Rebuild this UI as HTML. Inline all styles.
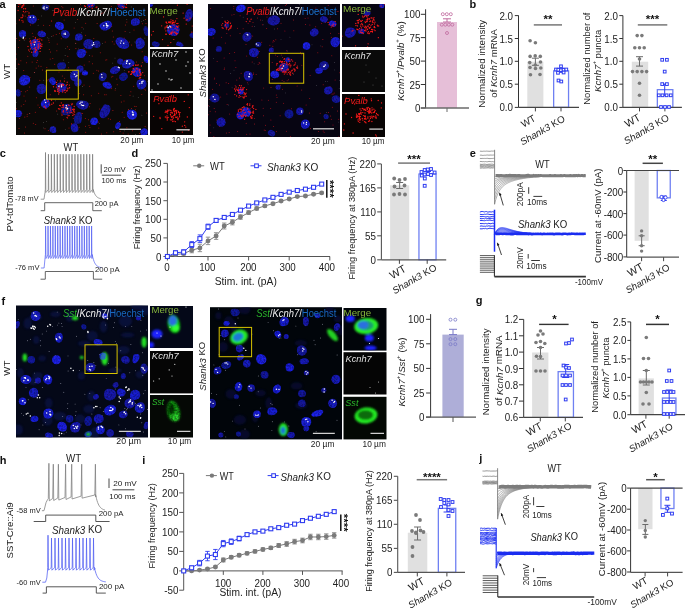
<!DOCTYPE html><html><head><meta charset="utf-8"><style>html,body{margin:0;padding:0;background:#fff;overflow:hidden}svg{display:block;will-change:transform}text{font-family:"Liberation Sans",sans-serif}</style></head><body>
<svg width="685" height="608" viewBox="0 0 685 608">
<defs><filter id="bl" x="-50%" y="-50%" width="200%" height="200%"><feGaussianBlur stdDeviation="0.7"/></filter><filter id="bl2" x="-50%" y="-50%" width="200%" height="200%"><feGaussianBlur stdDeviation="1.2"/></filter><filter id="bls" x="-50%" y="-50%" width="200%" height="200%"><feGaussianBlur stdDeviation="0.35"/></filter><filter id="tex" x="-10%" y="-10%" width="120%" height="120%"><feGaussianBlur in="SourceGraphic" stdDeviation="0.75" result="b"/><feTurbulence type="fractalNoise" baseFrequency="0.55" numOctaves="2" seed="4" result="n"/><feColorMatrix in="n" type="matrix" values="0 0 0 0 1 0 0 0 0 1 0 0 0 0 1 0 0 0 2.2 -0.55" result="na"/><feComposite in="b" in2="na" operator="in" result="c"/><feComposite in="c" in2="b" operator="arithmetic" k1="0" k2="0.4" k3="0.6" k4="0"/></filter><filter id="gtex" x="-20%" y="-20%" width="140%" height="140%"><feGaussianBlur in="SourceGraphic" stdDeviation="1.1" result="b"/><feTurbulence type="fractalNoise" baseFrequency="0.6" numOctaves="2" seed="9" result="n"/><feColorMatrix in="n" type="matrix" values="0 0 0 0 1 0 0 0 0 1 0 0 0 0 1 0 0 0 2.0 -0.45" result="na"/><feComposite in="b" in2="na" operator="in" result="c"/><feComposite in="c" in2="b" operator="arithmetic" k1="0" k2="0.5" k3="0.5" k4="0"/></filter></defs>
<rect width="685" height="608" fill="#fff"/>
<clipPath id="c1"><rect x="16" y="4" width="132" height="131"/></clipPath>
<rect x="16.00" y="4.00" width="132.00" height="131.00" fill="#0b0908" stroke="none" stroke-width="0" />
<g clip-path="url(#c1)">
<g fill="#d01818" opacity="0.85" filter="url(#bls)">
<circle cx="58.7" cy="23.8" r="0.5"/>
<circle cx="101.9" cy="13.5" r="0.5"/>
<circle cx="86.7" cy="51.9" r="0.5"/>
<circle cx="23.7" cy="70.5" r="0.5"/>
<circle cx="20.9" cy="60.8" r="0.5"/>
<circle cx="25.2" cy="15.9" r="0.5"/>
<circle cx="72.0" cy="112.3" r="0.5"/>
<circle cx="32.3" cy="33.2" r="0.5"/>
<circle cx="98.8" cy="128.1" r="0.5"/>
<circle cx="92.2" cy="56.0" r="0.5"/>
<circle cx="144.9" cy="10.1" r="0.5"/>
<circle cx="129.3" cy="41.9" r="0.5"/>
<circle cx="35.0" cy="19.4" r="0.5"/>
<circle cx="56.7" cy="110.9" r="0.5"/>
<circle cx="39.9" cy="80.2" r="0.5"/>
<circle cx="100.3" cy="52.8" r="0.5"/>
<circle cx="88.3" cy="12.2" r="0.5"/>
<circle cx="23.9" cy="31.0" r="0.5"/>
<circle cx="105.8" cy="60.0" r="0.5"/>
<circle cx="57.5" cy="80.7" r="0.5"/>
<circle cx="75.8" cy="43.3" r="0.5"/>
<circle cx="120.9" cy="95.6" r="0.5"/>
<circle cx="48.2" cy="79.2" r="0.5"/>
<circle cx="85.3" cy="118.6" r="0.5"/>
<circle cx="112.3" cy="41.7" r="0.5"/>
<circle cx="145.4" cy="19.5" r="0.5"/>
<circle cx="71.2" cy="103.2" r="0.5"/>
<circle cx="36.1" cy="68.1" r="0.5"/>
<circle cx="21.2" cy="91.5" r="0.5"/>
<circle cx="116.9" cy="79.1" r="0.5"/>
<circle cx="131.6" cy="45.1" r="0.5"/>
<circle cx="107.8" cy="81.9" r="0.5"/>
<circle cx="92.5" cy="63.8" r="0.5"/>
<circle cx="126.9" cy="127.8" r="0.5"/>
<circle cx="78.6" cy="91.0" r="0.5"/>
<circle cx="24.0" cy="95.9" r="0.5"/>
<circle cx="101.4" cy="134.1" r="0.5"/>
<circle cx="124.5" cy="41.3" r="0.5"/>
<circle cx="66.9" cy="91.6" r="0.5"/>
<circle cx="19.0" cy="64.5" r="0.5"/>
<circle cx="38.2" cy="19.3" r="0.5"/>
<circle cx="23.8" cy="104.6" r="0.5"/>
<circle cx="33.1" cy="36.4" r="0.5"/>
<circle cx="67.6" cy="118.2" r="0.5"/>
<circle cx="26.6" cy="62.8" r="0.5"/>
<circle cx="88.5" cy="119.7" r="0.5"/>
<circle cx="124.1" cy="117.2" r="0.5"/>
<circle cx="52.8" cy="58.4" r="0.5"/>
<circle cx="63.4" cy="119.8" r="0.5"/>
<circle cx="142.4" cy="23.8" r="0.5"/>
<circle cx="39.3" cy="34.4" r="0.5"/>
<circle cx="46.8" cy="67.5" r="0.5"/>
<circle cx="93.8" cy="38.4" r="0.5"/>
<circle cx="16.5" cy="58.9" r="0.5"/>
<circle cx="64.7" cy="78.2" r="0.5"/>
<circle cx="141.8" cy="94.5" r="0.5"/>
<circle cx="84.0" cy="84.9" r="0.5"/>
<circle cx="105.3" cy="11.1" r="0.5"/>
<circle cx="134.7" cy="106.2" r="0.5"/>
<circle cx="131.4" cy="108.5" r="0.5"/>
<circle cx="67.8" cy="56.3" r="0.5"/>
<circle cx="29.7" cy="87.1" r="0.5"/>
<circle cx="24.2" cy="12.8" r="0.5"/>
<circle cx="43.6" cy="25.3" r="0.5"/>
<circle cx="60.9" cy="10.9" r="0.5"/>
<circle cx="16.0" cy="23.8" r="0.5"/>
<circle cx="29.4" cy="51.6" r="0.5"/>
<circle cx="19.4" cy="118.5" r="0.5"/>
<circle cx="97.1" cy="23.5" r="0.5"/>
<circle cx="49.3" cy="49.5" r="0.5"/>
<circle cx="64.1" cy="20.1" r="0.5"/>
<circle cx="128.1" cy="134.1" r="0.5"/>
<circle cx="77.5" cy="67.4" r="0.5"/>
<circle cx="27.3" cy="17.4" r="0.5"/>
<circle cx="61.2" cy="38.7" r="0.5"/>
<circle cx="125.4" cy="25.1" r="0.5"/>
<circle cx="19.0" cy="128.6" r="0.5"/>
<circle cx="85.7" cy="23.2" r="0.5"/>
<circle cx="87.7" cy="7.5" r="0.5"/>
<circle cx="85.7" cy="132.2" r="0.5"/>
<circle cx="130.0" cy="95.2" r="0.5"/>
<circle cx="50.5" cy="52.0" r="0.5"/>
<circle cx="38.0" cy="105.1" r="0.5"/>
<circle cx="86.3" cy="106.1" r="0.5"/>
<circle cx="59.5" cy="33.2" r="0.5"/>
<circle cx="123.1" cy="133.0" r="0.5"/>
<circle cx="128.5" cy="109.6" r="0.5"/>
<circle cx="124.0" cy="100.9" r="0.5"/>
<circle cx="45.9" cy="71.8" r="0.5"/>
<circle cx="62.9" cy="7.8" r="0.5"/>
<circle cx="19.7" cy="40.6" r="0.5"/>
<circle cx="50.2" cy="94.7" r="0.5"/>
<circle cx="142.3" cy="62.6" r="0.5"/>
<circle cx="139.7" cy="133.4" r="0.5"/>
<circle cx="142.1" cy="51.8" r="0.5"/>
<circle cx="45.1" cy="33.7" r="0.5"/>
<circle cx="42.0" cy="30.8" r="0.5"/>
<circle cx="98.4" cy="121.9" r="0.5"/>
<circle cx="126.9" cy="66.8" r="0.5"/>
<circle cx="102.2" cy="108.8" r="0.5"/>
<circle cx="27.2" cy="90.5" r="0.5"/>
<circle cx="136.1" cy="106.5" r="0.5"/>
<circle cx="115.0" cy="66.6" r="0.5"/>
<circle cx="39.6" cy="107.4" r="0.5"/>
<circle cx="59.9" cy="108.9" r="0.5"/>
<circle cx="144.3" cy="55.9" r="0.5"/>
<circle cx="69.0" cy="128.0" r="0.5"/>
<circle cx="111.7" cy="26.3" r="0.5"/>
<circle cx="32.8" cy="23.8" r="0.5"/>
<circle cx="135.4" cy="109.7" r="0.5"/>
<circle cx="35.3" cy="112.3" r="0.5"/>
<circle cx="145.4" cy="90.1" r="0.5"/>
<circle cx="62.3" cy="75.9" r="0.5"/>
<circle cx="33.3" cy="5.9" r="0.5"/>
<circle cx="144.2" cy="89.1" r="0.5"/>
<circle cx="85.5" cy="126.3" r="0.5"/>
<circle cx="73.3" cy="118.2" r="0.5"/>
<circle cx="125.1" cy="31.6" r="0.5"/>
<circle cx="49.2" cy="42.4" r="0.5"/>
<circle cx="47.8" cy="80.8" r="0.5"/>
<circle cx="50.2" cy="58.9" r="0.5"/>
<circle cx="33.3" cy="123.2" r="0.5"/>
<circle cx="62.7" cy="64.0" r="0.5"/>
<circle cx="93.0" cy="122.5" r="0.5"/>
<circle cx="71.5" cy="124.2" r="0.5"/>
<circle cx="82.2" cy="73.7" r="0.5"/>
<circle cx="85.1" cy="6.5" r="0.5"/>
<circle cx="74.1" cy="28.0" r="0.5"/>
<circle cx="16.5" cy="108.7" r="0.5"/>
<circle cx="38.7" cy="66.0" r="0.5"/>
<circle cx="111.7" cy="76.9" r="0.5"/>
<circle cx="59.0" cy="71.9" r="0.5"/>
<circle cx="89.3" cy="106.7" r="0.5"/>
<circle cx="30.0" cy="77.4" r="0.5"/>
<circle cx="48.8" cy="40.3" r="0.5"/>
<circle cx="117.9" cy="70.5" r="0.5"/>
<circle cx="90.1" cy="103.6" r="0.5"/>
<circle cx="136.4" cy="62.1" r="0.5"/>
<circle cx="96.9" cy="70.2" r="0.5"/>
<circle cx="83.6" cy="94.7" r="0.5"/>
<circle cx="75.7" cy="73.9" r="0.5"/>
<circle cx="79.1" cy="127.3" r="0.5"/>
<circle cx="108.3" cy="118.8" r="0.5"/>
<circle cx="140.4" cy="38.0" r="0.5"/>
<circle cx="89.9" cy="127.6" r="0.5"/>
<circle cx="126.9" cy="22.0" r="0.5"/>
<circle cx="32.1" cy="61.9" r="0.5"/>
<circle cx="25.6" cy="35.5" r="0.5"/>
<circle cx="25.7" cy="91.7" r="0.5"/>
<circle cx="119.5" cy="121.5" r="0.5"/>
<circle cx="36.4" cy="97.8" r="0.5"/>
<circle cx="103.2" cy="22.7" r="0.5"/>
<circle cx="132.5" cy="130.7" r="0.5"/>
<circle cx="45.0" cy="128.8" r="0.5"/>
<circle cx="68.6" cy="67.8" r="0.5"/>
<circle cx="146.7" cy="113.1" r="0.5"/>
<circle cx="37.3" cy="60.5" r="0.5"/>
<circle cx="84.1" cy="48.4" r="0.5"/>
<circle cx="41.8" cy="45.7" r="0.5"/>
<circle cx="111.3" cy="6.6" r="0.5"/>
<circle cx="89.1" cy="61.7" r="0.5"/>
<circle cx="18.4" cy="47.4" r="0.5"/>
<circle cx="98.4" cy="71.1" r="0.5"/>
<circle cx="24.5" cy="133.0" r="0.5"/>
<circle cx="120.1" cy="131.3" r="0.5"/>
<circle cx="29.8" cy="38.8" r="0.5"/>
<circle cx="21.2" cy="106.0" r="0.5"/>
<circle cx="51.7" cy="21.0" r="0.5"/>
<circle cx="71.7" cy="123.4" r="0.5"/>
<circle cx="124.1" cy="37.9" r="0.5"/>
<circle cx="35.7" cy="124.4" r="0.5"/>
<circle cx="91.3" cy="95.8" r="0.5"/>
<circle cx="27.8" cy="11.5" r="0.5"/>
<circle cx="106.8" cy="59.7" r="0.5"/>
<circle cx="25.6" cy="126.9" r="0.5"/>
<circle cx="99.7" cy="109.0" r="0.5"/>
<circle cx="27.1" cy="116.2" r="0.5"/>
<circle cx="24.8" cy="117.0" r="0.5"/>
<circle cx="75.9" cy="48.4" r="0.5"/>
<circle cx="89.0" cy="125.4" r="0.5"/>
<circle cx="51.4" cy="20.9" r="0.5"/>
<circle cx="85.6" cy="35.2" r="0.5"/>
<circle cx="30.4" cy="25.1" r="0.5"/>
<circle cx="22.7" cy="30.4" r="0.5"/>
<circle cx="57.2" cy="44.0" r="0.5"/>
<circle cx="116.3" cy="42.0" r="0.5"/>
<circle cx="82.0" cy="27.3" r="0.5"/>
<circle cx="61.8" cy="6.4" r="0.5"/>
<circle cx="49.1" cy="6.0" r="0.5"/>
<circle cx="112.8" cy="76.2" r="0.5"/>
<circle cx="41.0" cy="66.2" r="0.5"/>
<circle cx="139.4" cy="17.9" r="0.5"/>
<circle cx="124.1" cy="60.6" r="0.5"/>
<circle cx="81.3" cy="113.3" r="0.5"/>
<circle cx="67.9" cy="70.4" r="0.5"/>
<circle cx="106.8" cy="132.7" r="0.5"/>
<circle cx="61.2" cy="113.0" r="0.5"/>
<circle cx="109.3" cy="87.3" r="0.5"/>
<circle cx="69.4" cy="49.5" r="0.5"/>
<circle cx="23.2" cy="21.0" r="0.5"/>
<circle cx="25.3" cy="101.1" r="0.5"/>
<circle cx="49.7" cy="25.4" r="0.5"/>
<circle cx="27.2" cy="114.2" r="0.5"/>
<circle cx="130.9" cy="91.8" r="0.5"/>
<circle cx="53.2" cy="35.7" r="0.5"/>
<circle cx="54.7" cy="64.2" r="0.5"/>
<circle cx="36.8" cy="62.4" r="0.5"/>
<circle cx="50.7" cy="130.0" r="0.5"/>
<circle cx="144.4" cy="75.7" r="0.5"/>
<circle cx="48.3" cy="130.5" r="0.5"/>
<circle cx="56.9" cy="50.7" r="0.5"/>
<circle cx="16.1" cy="54.0" r="0.5"/>
<circle cx="78.7" cy="69.9" r="0.5"/>
<circle cx="42.5" cy="70.1" r="0.5"/>
<circle cx="16.7" cy="38.6" r="0.5"/>
<circle cx="27.8" cy="56.3" r="0.5"/>
<circle cx="21.5" cy="6.9" r="0.5"/>
<circle cx="56.2" cy="34.5" r="0.5"/>
<circle cx="93.3" cy="73.3" r="0.5"/>
<circle cx="115.1" cy="90.1" r="0.5"/>
<circle cx="110.5" cy="119.2" r="0.5"/>
<circle cx="67.4" cy="46.7" r="0.5"/>
<circle cx="146.0" cy="23.6" r="0.5"/>
<circle cx="111.6" cy="88.3" r="0.5"/>
<circle cx="21.8" cy="113.4" r="0.5"/>
<circle cx="133.7" cy="86.2" r="0.5"/>
<circle cx="112.9" cy="110.4" r="0.5"/>
<circle cx="34.4" cy="72.6" r="0.5"/>
<circle cx="82.6" cy="113.4" r="0.5"/>
<circle cx="122.2" cy="112.3" r="0.5"/>
<circle cx="93.1" cy="121.0" r="0.5"/>
<circle cx="106.1" cy="94.8" r="0.5"/>
<circle cx="46.4" cy="8.1" r="0.5"/>
<circle cx="33.6" cy="51.3" r="0.5"/>
<circle cx="29.8" cy="113.5" r="0.5"/>
<circle cx="89.7" cy="86.2" r="0.5"/>
<circle cx="98.7" cy="93.2" r="0.5"/>
<circle cx="80.6" cy="4.4" r="0.5"/>
<circle cx="121.3" cy="102.0" r="0.5"/>
<circle cx="82.4" cy="74.1" r="0.5"/>
<circle cx="103.0" cy="12.7" r="0.5"/>
<circle cx="113.3" cy="37.0" r="0.5"/>
<circle cx="25.8" cy="38.8" r="0.5"/>
<circle cx="112.3" cy="30.9" r="0.5"/>
<circle cx="113.7" cy="131.8" r="0.5"/>
<circle cx="81.2" cy="54.1" r="0.5"/>
<circle cx="79.2" cy="93.6" r="0.5"/>
<circle cx="117.2" cy="84.8" r="0.5"/>
<circle cx="100.8" cy="14.1" r="0.5"/>
<circle cx="35.5" cy="37.3" r="0.5"/>
<circle cx="114.1" cy="43.9" r="0.5"/>
<circle cx="90.9" cy="5.6" r="0.5"/>
<circle cx="24.0" cy="39.2" r="0.5"/>
<circle cx="104.7" cy="94.7" r="0.5"/>
<circle cx="105.2" cy="42.1" r="0.5"/>
<circle cx="84.2" cy="64.9" r="0.5"/>
<circle cx="77.6" cy="19.5" r="0.5"/>
<circle cx="134.0" cy="30.1" r="0.5"/>
<circle cx="145.1" cy="126.6" r="0.5"/>
<circle cx="18.3" cy="64.1" r="0.5"/>
</g>
<g fill="#9a9a9a" opacity="0.8" filter="url(#bls)">
<circle cx="124.2" cy="130.8" r="0.4"/>
<circle cx="75.3" cy="39.2" r="0.4"/>
<circle cx="43.7" cy="127.9" r="0.4"/>
<circle cx="43.8" cy="80.2" r="0.4"/>
<circle cx="34.7" cy="72.7" r="0.4"/>
<circle cx="141.8" cy="21.4" r="0.4"/>
<circle cx="124.3" cy="70.6" r="0.4"/>
<circle cx="133.1" cy="96.1" r="0.4"/>
<circle cx="46.5" cy="121.6" r="0.4"/>
<circle cx="80.2" cy="7.3" r="0.4"/>
<circle cx="16.5" cy="68.4" r="0.4"/>
<circle cx="75.5" cy="43.6" r="0.4"/>
<circle cx="34.6" cy="49.1" r="0.4"/>
<circle cx="57.7" cy="114.1" r="0.4"/>
<circle cx="16.2" cy="102.3" r="0.4"/>
<circle cx="126.8" cy="19.7" r="0.4"/>
<circle cx="138.3" cy="97.4" r="0.4"/>
<circle cx="135.0" cy="42.0" r="0.4"/>
<circle cx="65.1" cy="55.5" r="0.4"/>
<circle cx="147.8" cy="81.2" r="0.4"/>
<circle cx="63.6" cy="60.1" r="0.4"/>
<circle cx="52.3" cy="10.3" r="0.4"/>
<circle cx="29.4" cy="113.3" r="0.4"/>
<circle cx="53.7" cy="126.6" r="0.4"/>
<circle cx="48.9" cy="38.8" r="0.4"/>
<circle cx="83.4" cy="28.9" r="0.4"/>
<circle cx="65.3" cy="129.3" r="0.4"/>
<circle cx="132.7" cy="110.4" r="0.4"/>
<circle cx="99.3" cy="123.7" r="0.4"/>
<circle cx="140.2" cy="75.9" r="0.4"/>
<circle cx="111.0" cy="10.5" r="0.4"/>
<circle cx="112.7" cy="63.1" r="0.4"/>
<circle cx="115.4" cy="88.4" r="0.4"/>
<circle cx="53.8" cy="10.4" r="0.4"/>
<circle cx="138.3" cy="20.7" r="0.4"/>
<circle cx="78.3" cy="49.0" r="0.4"/>
<circle cx="55.3" cy="100.8" r="0.4"/>
<circle cx="144.9" cy="38.1" r="0.4"/>
<circle cx="102.6" cy="43.4" r="0.4"/>
<circle cx="89.6" cy="55.7" r="0.4"/>
<circle cx="38.1" cy="25.2" r="0.4"/>
<circle cx="43.4" cy="122.7" r="0.4"/>
<circle cx="81.6" cy="32.8" r="0.4"/>
<circle cx="135.6" cy="134.5" r="0.4"/>
<circle cx="75.4" cy="22.3" r="0.4"/>
<circle cx="41.4" cy="15.9" r="0.4"/>
<circle cx="61.1" cy="15.9" r="0.4"/>
<circle cx="47.6" cy="37.8" r="0.4"/>
<circle cx="91.2" cy="120.2" r="0.4"/>
<circle cx="115.0" cy="58.1" r="0.4"/>
<circle cx="70.6" cy="72.7" r="0.4"/>
<circle cx="65.7" cy="48.3" r="0.4"/>
<circle cx="24.2" cy="40.4" r="0.4"/>
<circle cx="143.7" cy="20.5" r="0.4"/>
<circle cx="82.4" cy="86.5" r="0.4"/>
<circle cx="129.9" cy="32.3" r="0.4"/>
<circle cx="51.8" cy="36.5" r="0.4"/>
<circle cx="68.8" cy="62.4" r="0.4"/>
<circle cx="141.9" cy="115.2" r="0.4"/>
<circle cx="131.2" cy="6.9" r="0.4"/>
</g>
<g filter="url(#tex)" opacity="1.0">
<ellipse cx="45.3" cy="7.3" rx="3.7" ry="3.0" fill="rgb(17,21,161)" transform="rotate(15 45.3 7.3)"/>
<ellipse cx="46.3" cy="7.2" rx="2.8" ry="2.4" fill="rgb(17,21,161)"/>
<ellipse cx="32.3" cy="19.2" rx="4.5" ry="4.5" fill="rgb(23,28,212)" transform="rotate(0 32.3 19.2)"/>
<ellipse cx="30.7" cy="18.9" rx="3.4" ry="3.6" fill="rgb(23,28,212)"/>
<ellipse cx="59.4" cy="25.7" rx="4.5" ry="3.7" fill="rgb(26,32,243)" transform="rotate(23 59.4 25.7)"/>
<ellipse cx="60.5" cy="26.9" rx="3.4" ry="3.0" fill="rgb(26,32,243)"/>
<ellipse cx="65.5" cy="34.4" rx="4.2" ry="4.2" fill="rgb(19,24,180)" transform="rotate(0 65.5 34.4)"/>
<ellipse cx="64.3" cy="33.4" rx="3.2" ry="3.4" fill="rgb(19,24,180)"/>
<ellipse cx="41.6" cy="34.0" rx="4.0" ry="3.2" fill="rgb(22,27,206)" transform="rotate(13 41.6 34.0)"/>
<ellipse cx="42.9" cy="34.5" rx="3.0" ry="2.6" fill="rgb(22,27,206)"/>
<ellipse cx="22.5" cy="34.0" rx="3.7" ry="3.7" fill="rgb(23,29,217)" transform="rotate(0 22.5 34.0)"/>
<ellipse cx="23.2" cy="33.8" rx="2.8" ry="3.0" fill="rgb(23,29,217)"/>
<ellipse cx="79.0" cy="37.0" rx="3.7" ry="3.5" fill="rgb(22,27,208)" transform="rotate(0 79.0 37.0)"/>
<ellipse cx="77.8" cy="37.7" rx="2.8" ry="2.8" fill="rgb(22,27,208)"/>
<ellipse cx="88.7" cy="44.2" rx="5.5" ry="5.0" fill="rgb(19,23,179)" transform="rotate(29 88.7 44.2)"/>
<ellipse cx="89.3" cy="43.5" rx="4.1" ry="4.0" fill="rgb(19,23,179)"/>
<ellipse cx="96.8" cy="44.2" rx="3.7" ry="3.7" fill="rgb(18,22,169)" transform="rotate(0 96.8 44.2)"/>
<ellipse cx="96.1" cy="44.5" rx="2.8" ry="3.0" fill="rgb(18,22,169)"/>
<ellipse cx="106.1" cy="25.7" rx="6.2" ry="4.5" fill="rgb(24,29,222)" transform="rotate(-27 106.1 25.7)"/>
<ellipse cx="104.2" cy="25.8" rx="4.7" ry="3.6" fill="rgb(24,29,222)"/>
<ellipse cx="135.4" cy="22.0" rx="4.5" ry="3.7" fill="rgb(23,28,211)" transform="rotate(-8 135.4 22.0)"/>
<ellipse cx="134.5" cy="22.3" rx="3.4" ry="3.0" fill="rgb(23,28,211)"/>
<ellipse cx="146.3" cy="31.1" rx="2.5" ry="5.0" fill="rgb(17,21,159)" transform="rotate(-14 146.3 31.1)"/>
<ellipse cx="122.4" cy="43.1" rx="7.5" ry="5.0" fill="rgb(22,26,200)" transform="rotate(32 122.4 43.1)"/>
<ellipse cx="123.1" cy="44.4" rx="5.6" ry="4.0" fill="rgb(22,26,200)"/>
<ellipse cx="140.2" cy="43.1" rx="4.5" ry="5.5" fill="rgb(22,26,201)" transform="rotate(-19 140.2 43.1)"/>
<ellipse cx="139.4" cy="44.9" rx="3.4" ry="4.4" fill="rgb(22,26,201)"/>
<ellipse cx="35.5" cy="45.3" rx="5.5" ry="5.5" fill="rgb(24,29,222)" transform="rotate(0 35.5 45.3)"/>
<ellipse cx="34.8" cy="43.4" rx="4.1" ry="4.4" fill="rgb(24,29,222)"/>
<ellipse cx="35.5" cy="53.5" rx="3.0" ry="3.7" fill="rgb(22,27,203)" transform="rotate(12 35.5 53.5)"/>
<ellipse cx="35.4" cy="52.9" rx="2.2" ry="3.0" fill="rgb(22,27,203)"/>
<ellipse cx="81.1" cy="53.5" rx="4.5" ry="4.5" fill="rgb(24,29,219)" transform="rotate(0 81.1 53.5)"/>
<ellipse cx="82.5" cy="52.6" rx="3.4" ry="3.6" fill="rgb(24,29,219)"/>
<ellipse cx="61.6" cy="65.9" rx="4.5" ry="3.7" fill="rgb(17,21,161)" transform="rotate(-11 61.6 65.9)"/>
<ellipse cx="61.3" cy="66.4" rx="3.4" ry="3.0" fill="rgb(17,21,161)"/>
<ellipse cx="120.2" cy="61.5" rx="3.0" ry="3.0" fill="rgb(19,23,176)" transform="rotate(0 120.2 61.5)"/>
<ellipse cx="120.8" cy="62.0" rx="2.2" ry="2.4" fill="rgb(19,23,176)"/>
<ellipse cx="127.8" cy="63.7" rx="6.2" ry="4.5" fill="rgb(22,27,204)" transform="rotate(-21 127.8 63.7)"/>
<ellipse cx="129.9" cy="63.1" rx="4.7" ry="3.6" fill="rgb(22,27,204)"/>
<ellipse cx="146.3" cy="59.4" rx="2.5" ry="3.7" fill="rgb(25,31,233)" transform="rotate(-19 146.3 59.4)"/>
<ellipse cx="80.0" cy="69.1" rx="3.5" ry="3.5" fill="rgb(19,23,178)" transform="rotate(0 80.0 69.1)"/>
<ellipse cx="80.7" cy="68.6" rx="2.6" ry="2.8" fill="rgb(19,23,178)"/>
<ellipse cx="85.0" cy="73.0" rx="3.0" ry="2.5" fill="rgb(26,32,245)" transform="rotate(-0 85.0 73.0)"/>
<ellipse cx="84.4" cy="72.6" rx="2.2" ry="2.0" fill="rgb(26,32,245)"/>
<ellipse cx="74.6" cy="75.6" rx="4.5" ry="5.5" fill="rgb(21,26,196)" transform="rotate(12 74.6 75.6)"/>
<ellipse cx="76.0" cy="74.3" rx="3.4" ry="4.4" fill="rgb(21,26,196)"/>
<ellipse cx="114.8" cy="70.2" rx="5.0" ry="3.7" fill="rgb(21,25,194)" transform="rotate(-20 114.8 70.2)"/>
<ellipse cx="116.4" cy="69.3" rx="3.7" ry="3.0" fill="rgb(21,25,194)"/>
<ellipse cx="123.5" cy="76.7" rx="4.5" ry="3.7" fill="rgb(17,21,162)" transform="rotate(-31 123.5 76.7)"/>
<ellipse cx="123.1" cy="77.8" rx="3.4" ry="3.0" fill="rgb(17,21,162)"/>
<ellipse cx="136.5" cy="71.7" rx="4.5" ry="4.5" fill="rgb(26,31,239)" transform="rotate(0 136.5 71.7)"/>
<ellipse cx="137.2" cy="73.3" rx="3.4" ry="3.6" fill="rgb(26,31,239)"/>
<ellipse cx="24.7" cy="80.0" rx="5.5" ry="5.0" fill="rgb(26,32,243)" transform="rotate(-12 24.7 80.0)"/>
<ellipse cx="23.5" cy="81.5" rx="4.1" ry="4.0" fill="rgb(26,32,243)"/>
<ellipse cx="52.5" cy="81.1" rx="3.0" ry="4.0" fill="rgb(24,30,226)" transform="rotate(-33 52.5 81.1)"/>
<ellipse cx="52.8" cy="80.7" rx="2.2" ry="3.2" fill="rgb(24,30,226)"/>
<ellipse cx="61.6" cy="87.6" rx="5.0" ry="4.5" fill="rgb(21,25,192)" transform="rotate(-12 61.6 87.6)"/>
<ellipse cx="60.4" cy="86.0" rx="3.7" ry="3.6" fill="rgb(21,25,192)"/>
<ellipse cx="77.9" cy="82.2" rx="3.7" ry="3.7" fill="rgb(20,24,183)" transform="rotate(0 77.9 82.2)"/>
<ellipse cx="77.5" cy="83.4" rx="2.8" ry="3.0" fill="rgb(20,24,183)"/>
<ellipse cx="102.8" cy="76.7" rx="3.7" ry="4.5" fill="rgb(18,22,169)" transform="rotate(32 102.8 76.7)"/>
<ellipse cx="102.1" cy="76.3" rx="2.8" ry="3.6" fill="rgb(18,22,169)"/>
<ellipse cx="107.2" cy="85.4" rx="5.0" ry="3.0" fill="rgb(25,31,233)" transform="rotate(23 107.2 85.4)"/>
<ellipse cx="106.9" cy="84.5" rx="3.7" ry="2.4" fill="rgb(25,31,233)"/>
<ellipse cx="141.5" cy="83.9" rx="5.0" ry="5.0" fill="rgb(22,26,201)" transform="rotate(0 141.5 83.9)"/>
<ellipse cx="141.0" cy="85.4" rx="3.7" ry="4.0" fill="rgb(22,26,201)"/>
<ellipse cx="41.6" cy="88.7" rx="5.0" ry="5.0" fill="rgb(19,23,175)" transform="rotate(0 41.6 88.7)"/>
<ellipse cx="41.1" cy="90.1" rx="3.7" ry="4.0" fill="rgb(19,23,175)"/>
<ellipse cx="18.2" cy="93.0" rx="2.5" ry="3.7" fill="rgb(17,21,160)" transform="rotate(-6 18.2 93.0)"/>
<ellipse cx="45.3" cy="103.9" rx="4.5" ry="4.5" fill="rgb(25,31,232)" transform="rotate(0 45.3 103.9)"/>
<ellipse cx="46.1" cy="102.4" rx="3.4" ry="3.6" fill="rgb(25,31,232)"/>
<ellipse cx="67.0" cy="109.3" rx="5.5" ry="5.5" fill="rgb(17,21,161)" transform="rotate(0 67.0 109.3)"/>
<ellipse cx="65.3" cy="110.9" rx="4.1" ry="4.4" fill="rgb(17,21,161)"/>
<ellipse cx="82.2" cy="105.0" rx="6.2" ry="4.5" fill="rgb(19,24,181)" transform="rotate(17 82.2 105.0)"/>
<ellipse cx="84.0" cy="104.4" rx="4.7" ry="3.6" fill="rgb(19,24,181)"/>
<ellipse cx="105.0" cy="111.5" rx="4.5" ry="7.5" fill="rgb(20,24,183)" transform="rotate(32 105.0 111.5)"/>
<ellipse cx="105.4" cy="110.2" rx="3.4" ry="6.0" fill="rgb(20,24,183)"/>
<ellipse cx="18.2" cy="113.6" rx="3.7" ry="3.7" fill="rgb(24,29,223)" transform="rotate(0 18.2 113.6)"/>
<ellipse cx="17.7" cy="113.1" rx="2.8" ry="3.0" fill="rgb(24,29,223)"/>
<ellipse cx="77.9" cy="118.0" rx="3.7" ry="6.2" fill="rgb(17,21,158)" transform="rotate(18 77.9 118.0)"/>
<ellipse cx="79.0" cy="118.6" rx="2.8" ry="5.0" fill="rgb(17,21,158)"/>
<ellipse cx="132.2" cy="114.7" rx="5.0" ry="5.0" fill="rgb(26,32,244)" transform="rotate(0 132.2 114.7)"/>
<ellipse cx="130.5" cy="113.8" rx="3.7" ry="4.0" fill="rgb(26,32,244)"/>
<ellipse cx="52.9" cy="129.5" rx="3.2" ry="3.2" fill="rgb(22,26,201)" transform="rotate(0 52.9 129.5)"/>
<ellipse cx="53.9" cy="130.5" rx="2.4" ry="2.6" fill="rgb(22,26,201)"/>
<ellipse cx="74.6" cy="127.8" rx="3.7" ry="4.5" fill="rgb(21,25,193)" transform="rotate(-17 74.6 127.8)"/>
<ellipse cx="74.4" cy="127.7" rx="2.8" ry="3.6" fill="rgb(21,25,193)"/>
<ellipse cx="94.2" cy="121.2" rx="3.7" ry="3.7" fill="rgb(26,32,243)" transform="rotate(0 94.2 121.2)"/>
<ellipse cx="93.3" cy="122.0" rx="2.8" ry="3.0" fill="rgb(26,32,243)"/>
<ellipse cx="118.0" cy="125.6" rx="2.5" ry="3.7" fill="rgb(24,30,225)" transform="rotate(23 118.0 125.6)"/>
<ellipse cx="144.1" cy="132.1" rx="3.7" ry="3.7" fill="rgb(25,30,229)" transform="rotate(0 144.1 132.1)"/>
<ellipse cx="144.4" cy="131.6" rx="2.8" ry="3.0" fill="rgb(25,30,229)"/>
<ellipse cx="90.9" cy="5.1" rx="3.7" ry="2.5" fill="rgb(20,24,187)" transform="rotate(-10 90.9 5.1)"/>
<ellipse cx="91.6" cy="4.3" rx="2.8" ry="2.0" fill="rgb(20,24,187)"/>
<ellipse cx="121.3" cy="6.2" rx="3.7" ry="2.5" fill="rgb(19,23,176)" transform="rotate(18 121.3 6.2)"/>
<ellipse cx="120.6" cy="5.4" rx="2.8" ry="2.0" fill="rgb(19,23,176)"/>
</g>
<g fill="#ff1a1a" opacity="0.9" filter="url(#bls)">
<circle cx="41.7" cy="46.5" r="0.68"/>
<circle cx="31.7" cy="52.2" r="0.68"/>
<circle cx="41.8" cy="40.0" r="0.68"/>
<circle cx="35.3" cy="47.7" r="0.68"/>
<circle cx="40.5" cy="48.4" r="0.68"/>
<circle cx="34.1" cy="40.1" r="0.68"/>
<circle cx="36.1" cy="50.4" r="0.68"/>
<circle cx="30.5" cy="40.8" r="0.68"/>
<circle cx="35.4" cy="38.0" r="0.68"/>
<circle cx="34.0" cy="42.8" r="0.68"/>
<circle cx="38.1" cy="41.6" r="0.68"/>
<circle cx="30.8" cy="43.3" r="0.68"/>
<circle cx="35.2" cy="41.6" r="0.68"/>
<circle cx="35.6" cy="49.2" r="0.68"/>
<circle cx="40.1" cy="51.4" r="0.68"/>
<circle cx="31.2" cy="43.1" r="0.68"/>
<circle cx="28.8" cy="50.0" r="0.68"/>
<circle cx="31.4" cy="45.1" r="0.68"/>
<circle cx="38.0" cy="39.3" r="0.68"/>
<circle cx="38.4" cy="45.1" r="0.68"/>
<circle cx="28.0" cy="46.4" r="0.68"/>
<circle cx="39.9" cy="38.9" r="0.68"/>
<circle cx="40.1" cy="46.3" r="0.68"/>
<circle cx="38.3" cy="47.7" r="0.68"/>
<circle cx="41.9" cy="44.2" r="0.68"/>
<circle cx="40.3" cy="43.2" r="0.68"/>
<circle cx="39.4" cy="41.3" r="0.68"/>
<circle cx="35.1" cy="52.2" r="0.68"/>
<circle cx="38.3" cy="44.3" r="0.68"/>
<circle cx="30.0" cy="41.7" r="0.68"/>
<circle cx="36.6" cy="50.0" r="0.68"/>
<circle cx="38.0" cy="48.1" r="0.68"/>
<circle cx="35.3" cy="51.4" r="0.68"/>
<circle cx="33.3" cy="42.3" r="0.68"/>
<circle cx="40.4" cy="45.6" r="0.68"/>
<circle cx="33.9" cy="42.1" r="0.68"/>
<circle cx="34.0" cy="48.6" r="0.68"/>
<circle cx="37.3" cy="39.6" r="0.68"/>
<circle cx="38.2" cy="46.3" r="0.68"/>
<circle cx="30.5" cy="48.9" r="0.68"/>
<circle cx="59.8" cy="85.8" r="0.68"/>
<circle cx="65.2" cy="92.6" r="0.68"/>
<circle cx="57.7" cy="89.6" r="0.68"/>
<circle cx="58.7" cy="94.0" r="0.68"/>
<circle cx="59.1" cy="92.5" r="0.68"/>
<circle cx="58.2" cy="91.2" r="0.68"/>
<circle cx="67.2" cy="82.3" r="0.68"/>
<circle cx="59.1" cy="90.0" r="0.68"/>
<circle cx="61.1" cy="84.4" r="0.68"/>
<circle cx="69.6" cy="87.8" r="0.68"/>
<circle cx="54.8" cy="90.5" r="0.68"/>
<circle cx="55.0" cy="91.3" r="0.68"/>
<circle cx="58.2" cy="88.3" r="0.68"/>
<circle cx="67.9" cy="88.1" r="0.68"/>
<circle cx="56.5" cy="82.4" r="0.68"/>
<circle cx="67.3" cy="90.6" r="0.68"/>
<circle cx="57.4" cy="91.2" r="0.68"/>
<circle cx="64.4" cy="90.6" r="0.68"/>
<circle cx="53.5" cy="86.7" r="0.68"/>
<circle cx="66.2" cy="90.7" r="0.68"/>
<circle cx="64.4" cy="81.1" r="0.68"/>
<circle cx="62.6" cy="90.1" r="0.68"/>
<circle cx="69.4" cy="85.1" r="0.68"/>
<circle cx="59.4" cy="87.8" r="0.68"/>
<circle cx="66.4" cy="85.6" r="0.68"/>
<circle cx="67.1" cy="84.4" r="0.68"/>
<circle cx="63.2" cy="85.0" r="0.68"/>
<circle cx="62.5" cy="84.3" r="0.68"/>
<circle cx="55.2" cy="91.3" r="0.68"/>
<circle cx="63.4" cy="84.9" r="0.68"/>
<circle cx="62.7" cy="92.0" r="0.68"/>
<circle cx="56.3" cy="87.1" r="0.68"/>
<circle cx="64.7" cy="90.1" r="0.68"/>
<circle cx="60.3" cy="81.0" r="0.68"/>
<circle cx="67.8" cy="88.9" r="0.68"/>
<circle cx="61.7" cy="86.0" r="0.68"/>
<circle cx="63.2" cy="85.4" r="0.68"/>
<circle cx="56.5" cy="84.5" r="0.68"/>
<circle cx="133.4" cy="68.8" r="0.68"/>
<circle cx="131.2" cy="74.4" r="0.68"/>
<circle cx="130.7" cy="74.4" r="0.68"/>
<circle cx="131.5" cy="73.3" r="0.68"/>
<circle cx="142.7" cy="72.6" r="0.68"/>
<circle cx="132.6" cy="72.0" r="0.68"/>
<circle cx="137.1" cy="65.3" r="0.68"/>
<circle cx="133.2" cy="72.6" r="0.68"/>
<circle cx="133.8" cy="72.2" r="0.68"/>
<circle cx="140.1" cy="75.2" r="0.68"/>
<circle cx="140.9" cy="74.4" r="0.68"/>
<circle cx="134.7" cy="71.6" r="0.68"/>
<circle cx="134.9" cy="70.0" r="0.68"/>
<circle cx="135.8" cy="65.3" r="0.68"/>
<circle cx="134.5" cy="71.6" r="0.68"/>
<circle cx="131.6" cy="71.6" r="0.68"/>
<circle cx="139.4" cy="70.9" r="0.68"/>
<circle cx="141.4" cy="66.0" r="0.68"/>
<circle cx="135.7" cy="65.1" r="0.68"/>
<circle cx="139.2" cy="78.6" r="0.68"/>
<circle cx="128.8" cy="72.1" r="0.68"/>
<circle cx="139.4" cy="70.2" r="0.68"/>
<circle cx="138.3" cy="64.9" r="0.68"/>
<circle cx="140.8" cy="73.5" r="0.68"/>
<circle cx="136.6" cy="68.7" r="0.68"/>
<circle cx="139.9" cy="69.4" r="0.68"/>
<circle cx="137.7" cy="69.1" r="0.68"/>
<circle cx="128.9" cy="71.6" r="0.68"/>
<circle cx="137.6" cy="75.4" r="0.68"/>
<circle cx="132.0" cy="71.6" r="0.68"/>
<circle cx="139.9" cy="72.5" r="0.68"/>
<circle cx="140.5" cy="77.8" r="0.68"/>
<circle cx="133.3" cy="65.5" r="0.68"/>
<circle cx="139.9" cy="77.4" r="0.68"/>
<circle cx="140.8" cy="75.3" r="0.68"/>
<circle cx="133.4" cy="68.4" r="0.68"/>
<circle cx="71.7" cy="104.8" r="0.68"/>
<circle cx="59.6" cy="105.5" r="0.68"/>
<circle cx="74.1" cy="114.5" r="0.68"/>
<circle cx="63.1" cy="105.4" r="0.68"/>
<circle cx="68.4" cy="105.1" r="0.68"/>
<circle cx="73.9" cy="108.9" r="0.68"/>
<circle cx="62.0" cy="115.0" r="0.68"/>
<circle cx="63.4" cy="110.6" r="0.68"/>
<circle cx="66.9" cy="107.2" r="0.68"/>
<circle cx="69.0" cy="105.4" r="0.68"/>
<circle cx="61.3" cy="102.9" r="0.68"/>
<circle cx="60.7" cy="105.7" r="0.68"/>
<circle cx="66.6" cy="110.3" r="0.68"/>
<circle cx="70.6" cy="110.0" r="0.68"/>
<circle cx="62.6" cy="105.6" r="0.68"/>
<circle cx="58.5" cy="108.7" r="0.68"/>
<circle cx="70.0" cy="112.3" r="0.68"/>
<circle cx="66.0" cy="108.0" r="0.68"/>
<circle cx="72.5" cy="109.4" r="0.68"/>
<circle cx="71.3" cy="112.5" r="0.68"/>
<circle cx="68.1" cy="115.7" r="0.68"/>
<circle cx="63.5" cy="107.2" r="0.68"/>
<circle cx="62.6" cy="105.2" r="0.68"/>
<circle cx="72.8" cy="115.4" r="0.68"/>
<circle cx="67.2" cy="112.7" r="0.68"/>
<circle cx="73.0" cy="113.1" r="0.68"/>
<circle cx="72.5" cy="103.9" r="0.68"/>
<circle cx="63.2" cy="111.9" r="0.68"/>
<circle cx="74.3" cy="109.8" r="0.68"/>
<circle cx="62.0" cy="107.4" r="0.68"/>
<circle cx="63.3" cy="104.8" r="0.68"/>
<circle cx="74.2" cy="106.5" r="0.68"/>
<circle cx="67.1" cy="117.4" r="0.68"/>
<circle cx="73.4" cy="111.0" r="0.68"/>
<circle cx="63.3" cy="111.6" r="0.68"/>
<circle cx="74.5" cy="112.0" r="0.68"/>
<circle cx="73.7" cy="109.8" r="0.68"/>
<circle cx="70.3" cy="108.1" r="0.68"/>
<circle cx="69.2" cy="115.6" r="0.68"/>
<circle cx="59.8" cy="109.0" r="0.68"/>
<circle cx="23.7" cy="8.8" r="0.68"/>
<circle cx="21.1" cy="17.8" r="0.68"/>
<circle cx="28.9" cy="15.5" r="0.68"/>
<circle cx="23.7" cy="4.5" r="0.68"/>
<circle cx="29.0" cy="13.0" r="0.68"/>
<circle cx="22.4" cy="5.9" r="0.68"/>
<circle cx="22.3" cy="6.0" r="0.68"/>
<circle cx="22.9" cy="16.0" r="0.68"/>
<circle cx="22.7" cy="14.9" r="0.68"/>
<circle cx="19.4" cy="20.0" r="0.68"/>
<circle cx="20.3" cy="4.1" r="0.68"/>
<circle cx="21.6" cy="7.6" r="0.68"/>
<circle cx="18.1" cy="10.5" r="0.68"/>
<circle cx="23.7" cy="5.7" r="0.68"/>
<circle cx="22.0" cy="20.6" r="0.68"/>
<circle cx="25.8" cy="11.7" r="0.68"/>
<circle cx="23.4" cy="11.5" r="0.68"/>
<circle cx="22.3" cy="17.6" r="0.68"/>
<circle cx="22.2" cy="3.1" r="0.68"/>
<circle cx="22.4" cy="7.0" r="0.68"/>
<circle cx="25.5" cy="8.8" r="0.68"/>
<circle cx="23.0" cy="22.1" r="0.68"/>
<circle cx="18.5" cy="6.6" r="0.68"/>
<circle cx="19.0" cy="4.3" r="0.68"/>
<circle cx="84.5" cy="5.8" r="0.68"/>
<circle cx="88.8" cy="1.4" r="0.68"/>
<circle cx="85.3" cy="6.5" r="0.68"/>
<circle cx="87.3" cy="4.1" r="0.68"/>
<circle cx="92.2" cy="8.3" r="0.68"/>
<circle cx="96.9" cy="7.0" r="0.68"/>
<circle cx="91.8" cy="5.8" r="0.68"/>
<circle cx="96.2" cy="7.6" r="0.68"/>
<circle cx="89.4" cy="6.5" r="0.68"/>
<circle cx="92.5" cy="5.3" r="0.68"/>
<circle cx="88.9" cy="1.9" r="0.68"/>
<circle cx="88.9" cy="1.6" r="0.68"/>
<circle cx="125.7" cy="7.2" r="0.68"/>
<circle cx="117.6" cy="8.5" r="0.68"/>
<circle cx="123.8" cy="3.3" r="0.68"/>
<circle cx="126.6" cy="7.4" r="0.68"/>
<circle cx="126.5" cy="4.5" r="0.68"/>
<circle cx="123.6" cy="7.2" r="0.68"/>
<circle cx="122.3" cy="6.6" r="0.68"/>
<circle cx="124.5" cy="3.7" r="0.68"/>
<circle cx="117.5" cy="3.9" r="0.68"/>
<circle cx="119.0" cy="4.8" r="0.68"/>
<circle cx="49.8" cy="105.0" r="0.68"/>
<circle cx="47.7" cy="101.3" r="0.68"/>
<circle cx="45.1" cy="107.2" r="0.68"/>
<circle cx="51.8" cy="104.3" r="0.68"/>
<circle cx="46.0" cy="108.6" r="0.68"/>
<circle cx="44.2" cy="106.3" r="0.68"/>
<circle cx="53.4" cy="103.0" r="0.68"/>
<circle cx="51.5" cy="100.3" r="0.68"/>
</g>
<g fill="#ffffff" opacity="1.0" filter="url(#bls)">
<circle cx="46.9" cy="7.5" r="0.7"/>
<circle cx="43.2" cy="8.0" r="0.7"/>
<circle cx="44.1" cy="8.8" r="0.7"/>
<circle cx="44.1" cy="7.0" r="0.7"/>
<circle cx="106.6" cy="25.2" r="0.7"/>
<circle cx="106.6" cy="24.9" r="0.7"/>
<circle cx="107.3" cy="25.7" r="0.7"/>
<circle cx="106.3" cy="23.5" r="0.7"/>
<circle cx="107.9" cy="25.8" r="0.7"/>
<circle cx="103.8" cy="25.8" r="0.7"/>
<circle cx="106.8" cy="27.1" r="0.7"/>
<circle cx="64.1" cy="33.9" r="0.7"/>
<circle cx="65.3" cy="34.4" r="0.7"/>
<circle cx="65.2" cy="33.2" r="0.7"/>
<circle cx="127.2" cy="61.1" r="0.7"/>
<circle cx="129.4" cy="63.7" r="0.7"/>
<circle cx="129.8" cy="63.6" r="0.7"/>
<circle cx="127.1" cy="60.8" r="0.7"/>
<circle cx="126.7" cy="61.7" r="0.7"/>
<circle cx="126.5" cy="63.4" r="0.7"/>
<circle cx="142.1" cy="81.7" r="0.7"/>
<circle cx="141.8" cy="81.9" r="0.7"/>
<circle cx="141.9" cy="83.2" r="0.7"/>
<circle cx="143.0" cy="81.3" r="0.7"/>
<circle cx="139.7" cy="83.6" r="0.7"/>
<circle cx="82.4" cy="105.4" r="0.7"/>
<circle cx="80.0" cy="103.5" r="0.7"/>
<circle cx="82.3" cy="102.1" r="0.7"/>
<circle cx="81.4" cy="104.9" r="0.7"/>
<circle cx="83.6" cy="105.5" r="0.7"/>
<circle cx="81.0" cy="102.3" r="0.7"/>
<circle cx="133.0" cy="114.9" r="0.7"/>
<circle cx="132.4" cy="112.0" r="0.7"/>
<circle cx="133.4" cy="114.7" r="0.7"/>
<circle cx="133.1" cy="112.9" r="0.7"/>
<circle cx="132.7" cy="114.8" r="0.7"/>
<circle cx="66.3" cy="105.8" r="0.7"/>
<circle cx="67.6" cy="108.5" r="0.7"/>
<circle cx="67.0" cy="109.0" r="0.7"/>
<circle cx="66.0" cy="107.7" r="0.7"/>
<circle cx="58.9" cy="86.3" r="0.7"/>
<circle cx="61.6" cy="85.1" r="0.7"/>
<circle cx="61.5" cy="86.7" r="0.7"/>
<circle cx="75.9" cy="76.5" r="0.7"/>
<circle cx="76.9" cy="75.4" r="0.7"/>
<circle cx="74.4" cy="74.2" r="0.7"/>
<circle cx="23.2" cy="38.2" r="0.7"/>
<circle cx="23.4" cy="37.2" r="0.7"/>
<circle cx="93.8" cy="44.4" r="0.7"/>
<circle cx="92.3" cy="45.3" r="0.7"/>
<circle cx="93.5" cy="42.7" r="0.7"/>
<circle cx="121.2" cy="40.9" r="0.7"/>
<circle cx="123.7" cy="43.3" r="0.7"/>
<circle cx="120.5" cy="43.1" r="0.7"/>
<circle cx="33.7" cy="17.3" r="0.7"/>
<circle cx="30.3" cy="17.3" r="0.7"/>
<circle cx="34.4" cy="44.7" r="0.7"/>
<circle cx="35.1" cy="42.1" r="0.7"/>
<circle cx="118.4" cy="67.3" r="0.7"/>
<circle cx="119.3" cy="67.7" r="0.7"/>
<circle cx="101.7" cy="74.5" r="0.7"/>
<circle cx="102.0" cy="77.3" r="0.7"/>
<circle cx="45.6" cy="102.5" r="0.7"/>
<circle cx="44.7" cy="99.9" r="0.7"/>
</g>
<rect x="46.4" y="70.2" width="31.9" height="28.9" fill="none" stroke="#d8c400" stroke-width="1.0"/>
<text transform="translate(145.35,11.32) scale(1,1.1)" font-size="9.50" text-anchor="end" fill="#fff" dominant-baseline="central" textLength="92.37" lengthAdjust="spacingAndGlyphs" id="a_wt_title" ><tspan fill="#ee1c1c" font-style="italic">Pvalb</tspan><tspan fill="#f0f0f0">/</tspan><tspan fill="#f0f0f0" font-style="italic">Kcnh7</tspan><tspan fill="#f0f0f0">/</tspan><tspan fill="#1a74d4">Hoechst</tspan></text>
<line x1="119.30" y1="129.30" x2="141.00" y2="129.30" stroke="#d0d0d0" stroke-width="1.3"/>
</g>
<clipPath id="c2"><rect x="150" y="4" width="43" height="43"/></clipPath>
<rect x="150.00" y="4.00" width="43.00" height="43.00" fill="#0b0908" stroke="none" stroke-width="0" />
<g clip-path="url(#c2)">
<g filter="url(#tex)" opacity="1.0">
<ellipse cx="150.0" cy="2.0" rx="3.1" ry="5.1" fill="rgb(23,28,215)" transform="rotate(-17 150.0 2.0)"/>
<ellipse cx="149.8" cy="1.8" rx="2.3" ry="4.1" fill="rgb(23,28,215)"/>
<ellipse cx="173.3" cy="29.8" rx="6.4" ry="5.6" fill="rgb(23,28,215)" transform="rotate(-6 173.3 29.8)"/>
<ellipse cx="174.1" cy="31.5" rx="4.8" ry="4.5" fill="rgb(23,28,215)"/>
<ellipse cx="188.9" cy="15.3" rx="3.8" ry="6.4" fill="rgb(19,23,174)" transform="rotate(11 188.9 15.3)"/>
<ellipse cx="189.6" cy="14.8" rx="2.9" ry="5.1" fill="rgb(19,23,174)"/>
<ellipse cx="180.0" cy="44.2" rx="3.8" ry="2.0" fill="rgb(22,27,203)" transform="rotate(33 180.0 44.2)"/>
<ellipse cx="178.8" cy="44.3" rx="2.9" ry="1.6" fill="rgb(22,27,203)"/>
<ellipse cx="155.6" cy="44.2" rx="3.8" ry="2.6" fill="rgb(18,23,172)" transform="rotate(20 155.6 44.2)"/>
<ellipse cx="156.7" cy="44.3" rx="2.9" ry="2.0" fill="rgb(18,23,172)"/>
<ellipse cx="192.2" cy="35.3" rx="2.6" ry="2.6" fill="rgb(18,22,167)" transform="rotate(0 192.2 35.3)"/>
<ellipse cx="192.4" cy="35.4" rx="1.9" ry="2.0" fill="rgb(18,22,167)"/>
</g>
<g fill="#ff1a1a" opacity="1.0" filter="url(#bls)">
<circle cx="170.1" cy="21.7" r="0.6"/>
<circle cx="166.1" cy="22.0" r="0.6"/>
<circle cx="165.1" cy="27.2" r="0.6"/>
<circle cx="176.4" cy="26.4" r="0.6"/>
<circle cx="169.0" cy="22.6" r="0.6"/>
<circle cx="171.9" cy="23.8" r="0.6"/>
<circle cx="177.6" cy="27.4" r="0.6"/>
<circle cx="176.8" cy="29.8" r="0.6"/>
<circle cx="168.6" cy="30.0" r="0.6"/>
<circle cx="165.9" cy="30.9" r="0.6"/>
<circle cx="169.6" cy="22.6" r="0.6"/>
<circle cx="171.0" cy="32.9" r="0.6"/>
<circle cx="171.0" cy="19.8" r="0.6"/>
<circle cx="166.3" cy="27.2" r="0.6"/>
<circle cx="173.5" cy="22.4" r="0.6"/>
<circle cx="172.6" cy="32.2" r="0.6"/>
<circle cx="172.9" cy="20.4" r="0.6"/>
<circle cx="167.0" cy="23.3" r="0.6"/>
<circle cx="166.6" cy="26.1" r="0.6"/>
<circle cx="177.4" cy="26.7" r="0.6"/>
<circle cx="166.1" cy="22.1" r="0.6"/>
<circle cx="174.2" cy="22.3" r="0.6"/>
<circle cx="169.5" cy="34.4" r="0.6"/>
<circle cx="177.5" cy="33.5" r="0.6"/>
<circle cx="166.3" cy="34.2" r="0.6"/>
<circle cx="170.8" cy="33.7" r="0.6"/>
<circle cx="171.4" cy="34.0" r="0.6"/>
<circle cx="172.9" cy="31.0" r="0.6"/>
<circle cx="170.5" cy="22.8" r="0.6"/>
<circle cx="171.7" cy="33.4" r="0.6"/>
<circle cx="165.0" cy="28.8" r="0.6"/>
<circle cx="166.5" cy="22.6" r="0.6"/>
<circle cx="165.8" cy="34.2" r="0.6"/>
<circle cx="174.0" cy="25.0" r="0.6"/>
<circle cx="175.6" cy="20.8" r="0.6"/>
<circle cx="172.5" cy="23.7" r="0.6"/>
<circle cx="175.2" cy="21.9" r="0.6"/>
<circle cx="175.1" cy="28.3" r="0.6"/>
<circle cx="178.8" cy="25.9" r="0.6"/>
<circle cx="171.5" cy="32.1" r="0.6"/>
<circle cx="174.8" cy="31.9" r="0.6"/>
<circle cx="172.5" cy="22.5" r="0.6"/>
<circle cx="176.5" cy="34.6" r="0.6"/>
<circle cx="172.8" cy="23.6" r="0.6"/>
<circle cx="177.3" cy="23.6" r="0.6"/>
<circle cx="173.0" cy="21.0" r="0.6"/>
<circle cx="178.0" cy="23.3" r="0.6"/>
<circle cx="174.2" cy="24.0" r="0.6"/>
<circle cx="169.0" cy="21.9" r="0.6"/>
<circle cx="171.2" cy="21.9" r="0.6"/>
<circle cx="176.8" cy="23.5" r="0.6"/>
<circle cx="171.0" cy="33.0" r="0.6"/>
<circle cx="175.9" cy="32.9" r="0.6"/>
<circle cx="177.8" cy="30.2" r="0.6"/>
<circle cx="175.7" cy="33.0" r="0.6"/>
<circle cx="171.4" cy="27.2" r="0.6"/>
<circle cx="187.1" cy="4.3" r="0.6"/>
<circle cx="186.2" cy="24.1" r="0.6"/>
<circle cx="174.2" cy="32.6" r="0.6"/>
<circle cx="186.1" cy="20.1" r="0.6"/>
<circle cx="168.0" cy="45.3" r="0.6"/>
<circle cx="153.2" cy="31.4" r="0.6"/>
<circle cx="177.4" cy="5.2" r="0.6"/>
<circle cx="176.2" cy="33.4" r="0.6"/>
<circle cx="190.1" cy="18.2" r="0.6"/>
<circle cx="192.2" cy="26.0" r="0.6"/>
<circle cx="170.8" cy="42.6" r="0.6"/>
<circle cx="151.5" cy="34.9" r="0.6"/>
<circle cx="176.9" cy="18.6" r="0.6"/>
<circle cx="187.1" cy="19.7" r="0.6"/>
<circle cx="170.4" cy="26.6" r="0.6"/>
<circle cx="183.1" cy="13.1" r="0.6"/>
<circle cx="168.7" cy="22.2" r="0.6"/>
<circle cx="173.8" cy="39.5" r="0.6"/>
<circle cx="162.6" cy="39.6" r="0.6"/>
<circle cx="167.4" cy="25.7" r="0.6"/>
<circle cx="161.7" cy="25.8" r="0.6"/>
<circle cx="191.9" cy="32.1" r="0.6"/>
<circle cx="184.1" cy="18.2" r="0.6"/>
<circle cx="163.6" cy="16.9" r="0.6"/>
</g>
<g fill="#fff" opacity="1.0" filter="url(#bls)">
<circle cx="167.8" cy="27.1" r="0.6"/>
<circle cx="170.4" cy="26.9" r="0.6"/>
<circle cx="169.5" cy="26.1" r="0.6"/>
<circle cx="168.3" cy="27.7" r="0.6"/>
</g>
<text transform="translate(149.60,10.17) scale(1,1.05)" font-size="9.50" text-anchor="start" fill="#86b43c" dominant-baseline="central" textLength="28.05" lengthAdjust="spacingAndGlyphs" id="a_wt_merge" >Merge</text>
</g>
<clipPath id="c3"><rect x="150" y="49" width="43" height="42"/></clipPath>
<rect x="150.00" y="49.00" width="43.00" height="42.00" fill="#0a0a0a" stroke="none" stroke-width="0" />
<g clip-path="url(#c3)">
<g fill="#eeeeee" opacity="1.0" filter="url(#bls)">
<circle cx="160.0" cy="64.0" r="0.65"/>
<circle cx="188.0" cy="62.0" r="0.65"/>
<circle cx="166.0" cy="71.0" r="0.65"/>
<circle cx="190.0" cy="73.0" r="0.65"/>
<circle cx="169.0" cy="79.0" r="0.65"/>
<circle cx="171.0" cy="80.0" r="0.65"/>
<circle cx="172.0" cy="79.5" r="0.65"/>
<circle cx="181.0" cy="88.0" r="0.65"/>
<circle cx="158.0" cy="84.0" r="0.65"/>
<circle cx="186.0" cy="52.0" r="0.65"/>
<circle cx="176.0" cy="60.0" r="0.65"/>
<circle cx="186.0" cy="66.0" r="0.65"/>
<circle cx="152.0" cy="90.0" r="0.65"/>
</g>
<text transform="translate(151.43,53.65) scale(1,1.05)" font-size="9.50" text-anchor="start" fill="#e0e0e0" dominant-baseline="central" font-style="italic" textLength="26.74" lengthAdjust="spacingAndGlyphs" id="a_wt_kcnh7" >Kcnh7</text>
</g>
<clipPath id="c4"><rect x="150" y="93" width="43" height="42"/></clipPath>
<rect x="150.00" y="93.00" width="43.00" height="42.00" fill="#080404" stroke="none" stroke-width="0" />
<g clip-path="url(#c4)">
<g fill="#ff1a1a" opacity="1.0" filter="url(#bls)">
<circle cx="171.9" cy="116.6" r="0.65"/>
<circle cx="175.4" cy="121.7" r="0.65"/>
<circle cx="167.1" cy="111.6" r="0.65"/>
<circle cx="174.3" cy="108.6" r="0.65"/>
<circle cx="167.3" cy="111.6" r="0.65"/>
<circle cx="167.5" cy="111.0" r="0.65"/>
<circle cx="166.7" cy="111.9" r="0.65"/>
<circle cx="174.0" cy="121.1" r="0.65"/>
<circle cx="165.3" cy="117.0" r="0.65"/>
<circle cx="175.5" cy="117.2" r="0.65"/>
<circle cx="179.6" cy="116.8" r="0.65"/>
<circle cx="178.3" cy="112.3" r="0.65"/>
<circle cx="167.2" cy="120.1" r="0.65"/>
<circle cx="173.8" cy="110.0" r="0.65"/>
<circle cx="172.2" cy="119.4" r="0.65"/>
<circle cx="168.1" cy="117.3" r="0.65"/>
<circle cx="166.3" cy="117.8" r="0.65"/>
<circle cx="174.6" cy="114.5" r="0.65"/>
<circle cx="170.4" cy="114.5" r="0.65"/>
<circle cx="178.0" cy="119.7" r="0.65"/>
<circle cx="165.2" cy="112.2" r="0.65"/>
<circle cx="170.8" cy="115.8" r="0.65"/>
<circle cx="167.4" cy="118.9" r="0.65"/>
<circle cx="180.1" cy="112.6" r="0.65"/>
<circle cx="167.0" cy="116.0" r="0.65"/>
<circle cx="177.8" cy="118.8" r="0.65"/>
<circle cx="173.2" cy="118.2" r="0.65"/>
<circle cx="173.9" cy="115.4" r="0.65"/>
<circle cx="171.1" cy="112.8" r="0.65"/>
<circle cx="175.2" cy="114.8" r="0.65"/>
<circle cx="174.6" cy="113.2" r="0.65"/>
<circle cx="179.5" cy="116.0" r="0.65"/>
<circle cx="172.8" cy="121.5" r="0.65"/>
<circle cx="173.3" cy="117.1" r="0.65"/>
<circle cx="173.5" cy="109.3" r="0.65"/>
<circle cx="176.8" cy="110.4" r="0.65"/>
<circle cx="178.2" cy="118.2" r="0.65"/>
<circle cx="170.9" cy="110.5" r="0.65"/>
<circle cx="176.4" cy="113.7" r="0.65"/>
<circle cx="179.4" cy="113.9" r="0.65"/>
<circle cx="174.1" cy="115.4" r="0.65"/>
<circle cx="167.9" cy="110.0" r="0.65"/>
<circle cx="176.6" cy="117.3" r="0.65"/>
<circle cx="171.9" cy="112.2" r="0.65"/>
<circle cx="176.2" cy="111.4" r="0.65"/>
<circle cx="177.2" cy="116.9" r="0.65"/>
<circle cx="167.4" cy="113.1" r="0.65"/>
<circle cx="170.9" cy="112.6" r="0.65"/>
<circle cx="173.9" cy="111.1" r="0.65"/>
<circle cx="168.3" cy="110.8" r="0.65"/>
<circle cx="167.8" cy="117.6" r="0.65"/>
<circle cx="174.2" cy="108.5" r="0.65"/>
<circle cx="173.8" cy="110.0" r="0.65"/>
<circle cx="171.7" cy="117.3" r="0.65"/>
<circle cx="179.4" cy="114.3" r="0.65"/>
<circle cx="174.7" cy="111.5" r="0.65"/>
<circle cx="165.9" cy="110.9" r="0.65"/>
<circle cx="175.6" cy="110.4" r="0.65"/>
<circle cx="170.4" cy="119.8" r="0.65"/>
<circle cx="176.4" cy="112.4" r="0.65"/>
<circle cx="169.8" cy="110.1" r="0.65"/>
<circle cx="178.4" cy="111.4" r="0.65"/>
<circle cx="172.1" cy="116.5" r="0.65"/>
<circle cx="171.9" cy="120.1" r="0.65"/>
<circle cx="165.9" cy="111.9" r="0.65"/>
<circle cx="188.2" cy="94.8" r="0.65"/>
<circle cx="185.8" cy="127.1" r="0.65"/>
<circle cx="187.3" cy="117.0" r="0.65"/>
<circle cx="161.8" cy="128.7" r="0.65"/>
<circle cx="184.7" cy="121.8" r="0.65"/>
<circle cx="189.3" cy="107.6" r="0.65"/>
<circle cx="153.7" cy="116.3" r="0.65"/>
<circle cx="184.3" cy="101.4" r="0.65"/>
<circle cx="182.3" cy="132.1" r="0.65"/>
<circle cx="160.1" cy="118.5" r="0.65"/>
<circle cx="179.1" cy="112.5" r="0.65"/>
<circle cx="158.9" cy="103.7" r="0.65"/>
<circle cx="182.3" cy="126.2" r="0.65"/>
<circle cx="169.8" cy="96.7" r="0.65"/>
<circle cx="184.7" cy="125.4" r="0.65"/>
<circle cx="160.0" cy="117.3" r="0.65"/>
<circle cx="188.6" cy="130.2" r="0.65"/>
<circle cx="172.4" cy="113.0" r="0.65"/>
<circle cx="175.3" cy="100.9" r="0.65"/>
<circle cx="158.3" cy="100.6" r="0.65"/>
</g>
<text transform="translate(153.33,98.17) scale(1,1.05)" font-size="9.50" text-anchor="start" fill="#ee1c1c" dominant-baseline="central" font-style="italic" textLength="23.58" lengthAdjust="spacingAndGlyphs" id="a_wt_pvalb" >Pvalb</text>
<line x1="176.40" y1="129.80" x2="189.80" y2="129.80" stroke="#d0d0d0" stroke-width="1.3"/>
</g>
<clipPath id="c5"><rect x="208" y="4" width="132" height="133"/></clipPath>
<rect x="208.00" y="4.00" width="132.00" height="133.00" fill="#070512" stroke="none" stroke-width="0" />
<g clip-path="url(#c5)">
<g fill="#c01420" opacity="0.85" filter="url(#bls)">
<circle cx="300.5" cy="52.3" r="0.5"/>
<circle cx="282.5" cy="57.5" r="0.5"/>
<circle cx="276.3" cy="23.8" r="0.5"/>
<circle cx="213.9" cy="136.6" r="0.5"/>
<circle cx="257.4" cy="18.1" r="0.5"/>
<circle cx="291.5" cy="108.7" r="0.5"/>
<circle cx="228.6" cy="83.4" r="0.5"/>
<circle cx="253.5" cy="73.1" r="0.5"/>
<circle cx="210.7" cy="8.5" r="0.5"/>
<circle cx="338.7" cy="119.2" r="0.5"/>
<circle cx="272.2" cy="79.4" r="0.5"/>
<circle cx="242.5" cy="107.6" r="0.5"/>
<circle cx="264.2" cy="129.9" r="0.5"/>
<circle cx="309.3" cy="112.9" r="0.5"/>
<circle cx="335.2" cy="37.8" r="0.5"/>
<circle cx="213.0" cy="30.7" r="0.5"/>
<circle cx="231.9" cy="15.1" r="0.5"/>
<circle cx="214.7" cy="78.1" r="0.5"/>
<circle cx="322.9" cy="65.0" r="0.5"/>
<circle cx="333.0" cy="125.0" r="0.5"/>
<circle cx="216.5" cy="83.5" r="0.5"/>
<circle cx="260.5" cy="19.9" r="0.5"/>
<circle cx="334.6" cy="38.2" r="0.5"/>
<circle cx="282.5" cy="89.2" r="0.5"/>
<circle cx="334.2" cy="93.1" r="0.5"/>
<circle cx="259.9" cy="63.6" r="0.5"/>
<circle cx="229.1" cy="132.4" r="0.5"/>
<circle cx="338.9" cy="33.5" r="0.5"/>
<circle cx="213.1" cy="38.0" r="0.5"/>
<circle cx="254.5" cy="124.1" r="0.5"/>
<circle cx="327.4" cy="115.3" r="0.5"/>
<circle cx="214.2" cy="108.6" r="0.5"/>
<circle cx="301.7" cy="90.0" r="0.5"/>
<circle cx="338.1" cy="11.4" r="0.5"/>
<circle cx="227.1" cy="104.4" r="0.5"/>
<circle cx="332.0" cy="94.0" r="0.5"/>
<circle cx="247.4" cy="82.7" r="0.5"/>
<circle cx="308.0" cy="18.0" r="0.5"/>
<circle cx="250.8" cy="38.2" r="0.5"/>
<circle cx="224.4" cy="68.0" r="0.5"/>
<circle cx="230.3" cy="35.7" r="0.5"/>
<circle cx="226.9" cy="94.1" r="0.5"/>
<circle cx="209.7" cy="99.4" r="0.5"/>
<circle cx="233.8" cy="8.8" r="0.5"/>
<circle cx="330.5" cy="33.3" r="0.5"/>
<circle cx="331.3" cy="119.3" r="0.5"/>
<circle cx="325.3" cy="22.6" r="0.5"/>
<circle cx="267.0" cy="16.9" r="0.5"/>
<circle cx="330.6" cy="116.0" r="0.5"/>
<circle cx="290.9" cy="64.2" r="0.5"/>
<circle cx="252.9" cy="113.5" r="0.5"/>
<circle cx="271.0" cy="87.5" r="0.5"/>
<circle cx="226.8" cy="33.5" r="0.5"/>
<circle cx="215.5" cy="98.9" r="0.5"/>
<circle cx="281.0" cy="23.2" r="0.5"/>
<circle cx="322.9" cy="39.4" r="0.5"/>
<circle cx="262.4" cy="24.7" r="0.5"/>
<circle cx="243.8" cy="115.7" r="0.5"/>
<circle cx="252.2" cy="26.3" r="0.5"/>
<circle cx="272.8" cy="46.3" r="0.5"/>
<circle cx="327.2" cy="19.2" r="0.5"/>
<circle cx="337.2" cy="11.6" r="0.5"/>
<circle cx="326.1" cy="92.9" r="0.5"/>
<circle cx="235.9" cy="67.5" r="0.5"/>
<circle cx="245.8" cy="38.3" r="0.5"/>
<circle cx="234.6" cy="52.4" r="0.5"/>
<circle cx="338.8" cy="136.7" r="0.5"/>
<circle cx="330.1" cy="17.0" r="0.5"/>
<circle cx="246.2" cy="123.2" r="0.5"/>
<circle cx="215.6" cy="100.6" r="0.5"/>
<circle cx="246.7" cy="134.2" r="0.5"/>
<circle cx="210.1" cy="111.3" r="0.5"/>
<circle cx="253.0" cy="22.6" r="0.5"/>
<circle cx="208.3" cy="114.7" r="0.5"/>
<circle cx="277.5" cy="28.7" r="0.5"/>
<circle cx="265.5" cy="125.3" r="0.5"/>
<circle cx="236.8" cy="80.0" r="0.5"/>
<circle cx="226.2" cy="28.0" r="0.5"/>
<circle cx="309.7" cy="98.6" r="0.5"/>
<circle cx="234.0" cy="14.5" r="0.5"/>
<circle cx="219.5" cy="84.9" r="0.5"/>
<circle cx="273.4" cy="40.4" r="0.5"/>
<circle cx="235.2" cy="85.5" r="0.5"/>
<circle cx="301.4" cy="111.9" r="0.5"/>
<circle cx="284.9" cy="30.9" r="0.5"/>
<circle cx="216.7" cy="101.5" r="0.5"/>
<circle cx="261.9" cy="100.0" r="0.5"/>
<circle cx="215.3" cy="111.8" r="0.5"/>
<circle cx="252.2" cy="116.0" r="0.5"/>
<circle cx="322.1" cy="69.6" r="0.5"/>
<circle cx="210.0" cy="125.1" r="0.5"/>
<circle cx="270.9" cy="120.0" r="0.5"/>
<circle cx="243.1" cy="28.7" r="0.5"/>
<circle cx="317.8" cy="52.8" r="0.5"/>
<circle cx="229.6" cy="53.4" r="0.5"/>
<circle cx="286.5" cy="4.6" r="0.5"/>
<circle cx="276.6" cy="63.3" r="0.5"/>
<circle cx="276.1" cy="20.1" r="0.5"/>
<circle cx="302.3" cy="112.6" r="0.5"/>
<circle cx="322.2" cy="46.7" r="0.5"/>
<circle cx="301.9" cy="54.7" r="0.5"/>
<circle cx="307.2" cy="12.1" r="0.5"/>
<circle cx="323.2" cy="130.9" r="0.5"/>
<circle cx="273.3" cy="72.3" r="0.5"/>
<circle cx="278.0" cy="75.5" r="0.5"/>
<circle cx="210.7" cy="132.7" r="0.5"/>
<circle cx="237.5" cy="28.3" r="0.5"/>
<circle cx="221.6" cy="37.3" r="0.5"/>
<circle cx="315.9" cy="8.0" r="0.5"/>
<circle cx="220.7" cy="97.0" r="0.5"/>
<circle cx="233.8" cy="6.4" r="0.5"/>
<circle cx="287.1" cy="80.7" r="0.5"/>
<circle cx="277.0" cy="97.5" r="0.5"/>
<circle cx="221.6" cy="119.6" r="0.5"/>
<circle cx="302.7" cy="10.0" r="0.5"/>
<circle cx="224.2" cy="69.6" r="0.5"/>
<circle cx="274.1" cy="41.2" r="0.5"/>
<circle cx="224.1" cy="58.0" r="0.5"/>
<circle cx="226.1" cy="82.7" r="0.5"/>
<circle cx="321.7" cy="23.6" r="0.5"/>
<circle cx="283.6" cy="103.3" r="0.5"/>
<circle cx="229.7" cy="113.9" r="0.5"/>
<circle cx="331.8" cy="55.7" r="0.5"/>
<circle cx="263.5" cy="115.7" r="0.5"/>
<circle cx="277.4" cy="56.6" r="0.5"/>
<circle cx="332.3" cy="107.3" r="0.5"/>
<circle cx="252.7" cy="36.0" r="0.5"/>
<circle cx="252.2" cy="61.9" r="0.5"/>
<circle cx="337.5" cy="111.0" r="0.5"/>
<circle cx="328.5" cy="112.4" r="0.5"/>
<circle cx="319.9" cy="11.1" r="0.5"/>
<circle cx="276.3" cy="131.4" r="0.5"/>
<circle cx="331.3" cy="37.2" r="0.5"/>
<circle cx="263.7" cy="88.1" r="0.5"/>
<circle cx="256.1" cy="74.6" r="0.5"/>
<circle cx="217.1" cy="61.6" r="0.5"/>
<circle cx="274.6" cy="6.8" r="0.5"/>
<circle cx="226.4" cy="133.0" r="0.5"/>
<circle cx="310.5" cy="128.6" r="0.5"/>
<circle cx="291.6" cy="111.6" r="0.5"/>
<circle cx="324.7" cy="121.7" r="0.5"/>
<circle cx="212.5" cy="89.3" r="0.5"/>
<circle cx="243.1" cy="94.2" r="0.5"/>
<circle cx="244.1" cy="76.1" r="0.5"/>
<circle cx="330.0" cy="86.6" r="0.5"/>
<circle cx="241.1" cy="73.2" r="0.5"/>
<circle cx="265.2" cy="130.5" r="0.5"/>
<circle cx="246.0" cy="44.6" r="0.5"/>
<circle cx="293.5" cy="20.0" r="0.5"/>
<circle cx="286.4" cy="131.2" r="0.5"/>
<circle cx="275.8" cy="39.7" r="0.5"/>
<circle cx="269.6" cy="75.0" r="0.5"/>
<circle cx="227.6" cy="20.5" r="0.5"/>
<circle cx="225.3" cy="43.0" r="0.5"/>
<circle cx="261.7" cy="42.3" r="0.5"/>
<circle cx="240.1" cy="15.7" r="0.5"/>
<circle cx="280.1" cy="115.7" r="0.5"/>
<circle cx="288.5" cy="79.8" r="0.5"/>
<circle cx="293.8" cy="30.8" r="0.5"/>
<circle cx="301.8" cy="65.3" r="0.5"/>
<circle cx="280.3" cy="85.5" r="0.5"/>
<circle cx="269.9" cy="45.3" r="0.5"/>
<circle cx="240.0" cy="33.5" r="0.5"/>
<circle cx="275.6" cy="55.0" r="0.5"/>
<circle cx="285.3" cy="5.6" r="0.5"/>
<circle cx="254.6" cy="118.6" r="0.5"/>
<circle cx="239.5" cy="78.0" r="0.5"/>
<circle cx="272.9" cy="41.9" r="0.5"/>
<circle cx="338.4" cy="43.3" r="0.5"/>
<circle cx="309.9" cy="25.1" r="0.5"/>
<circle cx="216.8" cy="119.9" r="0.5"/>
<circle cx="266.1" cy="12.2" r="0.5"/>
<circle cx="259.2" cy="62.5" r="0.5"/>
<circle cx="305.1" cy="18.5" r="0.5"/>
<circle cx="237.7" cy="131.6" r="0.5"/>
<circle cx="305.5" cy="24.6" r="0.5"/>
<circle cx="252.5" cy="50.9" r="0.5"/>
<circle cx="297.1" cy="86.0" r="0.5"/>
<circle cx="320.2" cy="113.2" r="0.5"/>
<circle cx="276.3" cy="102.3" r="0.5"/>
<circle cx="306.1" cy="105.0" r="0.5"/>
<circle cx="270.7" cy="108.4" r="0.5"/>
<circle cx="301.5" cy="125.7" r="0.5"/>
<circle cx="224.8" cy="119.8" r="0.5"/>
<circle cx="208.6" cy="105.8" r="0.5"/>
<circle cx="285.3" cy="70.2" r="0.5"/>
<circle cx="335.1" cy="80.1" r="0.5"/>
<circle cx="263.2" cy="108.2" r="0.5"/>
<circle cx="323.2" cy="84.8" r="0.5"/>
<circle cx="258.1" cy="64.2" r="0.5"/>
<circle cx="268.4" cy="100.2" r="0.5"/>
<circle cx="246.7" cy="56.0" r="0.5"/>
<circle cx="281.3" cy="55.1" r="0.5"/>
<circle cx="250.5" cy="108.7" r="0.5"/>
<circle cx="320.1" cy="70.4" r="0.5"/>
<circle cx="266.6" cy="28.5" r="0.5"/>
<circle cx="248.1" cy="23.3" r="0.5"/>
<circle cx="284.0" cy="81.4" r="0.5"/>
<circle cx="219.6" cy="126.4" r="0.5"/>
<circle cx="250.8" cy="116.2" r="0.5"/>
<circle cx="318.6" cy="131.5" r="0.5"/>
<circle cx="235.0" cy="60.7" r="0.5"/>
<circle cx="328.2" cy="5.4" r="0.5"/>
<circle cx="214.3" cy="79.1" r="0.5"/>
<circle cx="273.6" cy="126.4" r="0.5"/>
<circle cx="310.1" cy="75.6" r="0.5"/>
<circle cx="339.8" cy="72.8" r="0.5"/>
<circle cx="276.3" cy="95.1" r="0.5"/>
<circle cx="259.4" cy="51.6" r="0.5"/>
<circle cx="286.5" cy="50.7" r="0.5"/>
<circle cx="333.1" cy="94.0" r="0.5"/>
<circle cx="277.3" cy="17.2" r="0.5"/>
<circle cx="257.4" cy="57.3" r="0.5"/>
<circle cx="282.1" cy="80.3" r="0.5"/>
<circle cx="324.1" cy="132.3" r="0.5"/>
<circle cx="272.2" cy="62.5" r="0.5"/>
<circle cx="290.4" cy="136.5" r="0.5"/>
<circle cx="253.3" cy="74.5" r="0.5"/>
<circle cx="315.7" cy="26.7" r="0.5"/>
<circle cx="250.0" cy="134.1" r="0.5"/>
</g>
<g fill="#8a8a9a" opacity="0.7" filter="url(#bls)">
<circle cx="317.0" cy="72.2" r="0.4"/>
<circle cx="222.6" cy="123.0" r="0.4"/>
<circle cx="299.1" cy="113.1" r="0.4"/>
<circle cx="338.7" cy="122.1" r="0.4"/>
<circle cx="263.6" cy="24.8" r="0.4"/>
<circle cx="246.3" cy="72.0" r="0.4"/>
<circle cx="274.6" cy="29.0" r="0.4"/>
<circle cx="232.1" cy="87.8" r="0.4"/>
<circle cx="287.6" cy="51.0" r="0.4"/>
<circle cx="339.2" cy="88.7" r="0.4"/>
<circle cx="213.6" cy="58.7" r="0.4"/>
<circle cx="312.0" cy="44.8" r="0.4"/>
<circle cx="299.2" cy="4.5" r="0.4"/>
<circle cx="248.2" cy="116.0" r="0.4"/>
<circle cx="285.4" cy="92.9" r="0.4"/>
<circle cx="234.0" cy="70.2" r="0.4"/>
<circle cx="281.0" cy="39.4" r="0.4"/>
<circle cx="293.4" cy="74.7" r="0.4"/>
<circle cx="339.6" cy="80.4" r="0.4"/>
<circle cx="262.3" cy="20.2" r="0.4"/>
<circle cx="228.7" cy="105.0" r="0.4"/>
<circle cx="222.1" cy="17.3" r="0.4"/>
<circle cx="230.5" cy="73.5" r="0.4"/>
<circle cx="316.7" cy="85.5" r="0.4"/>
<circle cx="314.5" cy="12.3" r="0.4"/>
<circle cx="209.6" cy="106.5" r="0.4"/>
<circle cx="250.6" cy="99.2" r="0.4"/>
<circle cx="254.7" cy="26.5" r="0.4"/>
<circle cx="243.2" cy="17.2" r="0.4"/>
<circle cx="327.3" cy="81.4" r="0.4"/>
<circle cx="254.1" cy="63.8" r="0.4"/>
<circle cx="258.9" cy="11.3" r="0.4"/>
<circle cx="325.6" cy="81.5" r="0.4"/>
<circle cx="334.7" cy="62.5" r="0.4"/>
<circle cx="289.9" cy="37.2" r="0.4"/>
<circle cx="213.8" cy="127.8" r="0.4"/>
<circle cx="320.8" cy="45.9" r="0.4"/>
<circle cx="326.7" cy="112.5" r="0.4"/>
<circle cx="248.1" cy="84.1" r="0.4"/>
<circle cx="334.7" cy="69.9" r="0.4"/>
</g>
<g filter="url(#tex)" opacity="1.0">
<ellipse cx="240.8" cy="8.4" rx="5.0" ry="3.8" fill="rgb(26,32,245)" transform="rotate(-18 240.8 8.4)"/>
<ellipse cx="240.4" cy="9.0" rx="3.8" ry="3.0" fill="rgb(26,32,245)"/>
<ellipse cx="273.7" cy="20.4" rx="6.3" ry="5.0" fill="rgb(19,23,178)" transform="rotate(-13 273.7 20.4)"/>
<ellipse cx="275.3" cy="20.4" rx="4.7" ry="4.0" fill="rgb(19,23,178)"/>
<ellipse cx="211.3" cy="32.0" rx="4.5" ry="3.8" fill="rgb(25,30,230)" transform="rotate(-18 211.3 32.0)"/>
<ellipse cx="210.2" cy="31.6" rx="3.4" ry="3.0" fill="rgb(25,30,230)"/>
<ellipse cx="247.0" cy="36.8" rx="4.5" ry="5.0" fill="rgb(19,23,175)" transform="rotate(33 247.0 36.8)"/>
<ellipse cx="246.3" cy="37.1" rx="3.4" ry="4.0" fill="rgb(19,23,175)"/>
<ellipse cx="258.4" cy="44.5" rx="3.0" ry="2.5" fill="rgb(18,22,168)" transform="rotate(2 258.4 44.5)"/>
<ellipse cx="258.1" cy="44.3" rx="2.3" ry="2.0" fill="rgb(18,22,168)"/>
<ellipse cx="218.9" cy="48.9" rx="3.0" ry="3.0" fill="rgb(18,21,164)" transform="rotate(0 218.9 48.9)"/>
<ellipse cx="218.1" cy="49.6" rx="2.3" ry="2.4" fill="rgb(18,21,164)"/>
<ellipse cx="254.0" cy="52.6" rx="5.0" ry="4.5" fill="rgb(20,25,190)" transform="rotate(-18 254.0 52.6)"/>
<ellipse cx="252.9" cy="51.9" rx="3.8" ry="3.6" fill="rgb(20,25,190)"/>
<ellipse cx="271.5" cy="50.0" rx="2.5" ry="2.5" fill="rgb(19,23,179)" transform="rotate(0 271.5 50.0)"/>
<ellipse cx="270.7" cy="50.3" rx="1.9" ry="2.0" fill="rgb(19,23,179)"/>
<ellipse cx="314.2" cy="32.5" rx="4.5" ry="3.8" fill="rgb(20,25,189)" transform="rotate(-24 314.2 32.5)"/>
<ellipse cx="314.8" cy="31.4" rx="3.4" ry="3.0" fill="rgb(20,25,189)"/>
<ellipse cx="324.0" cy="19.3" rx="3.8" ry="3.0" fill="rgb(20,24,182)" transform="rotate(23 324.0 19.3)"/>
<ellipse cx="323.0" cy="19.2" rx="2.8" ry="2.4" fill="rgb(20,24,182)"/>
<ellipse cx="332.8" cy="23.7" rx="3.8" ry="3.0" fill="rgb(25,31,234)" transform="rotate(21 332.8 23.7)"/>
<ellipse cx="331.9" cy="23.4" rx="2.8" ry="2.4" fill="rgb(25,31,234)"/>
<ellipse cx="335.0" cy="42.3" rx="4.5" ry="5.0" fill="rgb(24,29,224)" transform="rotate(-9 335.0 42.3)"/>
<ellipse cx="336.4" cy="41.3" rx="3.4" ry="4.0" fill="rgb(24,29,224)"/>
<ellipse cx="306.5" cy="46.0" rx="3.8" ry="3.8" fill="rgb(26,32,245)" transform="rotate(0 306.5 46.0)"/>
<ellipse cx="306.5" cy="45.3" rx="2.8" ry="3.0" fill="rgb(26,32,245)"/>
<ellipse cx="283.5" cy="67.5" rx="5.0" ry="4.5" fill="rgb(21,26,199)" transform="rotate(-26 283.5 67.5)"/>
<ellipse cx="284.3" cy="66.7" rx="3.8" ry="3.6" fill="rgb(21,26,199)"/>
<ellipse cx="274.8" cy="74.5" rx="4.5" ry="3.8" fill="rgb(26,32,240)" transform="rotate(6 274.8 74.5)"/>
<ellipse cx="274.4" cy="73.8" rx="3.4" ry="3.0" fill="rgb(26,32,240)"/>
<ellipse cx="287.9" cy="59.8" rx="2.5" ry="2.5" fill="rgb(23,28,213)" transform="rotate(0 287.9 59.8)"/>
<ellipse cx="287.4" cy="60.5" rx="1.9" ry="2.0" fill="rgb(23,28,213)"/>
<ellipse cx="324.0" cy="65.7" rx="5.0" ry="4.5" fill="rgb(18,22,169)" transform="rotate(1 324.0 65.7)"/>
<ellipse cx="324.2" cy="65.0" rx="3.8" ry="3.6" fill="rgb(18,22,169)"/>
<ellipse cx="319.0" cy="70.8" rx="3.8" ry="3.0" fill="rgb(25,30,228)" transform="rotate(-8 319.0 70.8)"/>
<ellipse cx="319.4" cy="70.9" rx="2.8" ry="2.4" fill="rgb(25,30,228)"/>
<ellipse cx="248.5" cy="76.2" rx="4.5" ry="5.0" fill="rgb(20,24,186)" transform="rotate(-8 248.5 76.2)"/>
<ellipse cx="247.2" cy="75.1" rx="3.4" ry="4.0" fill="rgb(20,24,186)"/>
<ellipse cx="240.8" cy="91.6" rx="3.0" ry="3.0" fill="rgb(25,31,236)" transform="rotate(0 240.8 91.6)"/>
<ellipse cx="240.5" cy="91.9" rx="2.3" ry="2.4" fill="rgb(25,31,236)"/>
<ellipse cx="214.6" cy="98.1" rx="5.0" ry="4.5" fill="rgb(18,22,168)" transform="rotate(4 214.6 98.1)"/>
<ellipse cx="214.1" cy="98.1" rx="3.8" ry="3.6" fill="rgb(18,22,168)"/>
<ellipse cx="328.4" cy="90.5" rx="4.5" ry="3.8" fill="rgb(20,24,185)" transform="rotate(-30 328.4 90.5)"/>
<ellipse cx="327.8" cy="89.7" rx="3.4" ry="3.0" fill="rgb(20,24,185)"/>
<ellipse cx="336.1" cy="99.2" rx="4.5" ry="3.8" fill="rgb(18,22,169)" transform="rotate(15 336.1 99.2)"/>
<ellipse cx="335.4" cy="99.0" rx="3.4" ry="3.0" fill="rgb(18,22,169)"/>
<ellipse cx="246.3" cy="111.7" rx="4.5" ry="4.5" fill="rgb(26,32,241)" transform="rotate(0 246.3 111.7)"/>
<ellipse cx="247.2" cy="112.9" rx="3.4" ry="3.6" fill="rgb(26,32,241)"/>
<ellipse cx="240.4" cy="115.6" rx="3.8" ry="3.8" fill="rgb(26,31,237)" transform="rotate(0 240.4 115.6)"/>
<ellipse cx="239.4" cy="115.1" rx="2.8" ry="3.0" fill="rgb(26,31,237)"/>
<ellipse cx="289.0" cy="113.9" rx="4.5" ry="4.5" fill="rgb(17,21,160)" transform="rotate(0 289.0 113.9)"/>
<ellipse cx="289.6" cy="114.4" rx="3.4" ry="3.6" fill="rgb(17,21,160)"/>
<ellipse cx="299.9" cy="111.3" rx="3.8" ry="3.8" fill="rgb(20,25,190)" transform="rotate(0 299.9 111.3)"/>
<ellipse cx="299.7" cy="111.7" rx="2.8" ry="3.0" fill="rgb(20,25,190)"/>
<ellipse cx="305.4" cy="124.0" rx="4.5" ry="4.5" fill="rgb(24,29,222)" transform="rotate(0 305.4 124.0)"/>
<ellipse cx="304.6" cy="125.1" rx="3.4" ry="3.6" fill="rgb(24,29,222)"/>
<ellipse cx="221.1" cy="122.2" rx="4.5" ry="4.5" fill="rgb(20,25,190)" transform="rotate(0 221.1 122.2)"/>
<ellipse cx="221.5" cy="121.2" rx="3.4" ry="3.6" fill="rgb(20,25,190)"/>
<ellipse cx="271.5" cy="133.2" rx="3.8" ry="3.0" fill="rgb(18,22,168)" transform="rotate(29 271.5 133.2)"/>
<ellipse cx="272.1" cy="133.6" rx="2.8" ry="2.4" fill="rgb(18,22,168)"/>
<ellipse cx="326.2" cy="116.7" rx="2.5" ry="2.5" fill="rgb(17,21,161)" transform="rotate(0 326.2 116.7)"/>
<ellipse cx="325.4" cy="116.1" rx="1.9" ry="2.0" fill="rgb(17,21,161)"/>
<ellipse cx="278.1" cy="87.2" rx="2.5" ry="2.5" fill="rgb(19,23,176)" transform="rotate(0 278.1 87.2)"/>
<ellipse cx="277.7" cy="87.0" rx="1.9" ry="2.0" fill="rgb(19,23,176)"/>
<ellipse cx="226.6" cy="25.5" rx="2.5" ry="2.5" fill="rgb(17,21,161)" transform="rotate(0 226.6 25.5)"/>
<ellipse cx="226.3" cy="25.7" rx="1.9" ry="2.0" fill="rgb(17,21,161)"/>
</g>
<g fill="#ff1a1a" opacity="0.9" filter="url(#bls)">
<circle cx="228.6" cy="29.7" r="0.68"/>
<circle cx="222.7" cy="23.6" r="0.68"/>
<circle cx="226.5" cy="28.9" r="0.68"/>
<circle cx="225.4" cy="22.6" r="0.68"/>
<circle cx="231.3" cy="25.5" r="0.68"/>
<circle cx="227.1" cy="22.7" r="0.68"/>
<circle cx="231.2" cy="26.7" r="0.68"/>
<circle cx="225.6" cy="24.7" r="0.68"/>
<circle cx="226.7" cy="27.2" r="0.68"/>
<circle cx="227.2" cy="23.1" r="0.68"/>
<circle cx="230.4" cy="23.2" r="0.68"/>
<circle cx="230.3" cy="27.7" r="0.68"/>
<circle cx="223.1" cy="28.2" r="0.68"/>
<circle cx="227.9" cy="23.0" r="0.68"/>
<circle cx="230.8" cy="28.1" r="0.68"/>
<circle cx="222.2" cy="27.7" r="0.68"/>
<circle cx="225.0" cy="21.3" r="0.68"/>
<circle cx="228.6" cy="21.9" r="0.68"/>
<circle cx="225.3" cy="25.8" r="0.68"/>
<circle cx="225.5" cy="22.2" r="0.68"/>
<circle cx="221.7" cy="25.1" r="0.68"/>
<circle cx="229.7" cy="28.7" r="0.68"/>
<circle cx="230.8" cy="26.6" r="0.68"/>
<circle cx="227.5" cy="22.9" r="0.68"/>
<circle cx="276.6" cy="64.9" r="0.68"/>
<circle cx="281.6" cy="62.3" r="0.68"/>
<circle cx="286.8" cy="69.9" r="0.68"/>
<circle cx="282.4" cy="72.1" r="0.68"/>
<circle cx="288.6" cy="72.4" r="0.68"/>
<circle cx="292.8" cy="73.3" r="0.68"/>
<circle cx="284.2" cy="63.5" r="0.68"/>
<circle cx="287.2" cy="74.1" r="0.68"/>
<circle cx="277.0" cy="70.5" r="0.68"/>
<circle cx="283.2" cy="71.6" r="0.68"/>
<circle cx="290.0" cy="65.1" r="0.68"/>
<circle cx="281.0" cy="65.4" r="0.68"/>
<circle cx="290.0" cy="61.3" r="0.68"/>
<circle cx="287.1" cy="63.6" r="0.68"/>
<circle cx="282.6" cy="61.4" r="0.68"/>
<circle cx="277.6" cy="69.4" r="0.68"/>
<circle cx="288.7" cy="64.7" r="0.68"/>
<circle cx="285.2" cy="72.8" r="0.68"/>
<circle cx="287.6" cy="69.9" r="0.68"/>
<circle cx="285.9" cy="71.6" r="0.68"/>
<circle cx="284.6" cy="61.6" r="0.68"/>
<circle cx="291.5" cy="70.9" r="0.68"/>
<circle cx="280.3" cy="68.6" r="0.68"/>
<circle cx="288.4" cy="69.8" r="0.68"/>
<circle cx="297.6" cy="68.1" r="0.68"/>
<circle cx="286.8" cy="64.7" r="0.68"/>
<circle cx="284.6" cy="58.7" r="0.68"/>
<circle cx="283.3" cy="66.3" r="0.68"/>
<circle cx="279.6" cy="67.9" r="0.68"/>
<circle cx="289.8" cy="73.8" r="0.68"/>
<circle cx="297.2" cy="67.9" r="0.68"/>
<circle cx="281.5" cy="61.8" r="0.68"/>
<circle cx="294.9" cy="64.6" r="0.68"/>
<circle cx="286.8" cy="72.1" r="0.68"/>
<circle cx="288.2" cy="68.9" r="0.68"/>
<circle cx="288.3" cy="59.2" r="0.68"/>
<circle cx="285.4" cy="71.4" r="0.68"/>
<circle cx="280.4" cy="61.1" r="0.68"/>
<circle cx="290.9" cy="65.8" r="0.68"/>
<circle cx="288.9" cy="59.4" r="0.68"/>
<circle cx="286.5" cy="62.2" r="0.68"/>
<circle cx="290.7" cy="75.1" r="0.68"/>
<circle cx="284.0" cy="72.5" r="0.68"/>
<circle cx="280.5" cy="65.7" r="0.68"/>
<circle cx="289.5" cy="63.5" r="0.68"/>
<circle cx="294.7" cy="69.3" r="0.68"/>
<circle cx="280.0" cy="61.5" r="0.68"/>
<circle cx="284.0" cy="59.2" r="0.68"/>
<circle cx="294.0" cy="65.3" r="0.68"/>
<circle cx="282.4" cy="67.5" r="0.68"/>
<circle cx="284.3" cy="74.1" r="0.68"/>
<circle cx="294.7" cy="71.1" r="0.68"/>
<circle cx="290.6" cy="72.7" r="0.68"/>
<circle cx="290.2" cy="66.9" r="0.68"/>
<circle cx="293.8" cy="69.0" r="0.68"/>
<circle cx="290.2" cy="74.7" r="0.68"/>
<circle cx="296.7" cy="67.6" r="0.68"/>
<circle cx="292.7" cy="61.1" r="0.68"/>
<circle cx="281.6" cy="69.7" r="0.68"/>
<circle cx="282.7" cy="61.9" r="0.68"/>
<circle cx="281.2" cy="70.0" r="0.68"/>
<circle cx="278.6" cy="70.3" r="0.68"/>
<circle cx="291.5" cy="59.8" r="0.68"/>
<circle cx="289.9" cy="71.8" r="0.68"/>
<circle cx="279.2" cy="69.9" r="0.68"/>
<circle cx="284.0" cy="70.9" r="0.68"/>
<circle cx="292.2" cy="70.2" r="0.68"/>
<circle cx="276.5" cy="69.7" r="0.68"/>
<circle cx="295.3" cy="62.9" r="0.68"/>
<circle cx="297.3" cy="66.1" r="0.68"/>
<circle cx="279.7" cy="61.9" r="0.68"/>
<circle cx="295.1" cy="70.3" r="0.68"/>
<circle cx="282.2" cy="64.3" r="0.68"/>
<circle cx="277.3" cy="63.6" r="0.68"/>
<circle cx="278.1" cy="68.4" r="0.68"/>
<circle cx="239.5" cy="95.6" r="0.68"/>
<circle cx="241.9" cy="90.6" r="0.68"/>
<circle cx="243.0" cy="97.0" r="0.68"/>
<circle cx="238.7" cy="92.3" r="0.68"/>
<circle cx="238.5" cy="87.9" r="0.68"/>
<circle cx="236.8" cy="89.3" r="0.68"/>
<circle cx="235.6" cy="90.6" r="0.68"/>
<circle cx="238.8" cy="93.1" r="0.68"/>
<circle cx="243.7" cy="97.7" r="0.68"/>
<circle cx="238.4" cy="90.8" r="0.68"/>
<circle cx="243.2" cy="88.8" r="0.68"/>
<circle cx="245.2" cy="94.5" r="0.68"/>
<circle cx="240.8" cy="96.6" r="0.68"/>
<circle cx="237.6" cy="90.4" r="0.68"/>
<circle cx="238.6" cy="90.5" r="0.68"/>
<circle cx="235.4" cy="91.1" r="0.68"/>
<circle cx="244.9" cy="93.8" r="0.68"/>
<circle cx="245.1" cy="93.7" r="0.68"/>
<circle cx="244.3" cy="87.6" r="0.68"/>
<circle cx="239.5" cy="85.5" r="0.68"/>
<circle cx="246.2" cy="96.2" r="0.68"/>
<circle cx="240.4" cy="89.2" r="0.68"/>
<circle cx="243.0" cy="87.6" r="0.68"/>
<circle cx="244.1" cy="97.7" r="0.68"/>
<circle cx="235.0" cy="89.1" r="0.68"/>
<circle cx="244.9" cy="96.3" r="0.68"/>
<circle cx="244.1" cy="92.8" r="0.68"/>
<circle cx="240.0" cy="92.4" r="0.68"/>
<circle cx="238.0" cy="89.7" r="0.68"/>
<circle cx="239.0" cy="97.3" r="0.68"/>
<circle cx="234.8" cy="94.6" r="0.68"/>
<circle cx="236.0" cy="87.0" r="0.68"/>
<circle cx="234.5" cy="88.9" r="0.68"/>
<circle cx="242.9" cy="89.4" r="0.68"/>
<circle cx="240.7" cy="87.4" r="0.68"/>
<circle cx="241.3" cy="85.7" r="0.68"/>
<circle cx="242.0" cy="89.2" r="0.68"/>
<circle cx="236.6" cy="95.9" r="0.68"/>
<circle cx="246.6" cy="89.6" r="0.68"/>
<circle cx="246.2" cy="93.1" r="0.68"/>
<circle cx="252.3" cy="115.4" r="0.68"/>
<circle cx="247.5" cy="108.9" r="0.68"/>
<circle cx="253.6" cy="108.5" r="0.68"/>
<circle cx="246.2" cy="115.6" r="0.68"/>
<circle cx="237.7" cy="114.3" r="0.68"/>
<circle cx="243.2" cy="110.2" r="0.68"/>
<circle cx="249.8" cy="112.1" r="0.68"/>
<circle cx="247.7" cy="108.1" r="0.68"/>
<circle cx="241.2" cy="110.1" r="0.68"/>
<circle cx="243.9" cy="106.8" r="0.68"/>
<circle cx="252.1" cy="118.0" r="0.68"/>
<circle cx="238.3" cy="110.0" r="0.68"/>
<circle cx="249.8" cy="103.9" r="0.68"/>
<circle cx="252.2" cy="112.1" r="0.68"/>
<circle cx="250.5" cy="116.7" r="0.68"/>
<circle cx="252.5" cy="106.2" r="0.68"/>
<circle cx="250.6" cy="112.5" r="0.68"/>
<circle cx="249.7" cy="105.3" r="0.68"/>
<circle cx="240.9" cy="115.4" r="0.68"/>
<circle cx="251.3" cy="118.3" r="0.68"/>
<circle cx="239.0" cy="116.7" r="0.68"/>
<circle cx="244.0" cy="110.1" r="0.68"/>
<circle cx="244.0" cy="115.3" r="0.68"/>
<circle cx="252.3" cy="107.6" r="0.68"/>
<circle cx="250.4" cy="112.7" r="0.68"/>
<circle cx="241.9" cy="116.2" r="0.68"/>
<circle cx="240.8" cy="109.2" r="0.68"/>
<circle cx="245.5" cy="112.6" r="0.68"/>
<circle cx="241.2" cy="109.3" r="0.68"/>
<circle cx="253.1" cy="112.5" r="0.68"/>
<circle cx="248.7" cy="111.5" r="0.68"/>
<circle cx="251.3" cy="117.3" r="0.68"/>
<circle cx="245.6" cy="116.2" r="0.68"/>
<circle cx="241.1" cy="111.7" r="0.68"/>
<circle cx="239.7" cy="109.1" r="0.68"/>
<circle cx="255.9" cy="109.4" r="0.68"/>
<circle cx="253.6" cy="113.1" r="0.68"/>
<circle cx="247.5" cy="103.8" r="0.68"/>
<circle cx="247.5" cy="105.0" r="0.68"/>
<circle cx="242.3" cy="107.8" r="0.68"/>
<circle cx="244.6" cy="119.2" r="0.68"/>
<circle cx="253.0" cy="105.8" r="0.68"/>
<circle cx="244.0" cy="107.4" r="0.68"/>
<circle cx="247.0" cy="104.4" r="0.68"/>
<circle cx="238.4" cy="111.3" r="0.68"/>
<circle cx="241.9" cy="116.8" r="0.68"/>
<circle cx="244.1" cy="113.0" r="0.68"/>
<circle cx="243.3" cy="115.9" r="0.68"/>
<circle cx="253.3" cy="111.3" r="0.68"/>
<circle cx="242.9" cy="114.9" r="0.68"/>
<circle cx="333.1" cy="26.2" r="0.68"/>
<circle cx="333.3" cy="24.2" r="0.68"/>
<circle cx="335.2" cy="21.6" r="0.68"/>
<circle cx="329.1" cy="24.8" r="0.68"/>
<circle cx="332.1" cy="25.4" r="0.68"/>
<circle cx="335.4" cy="24.7" r="0.68"/>
<circle cx="331.2" cy="27.1" r="0.68"/>
<circle cx="328.1" cy="22.4" r="0.68"/>
<circle cx="246.3" cy="21.6" r="0.68"/>
<circle cx="247.4" cy="18.9" r="0.68"/>
<circle cx="249.9" cy="21.3" r="0.68"/>
<circle cx="251.1" cy="19.2" r="0.68"/>
</g>
<g fill="#ffffff" opacity="1.0" filter="url(#bls)">
<circle cx="247.2" cy="34.4" r="0.7"/>
<circle cx="247.8" cy="35.0" r="0.7"/>
<circle cx="256.4" cy="44.0" r="0.7"/>
<circle cx="258.1" cy="45.1" r="0.7"/>
<circle cx="325.3" cy="65.0" r="0.7"/>
<circle cx="323.8" cy="66.5" r="0.7"/>
<circle cx="324.3" cy="66.2" r="0.7"/>
<circle cx="249.0" cy="76.6" r="0.7"/>
<circle cx="249.6" cy="74.0" r="0.7"/>
<circle cx="249.1" cy="76.7" r="0.7"/>
<circle cx="301.6" cy="110.9" r="0.7"/>
<circle cx="301.6" cy="112.1" r="0.7"/>
<circle cx="306.5" cy="122.4" r="0.7"/>
<circle cx="306.3" cy="124.2" r="0.7"/>
<circle cx="303.6" cy="122.9" r="0.7"/>
<circle cx="213.3" cy="96.8" r="0.7"/>
<circle cx="214.9" cy="99.4" r="0.7"/>
<circle cx="283.5" cy="65.9" r="0.7"/>
<circle cx="282.1" cy="68.4" r="0.7"/>
</g>
<rect x="269.3" y="53.3" width="34.4" height="29.9" fill="none" stroke="#d8c400" stroke-width="1.0"/>
<text transform="translate(336.50,11.10) scale(1,1.1)" font-size="9.50" text-anchor="end" fill="#fff" dominant-baseline="central" textLength="90.36" lengthAdjust="spacingAndGlyphs" id="a_ko_title" ><tspan fill="#ee1c1c" font-style="italic">Pvalb</tspan><tspan fill="#f0f0f0">/</tspan><tspan fill="#f0f0f0" font-style="italic">Kcnh7</tspan><tspan fill="#f0f0f0">/</tspan><tspan fill="#1a74d4">Hoechst</tspan></text>
<line x1="313.00" y1="128.80" x2="334.00" y2="128.80" stroke="#d0d0d0" stroke-width="1.3"/>
</g>
<clipPath id="c6"><rect x="342" y="4" width="43" height="43"/></clipPath>
<rect x="342.00" y="4.00" width="43.00" height="43.00" fill="#070512" stroke="none" stroke-width="0" />
<g clip-path="url(#c6)">
<g filter="url(#tex)" opacity="1.0">
<ellipse cx="350.4" cy="32.8" rx="5.9" ry="4.7" fill="rgb(20,25,189)" transform="rotate(-31 350.4 32.8)"/>
<ellipse cx="350.0" cy="31.4" rx="4.4" ry="3.8" fill="rgb(20,25,189)"/>
<ellipse cx="361.3" cy="31.4" rx="3.4" ry="2.5" fill="rgb(23,28,215)" transform="rotate(-12 361.3 31.4)"/>
<ellipse cx="361.3" cy="31.6" rx="2.5" ry="2.0" fill="rgb(23,28,215)"/>
<ellipse cx="367.2" cy="13.1" rx="3.4" ry="2.5" fill="rgb(19,24,181)" transform="rotate(-3 367.2 13.1)"/>
<ellipse cx="366.0" cy="13.9" rx="2.5" ry="2.0" fill="rgb(19,24,181)"/>
<ellipse cx="381.8" cy="5.8" rx="2.5" ry="2.5" fill="rgb(23,27,209)" transform="rotate(0 381.8 5.8)"/>
<ellipse cx="382.6" cy="5.1" rx="1.9" ry="2.0" fill="rgb(23,27,209)"/>
</g>
<g fill="#ff1a1a" opacity="1.0" filter="url(#bls)">
<circle cx="359.3" cy="19.4" r="0.65"/>
<circle cx="364.8" cy="27.5" r="0.65"/>
<circle cx="369.1" cy="27.9" r="0.65"/>
<circle cx="367.0" cy="21.6" r="0.65"/>
<circle cx="369.5" cy="19.0" r="0.65"/>
<circle cx="358.1" cy="23.0" r="0.65"/>
<circle cx="358.0" cy="22.1" r="0.65"/>
<circle cx="361.3" cy="21.4" r="0.65"/>
<circle cx="366.3" cy="19.8" r="0.65"/>
<circle cx="364.2" cy="16.7" r="0.65"/>
<circle cx="367.6" cy="19.4" r="0.65"/>
<circle cx="368.2" cy="15.5" r="0.65"/>
<circle cx="360.7" cy="26.2" r="0.65"/>
<circle cx="355.8" cy="23.4" r="0.65"/>
<circle cx="368.0" cy="26.0" r="0.65"/>
<circle cx="357.5" cy="25.9" r="0.65"/>
<circle cx="367.6" cy="19.0" r="0.65"/>
<circle cx="372.2" cy="24.4" r="0.65"/>
<circle cx="366.8" cy="21.5" r="0.65"/>
<circle cx="371.0" cy="25.3" r="0.65"/>
<circle cx="374.1" cy="27.2" r="0.65"/>
<circle cx="361.8" cy="23.3" r="0.65"/>
<circle cx="373.1" cy="22.6" r="0.65"/>
<circle cx="369.6" cy="28.1" r="0.65"/>
<circle cx="365.8" cy="15.7" r="0.65"/>
<circle cx="368.0" cy="26.6" r="0.65"/>
<circle cx="367.6" cy="20.0" r="0.65"/>
<circle cx="374.6" cy="24.0" r="0.65"/>
<circle cx="362.2" cy="20.4" r="0.65"/>
<circle cx="369.0" cy="18.6" r="0.65"/>
<circle cx="361.8" cy="32.7" r="0.65"/>
<circle cx="374.1" cy="29.8" r="0.65"/>
<circle cx="374.9" cy="27.7" r="0.65"/>
<circle cx="358.1" cy="29.7" r="0.65"/>
<circle cx="374.5" cy="27.3" r="0.65"/>
<circle cx="357.5" cy="29.5" r="0.65"/>
<circle cx="375.0" cy="22.2" r="0.65"/>
<circle cx="367.5" cy="29.5" r="0.65"/>
<circle cx="366.0" cy="31.0" r="0.65"/>
<circle cx="367.2" cy="29.1" r="0.65"/>
<circle cx="367.1" cy="17.1" r="0.65"/>
<circle cx="363.2" cy="33.6" r="0.65"/>
<circle cx="368.4" cy="31.7" r="0.65"/>
<circle cx="372.4" cy="32.0" r="0.65"/>
<circle cx="370.7" cy="21.0" r="0.65"/>
<circle cx="366.7" cy="16.2" r="0.65"/>
<circle cx="365.3" cy="30.1" r="0.65"/>
<circle cx="356.0" cy="25.5" r="0.65"/>
<circle cx="371.5" cy="31.3" r="0.65"/>
<circle cx="360.3" cy="21.0" r="0.65"/>
<circle cx="357.3" cy="20.5" r="0.65"/>
<circle cx="369.2" cy="33.2" r="0.65"/>
<circle cx="360.2" cy="31.1" r="0.65"/>
<circle cx="369.9" cy="21.5" r="0.65"/>
<circle cx="374.0" cy="17.6" r="0.65"/>
<circle cx="365.9" cy="26.7" r="0.65"/>
<circle cx="375.1" cy="30.7" r="0.65"/>
<circle cx="377.3" cy="25.2" r="0.65"/>
<circle cx="372.3" cy="31.3" r="0.65"/>
<circle cx="370.6" cy="27.1" r="0.65"/>
<circle cx="365.0" cy="21.8" r="0.65"/>
<circle cx="360.8" cy="32.3" r="0.65"/>
<circle cx="364.4" cy="16.1" r="0.65"/>
<circle cx="369.3" cy="24.4" r="0.65"/>
<circle cx="367.6" cy="33.0" r="0.65"/>
<circle cx="365.6" cy="22.5" r="0.65"/>
<circle cx="361.0" cy="24.6" r="0.65"/>
<circle cx="363.0" cy="26.1" r="0.65"/>
<circle cx="377.7" cy="25.9" r="0.65"/>
<circle cx="362.3" cy="32.7" r="0.65"/>
<circle cx="372.4" cy="29.3" r="0.65"/>
<circle cx="371.5" cy="29.4" r="0.65"/>
<circle cx="370.6" cy="31.7" r="0.65"/>
<circle cx="372.4" cy="31.2" r="0.65"/>
<circle cx="362.5" cy="24.7" r="0.65"/>
<circle cx="361.7" cy="30.0" r="0.65"/>
<circle cx="372.5" cy="21.9" r="0.65"/>
<circle cx="369.0" cy="33.7" r="0.65"/>
<circle cx="373.8" cy="19.3" r="0.65"/>
<circle cx="365.9" cy="28.8" r="0.65"/>
<circle cx="366.3" cy="27.5" r="0.65"/>
<circle cx="374.4" cy="26.5" r="0.65"/>
<circle cx="359.5" cy="28.6" r="0.65"/>
<circle cx="365.2" cy="26.1" r="0.65"/>
<circle cx="363.1" cy="17.6" r="0.65"/>
<circle cx="358.5" cy="22.8" r="0.65"/>
<circle cx="362.5" cy="16.1" r="0.65"/>
<circle cx="373.3" cy="19.0" r="0.65"/>
<circle cx="361.3" cy="27.9" r="0.65"/>
<circle cx="356.9" cy="29.2" r="0.65"/>
<circle cx="358.6" cy="20.6" r="0.65"/>
<circle cx="359.6" cy="10.2" r="0.65"/>
<circle cx="384.9" cy="4.2" r="0.65"/>
<circle cx="368.1" cy="43.8" r="0.65"/>
<circle cx="353.0" cy="30.3" r="0.65"/>
<circle cx="358.2" cy="14.4" r="0.65"/>
<circle cx="350.5" cy="9.0" r="0.65"/>
<circle cx="378.3" cy="37.7" r="0.65"/>
<circle cx="381.1" cy="6.1" r="0.65"/>
<circle cx="371.9" cy="17.9" r="0.65"/>
<circle cx="369.8" cy="27.6" r="0.65"/>
<circle cx="355.6" cy="45.8" r="0.65"/>
<circle cx="342.0" cy="36.1" r="0.65"/>
<circle cx="378.7" cy="25.9" r="0.65"/>
<circle cx="367.5" cy="46.8" r="0.65"/>
<circle cx="352.1" cy="31.1" r="0.65"/>
<circle cx="374.0" cy="20.3" r="0.65"/>
<circle cx="372.6" cy="20.9" r="0.65"/>
<circle cx="364.6" cy="30.4" r="0.65"/>
<circle cx="371.1" cy="17.9" r="0.65"/>
</g>
<text transform="translate(343.08,8.62) scale(1,1.05)" font-size="9.50" text-anchor="start" fill="#86b43c" dominant-baseline="central" textLength="28.28" lengthAdjust="spacingAndGlyphs" id="a_ko_merge" >Merge</text>
</g>
<clipPath id="c7"><rect x="342" y="50" width="43" height="42"/></clipPath>
<rect x="342.00" y="50.00" width="43.00" height="42.00" fill="#0a0a0a" stroke="none" stroke-width="0" />
<g clip-path="url(#c7)">
<g fill="#bbbbbb" opacity="0.8" filter="url(#bls)">
<circle cx="366.0" cy="65.0" r="0.4"/>
<circle cx="369.0" cy="72.0" r="0.4"/>
<circle cx="376.0" cy="78.0" r="0.4"/>
<circle cx="373.0" cy="85.0" r="0.4"/>
<circle cx="382.0" cy="86.0" r="0.4"/>
<circle cx="364.0" cy="82.0" r="0.4"/>
</g>
<text transform="translate(344.47,55.27) scale(1,1.05)" font-size="9.50" text-anchor="start" fill="#e0e0e0" dominant-baseline="central" font-style="italic" textLength="26.27" lengthAdjust="spacingAndGlyphs" id="a_ko_kcnh7" >Kcnh7</text>
</g>
<clipPath id="c8"><rect x="342" y="94" width="43" height="43"/></clipPath>
<rect x="342.00" y="94.00" width="43.00" height="43.00" fill="#080404" stroke="none" stroke-width="0" />
<g clip-path="url(#c8)">
<g fill="#ff1a1a" opacity="1.0" filter="url(#bls)">
<circle cx="361.1" cy="110.3" r="0.65"/>
<circle cx="368.5" cy="121.3" r="0.65"/>
<circle cx="366.0" cy="122.8" r="0.65"/>
<circle cx="357.4" cy="116.0" r="0.65"/>
<circle cx="359.1" cy="114.0" r="0.65"/>
<circle cx="367.8" cy="118.2" r="0.65"/>
<circle cx="374.5" cy="112.1" r="0.65"/>
<circle cx="358.7" cy="113.9" r="0.65"/>
<circle cx="369.3" cy="110.9" r="0.65"/>
<circle cx="371.9" cy="121.5" r="0.65"/>
<circle cx="358.1" cy="116.5" r="0.65"/>
<circle cx="372.0" cy="107.8" r="0.65"/>
<circle cx="369.0" cy="113.2" r="0.65"/>
<circle cx="359.3" cy="120.0" r="0.65"/>
<circle cx="368.8" cy="111.9" r="0.65"/>
<circle cx="370.4" cy="118.4" r="0.65"/>
<circle cx="372.6" cy="117.9" r="0.65"/>
<circle cx="369.7" cy="109.0" r="0.65"/>
<circle cx="363.3" cy="115.6" r="0.65"/>
<circle cx="358.0" cy="119.9" r="0.65"/>
<circle cx="364.4" cy="109.4" r="0.65"/>
<circle cx="356.9" cy="115.8" r="0.65"/>
<circle cx="367.3" cy="111.3" r="0.65"/>
<circle cx="364.0" cy="110.1" r="0.65"/>
<circle cx="361.2" cy="114.2" r="0.65"/>
<circle cx="362.3" cy="118.4" r="0.65"/>
<circle cx="365.2" cy="116.0" r="0.65"/>
<circle cx="369.6" cy="120.9" r="0.65"/>
<circle cx="371.8" cy="116.1" r="0.65"/>
<circle cx="365.8" cy="110.3" r="0.65"/>
<circle cx="364.4" cy="118.6" r="0.65"/>
<circle cx="369.0" cy="112.3" r="0.65"/>
<circle cx="360.1" cy="108.9" r="0.65"/>
<circle cx="369.3" cy="120.1" r="0.65"/>
<circle cx="369.4" cy="108.4" r="0.65"/>
<circle cx="364.9" cy="116.4" r="0.65"/>
<circle cx="360.4" cy="116.6" r="0.65"/>
<circle cx="365.5" cy="110.2" r="0.65"/>
<circle cx="359.3" cy="118.5" r="0.65"/>
<circle cx="369.6" cy="110.1" r="0.65"/>
<circle cx="360.4" cy="119.1" r="0.65"/>
<circle cx="371.7" cy="113.0" r="0.65"/>
<circle cx="376.5" cy="113.5" r="0.65"/>
<circle cx="360.5" cy="119.8" r="0.65"/>
<circle cx="365.3" cy="117.1" r="0.65"/>
<circle cx="367.3" cy="109.5" r="0.65"/>
<circle cx="359.0" cy="113.8" r="0.65"/>
<circle cx="375.1" cy="110.5" r="0.65"/>
<circle cx="375.7" cy="115.8" r="0.65"/>
<circle cx="359.3" cy="116.2" r="0.65"/>
<circle cx="371.0" cy="110.1" r="0.65"/>
<circle cx="356.4" cy="116.1" r="0.65"/>
<circle cx="359.5" cy="117.0" r="0.65"/>
<circle cx="356.6" cy="114.2" r="0.65"/>
<circle cx="362.3" cy="108.4" r="0.65"/>
<circle cx="364.6" cy="116.1" r="0.65"/>
<circle cx="363.3" cy="109.1" r="0.65"/>
<circle cx="368.2" cy="107.5" r="0.65"/>
<circle cx="371.1" cy="117.6" r="0.65"/>
<circle cx="376.1" cy="118.3" r="0.65"/>
<circle cx="370.1" cy="116.5" r="0.65"/>
<circle cx="367.2" cy="108.4" r="0.65"/>
<circle cx="375.9" cy="117.2" r="0.65"/>
<circle cx="365.1" cy="109.1" r="0.65"/>
<circle cx="376.0" cy="117.2" r="0.65"/>
<circle cx="359.3" cy="118.0" r="0.65"/>
<circle cx="377.3" cy="114.7" r="0.65"/>
<circle cx="370.3" cy="112.3" r="0.65"/>
<circle cx="362.8" cy="120.1" r="0.65"/>
<circle cx="378.3" cy="115.1" r="0.65"/>
<circle cx="366.1" cy="119.2" r="0.65"/>
<circle cx="364.7" cy="118.9" r="0.65"/>
<circle cx="372.4" cy="109.9" r="0.65"/>
<circle cx="359.5" cy="114.4" r="0.65"/>
<circle cx="373.2" cy="116.3" r="0.65"/>
<circle cx="373.9" cy="109.2" r="0.65"/>
<circle cx="370.7" cy="111.3" r="0.65"/>
<circle cx="367.9" cy="117.0" r="0.65"/>
<circle cx="360.1" cy="113.6" r="0.65"/>
<circle cx="359.1" cy="116.1" r="0.65"/>
<circle cx="360.9" cy="112.2" r="0.65"/>
<circle cx="368.7" cy="111.0" r="0.65"/>
<circle cx="374.5" cy="111.7" r="0.65"/>
<circle cx="373.2" cy="116.3" r="0.65"/>
<circle cx="359.7" cy="113.7" r="0.65"/>
<circle cx="360.9" cy="112.9" r="0.65"/>
<circle cx="365.5" cy="122.2" r="0.65"/>
<circle cx="364.5" cy="121.7" r="0.65"/>
<circle cx="369.9" cy="108.6" r="0.65"/>
<circle cx="356.4" cy="117.1" r="0.65"/>
<circle cx="356.9" cy="117.5" r="0.65"/>
<circle cx="374.1" cy="116.8" r="0.65"/>
<circle cx="365.0" cy="113.0" r="0.65"/>
<circle cx="369.3" cy="112.8" r="0.65"/>
<circle cx="362.8" cy="112.6" r="0.65"/>
<circle cx="374.6" cy="111.8" r="0.65"/>
<circle cx="369.6" cy="109.1" r="0.65"/>
<circle cx="362.7" cy="108.6" r="0.65"/>
<circle cx="365.5" cy="118.7" r="0.65"/>
<circle cx="369.5" cy="111.9" r="0.65"/>
<circle cx="381.5" cy="102.9" r="0.65"/>
<circle cx="346.3" cy="98.1" r="0.65"/>
<circle cx="375.7" cy="134.9" r="0.65"/>
<circle cx="359.8" cy="122.3" r="0.65"/>
<circle cx="353.1" cy="133.0" r="0.65"/>
<circle cx="371.5" cy="100.7" r="0.65"/>
<circle cx="344.4" cy="123.9" r="0.65"/>
<circle cx="343.8" cy="130.0" r="0.65"/>
<circle cx="354.6" cy="104.0" r="0.65"/>
<circle cx="367.0" cy="107.7" r="0.65"/>
<circle cx="366.1" cy="100.6" r="0.65"/>
<circle cx="381.2" cy="107.9" r="0.65"/>
<circle cx="378.2" cy="100.5" r="0.65"/>
<circle cx="376.4" cy="136.1" r="0.65"/>
<circle cx="358.8" cy="95.4" r="0.65"/>
<circle cx="358.3" cy="121.6" r="0.65"/>
<circle cx="351.6" cy="117.5" r="0.65"/>
<circle cx="346.0" cy="114.0" r="0.65"/>
<circle cx="373.3" cy="112.5" r="0.65"/>
<circle cx="371.2" cy="98.9" r="0.65"/>
</g>
<text transform="translate(344.05,100.25) scale(1,1.05)" font-size="9.50" text-anchor="start" fill="#ee1c1c" dominant-baseline="central" font-style="italic" textLength="23.80" lengthAdjust="spacingAndGlyphs" id="a_ko_pvalb" >Pvalb</text>
<line x1="369.30" y1="129.10" x2="382.90" y2="129.10" stroke="#d0d0d0" stroke-width="1.3"/>
</g>
<clipPath id="c9"><rect x="16" y="305.5" width="132" height="132"/></clipPath>
<rect x="16.00" y="305.50" width="132.00" height="132.00" fill="#040818" stroke="none" stroke-width="0" />
<g clip-path="url(#c9)">
<g filter="url(#bl2)" fill="#0a1450" opacity="0.6">
<ellipse cx="125.4" cy="321.1" rx="6.7" ry="6.0"/>
<ellipse cx="140.0" cy="374.5" rx="4.2" ry="3.7"/>
<ellipse cx="115.0" cy="370.5" rx="6.7" ry="2.8"/>
<ellipse cx="80.0" cy="419.0" rx="5.4" ry="4.4"/>
<ellipse cx="27.7" cy="323.4" rx="4.1" ry="5.6"/>
<ellipse cx="127.6" cy="335.0" rx="6.7" ry="2.6"/>
<ellipse cx="95.0" cy="432.7" rx="4.4" ry="5.8"/>
<ellipse cx="102.7" cy="311.6" rx="4.3" ry="4.1"/>
<ellipse cx="48.7" cy="403.0" rx="3.7" ry="5.3"/>
<ellipse cx="55.4" cy="314.2" rx="5.2" ry="2.8"/>
<ellipse cx="88.8" cy="409.0" rx="5.4" ry="4.1"/>
<ellipse cx="20.5" cy="372.8" rx="3.4" ry="4.8"/>
<ellipse cx="33.4" cy="381.3" rx="4.4" ry="3.8"/>
<ellipse cx="103.5" cy="326.6" rx="3.7" ry="5.8"/>
<ellipse cx="59.8" cy="416.2" rx="6.5" ry="4.2"/>
<ellipse cx="35.7" cy="317.4" rx="6.5" ry="2.9"/>
<ellipse cx="81.5" cy="375.8" rx="3.5" ry="4.1"/>
<ellipse cx="37.7" cy="375.7" rx="5.0" ry="3.8"/>
<ellipse cx="42.1" cy="358.3" rx="3.8" ry="2.9"/>
<ellipse cx="47.7" cy="420.0" rx="5.0" ry="5.6"/>
<ellipse cx="18.0" cy="429.5" rx="5.0" ry="5.3"/>
<ellipse cx="91.3" cy="395.9" rx="3.9" ry="5.1"/>
<ellipse cx="36.3" cy="339.9" rx="3.1" ry="3.9"/>
<ellipse cx="84.4" cy="343.5" rx="6.6" ry="2.8"/>
<ellipse cx="92.4" cy="335.9" rx="5.4" ry="5.2"/>
<ellipse cx="109.8" cy="313.2" rx="4.0" ry="4.6"/>
<ellipse cx="145.7" cy="310.4" rx="5.5" ry="4.9"/>
<ellipse cx="123.5" cy="350.2" rx="6.2" ry="4.1"/>
<ellipse cx="137.6" cy="306.4" rx="6.8" ry="3.9"/>
<ellipse cx="69.7" cy="316.6" rx="4.0" ry="5.1"/>
</g>
<g fill="#c8c8d8" opacity="0.9" filter="url(#bls)">
<circle cx="105.6" cy="325.0" r="0.45"/>
<circle cx="61.5" cy="323.5" r="0.45"/>
<circle cx="42.2" cy="334.0" r="0.45"/>
<circle cx="59.7" cy="433.8" r="0.45"/>
<circle cx="147.6" cy="409.5" r="0.45"/>
<circle cx="79.3" cy="370.6" r="0.45"/>
<circle cx="118.9" cy="424.9" r="0.45"/>
<circle cx="115.2" cy="389.0" r="0.45"/>
<circle cx="42.3" cy="387.5" r="0.45"/>
<circle cx="127.6" cy="408.8" r="0.45"/>
<circle cx="28.2" cy="399.7" r="0.45"/>
<circle cx="62.1" cy="326.4" r="0.45"/>
<circle cx="143.5" cy="393.8" r="0.45"/>
<circle cx="114.4" cy="322.8" r="0.45"/>
<circle cx="125.4" cy="428.7" r="0.45"/>
<circle cx="135.4" cy="403.3" r="0.45"/>
<circle cx="125.9" cy="410.9" r="0.45"/>
<circle cx="93.9" cy="362.5" r="0.45"/>
<circle cx="124.9" cy="408.5" r="0.45"/>
<circle cx="130.9" cy="344.5" r="0.45"/>
<circle cx="142.8" cy="375.2" r="0.45"/>
<circle cx="140.9" cy="320.3" r="0.45"/>
<circle cx="143.8" cy="408.9" r="0.45"/>
<circle cx="49.3" cy="415.7" r="0.45"/>
<circle cx="46.6" cy="331.1" r="0.45"/>
<circle cx="76.4" cy="336.2" r="0.45"/>
<circle cx="81.0" cy="424.9" r="0.45"/>
<circle cx="106.5" cy="398.8" r="0.45"/>
<circle cx="67.7" cy="408.5" r="0.45"/>
<circle cx="120.8" cy="395.1" r="0.45"/>
<circle cx="140.3" cy="414.0" r="0.45"/>
<circle cx="69.6" cy="316.5" r="0.45"/>
<circle cx="102.1" cy="415.4" r="0.45"/>
<circle cx="60.8" cy="383.5" r="0.45"/>
<circle cx="126.4" cy="409.7" r="0.45"/>
<circle cx="16.6" cy="369.6" r="0.45"/>
<circle cx="18.2" cy="319.6" r="0.45"/>
<circle cx="123.2" cy="360.3" r="0.45"/>
<circle cx="95.8" cy="365.4" r="0.45"/>
<circle cx="60.3" cy="333.2" r="0.45"/>
<circle cx="62.7" cy="416.5" r="0.45"/>
<circle cx="97.7" cy="343.6" r="0.45"/>
<circle cx="27.6" cy="340.8" r="0.45"/>
<circle cx="108.6" cy="363.3" r="0.45"/>
<circle cx="103.3" cy="411.5" r="0.45"/>
<circle cx="31.9" cy="395.1" r="0.45"/>
<circle cx="21.5" cy="413.6" r="0.45"/>
<circle cx="40.3" cy="340.8" r="0.45"/>
<circle cx="142.4" cy="352.8" r="0.45"/>
<circle cx="45.6" cy="422.5" r="0.45"/>
<circle cx="96.6" cy="423.0" r="0.45"/>
<circle cx="68.1" cy="371.0" r="0.45"/>
<circle cx="142.2" cy="371.9" r="0.45"/>
<circle cx="146.5" cy="330.0" r="0.45"/>
<circle cx="125.6" cy="326.4" r="0.45"/>
<circle cx="85.6" cy="305.0" r="0.45"/>
<circle cx="39.1" cy="429.7" r="0.45"/>
<circle cx="76.0" cy="411.8" r="0.45"/>
<circle cx="49.1" cy="351.5" r="0.45"/>
<circle cx="29.3" cy="378.0" r="0.45"/>
<circle cx="129.8" cy="372.8" r="0.45"/>
<circle cx="65.7" cy="427.6" r="0.45"/>
<circle cx="134.0" cy="393.0" r="0.45"/>
<circle cx="26.0" cy="387.4" r="0.45"/>
<circle cx="74.6" cy="431.4" r="0.45"/>
<circle cx="63.8" cy="392.3" r="0.45"/>
<circle cx="99.4" cy="354.6" r="0.45"/>
<circle cx="84.9" cy="394.3" r="0.45"/>
<circle cx="135.7" cy="370.8" r="0.45"/>
<circle cx="64.0" cy="433.9" r="0.45"/>
<circle cx="23.5" cy="415.2" r="0.45"/>
<circle cx="106.2" cy="378.6" r="0.45"/>
<circle cx="75.1" cy="404.1" r="0.45"/>
<circle cx="133.6" cy="401.2" r="0.45"/>
<circle cx="115.0" cy="309.6" r="0.45"/>
<circle cx="58.9" cy="323.1" r="0.45"/>
<circle cx="141.8" cy="422.7" r="0.45"/>
<circle cx="35.1" cy="382.6" r="0.45"/>
<circle cx="92.1" cy="311.2" r="0.45"/>
<circle cx="67.8" cy="403.7" r="0.45"/>
<circle cx="100.7" cy="342.1" r="0.45"/>
<circle cx="116.6" cy="343.4" r="0.45"/>
<circle cx="87.8" cy="360.5" r="0.45"/>
<circle cx="145.1" cy="390.6" r="0.45"/>
<circle cx="122.2" cy="394.3" r="0.45"/>
<circle cx="66.2" cy="432.1" r="0.45"/>
<circle cx="109.7" cy="396.2" r="0.45"/>
<circle cx="52.6" cy="326.4" r="0.45"/>
<circle cx="91.9" cy="414.0" r="0.45"/>
<circle cx="120.8" cy="350.8" r="0.45"/>
<circle cx="34.5" cy="373.1" r="0.45"/>
<circle cx="131.8" cy="326.4" r="0.45"/>
<circle cx="113.5" cy="327.5" r="0.45"/>
<circle cx="57.2" cy="312.1" r="0.45"/>
<circle cx="55.3" cy="355.6" r="0.45"/>
<circle cx="143.6" cy="432.0" r="0.45"/>
<circle cx="40.7" cy="345.8" r="0.45"/>
<circle cx="140.6" cy="331.1" r="0.45"/>
<circle cx="58.4" cy="362.9" r="0.45"/>
<circle cx="30.3" cy="339.3" r="0.45"/>
<circle cx="68.0" cy="355.9" r="0.45"/>
<circle cx="143.2" cy="340.2" r="0.45"/>
<circle cx="42.9" cy="425.0" r="0.45"/>
<circle cx="75.4" cy="415.5" r="0.45"/>
<circle cx="100.1" cy="407.8" r="0.45"/>
<circle cx="57.5" cy="325.1" r="0.45"/>
<circle cx="115.9" cy="367.1" r="0.45"/>
<circle cx="89.8" cy="393.5" r="0.45"/>
<circle cx="115.3" cy="341.4" r="0.45"/>
<circle cx="63.9" cy="426.1" r="0.45"/>
</g>
<g filter="url(#tex)" opacity="1.0">
<ellipse cx="35.7" cy="315.9" rx="5.0" ry="5.0" fill="rgb(22,27,206)" transform="rotate(0 35.7 315.9)"/>
<ellipse cx="35.0" cy="316.4" rx="3.8" ry="4.0" fill="rgb(22,27,206)"/>
<ellipse cx="17.1" cy="324.7" rx="2.5" ry="3.8" fill="rgb(19,24,181)" transform="rotate(19 17.1 324.7)"/>
<ellipse cx="16.3" cy="325.6" rx="1.9" ry="3.0" fill="rgb(19,24,181)"/>
<ellipse cx="58.7" cy="337.8" rx="3.8" ry="5.0" fill="rgb(23,28,210)" transform="rotate(-10 58.7 337.8)"/>
<ellipse cx="59.9" cy="337.0" rx="2.8" ry="4.0" fill="rgb(23,28,210)"/>
<ellipse cx="138.6" cy="318.1" rx="2.5" ry="2.5" fill="rgb(19,24,180)" transform="rotate(0 138.6 318.1)"/>
<ellipse cx="137.8" cy="318.2" rx="1.9" ry="2.0" fill="rgb(19,24,180)"/>
<ellipse cx="98.1" cy="342.2" rx="4.5" ry="3.0" fill="rgb(24,30,227)" transform="rotate(12 98.1 342.2)"/>
<ellipse cx="97.8" cy="342.9" rx="3.4" ry="2.4" fill="rgb(24,30,227)"/>
<ellipse cx="31.3" cy="359.7" rx="3.8" ry="3.8" fill="rgb(18,22,168)" transform="rotate(0 31.3 359.7)"/>
<ellipse cx="30.8" cy="360.1" rx="2.8" ry="3.0" fill="rgb(18,22,168)"/>
<ellipse cx="56.5" cy="359.7" rx="4.5" ry="4.5" fill="rgb(27,32,246)" transform="rotate(0 56.5 359.7)"/>
<ellipse cx="56.9" cy="360.3" rx="3.4" ry="3.6" fill="rgb(27,32,246)"/>
<ellipse cx="102.5" cy="356.4" rx="3.0" ry="3.8" fill="rgb(25,30,229)" transform="rotate(-7 102.5 356.4)"/>
<ellipse cx="103.4" cy="357.1" rx="2.3" ry="3.0" fill="rgb(25,30,229)"/>
<ellipse cx="90.4" cy="367.4" rx="5.0" ry="4.5" fill="rgb(20,25,189)" transform="rotate(-8 90.4 367.4)"/>
<ellipse cx="91.5" cy="366.9" rx="3.8" ry="3.6" fill="rgb(20,25,189)"/>
<ellipse cx="125.5" cy="359.7" rx="4.5" ry="3.8" fill="rgb(19,23,175)" transform="rotate(26 125.5 359.7)"/>
<ellipse cx="125.6" cy="359.8" rx="3.4" ry="3.0" fill="rgb(19,23,175)"/>
<ellipse cx="136.0" cy="358.6" rx="3.0" ry="5.0" fill="rgb(24,29,219)" transform="rotate(28 136.0 358.6)"/>
<ellipse cx="135.2" cy="358.1" rx="2.3" ry="4.0" fill="rgb(24,29,219)"/>
<ellipse cx="144.1" cy="368.5" rx="3.8" ry="5.0" fill="rgb(18,21,164)" transform="rotate(-6 144.1 368.5)"/>
<ellipse cx="144.1" cy="369.7" rx="2.8" ry="4.0" fill="rgb(18,21,164)"/>
<ellipse cx="25.9" cy="379.4" rx="5.5" ry="4.5" fill="rgb(24,29,219)" transform="rotate(5 25.9 379.4)"/>
<ellipse cx="25.5" cy="379.7" rx="4.2" ry="3.6" fill="rgb(24,29,219)"/>
<ellipse cx="37.9" cy="380.5" rx="3.0" ry="3.0" fill="rgb(20,24,183)" transform="rotate(0 37.9 380.5)"/>
<ellipse cx="38.6" cy="381.1" rx="2.3" ry="2.4" fill="rgb(20,24,183)"/>
<ellipse cx="47.7" cy="379.4" rx="4.5" ry="5.0" fill="rgb(25,31,235)" transform="rotate(-24 47.7 379.4)"/>
<ellipse cx="48.3" cy="380.3" rx="3.4" ry="4.0" fill="rgb(25,31,235)"/>
<ellipse cx="33.5" cy="392.6" rx="4.5" ry="5.0" fill="rgb(22,27,204)" transform="rotate(28 33.5 392.6)"/>
<ellipse cx="34.8" cy="393.4" rx="3.4" ry="4.0" fill="rgb(22,27,204)"/>
<ellipse cx="22.6" cy="401.3" rx="3.8" ry="3.8" fill="rgb(25,31,233)" transform="rotate(0 22.6 401.3)"/>
<ellipse cx="23.0" cy="402.3" rx="2.8" ry="3.0" fill="rgb(25,31,233)"/>
<ellipse cx="123.3" cy="376.1" rx="2.5" ry="3.0" fill="rgb(18,22,170)" transform="rotate(14 123.3 376.1)"/>
<ellipse cx="123.6" cy="376.4" rx="1.9" ry="2.4" fill="rgb(18,22,170)"/>
<ellipse cx="115.6" cy="384.9" rx="3.0" ry="2.5" fill="rgb(20,24,183)" transform="rotate(-30 115.6 384.9)"/>
<ellipse cx="115.8" cy="385.5" rx="2.3" ry="2.0" fill="rgb(20,24,183)"/>
<ellipse cx="110.1" cy="394.8" rx="6.3" ry="5.5" fill="rgb(20,24,183)" transform="rotate(-20 110.1 394.8)"/>
<ellipse cx="108.9" cy="393.2" rx="4.7" ry="4.4" fill="rgb(20,24,183)"/>
<ellipse cx="121.1" cy="392.6" rx="4.5" ry="3.8" fill="rgb(24,29,220)" transform="rotate(33 121.1 392.6)"/>
<ellipse cx="122.0" cy="392.2" rx="3.4" ry="3.0" fill="rgb(24,29,220)"/>
<ellipse cx="135.3" cy="394.8" rx="5.0" ry="5.0" fill="rgb(24,29,222)" transform="rotate(0 135.3 394.8)"/>
<ellipse cx="133.8" cy="395.9" rx="3.8" ry="4.0" fill="rgb(24,29,222)"/>
<ellipse cx="95.9" cy="396.9" rx="3.0" ry="2.5" fill="rgb(20,25,187)" transform="rotate(-35 95.9 396.9)"/>
<ellipse cx="96.2" cy="396.3" rx="2.3" ry="2.0" fill="rgb(20,25,187)"/>
<ellipse cx="129.8" cy="403.5" rx="5.0" ry="5.0" fill="rgb(20,24,183)" transform="rotate(0 129.8 403.5)"/>
<ellipse cx="128.3" cy="403.3" rx="3.8" ry="4.0" fill="rgb(20,24,183)"/>
<ellipse cx="139.7" cy="407.9" rx="5.0" ry="5.0" fill="rgb(22,27,209)" transform="rotate(0 139.7 407.9)"/>
<ellipse cx="140.8" cy="406.3" rx="3.8" ry="4.0" fill="rgb(22,27,209)"/>
<ellipse cx="110.1" cy="410.1" rx="6.3" ry="5.0" fill="rgb(25,31,234)" transform="rotate(-27 110.1 410.1)"/>
<ellipse cx="108.9" cy="410.5" rx="4.7" ry="4.0" fill="rgb(25,31,234)"/>
<ellipse cx="123.3" cy="414.5" rx="4.5" ry="3.8" fill="rgb(20,25,189)" transform="rotate(-12 123.3 414.5)"/>
<ellipse cx="123.5" cy="413.7" rx="3.4" ry="3.0" fill="rgb(20,25,189)"/>
<ellipse cx="48.4" cy="413.4" rx="5.0" ry="5.0" fill="rgb(25,30,230)" transform="rotate(0 48.4 413.4)"/>
<ellipse cx="47.4" cy="414.6" rx="3.8" ry="4.0" fill="rgb(25,30,230)"/>
<ellipse cx="34.6" cy="418.8" rx="3.8" ry="3.0" fill="rgb(25,30,232)" transform="rotate(3 34.6 418.8)"/>
<ellipse cx="33.4" cy="419.4" rx="2.8" ry="2.4" fill="rgb(25,30,232)"/>
<ellipse cx="69.6" cy="418.8" rx="3.8" ry="3.8" fill="rgb(17,21,160)" transform="rotate(0 69.6 418.8)"/>
<ellipse cx="69.6" cy="418.6" rx="2.8" ry="3.0" fill="rgb(17,21,160)"/>
<ellipse cx="88.2" cy="421.0" rx="3.8" ry="5.0" fill="rgb(17,21,163)" transform="rotate(9 88.2 421.0)"/>
<ellipse cx="88.8" cy="421.3" rx="2.8" ry="4.0" fill="rgb(17,21,163)"/>
<ellipse cx="98.7" cy="418.8" rx="5.0" ry="4.5" fill="rgb(21,25,194)" transform="rotate(1 98.7 418.8)"/>
<ellipse cx="99.1" cy="418.0" rx="3.8" ry="3.6" fill="rgb(21,25,194)"/>
<ellipse cx="62.0" cy="426.5" rx="5.0" ry="4.5" fill="rgb(26,31,237)" transform="rotate(35 62.0 426.5)"/>
<ellipse cx="63.0" cy="428.0" rx="3.8" ry="3.6" fill="rgb(26,31,237)"/>
<ellipse cx="75.1" cy="427.6" rx="5.0" ry="5.0" fill="rgb(20,25,188)" transform="rotate(0 75.1 427.6)"/>
<ellipse cx="76.8" cy="426.1" rx="3.8" ry="4.0" fill="rgb(20,25,188)"/>
<ellipse cx="88.2" cy="434.2" rx="3.8" ry="3.0" fill="rgb(22,26,201)" transform="rotate(-26 88.2 434.2)"/>
<ellipse cx="88.1" cy="434.5" rx="2.8" ry="2.4" fill="rgb(22,26,201)"/>
<ellipse cx="100.3" cy="429.8" rx="4.5" ry="4.5" fill="rgb(24,29,223)" transform="rotate(0 100.3 429.8)"/>
<ellipse cx="100.1" cy="429.3" rx="3.4" ry="3.6" fill="rgb(24,29,223)"/>
<ellipse cx="110.1" cy="433.1" rx="3.8" ry="3.8" fill="rgb(19,23,175)" transform="rotate(0 110.1 433.1)"/>
<ellipse cx="109.9" cy="432.5" rx="2.8" ry="3.0" fill="rgb(19,23,175)"/>
<ellipse cx="146.3" cy="425.4" rx="2.5" ry="3.8" fill="rgb(19,23,175)" transform="rotate(17 146.3 425.4)"/>
<ellipse cx="146.3" cy="425.2" rx="1.9" ry="3.0" fill="rgb(19,23,175)"/>
<ellipse cx="129.8" cy="434.2" rx="3.8" ry="3.0" fill="rgb(19,23,176)" transform="rotate(14 129.8 434.2)"/>
<ellipse cx="129.0" cy="433.7" rx="2.8" ry="2.4" fill="rgb(19,23,176)"/>
<ellipse cx="48.8" cy="435.3" rx="3.8" ry="2.5" fill="rgb(23,27,209)" transform="rotate(14 48.8 435.3)"/>
<ellipse cx="50.1" cy="435.7" rx="2.8" ry="2.0" fill="rgb(23,27,209)"/>
<ellipse cx="104.7" cy="315.9" rx="3.0" ry="2.5" fill="rgb(26,32,245)" transform="rotate(29 104.7 315.9)"/>
<ellipse cx="105.1" cy="316.3" rx="2.3" ry="2.0" fill="rgb(26,32,245)"/>
<ellipse cx="83.9" cy="326.9" rx="2.5" ry="2.5" fill="rgb(17,21,163)" transform="rotate(0 83.9 326.9)"/>
<ellipse cx="83.3" cy="326.0" rx="1.9" ry="2.0" fill="rgb(17,21,163)"/>
</g>
<g filter="url(#bl2)" fill="#22e022">
<ellipse cx="144.1" cy="342.2" rx="2.6" ry="5.5"/>
<ellipse cx="24.8" cy="357.5" rx="2.2" ry="3.9"/>
<ellipse cx="75.1" cy="318.1" rx="3.1" ry="2.2"/>
<ellipse cx="104.7" cy="358.6" rx="3.3" ry="6.6"/>
<ellipse cx="81.7" cy="357.5" rx="1.8" ry="1.8"/>
<ellipse cx="88.2" cy="434.2" rx="2.2" ry="1.8"/>
</g>
<g filter="url(#tex)" opacity="1.0">
<ellipse cx="103.6" cy="356.4" rx="2.5" ry="3.5" fill="#2a60d0" transform="rotate(16 103.6 356.4)"/>
<ellipse cx="103.8" cy="355.9" rx="1.9" ry="2.8" fill="#2a60d0"/>
</g>
<g fill="#ffffff" opacity="1.0" filter="url(#bls)">
<circle cx="35.0" cy="315.7" r="0.75"/>
<circle cx="33.7" cy="312.9" r="0.75"/>
<circle cx="35.5" cy="315.4" r="0.75"/>
<circle cx="36.5" cy="316.2" r="0.75"/>
<circle cx="34.6" cy="326.6" r="0.75"/>
<circle cx="31.5" cy="328.2" r="0.75"/>
<circle cx="33.3" cy="328.6" r="0.75"/>
<circle cx="32.8" cy="326.2" r="0.75"/>
<circle cx="35.3" cy="327.8" r="0.75"/>
<circle cx="33.0" cy="326.3" r="0.75"/>
<circle cx="32.9" cy="327.1" r="0.75"/>
<circle cx="34.2" cy="329.2" r="0.75"/>
<circle cx="31.0" cy="327.9" r="0.75"/>
<circle cx="47.7" cy="326.2" r="0.75"/>
<circle cx="49.9" cy="324.6" r="0.75"/>
<circle cx="50.5" cy="324.9" r="0.75"/>
<circle cx="56.3" cy="338.7" r="0.75"/>
<circle cx="56.7" cy="339.4" r="0.75"/>
<circle cx="59.3" cy="337.0" r="0.75"/>
<circle cx="60.1" cy="337.9" r="0.75"/>
<circle cx="103.1" cy="317.3" r="0.75"/>
<circle cx="107.4" cy="318.3" r="0.75"/>
<circle cx="105.1" cy="316.4" r="0.75"/>
<circle cx="107.4" cy="318.8" r="0.75"/>
<circle cx="103.9" cy="318.0" r="0.75"/>
<circle cx="89.4" cy="369.2" r="0.75"/>
<circle cx="92.0" cy="366.2" r="0.75"/>
<circle cx="89.6" cy="366.5" r="0.75"/>
<circle cx="90.5" cy="369.9" r="0.75"/>
<circle cx="143.3" cy="369.0" r="0.75"/>
<circle cx="143.2" cy="368.0" r="0.75"/>
<circle cx="144.7" cy="370.2" r="0.75"/>
<circle cx="142.0" cy="367.4" r="0.75"/>
<circle cx="25.3" cy="377.8" r="0.75"/>
<circle cx="28.2" cy="380.3" r="0.75"/>
<circle cx="27.8" cy="380.0" r="0.75"/>
<circle cx="23.9" cy="380.7" r="0.75"/>
<circle cx="25.5" cy="378.2" r="0.75"/>
<circle cx="24.4" cy="377.7" r="0.75"/>
<circle cx="46.6" cy="378.5" r="0.75"/>
<circle cx="49.7" cy="377.2" r="0.75"/>
<circle cx="49.1" cy="378.8" r="0.75"/>
<circle cx="49.2" cy="378.2" r="0.75"/>
<circle cx="45.7" cy="379.8" r="0.75"/>
<circle cx="48.8" cy="376.5" r="0.75"/>
<circle cx="22.5" cy="400.8" r="0.75"/>
<circle cx="25.0" cy="402.8" r="0.75"/>
<circle cx="22.8" cy="400.8" r="0.75"/>
<circle cx="129.0" cy="389.7" r="0.75"/>
<circle cx="128.9" cy="388.8" r="0.75"/>
<circle cx="126.3" cy="387.1" r="0.75"/>
<circle cx="125.8" cy="387.4" r="0.75"/>
<circle cx="127.6" cy="390.3" r="0.75"/>
<circle cx="132.4" cy="402.7" r="0.75"/>
<circle cx="132.2" cy="404.0" r="0.75"/>
<circle cx="129.5" cy="401.3" r="0.75"/>
<circle cx="130.3" cy="401.4" r="0.75"/>
<circle cx="128.9" cy="402.4" r="0.75"/>
<circle cx="130.5" cy="400.0" r="0.75"/>
<circle cx="139.8" cy="406.7" r="0.75"/>
<circle cx="141.0" cy="405.2" r="0.75"/>
<circle cx="140.6" cy="405.1" r="0.75"/>
<circle cx="138.0" cy="405.4" r="0.75"/>
<circle cx="139.9" cy="406.1" r="0.75"/>
<circle cx="141.8" cy="407.4" r="0.75"/>
<circle cx="109.7" cy="410.6" r="0.75"/>
<circle cx="112.7" cy="409.1" r="0.75"/>
<circle cx="112.8" cy="409.3" r="0.75"/>
<circle cx="110.9" cy="407.4" r="0.75"/>
<circle cx="111.9" cy="410.4" r="0.75"/>
<circle cx="110.7" cy="410.6" r="0.75"/>
<circle cx="50.7" cy="415.0" r="0.75"/>
<circle cx="46.7" cy="412.9" r="0.75"/>
<circle cx="50.5" cy="414.6" r="0.75"/>
<circle cx="50.0" cy="411.4" r="0.75"/>
<circle cx="49.9" cy="414.3" r="0.75"/>
<circle cx="74.3" cy="428.6" r="0.75"/>
<circle cx="76.5" cy="428.1" r="0.75"/>
<circle cx="77.7" cy="426.2" r="0.75"/>
<circle cx="75.9" cy="426.5" r="0.75"/>
<circle cx="77.0" cy="427.9" r="0.75"/>
<circle cx="73.3" cy="425.4" r="0.75"/>
<circle cx="98.4" cy="429.1" r="0.75"/>
<circle cx="98.4" cy="427.3" r="0.75"/>
<circle cx="102.5" cy="427.6" r="0.75"/>
<circle cx="101.1" cy="426.3" r="0.75"/>
<circle cx="101.6" cy="426.8" r="0.75"/>
<circle cx="125.7" cy="413.8" r="0.75"/>
<circle cx="124.4" cy="412.0" r="0.75"/>
<circle cx="124.2" cy="412.6" r="0.75"/>
<circle cx="61.6" cy="433.6" r="0.75"/>
<circle cx="59.4" cy="432.9" r="0.75"/>
<circle cx="59.2" cy="435.6" r="0.75"/>
<circle cx="39.7" cy="397.7" r="0.75"/>
<circle cx="37.3" cy="397.8" r="0.75"/>
<circle cx="38.4" cy="394.9" r="0.75"/>
<circle cx="70.9" cy="368.3" r="0.75"/>
<circle cx="73.3" cy="370.6" r="0.75"/>
<circle cx="88.0" cy="332.6" r="0.75"/>
<circle cx="87.9" cy="331.5" r="0.75"/>
<circle cx="119.2" cy="401.6" r="0.75"/>
<circle cx="120.4" cy="398.4" r="0.75"/>
<circle cx="119.2" cy="396.9" r="0.75"/>
<circle cx="96.9" cy="406.4" r="0.75"/>
<circle cx="93.9" cy="407.7" r="0.75"/>
<circle cx="95.6" cy="406.6" r="0.75"/>
<circle cx="27.9" cy="413.3" r="0.75"/>
<circle cx="26.3" cy="413.9" r="0.75"/>
<circle cx="30.3" cy="416.1" r="0.75"/>
<circle cx="137.3" cy="417.3" r="0.75"/>
<circle cx="140.4" cy="418.2" r="0.75"/>
<circle cx="140.7" cy="417.7" r="0.75"/>
</g>
<rect x="85.0" y="344.8" width="32.1" height="28.7" fill="none" stroke="#d8c400" stroke-width="1.0"/>
<text transform="translate(144.12,312.32) scale(1,1.1)" font-size="9.50" text-anchor="end" fill="#fff" dominant-baseline="central" textLength="81.08" lengthAdjust="spacingAndGlyphs" id="f_wt_title" ><tspan fill="#2bb52b" font-style="italic">Sst</tspan><tspan fill="#f0f0f0">/</tspan><tspan fill="#f0f0f0" font-style="italic">Kcnh7</tspan><tspan fill="#f0f0f0">/</tspan><tspan fill="#1868c0">Hoechst</tspan></text>
<line x1="118.90" y1="431.30" x2="140.80" y2="431.30" stroke="#d0d0d0" stroke-width="1.3"/>
</g>
<clipPath id="c10"><rect x="150" y="306" width="43" height="42"/></clipPath>
<rect x="150.00" y="306.00" width="43.00" height="42.00" fill="#040818" stroke="none" stroke-width="0" />
<g clip-path="url(#c10)">
<g filter="url(#bl2)">
<path d="M172,314.5 C178,315 180.5,322 180,328 C179.5,333 175,334.5 171,331.5 C167,328 165.5,318 172,314.5 Z" fill="#10c010"/>
<ellipse cx="175.5" cy="328" rx="3.5" ry="3.5" fill="#30ff30"/>
<ellipse cx="172.7" cy="320.5" rx="4.2" ry="5.3" fill="#2a6ce0"/>
<ellipse cx="157" cy="334" rx="5.5" ry="4.5" fill="#1c22ff"/>
<ellipse cx="151" cy="345" rx="3" ry="3" fill="#1c22ff"/>
</g>
<g fill="#fff" opacity="1.0" filter="url(#bls)">
<circle cx="157.0" cy="333.0" r="0.6"/>
<circle cx="161.0" cy="336.0" r="0.6"/>
<circle cx="170.0" cy="327.0" r="0.6"/>
<circle cx="186.0" cy="307.0" r="0.6"/>
</g>
<text transform="translate(151.48,309.55) scale(1,1.05)" font-size="9.50" text-anchor="start" fill="#86b43c" dominant-baseline="central" textLength="27.30" lengthAdjust="spacingAndGlyphs" id="f_wt_merge" >Merge</text>
</g>
<clipPath id="c11"><rect x="150" y="351" width="43" height="42.4"/></clipPath>
<rect x="150.00" y="351.00" width="43.00" height="42.40" fill="#050505" stroke="none" stroke-width="0" />
<g clip-path="url(#c11)">
<g fill="#e8e8e8" opacity="1.0" filter="url(#bls)">
<circle cx="169.2" cy="369.9" r="0.6"/>
<circle cx="153.6" cy="381.0" r="0.6"/>
<circle cx="159.2" cy="378.8" r="0.6"/>
<circle cx="174.8" cy="364.3" r="0.6"/>
<circle cx="172.0" cy="376.0" r="0.6"/>
</g>
<text transform="translate(151.80,355.15) scale(1,1.05)" font-size="9.50" text-anchor="start" fill="#e0e0e0" dominant-baseline="central" font-style="italic" textLength="26.97" lengthAdjust="spacingAndGlyphs" id="f_wt_kcnh7" >Kcnh7</text>
</g>
<clipPath id="c12"><rect x="150" y="395" width="43" height="42.5"/></clipPath>
<rect x="150.00" y="395.00" width="43.00" height="42.50" fill="#050805" stroke="none" stroke-width="0" />
<g clip-path="url(#c12)">
<g filter="url(#gtex)"><path d="M171,400.5 C177,401 180.5,410 180,416 C179.5,421 175,423 171,420 C166.5,416.5 165,404 171,400.5 Z" fill="#14b814"/><ellipse cx="171.5" cy="409" rx="3.5" ry="6" fill="#063a06"/><ellipse cx="175.5" cy="417.5" rx="3.8" ry="3.2" fill="#30f030"/></g>
<text transform="translate(151.93,401.08) scale(1,1.05)" font-size="9.50" text-anchor="start" fill="#2bb52b" dominant-baseline="central" font-style="italic" textLength="12.20" lengthAdjust="spacingAndGlyphs" id="f_wt_sst" >Sst</text>
<line x1="177.00" y1="431.30" x2="190.40" y2="431.30" stroke="#d0d0d0" stroke-width="1.3"/>
</g>
<clipPath id="c13"><rect x="210" y="307.2" width="132" height="132.2"/></clipPath>
<rect x="210.00" y="307.20" width="132.00" height="132.20" fill="#01050a" stroke="none" stroke-width="0" />
<g clip-path="url(#c13)">
<g filter="url(#bl2)" fill="#081040" opacity="0.6">
<ellipse cx="337.7" cy="318.8" rx="3.8" ry="3.5"/>
<ellipse cx="329.7" cy="308.8" rx="4.0" ry="5.0"/>
<ellipse cx="340.6" cy="330.3" rx="4.8" ry="4.9"/>
<ellipse cx="301.2" cy="405.5" rx="6.0" ry="3.4"/>
<ellipse cx="243.9" cy="310.7" rx="5.8" ry="3.2"/>
<ellipse cx="244.3" cy="434.3" rx="5.6" ry="4.6"/>
<ellipse cx="296.6" cy="385.9" rx="5.8" ry="3.6"/>
<ellipse cx="218.4" cy="315.8" rx="3.1" ry="3.8"/>
<ellipse cx="228.8" cy="321.9" rx="5.0" ry="5.9"/>
<ellipse cx="300.8" cy="343.1" rx="6.1" ry="3.1"/>
<ellipse cx="223.2" cy="347.0" rx="4.6" ry="4.9"/>
<ellipse cx="268.7" cy="403.1" rx="3.4" ry="5.8"/>
<ellipse cx="255.2" cy="416.9" rx="3.1" ry="5.4"/>
<ellipse cx="239.9" cy="419.9" rx="6.2" ry="4.8"/>
<ellipse cx="246.6" cy="308.3" rx="3.8" ry="5.7"/>
<ellipse cx="230.9" cy="394.0" rx="5.3" ry="4.8"/>
<ellipse cx="233.8" cy="326.0" rx="3.4" ry="5.9"/>
<ellipse cx="260.6" cy="393.1" rx="5.3" ry="3.3"/>
</g>
<g fill="#c8c8d8" opacity="0.9" filter="url(#bls)">
<circle cx="218.6" cy="309.0" r="0.45"/>
<circle cx="322.5" cy="324.2" r="0.45"/>
<circle cx="337.1" cy="355.0" r="0.45"/>
<circle cx="305.4" cy="325.3" r="0.45"/>
<circle cx="314.0" cy="340.2" r="0.45"/>
<circle cx="258.3" cy="376.0" r="0.45"/>
<circle cx="224.7" cy="339.8" r="0.45"/>
<circle cx="315.1" cy="344.7" r="0.45"/>
<circle cx="260.3" cy="408.0" r="0.45"/>
<circle cx="239.6" cy="332.6" r="0.45"/>
<circle cx="238.9" cy="357.7" r="0.45"/>
<circle cx="258.2" cy="391.7" r="0.45"/>
<circle cx="272.3" cy="421.8" r="0.45"/>
<circle cx="216.7" cy="394.6" r="0.45"/>
<circle cx="320.4" cy="338.0" r="0.45"/>
<circle cx="213.9" cy="364.9" r="0.45"/>
<circle cx="225.3" cy="367.7" r="0.45"/>
<circle cx="303.9" cy="319.4" r="0.45"/>
<circle cx="225.5" cy="370.3" r="0.45"/>
<circle cx="232.9" cy="337.5" r="0.45"/>
<circle cx="268.1" cy="322.6" r="0.45"/>
<circle cx="219.0" cy="354.7" r="0.45"/>
<circle cx="271.9" cy="430.6" r="0.45"/>
<circle cx="283.2" cy="316.4" r="0.45"/>
<circle cx="239.4" cy="405.2" r="0.45"/>
<circle cx="284.3" cy="421.9" r="0.45"/>
<circle cx="337.0" cy="420.2" r="0.45"/>
<circle cx="224.5" cy="431.6" r="0.45"/>
<circle cx="279.3" cy="338.6" r="0.45"/>
<circle cx="232.5" cy="421.1" r="0.45"/>
<circle cx="238.0" cy="318.0" r="0.45"/>
<circle cx="245.0" cy="429.0" r="0.45"/>
<circle cx="270.8" cy="403.5" r="0.45"/>
<circle cx="219.8" cy="366.8" r="0.45"/>
<circle cx="252.0" cy="334.1" r="0.45"/>
<circle cx="297.5" cy="354.7" r="0.45"/>
<circle cx="225.8" cy="436.9" r="0.45"/>
<circle cx="273.6" cy="330.8" r="0.45"/>
<circle cx="211.4" cy="393.2" r="0.45"/>
<circle cx="277.9" cy="310.2" r="0.45"/>
<circle cx="272.1" cy="404.7" r="0.45"/>
<circle cx="280.9" cy="337.9" r="0.45"/>
<circle cx="275.9" cy="386.9" r="0.45"/>
<circle cx="295.9" cy="326.1" r="0.45"/>
<circle cx="316.1" cy="431.8" r="0.45"/>
<circle cx="307.7" cy="420.2" r="0.45"/>
<circle cx="258.5" cy="426.2" r="0.45"/>
<circle cx="234.0" cy="336.9" r="0.45"/>
<circle cx="288.9" cy="426.0" r="0.45"/>
<circle cx="220.8" cy="335.6" r="0.45"/>
</g>
<g filter="url(#tex)" opacity="1.0">
<ellipse cx="235.2" cy="312.5" rx="4.5" ry="3.8" fill="rgb(17,21,161)" transform="rotate(-4 235.2 312.5)"/>
<ellipse cx="234.0" cy="311.7" rx="3.4" ry="3.0" fill="rgb(17,21,161)"/>
<ellipse cx="226.4" cy="323.4" rx="3.0" ry="2.5" fill="rgb(24,30,226)" transform="rotate(6 226.4 323.4)"/>
<ellipse cx="227.3" cy="323.2" rx="2.3" ry="2.0" fill="rgb(24,30,226)"/>
<ellipse cx="284.4" cy="321.2" rx="4.5" ry="4.5" fill="rgb(24,29,220)" transform="rotate(0 284.4 321.2)"/>
<ellipse cx="282.9" cy="322.7" rx="3.4" ry="3.6" fill="rgb(24,29,220)"/>
<ellipse cx="305.9" cy="321.2" rx="3.0" ry="4.5" fill="rgb(19,23,179)" transform="rotate(-2 305.9 321.2)"/>
<ellipse cx="305.9" cy="322.7" rx="2.3" ry="3.6" fill="rgb(19,23,179)"/>
<ellipse cx="317.3" cy="315.8" rx="2.5" ry="2.5" fill="rgb(22,27,203)" transform="rotate(0 317.3 315.8)"/>
<ellipse cx="318.1" cy="316.0" rx="1.9" ry="2.0" fill="rgb(22,27,203)"/>
<ellipse cx="337.0" cy="326.7" rx="3.0" ry="3.8" fill="rgb(19,23,177)" transform="rotate(23 337.0 326.7)"/>
<ellipse cx="336.3" cy="328.0" rx="2.3" ry="3.0" fill="rgb(19,23,177)"/>
<ellipse cx="224.9" cy="333.3" rx="3.8" ry="3.8" fill="rgb(21,26,200)" transform="rotate(0 224.9 333.3)"/>
<ellipse cx="224.2" cy="334.5" rx="2.8" ry="3.0" fill="rgb(21,26,200)"/>
<ellipse cx="239.6" cy="348.6" rx="3.8" ry="3.8" fill="rgb(20,25,187)" transform="rotate(0 239.6 348.6)"/>
<ellipse cx="239.3" cy="348.2" rx="2.8" ry="3.0" fill="rgb(20,25,187)"/>
<ellipse cx="240.6" cy="357.4" rx="3.8" ry="2.5" fill="rgb(24,29,219)" transform="rotate(-33 240.6 357.4)"/>
<ellipse cx="240.3" cy="356.8" rx="2.8" ry="2.0" fill="rgb(24,29,219)"/>
<ellipse cx="277.9" cy="334.4" rx="3.0" ry="3.8" fill="rgb(25,31,234)" transform="rotate(-35 277.9 334.4)"/>
<ellipse cx="278.1" cy="333.7" rx="2.3" ry="3.0" fill="rgb(25,31,234)"/>
<ellipse cx="286.2" cy="336.6" rx="2.5" ry="2.5" fill="rgb(21,26,199)" transform="rotate(0 286.2 336.6)"/>
<ellipse cx="286.3" cy="336.9" rx="1.9" ry="2.0" fill="rgb(21,26,199)"/>
<ellipse cx="301.9" cy="350.8" rx="5.0" ry="5.0" fill="rgb(18,22,170)" transform="rotate(0 301.9 350.8)"/>
<ellipse cx="301.0" cy="349.4" rx="3.8" ry="4.0" fill="rgb(18,22,170)"/>
<ellipse cx="261.4" cy="359.5" rx="5.0" ry="5.0" fill="rgb(27,32,246)" transform="rotate(0 261.4 359.5)"/>
<ellipse cx="260.2" cy="358.3" rx="3.8" ry="4.0" fill="rgb(27,32,246)"/>
<ellipse cx="246.8" cy="363.5" rx="3.8" ry="3.8" fill="rgb(22,27,206)" transform="rotate(0 246.8 363.5)"/>
<ellipse cx="247.0" cy="364.5" rx="2.8" ry="3.0" fill="rgb(22,27,206)"/>
<ellipse cx="226.4" cy="365.0" rx="5.0" ry="3.8" fill="rgb(17,21,163)" transform="rotate(-19 226.4 365.0)"/>
<ellipse cx="225.2" cy="365.2" rx="3.8" ry="3.0" fill="rgb(17,21,163)"/>
<ellipse cx="304.1" cy="361.3" rx="4.5" ry="3.0" fill="rgb(21,26,199)" transform="rotate(-6 304.1 361.3)"/>
<ellipse cx="305.4" cy="361.6" rx="3.4" ry="2.4" fill="rgb(21,26,199)"/>
<ellipse cx="289.9" cy="367.2" rx="4.5" ry="3.8" fill="rgb(26,31,237)" transform="rotate(32 289.9 367.2)"/>
<ellipse cx="289.2" cy="368.4" rx="3.4" ry="3.0" fill="rgb(26,31,237)"/>
<ellipse cx="217.7" cy="370.5" rx="3.8" ry="3.8" fill="rgb(21,26,195)" transform="rotate(0 217.7 370.5)"/>
<ellipse cx="216.5" cy="371.6" rx="2.8" ry="3.0" fill="rgb(21,26,195)"/>
<ellipse cx="264.7" cy="374.9" rx="3.8" ry="3.8" fill="rgb(18,22,167)" transform="rotate(0 264.7 374.9)"/>
<ellipse cx="263.5" cy="374.3" rx="2.8" ry="3.0" fill="rgb(18,22,167)"/>
<ellipse cx="306.3" cy="372.7" rx="2.5" ry="2.5" fill="rgb(20,24,184)" transform="rotate(0 306.3 372.7)"/>
<ellipse cx="307.1" cy="373.3" rx="1.9" ry="2.0" fill="rgb(20,24,184)"/>
<ellipse cx="335.9" cy="379.2" rx="4.5" ry="4.5" fill="rgb(21,26,196)" transform="rotate(0 335.9 379.2)"/>
<ellipse cx="336.0" cy="380.3" rx="3.4" ry="3.6" fill="rgb(21,26,196)"/>
<ellipse cx="238.5" cy="386.9" rx="3.8" ry="4.5" fill="rgb(25,30,232)" transform="rotate(11 238.5 386.9)"/>
<ellipse cx="238.5" cy="385.7" rx="2.8" ry="3.6" fill="rgb(25,30,232)"/>
<ellipse cx="251.2" cy="388.0" rx="3.8" ry="3.8" fill="rgb(19,24,180)" transform="rotate(0 251.2 388.0)"/>
<ellipse cx="251.6" cy="388.2" rx="2.8" ry="3.0" fill="rgb(19,24,180)"/>
<ellipse cx="276.8" cy="389.1" rx="3.8" ry="4.5" fill="rgb(25,30,231)" transform="rotate(28 276.8 389.1)"/>
<ellipse cx="278.0" cy="388.1" rx="2.8" ry="3.6" fill="rgb(25,30,231)"/>
<ellipse cx="301.9" cy="393.5" rx="3.8" ry="3.8" fill="rgb(18,22,165)" transform="rotate(0 301.9 393.5)"/>
<ellipse cx="303.0" cy="393.7" rx="2.8" ry="3.0" fill="rgb(18,22,165)"/>
<ellipse cx="323.8" cy="390.2" rx="2.5" ry="2.5" fill="rgb(19,23,174)" transform="rotate(0 323.8 390.2)"/>
<ellipse cx="324.2" cy="389.8" rx="1.9" ry="2.0" fill="rgb(19,23,174)"/>
<ellipse cx="212.2" cy="403.3" rx="3.8" ry="4.5" fill="rgb(19,23,179)" transform="rotate(-9 212.2 403.3)"/>
<ellipse cx="212.3" cy="403.9" rx="2.8" ry="3.6" fill="rgb(19,23,179)"/>
<ellipse cx="301.9" cy="403.3" rx="3.8" ry="3.8" fill="rgb(18,21,164)" transform="rotate(0 301.9 403.3)"/>
<ellipse cx="302.6" cy="403.7" rx="2.8" ry="3.0" fill="rgb(18,21,164)"/>
<ellipse cx="332.6" cy="403.3" rx="4.5" ry="4.5" fill="rgb(22,26,201)" transform="rotate(0 332.6 403.3)"/>
<ellipse cx="333.1" cy="404.3" rx="3.4" ry="3.6" fill="rgb(22,26,201)"/>
<ellipse cx="236.3" cy="396.8" rx="2.5" ry="2.5" fill="rgb(17,21,158)" transform="rotate(0 236.3 396.8)"/>
<ellipse cx="236.2" cy="397.1" rx="1.9" ry="2.0" fill="rgb(17,21,158)"/>
<ellipse cx="272.4" cy="411.0" rx="5.0" ry="3.8" fill="rgb(24,29,223)" transform="rotate(10 272.4 411.0)"/>
<ellipse cx="271.3" cy="412.2" rx="3.8" ry="3.0" fill="rgb(24,29,223)"/>
<ellipse cx="257.1" cy="414.3" rx="3.8" ry="3.8" fill="rgb(25,30,230)" transform="rotate(0 257.1 414.3)"/>
<ellipse cx="256.4" cy="414.1" rx="2.8" ry="3.0" fill="rgb(25,30,230)"/>
<ellipse cx="317.3" cy="413.2" rx="6.3" ry="3.0" fill="rgb(27,32,246)" transform="rotate(-20 317.3 413.2)"/>
<ellipse cx="316.9" cy="414.1" rx="4.7" ry="2.4" fill="rgb(27,32,246)"/>
<ellipse cx="306.3" cy="421.9" rx="5.0" ry="5.0" fill="rgb(26,32,240)" transform="rotate(0 306.3 421.9)"/>
<ellipse cx="305.4" cy="422.8" rx="3.8" ry="4.0" fill="rgb(26,32,240)"/>
<ellipse cx="291.0" cy="435.1" rx="3.8" ry="3.0" fill="rgb(20,25,191)" transform="rotate(11 291.0 435.1)"/>
<ellipse cx="291.7" cy="434.3" rx="2.8" ry="2.4" fill="rgb(20,25,191)"/>
<ellipse cx="220.9" cy="435.1" rx="2.5" ry="2.5" fill="rgb(19,23,178)" transform="rotate(0 220.9 435.1)"/>
<ellipse cx="220.4" cy="434.7" rx="1.9" ry="2.0" fill="rgb(19,23,178)"/>
<ellipse cx="238.5" cy="434.0" rx="2.5" ry="2.5" fill="rgb(17,21,161)" transform="rotate(0 238.5 434.0)"/>
<ellipse cx="237.8" cy="433.8" rx="1.9" ry="2.0" fill="rgb(17,21,161)"/>
<ellipse cx="306.3" cy="428.5" rx="3.0" ry="2.5" fill="rgb(21,26,196)" transform="rotate(-30 306.3 428.5)"/>
<ellipse cx="306.5" cy="429.3" rx="2.3" ry="2.0" fill="rgb(21,26,196)"/>
</g>
<g filter="url(#bl2)">
<ellipse cx="239" cy="337" rx="9.2" ry="7.2" fill="#22e822" transform="rotate(-25 239 337)"/>
<ellipse cx="332.5" cy="335" rx="3.2" ry="7.5" fill="#22d022" transform="rotate(-40 332.5 335)"/>
<ellipse cx="283.3" cy="429.6" rx="4.6" ry="6.5" fill="#22e022"/>
<ellipse cx="238" cy="337" rx="5.5" ry="4.2" fill="#1a78d8" transform="rotate(-25 238 337)"/>
<ellipse cx="283" cy="430.5" rx="2.4" ry="3.5" fill="#1a70d8"/>
</g>
<g fill="#ffffff" opacity="1.0" filter="url(#bls)">
<circle cx="283.0" cy="320.5" r="0.7"/>
<circle cx="283.9" cy="319.7" r="0.7"/>
<circle cx="278.7" cy="335.8" r="0.7"/>
<circle cx="279.8" cy="334.6" r="0.7"/>
<circle cx="302.8" cy="351.0" r="0.7"/>
<circle cx="303.9" cy="349.3" r="0.7"/>
<circle cx="302.9" cy="348.2" r="0.7"/>
<circle cx="225.1" cy="363.0" r="0.7"/>
<circle cx="227.8" cy="364.1" r="0.7"/>
<circle cx="226.6" cy="362.9" r="0.7"/>
<circle cx="217.6" cy="372.4" r="0.7"/>
<circle cx="216.0" cy="369.4" r="0.7"/>
<circle cx="239.8" cy="384.6" r="0.7"/>
<circle cx="238.9" cy="386.9" r="0.7"/>
<circle cx="249.2" cy="386.5" r="0.7"/>
<circle cx="251.0" cy="388.1" r="0.7"/>
<circle cx="307.8" cy="372.7" r="0.7"/>
<circle cx="305.9" cy="371.6" r="0.7"/>
<circle cx="306.5" cy="374.1" r="0.7"/>
<circle cx="332.1" cy="400.3" r="0.7"/>
<circle cx="333.9" cy="402.4" r="0.7"/>
<circle cx="334.6" cy="401.4" r="0.7"/>
<circle cx="213.1" cy="403.4" r="0.7"/>
<circle cx="210.6" cy="402.0" r="0.7"/>
<circle cx="255.5" cy="415.1" r="0.7"/>
<circle cx="257.0" cy="415.4" r="0.7"/>
<circle cx="258.3" cy="414.9" r="0.7"/>
<circle cx="307.9" cy="421.8" r="0.7"/>
<circle cx="305.8" cy="419.5" r="0.7"/>
<circle cx="306.8" cy="419.1" r="0.7"/>
<circle cx="235.3" cy="323.7" r="0.7"/>
<circle cx="245.8" cy="350.4" r="0.7"/>
<circle cx="243.8" cy="348.2" r="0.7"/>
<circle cx="279.0" cy="389.5" r="0.7"/>
<circle cx="276.4" cy="389.2" r="0.7"/>
<circle cx="324.1" cy="392.0" r="0.7"/>
<circle cx="324.3" cy="389.0" r="0.7"/>
</g>
<rect x="219.2" y="327.4" width="32.4" height="29.3" fill="none" stroke="#d8c400" stroke-width="1.0"/>
<text transform="translate(336.37,313.25) scale(1,1.1)" font-size="9.50" text-anchor="end" fill="#fff" dominant-baseline="central" textLength="80.08" lengthAdjust="spacingAndGlyphs" id="f_ko_title" ><tspan fill="#2bb52b" font-style="italic">Sst</tspan><tspan fill="#f0f0f0">/</tspan><tspan fill="#f0f0f0" font-style="italic">Kcnh7</tspan><tspan fill="#f0f0f0">/</tspan><tspan fill="#1868c0">Hoechst</tspan></text>
<line x1="312.90" y1="433.30" x2="334.80" y2="433.30" stroke="#d0d0d0" stroke-width="1.3"/>
</g>
<clipPath id="c14"><rect x="343.5" y="308" width="43" height="42.6"/></clipPath>
<rect x="343.50" y="308.00" width="43.00" height="42.60" fill="#01050a" stroke="none" stroke-width="0" />
<g clip-path="url(#c14)">
<g filter="url(#bl2)">
<ellipse cx="366.2" cy="326" rx="12" ry="8" fill="#26f026" transform="rotate(-8 366.2 326)"/>
<ellipse cx="365.5" cy="325.5" rx="8" ry="5" fill="#1c9c70"/>
<ellipse cx="363" cy="325" rx="5.5" ry="4" fill="#2a70e0"/>
<ellipse cx="350.2" cy="318.4" rx="4.5" ry="3.5" fill="#1c22ff"/>
<ellipse cx="369.3" cy="338" rx="4.5" ry="3.5" fill="#1c22ff"/>
<ellipse cx="370.6" cy="348" rx="6" ry="2.5" fill="#1c22ff"/>
</g>
<g fill="#fff" opacity="1.0" filter="url(#bls)">
<circle cx="378.5" cy="338.5" r="0.6"/>
<circle cx="369.5" cy="343.5" r="0.6"/>
</g>
<text transform="translate(343.55,312.00) scale(1,1.05)" font-size="9.50" text-anchor="start" fill="#86b43c" dominant-baseline="central" textLength="27.54" lengthAdjust="spacingAndGlyphs" id="f_ko_merge" >Merge</text>
</g>
<clipPath id="c15"><rect x="343.5" y="352.2" width="43" height="42.3"/></clipPath>
<rect x="343.50" y="352.20" width="43.00" height="42.30" fill="#050505" stroke="none" stroke-width="0" />
<g clip-path="url(#c15)">
<g fill="#cccccc" opacity="1.0" filter="url(#bls)">
<circle cx="378.5" cy="382.0" r="0.5"/>
<circle cx="370.0" cy="387.5" r="0.5"/>
<circle cx="375.5" cy="393.0" r="0.5"/>
</g>
<text transform="translate(345.53,358.35) scale(1,1.05)" font-size="9.50" text-anchor="start" fill="#e0e0e0" dominant-baseline="central" font-style="italic" textLength="26.24" lengthAdjust="spacingAndGlyphs" id="f_ko_kcnh7" >Kcnh7</text>
</g>
<clipPath id="c16"><rect x="343.5" y="396.8" width="43" height="42.6"/></clipPath>
<rect x="343.50" y="396.80" width="43.00" height="42.60" fill="#030803" stroke="none" stroke-width="0" />
<g clip-path="url(#c16)">
<g filter="url(#bl2)"><ellipse cx="366" cy="415.5" rx="11.5" ry="8" fill="#22ec22" transform="rotate(-8 366 415.5)"/><ellipse cx="365.5" cy="415" rx="7.8" ry="4.8" fill="#0c6a0c"/></g>
<text transform="translate(345.25,402.87) scale(1,1.05)" font-size="9.50" text-anchor="start" fill="#2bb52b" dominant-baseline="central" font-style="italic" textLength="13.26" lengthAdjust="spacingAndGlyphs" id="f_ko_sst" >Sst</text>
<line x1="370.50" y1="433.30" x2="384.00" y2="433.30" stroke="#d0d0d0" stroke-width="1.3"/>
</g>
<text x="131.77" y="139.85" font-size="8.60" text-anchor="middle" fill="#222" dominant-baseline="central" textLength="22.83" lengthAdjust="spacingAndGlyphs" id="a_wt_20" >20 µm</text>
<text x="183.18" y="139.85" font-size="8.60" text-anchor="middle" fill="#222" dominant-baseline="central" textLength="22.80" lengthAdjust="spacingAndGlyphs" id="a_wt_10" >10 µm</text>
<text x="322.85" y="141.20" font-size="8.60" text-anchor="middle" fill="#222" dominant-baseline="central" textLength="23.63" lengthAdjust="spacingAndGlyphs" id="a_ko_20" >20 µm</text>
<text x="373.12" y="141.20" font-size="8.60" text-anchor="middle" fill="#222" dominant-baseline="central" textLength="22.80" lengthAdjust="spacingAndGlyphs" id="a_ko_10" >10 µm</text>
<text x="128.65" y="440.98" font-size="8.60" text-anchor="middle" fill="#222" dominant-baseline="central" textLength="24.64" lengthAdjust="spacingAndGlyphs" id="f_wt_20" >20 µm</text>
<text x="179.48" y="440.98" font-size="8.60" text-anchor="middle" fill="#222" dominant-baseline="central" textLength="23.35" lengthAdjust="spacingAndGlyphs" id="f_wt_10" >10 µm</text>
<text x="322.65" y="444.12" font-size="8.60" text-anchor="middle" fill="#222" dominant-baseline="central" textLength="23.59" lengthAdjust="spacingAndGlyphs" id="f_ko_20" >20 µm</text>
<text x="374.18" y="444.12" font-size="8.60" text-anchor="middle" fill="#222" dominant-baseline="central" textLength="23.38" lengthAdjust="spacingAndGlyphs" id="f_ko_10" >10 µm</text>
<text x="-0.60" y="8.00" font-size="11.00" text-anchor="start" fill="#111" dominant-baseline="alphabetic" font-weight="bold" >a</text>
<text x="469.40" y="8.00" font-size="11.00" text-anchor="start" fill="#111" dominant-baseline="alphabetic" font-weight="bold" >b</text>
<text x="-0.30" y="157.00" font-size="11.00" text-anchor="start" fill="#111" dominant-baseline="alphabetic" font-weight="bold" >c</text>
<text x="131.40" y="156.60" font-size="11.00" text-anchor="start" fill="#111" dominant-baseline="alphabetic" font-weight="bold" >d</text>
<text x="469.80" y="156.80" font-size="11.00" text-anchor="start" fill="#111" dominant-baseline="alphabetic" font-weight="bold" >e</text>
<text x="1.60" y="305.30" font-size="11.00" text-anchor="start" fill="#111" dominant-baseline="alphabetic" font-weight="bold" >f</text>
<text x="475.80" y="303.60" font-size="11.00" text-anchor="start" fill="#111" dominant-baseline="alphabetic" font-weight="bold" >g</text>
<text x="-0.30" y="464.30" font-size="11.00" text-anchor="start" fill="#111" dominant-baseline="alphabetic" font-weight="bold" >h</text>
<text x="142.20" y="464.30" font-size="11.00" text-anchor="start" fill="#111" dominant-baseline="alphabetic" font-weight="bold" >i</text>
<text x="479.20" y="461.50" font-size="11.00" text-anchor="start" fill="#111" dominant-baseline="alphabetic" font-weight="bold" >j</text>
<text transform="translate(6.45,71.38) rotate(-90)" font-size="9.80" text-anchor="middle" fill="#222" dominant-baseline="central" textLength="15.01" lengthAdjust="spacingAndGlyphs" id="a_wt_side">WT</text>
<text transform="translate(201.70,72.85) rotate(-90)" font-size="9.80" text-anchor="middle" fill="#222" dominant-baseline="central" textLength="49.13" lengthAdjust="spacingAndGlyphs" id="a_ko_side"><tspan font-style="italic">Shank3</tspan> KO</text>
<text transform="translate(6.08,368.20) rotate(-90)" font-size="9.80" text-anchor="middle" fill="#222" dominant-baseline="central" textLength="14.88" lengthAdjust="spacingAndGlyphs" id="f_wt_side">WT</text>
<text transform="translate(201.65,366.22) rotate(-90)" font-size="9.80" text-anchor="middle" fill="#222" dominant-baseline="central" textLength="48.89" lengthAdjust="spacingAndGlyphs" id="f_ko_side"><tspan font-style="italic">Shank3</tspan> KO</text>
<line x1="425.60" y1="9.30" x2="425.60" y2="108.00" stroke="#333" stroke-width="1"/>
<line x1="420.80" y1="14.30" x2="425.60" y2="14.30" stroke="#333" stroke-width="1"/>
<text transform="translate(420.35,14.00) scale(1,1.17)" font-size="9.80" text-anchor="end" fill="#222" dominant-baseline="central" >100</text>
<line x1="420.80" y1="37.60" x2="425.60" y2="37.60" stroke="#333" stroke-width="1"/>
<text transform="translate(420.35,37.30) scale(1,1.17)" font-size="9.80" text-anchor="end" fill="#222" dominant-baseline="central" >75</text>
<line x1="420.80" y1="61.10" x2="425.60" y2="61.10" stroke="#333" stroke-width="1"/>
<text transform="translate(420.35,60.80) scale(1,1.17)" font-size="9.80" text-anchor="end" fill="#222" dominant-baseline="central" >50</text>
<line x1="420.80" y1="84.50" x2="425.60" y2="84.50" stroke="#333" stroke-width="1"/>
<text transform="translate(420.35,84.20) scale(1,1.17)" font-size="9.80" text-anchor="end" fill="#222" dominant-baseline="central" >25</text>
<line x1="420.80" y1="108.00" x2="425.60" y2="108.00" stroke="#333" stroke-width="1"/>
<text transform="translate(420.35,107.70) scale(1,1.17)" font-size="9.80" text-anchor="end" fill="#222" dominant-baseline="central" >0</text>
<rect x="437.00" y="22.00" width="20.00" height="86.00" fill="#e6bfd8" stroke="none" stroke-width="0" />
<line x1="420.80" y1="108.00" x2="469.00" y2="108.00" stroke="#6a6a6a" stroke-width="1.3"/>
<line x1="447.00" y1="108.00" x2="447.00" y2="112.00" stroke="#6a6a6a" stroke-width="1"/>
<line x1="447.00" y1="18.80" x2="447.00" y2="22.00" stroke="#c06a9e" stroke-width="1"/>
<line x1="443.00" y1="18.80" x2="451.00" y2="18.80" stroke="#c06a9e" stroke-width="1"/>
<line x1="443.00" y1="22.00" x2="451.00" y2="22.00" stroke="#c06a9e" stroke-width="1"/>
<circle cx="442.80" cy="14.20" r="1.5" fill="none" stroke="#c06a9e" stroke-width="0.8"/>
<circle cx="446.80" cy="14.20" r="1.5" fill="none" stroke="#c06a9e" stroke-width="0.8"/>
<circle cx="450.80" cy="14.20" r="1.5" fill="none" stroke="#c06a9e" stroke-width="0.8"/>
<circle cx="441.80" cy="24.70" r="1.5" fill="none" stroke="#c06a9e" stroke-width="0.8"/>
<circle cx="445.30" cy="24.70" r="1.5" fill="none" stroke="#c06a9e" stroke-width="0.8"/>
<circle cx="448.80" cy="24.70" r="1.5" fill="none" stroke="#c06a9e" stroke-width="0.8"/>
<circle cx="452.30" cy="24.70" r="1.5" fill="none" stroke="#c06a9e" stroke-width="0.8"/>
<circle cx="447.00" cy="33.00" r="1.5" fill="none" stroke="#c06a9e" stroke-width="0.8"/>
<text transform="translate(400.38,61.00) rotate(-90)" font-size="9.50" text-anchor="middle" fill="#222" dominant-baseline="central" textLength="79.30" lengthAdjust="spacingAndGlyphs" id="a_bar_ylab"><tspan font-style="italic">Kcnh7</tspan><tspan font-size="6" dy="-3">+</tspan><tspan dy="3">/</tspan><tspan font-style="italic">Pvalb</tspan><tspan font-size="6" dy="-3">+</tspan><tspan dy="3"> (%)</tspan></text>
<line x1="518.50" y1="15.40" x2="518.50" y2="107.40" stroke="#333" stroke-width="1"/>
<line x1="514.80" y1="15.60" x2="518.50" y2="15.60" stroke="#333" stroke-width="1"/>
<text transform="translate(513.05,15.30) scale(1,1.17)" font-size="9.80" text-anchor="end" fill="#222" dominant-baseline="central" >2.0</text>
<line x1="514.80" y1="38.50" x2="518.50" y2="38.50" stroke="#333" stroke-width="1"/>
<text transform="translate(513.05,38.20) scale(1,1.17)" font-size="9.80" text-anchor="end" fill="#222" dominant-baseline="central" >1.5</text>
<line x1="514.80" y1="61.30" x2="518.50" y2="61.30" stroke="#333" stroke-width="1"/>
<text transform="translate(513.05,61.00) scale(1,1.17)" font-size="9.80" text-anchor="end" fill="#222" dominant-baseline="central" >1.0</text>
<line x1="514.80" y1="84.20" x2="518.50" y2="84.20" stroke="#333" stroke-width="1"/>
<text transform="translate(513.05,83.90) scale(1,1.17)" font-size="9.80" text-anchor="end" fill="#222" dominant-baseline="central" >0.5</text>
<line x1="514.80" y1="107.40" x2="518.50" y2="107.40" stroke="#333" stroke-width="1"/>
<text transform="translate(513.05,107.10) scale(1,1.17)" font-size="9.80" text-anchor="end" fill="#222" dominant-baseline="central" >0.0</text>
<rect x="527.30" y="61.70" width="16.10" height="45.70" fill="#e0e0e0" stroke="none" stroke-width="0" />
<rect x="553.65" y="70.85" width="14.90" height="36.55" fill="#fff" stroke="#6f80f2" stroke-width="1.3" />
<line x1="518.50" y1="107.40" x2="579.00" y2="107.40" stroke="#444" stroke-width="1.2"/>
<line x1="535.40" y1="107.40" x2="535.40" y2="111.40" stroke="#444" stroke-width="1"/>
<line x1="561.00" y1="107.40" x2="561.00" y2="111.40" stroke="#444" stroke-width="1"/>
<line x1="535.40" y1="58.20" x2="535.40" y2="65.30" stroke="#6a6a6a" stroke-width="1"/>
<line x1="531.90" y1="58.20" x2="538.90" y2="58.20" stroke="#6a6a6a" stroke-width="1"/>
<line x1="531.90" y1="65.30" x2="538.90" y2="65.30" stroke="#6a6a6a" stroke-width="1"/>
<line x1="561.00" y1="68.20" x2="561.00" y2="72.30" stroke="#2f3cf0" stroke-width="1"/>
<line x1="557.50" y1="68.20" x2="564.50" y2="68.20" stroke="#2f3cf0" stroke-width="1"/>
<line x1="557.50" y1="72.30" x2="564.50" y2="72.30" stroke="#2f3cf0" stroke-width="1"/>
<circle cx="530.10" cy="40.70" r="1.8" fill="#7a7a7a" stroke="none" stroke-width="0"/>
<circle cx="535.40" cy="42.80" r="1.8" fill="#7a7a7a" stroke="none" stroke-width="0"/>
<circle cx="530.10" cy="56.40" r="1.8" fill="#7a7a7a" stroke="none" stroke-width="0"/>
<circle cx="535.20" cy="55.90" r="1.8" fill="#7a7a7a" stroke="none" stroke-width="0"/>
<circle cx="540.30" cy="56.40" r="1.8" fill="#7a7a7a" stroke="none" stroke-width="0"/>
<circle cx="529.70" cy="62.60" r="1.8" fill="#7a7a7a" stroke="none" stroke-width="0"/>
<circle cx="540.50" cy="62.00" r="1.8" fill="#7a7a7a" stroke="none" stroke-width="0"/>
<circle cx="530.00" cy="67.50" r="1.8" fill="#7a7a7a" stroke="none" stroke-width="0"/>
<circle cx="535.50" cy="68.50" r="1.8" fill="#7a7a7a" stroke="none" stroke-width="0"/>
<circle cx="540.80" cy="68.00" r="1.8" fill="#7a7a7a" stroke="none" stroke-width="0"/>
<circle cx="530.50" cy="74.80" r="1.8" fill="#7a7a7a" stroke="none" stroke-width="0"/>
<circle cx="540.00" cy="74.50" r="1.8" fill="#7a7a7a" stroke="none" stroke-width="0"/>
<circle cx="535.30" cy="65.00" r="1.8" fill="#7a7a7a" stroke="none" stroke-width="0"/>
<rect x="559.65" y="64.95" width="2.7" height="2.7" fill="#fff" stroke="#2f3cf0" stroke-width="1.0"/>
<rect x="554.65" y="68.15" width="2.7" height="2.7" fill="#fff" stroke="#2f3cf0" stroke-width="1.0"/>
<rect x="556.95" y="68.45" width="2.7" height="2.7" fill="#fff" stroke="#2f3cf0" stroke-width="1.0"/>
<rect x="559.65" y="68.85" width="2.7" height="2.7" fill="#fff" stroke="#2f3cf0" stroke-width="1.0"/>
<rect x="562.25" y="68.45" width="2.7" height="2.7" fill="#fff" stroke="#2f3cf0" stroke-width="1.0"/>
<rect x="564.95" y="68.15" width="2.7" height="2.7" fill="#fff" stroke="#2f3cf0" stroke-width="1.0"/>
<rect x="556.65" y="71.45" width="2.7" height="2.7" fill="#fff" stroke="#2f3cf0" stroke-width="1.0"/>
<rect x="562.25" y="71.15" width="2.7" height="2.7" fill="#fff" stroke="#2f3cf0" stroke-width="1.0"/>
<rect x="557.15" y="79.15" width="2.7" height="2.7" fill="#fff" stroke="#2f3cf0" stroke-width="1.0"/>
<rect x="559.95" y="80.15" width="2.7" height="2.7" fill="#fff" stroke="#2f3cf0" stroke-width="1.0"/>
<line x1="533.80" y1="24.90" x2="562.00" y2="24.90" stroke="#777" stroke-width="1.5"/>
<text x="547.90" y="18.90" font-size="11.50" text-anchor="middle" fill="#111" dominant-baseline="central" font-weight="bold" >**</text>
<text transform="translate(481.50,63.85) rotate(-90)" font-size="9.80" text-anchor="middle" fill="#222" dominant-baseline="central" textLength="87.75" lengthAdjust="spacingAndGlyphs" id="b1_ylab1">Normalized intensity</text>
<text transform="translate(493.28,63.43) rotate(-90)" font-size="9.80" text-anchor="middle" fill="#222" dominant-baseline="central" textLength="68.51" lengthAdjust="spacingAndGlyphs" id="b1_ylab2">of <tspan font-style="italic">Kcnh7</tspan> mRNA</text>
<text transform="translate(536.52,120.27) rotate(-30)" font-size="9.74" text-anchor="end" fill="#222" dominant-baseline="alphabetic" id="b1_wt">WT</text>
<text transform="translate(565.75,120.65) rotate(-30)" font-size="9.76" text-anchor="end" fill="#222" dominant-baseline="alphabetic" id="b1_ko"><tspan font-style="italic">Shank3</tspan> KO</text>
<line x1="622.90" y1="15.60" x2="622.90" y2="107.40" stroke="#333" stroke-width="1"/>
<line x1="619.30" y1="15.60" x2="622.90" y2="15.60" stroke="#333" stroke-width="1"/>
<text transform="translate(617.85,15.30) scale(1,1.17)" font-size="9.80" text-anchor="end" fill="#222" dominant-baseline="central" >2.0</text>
<line x1="619.30" y1="38.50" x2="622.90" y2="38.50" stroke="#333" stroke-width="1"/>
<text transform="translate(617.85,38.20) scale(1,1.17)" font-size="9.80" text-anchor="end" fill="#222" dominant-baseline="central" >1.5</text>
<line x1="619.30" y1="61.30" x2="622.90" y2="61.30" stroke="#333" stroke-width="1"/>
<text transform="translate(617.85,61.00) scale(1,1.17)" font-size="9.80" text-anchor="end" fill="#222" dominant-baseline="central" >1.0</text>
<line x1="619.30" y1="84.20" x2="622.90" y2="84.20" stroke="#333" stroke-width="1"/>
<text transform="translate(617.85,83.90) scale(1,1.17)" font-size="9.80" text-anchor="end" fill="#222" dominant-baseline="central" >0.5</text>
<line x1="619.30" y1="107.40" x2="622.90" y2="107.40" stroke="#333" stroke-width="1"/>
<text transform="translate(617.85,107.10) scale(1,1.17)" font-size="9.80" text-anchor="end" fill="#222" dominant-baseline="central" >0.0</text>
<rect x="631.80" y="61.70" width="16.40" height="45.70" fill="#e0e0e0" stroke="none" stroke-width="0" />
<rect x="657.35" y="89.65" width="15.50" height="17.75" fill="#fff" stroke="#6f80f2" stroke-width="1.3" />
<line x1="622.90" y1="107.40" x2="681.90" y2="107.40" stroke="#444" stroke-width="1.2"/>
<line x1="639.50" y1="107.40" x2="639.50" y2="111.40" stroke="#444" stroke-width="1"/>
<line x1="664.90" y1="107.40" x2="664.90" y2="111.40" stroke="#444" stroke-width="1"/>
<line x1="639.50" y1="56.70" x2="639.50" y2="66.10" stroke="#6a6a6a" stroke-width="1"/>
<line x1="636.00" y1="56.70" x2="643.00" y2="56.70" stroke="#6a6a6a" stroke-width="1"/>
<line x1="636.00" y1="66.10" x2="643.00" y2="66.10" stroke="#6a6a6a" stroke-width="1"/>
<line x1="664.70" y1="84.10" x2="664.70" y2="95.30" stroke="#2f3cf0" stroke-width="1"/>
<line x1="661.20" y1="84.10" x2="668.20" y2="84.10" stroke="#2f3cf0" stroke-width="1"/>
<line x1="661.20" y1="95.30" x2="668.20" y2="95.30" stroke="#2f3cf0" stroke-width="1"/>
<circle cx="637.20" cy="35.60" r="1.8" fill="#7a7a7a" stroke="none" stroke-width="0"/>
<circle cx="641.90" cy="35.60" r="1.8" fill="#7a7a7a" stroke="none" stroke-width="0"/>
<circle cx="634.80" cy="47.80" r="1.8" fill="#7a7a7a" stroke="none" stroke-width="0"/>
<circle cx="639.50" cy="47.80" r="1.8" fill="#7a7a7a" stroke="none" stroke-width="0"/>
<circle cx="644.20" cy="47.80" r="1.8" fill="#7a7a7a" stroke="none" stroke-width="0"/>
<circle cx="639.50" cy="59.00" r="1.8" fill="#7a7a7a" stroke="none" stroke-width="0"/>
<circle cx="632.50" cy="71.60" r="1.8" fill="#7a7a7a" stroke="none" stroke-width="0"/>
<circle cx="637.20" cy="71.60" r="1.8" fill="#7a7a7a" stroke="none" stroke-width="0"/>
<circle cx="641.90" cy="71.60" r="1.8" fill="#7a7a7a" stroke="none" stroke-width="0"/>
<circle cx="646.60" cy="71.60" r="1.8" fill="#7a7a7a" stroke="none" stroke-width="0"/>
<circle cx="639.50" cy="83.30" r="1.8" fill="#7a7a7a" stroke="none" stroke-width="0"/>
<circle cx="639.50" cy="95.30" r="1.8" fill="#7a7a7a" stroke="none" stroke-width="0"/>
<rect x="660.85" y="58.45" width="2.7" height="2.7" fill="#fff" stroke="#2f3cf0" stroke-width="1.0"/>
<rect x="665.55" y="58.45" width="2.7" height="2.7" fill="#fff" stroke="#2f3cf0" stroke-width="1.0"/>
<rect x="663.35" y="70.25" width="2.7" height="2.7" fill="#fff" stroke="#2f3cf0" stroke-width="1.0"/>
<rect x="660.85" y="82.75" width="2.7" height="2.7" fill="#fff" stroke="#2f3cf0" stroke-width="1.0"/>
<rect x="665.55" y="82.75" width="2.7" height="2.7" fill="#fff" stroke="#2f3cf0" stroke-width="1.0"/>
<rect x="657.45" y="93.95" width="2.7" height="2.7" fill="#fff" stroke="#2f3cf0" stroke-width="1.0"/>
<rect x="661.15" y="93.95" width="2.7" height="2.7" fill="#fff" stroke="#2f3cf0" stroke-width="1.0"/>
<rect x="665.25" y="93.95" width="2.7" height="2.7" fill="#fff" stroke="#2f3cf0" stroke-width="1.0"/>
<rect x="669.45" y="93.95" width="2.7" height="2.7" fill="#fff" stroke="#2f3cf0" stroke-width="1.0"/>
<rect x="659.65" y="105.65" width="2.7" height="2.7" fill="#fff" stroke="#2f3cf0" stroke-width="1.0"/>
<rect x="663.65" y="105.65" width="2.7" height="2.7" fill="#fff" stroke="#2f3cf0" stroke-width="1.0"/>
<rect x="667.65" y="105.65" width="2.7" height="2.7" fill="#fff" stroke="#2f3cf0" stroke-width="1.0"/>
<line x1="637.80" y1="24.90" x2="667.30" y2="24.90" stroke="#777" stroke-width="1.5"/>
<text x="652.55" y="18.70" font-size="11.50" text-anchor="middle" fill="#111" dominant-baseline="central" font-weight="bold" >***</text>
<text transform="translate(586.87,58.70) rotate(-90)" font-size="9.80" text-anchor="middle" fill="#222" dominant-baseline="central" textLength="92.36" lengthAdjust="spacingAndGlyphs" id="b2_ylab1">Normalized number of</text>
<text transform="translate(596.85,60.75) rotate(-90)" font-size="9.80" text-anchor="middle" fill="#222" dominant-baseline="central" textLength="62.42" lengthAdjust="spacingAndGlyphs" id="b2_ylab2"><tspan font-style="italic">Kcnh7</tspan><tspan font-size="6" dy="-3">+</tspan><tspan dy="3"> puncta</tspan></text>
<text transform="translate(641.37,119.65) rotate(-30)" font-size="10.51" text-anchor="end" fill="#222" dominant-baseline="alphabetic" id="b2_wt">WT</text>
<text transform="translate(669.78,119.65) rotate(-30)" font-size="9.82" text-anchor="end" fill="#222" dominant-baseline="alphabetic" id="b2_ko"><tspan font-style="italic">Shank3</tspan> KO</text>
<text transform="translate(70.87,147.00) scale(1,1.18)" font-size="9.50" text-anchor="middle" fill="#222" dominant-baseline="central" textLength="14.57" lengthAdjust="spacingAndGlyphs" id="c_wt" >WT</text>
<text transform="translate(68.08,219.87) scale(1,1.18)" font-size="9.50" text-anchor="middle" fill="#222" dominant-baseline="central" textLength="48.91" lengthAdjust="spacingAndGlyphs" id="c_ko" ><tspan font-style="italic">Shank3</tspan> KO</text>
<polyline points="40.70,199.20 44.00,199.20 45.00,192.50 45.30,189.50 45.35,189.50 45.50,152.50 45.85,192.50 46.97,191.30 48.19,189.50 48.29,189.50 48.44,154.20 48.79,192.50 49.92,191.30 51.14,189.50 51.24,189.50 51.39,154.20 51.74,192.50 52.86,191.30 54.08,189.50 54.18,189.50 54.33,154.20 54.68,192.50 55.80,191.30 57.02,189.50 57.12,189.50 57.27,154.20 57.62,192.50 58.75,191.30 59.97,189.50 60.07,189.50 60.22,154.20 60.57,192.50 61.69,191.30 62.91,189.50 63.01,189.50 63.16,154.20 63.51,192.50 64.63,191.30 65.86,189.50 65.96,189.50 66.11,154.20 66.46,192.50 67.58,191.30 68.80,189.50 68.90,189.50 69.05,154.20 69.40,192.50 70.52,191.30 71.74,189.50 71.84,189.50 71.99,154.20 72.34,192.50 73.47,191.30 74.69,189.50 74.79,189.50 74.94,154.20 75.29,192.50 76.41,191.30 77.63,189.50 77.73,189.50 77.88,154.20 78.23,192.50 79.35,191.30 80.57,189.50 80.67,189.50 80.82,154.20 81.17,192.50 82.30,191.30 83.52,189.50 83.62,189.50 83.77,154.20 84.12,192.50 85.24,191.30 86.46,189.50 86.56,189.50 86.71,154.20 87.06,192.50 88.18,191.30 89.41,189.50 89.51,189.50 89.66,154.20 90.01,192.50 91.13,191.30 92.35,189.50 92.45,189.50 92.60,154.20 92.95,192.50 93.20,189.50 93.72,191.26 94.24,192.70 94.76,193.88 95.28,194.84 95.80,195.63 96.32,196.28 96.84,196.81 97.36,197.24 97.88,197.60 98.40,197.89 98.92,198.13 99.44,198.32 99.96,198.48 100.48,198.61 101.00,198.72" fill="none" stroke="#7c7c7c" stroke-width="0.75" stroke-linejoin="round" />
<polyline points="40.70,210.70 44.70,210.70 44.70,202.70 92.80,202.70 92.80,210.70 101.80,210.70" fill="none" stroke="#555" stroke-width="0.9" stroke-linejoin="round" />
<text x="38.55" y="198.63" font-size="7.60" text-anchor="end" fill="#222" dominant-baseline="central" textLength="23.63" lengthAdjust="spacingAndGlyphs" id="c_wt_mv" >-78 mV</text>
<text x="94.63" y="203.45" font-size="7.60" text-anchor="start" fill="#222" dominant-baseline="central" textLength="23.87" lengthAdjust="spacingAndGlyphs" id="c_wt_pa" >200 pA</text>
<line x1="101.20" y1="164.30" x2="101.20" y2="173.50" stroke="#333" stroke-width="0.9"/>
<line x1="101.80" y1="175.20" x2="121.20" y2="175.20" stroke="#333" stroke-width="0.9"/>
<text x="103.38" y="169.00" font-size="8.00" text-anchor="start" fill="#222" dominant-baseline="central" textLength="22.38" lengthAdjust="spacingAndGlyphs" id="c_20mv" >20 mV</text>
<text x="101.38" y="180.02" font-size="8.00" text-anchor="start" fill="#222" dominant-baseline="central" textLength="24.97" lengthAdjust="spacingAndGlyphs" id="c_100ms" >100 ms</text>
<polyline points="40.90,268.00 44.10,268.00 45.10,257.50 45.40,254.50 45.45,254.50 45.60,226.00 45.95,258.50 46.81,257.30 47.77,254.50 47.87,254.50 48.02,226.00 48.37,258.50 49.23,257.30 50.19,254.50 50.29,254.50 50.44,226.00 50.79,258.50 51.65,257.30 52.61,254.50 52.71,254.50 52.86,226.00 53.21,258.50 54.07,257.30 55.03,254.50 55.13,254.50 55.28,226.00 55.63,258.50 56.49,257.30 57.46,254.50 57.56,254.50 57.71,226.00 58.06,258.50 58.92,257.30 59.88,254.50 59.98,254.50 60.13,226.00 60.48,258.50 61.34,257.30 62.30,254.50 62.40,254.50 62.55,226.00 62.90,258.50 63.76,257.30 64.72,254.50 64.82,254.50 64.97,226.00 65.32,258.50 66.18,257.30 67.14,254.50 67.24,254.50 67.39,226.00 67.74,258.50 68.60,257.30 69.56,254.50 69.66,254.50 69.81,226.00 70.16,258.50 71.02,257.30 71.98,254.50 72.08,254.50 72.23,226.00 72.58,258.50 73.44,257.30 74.40,254.50 74.50,254.50 74.65,226.00 75.00,258.50 75.86,257.30 76.82,254.50 76.92,254.50 77.07,226.00 77.42,258.50 78.28,257.30 79.24,254.50 79.34,254.50 79.49,226.00 79.84,258.50 80.71,257.30 81.67,254.50 81.77,254.50 81.92,226.00 82.27,258.50 83.13,257.30 84.09,254.50 84.19,254.50 84.34,226.00 84.69,258.50 85.55,257.30 86.51,254.50 86.61,254.50 86.76,226.00 87.11,258.50 87.97,257.30 88.93,254.50 89.03,254.50 89.18,226.00 89.53,258.50 90.39,257.30 91.35,254.50 91.45,254.50 91.60,226.00 91.95,258.50 92.20,254.50 92.82,257.36 93.44,259.62 94.06,261.40 94.68,262.80 95.30,263.90 95.92,264.77 96.54,265.46 97.16,266.00 97.78,266.42 98.40,266.76 99.02,267.02 99.64,267.23 100.26,267.39 100.88,267.52 101.50,267.62" fill="none" stroke="#4f5cf2" stroke-width="0.7" stroke-linejoin="round" />
<polyline points="40.50,279.20 45.30,279.20 45.30,271.50 93.40,271.50 93.40,279.20 102.20,279.20" fill="none" stroke="#555" stroke-width="0.9" stroke-linejoin="round" />
<text x="39.43" y="267.20" font-size="7.60" text-anchor="end" fill="#222" dominant-baseline="central" textLength="24.28" lengthAdjust="spacingAndGlyphs" id="c_ko_mv" >-76 mV</text>
<text x="95.00" y="269.20" font-size="7.60" text-anchor="start" fill="#222" dominant-baseline="central" textLength="24.62" lengthAdjust="spacingAndGlyphs" id="c_ko_pa" >200 pA</text>
<text transform="translate(9.95,203.85) rotate(-90)" font-size="9.80" text-anchor="middle" fill="#222" dominant-baseline="central" textLength="55.08" lengthAdjust="spacingAndGlyphs" id="c_side">PV-tdTomato</text>
<line x1="167.40" y1="163.40" x2="167.40" y2="256.50" stroke="#555" stroke-width="1"/>
<line x1="163.40" y1="163.40" x2="167.40" y2="163.40" stroke="#555" stroke-width="1"/>
<text transform="translate(161.35,163.10) scale(1,1.17)" font-size="9.80" text-anchor="end" fill="#222" dominant-baseline="central" >250</text>
<line x1="163.40" y1="182.00" x2="167.40" y2="182.00" stroke="#555" stroke-width="1"/>
<text transform="translate(161.35,181.70) scale(1,1.17)" font-size="9.80" text-anchor="end" fill="#222" dominant-baseline="central" >200</text>
<line x1="163.40" y1="200.70" x2="167.40" y2="200.70" stroke="#555" stroke-width="1"/>
<text transform="translate(161.35,200.40) scale(1,1.17)" font-size="9.80" text-anchor="end" fill="#222" dominant-baseline="central" >150</text>
<line x1="163.40" y1="219.30" x2="167.40" y2="219.30" stroke="#555" stroke-width="1"/>
<text transform="translate(161.35,219.00) scale(1,1.17)" font-size="9.80" text-anchor="end" fill="#222" dominant-baseline="central" >100</text>
<line x1="163.40" y1="237.90" x2="167.40" y2="237.90" stroke="#555" stroke-width="1"/>
<text transform="translate(161.35,237.60) scale(1,1.17)" font-size="9.80" text-anchor="end" fill="#222" dominant-baseline="central" >50</text>
<line x1="163.40" y1="256.50" x2="167.40" y2="256.50" stroke="#555" stroke-width="1"/>
<text transform="translate(161.35,256.20) scale(1,1.17)" font-size="9.80" text-anchor="end" fill="#222" dominant-baseline="central" >0</text>
<line x1="167.40" y1="256.50" x2="330.00" y2="256.50" stroke="#555" stroke-width="1"/>
<line x1="167.40" y1="256.50" x2="167.40" y2="260.50" stroke="#555" stroke-width="1"/>
<text transform="translate(167.10,266.80) scale(1,1.17)" font-size="9.80" text-anchor="middle" fill="#222" dominant-baseline="central" >0</text>
<line x1="208.00" y1="256.50" x2="208.00" y2="260.50" stroke="#555" stroke-width="1"/>
<text transform="translate(207.30,266.80) scale(1,1.17)" font-size="9.80" text-anchor="middle" fill="#222" dominant-baseline="central" >100</text>
<line x1="248.60" y1="256.50" x2="248.60" y2="260.50" stroke="#555" stroke-width="1"/>
<text transform="translate(248.40,266.80) scale(1,1.17)" font-size="9.80" text-anchor="middle" fill="#222" dominant-baseline="central" >200</text>
<line x1="289.20" y1="256.50" x2="289.20" y2="260.50" stroke="#555" stroke-width="1"/>
<text transform="translate(287.60,266.80) scale(1,1.17)" font-size="9.80" text-anchor="middle" fill="#222" dominant-baseline="central" >300</text>
<line x1="329.80" y1="256.50" x2="329.80" y2="260.50" stroke="#555" stroke-width="1"/>
<text transform="translate(326.90,266.80) scale(1,1.17)" font-size="9.80" text-anchor="middle" fill="#222" dominant-baseline="central" >400</text>
<line x1="175.52" y1="253.90" x2="175.52" y2="255.38" stroke="#8a8a8a" stroke-width="0.9"/>
<line x1="173.32" y1="253.90" x2="177.72" y2="253.90" stroke="#8a8a8a" stroke-width="0.9"/>
<line x1="173.32" y1="255.38" x2="177.72" y2="255.38" stroke="#8a8a8a" stroke-width="0.9"/>
<line x1="183.64" y1="252.04" x2="183.64" y2="255.01" stroke="#8a8a8a" stroke-width="0.9"/>
<line x1="181.44" y1="252.04" x2="185.84" y2="252.04" stroke="#8a8a8a" stroke-width="0.9"/>
<line x1="181.44" y1="255.01" x2="185.84" y2="255.01" stroke="#8a8a8a" stroke-width="0.9"/>
<line x1="191.76" y1="247.57" x2="191.76" y2="252.78" stroke="#8a8a8a" stroke-width="0.9"/>
<line x1="189.56" y1="247.57" x2="193.96" y2="247.57" stroke="#8a8a8a" stroke-width="0.9"/>
<line x1="189.56" y1="252.78" x2="193.96" y2="252.78" stroke="#8a8a8a" stroke-width="0.9"/>
<line x1="199.88" y1="244.22" x2="199.88" y2="251.66" stroke="#8a8a8a" stroke-width="0.9"/>
<line x1="197.68" y1="244.22" x2="202.08" y2="244.22" stroke="#8a8a8a" stroke-width="0.9"/>
<line x1="197.68" y1="251.66" x2="202.08" y2="251.66" stroke="#8a8a8a" stroke-width="0.9"/>
<line x1="208.00" y1="237.16" x2="208.00" y2="244.60" stroke="#8a8a8a" stroke-width="0.9"/>
<line x1="205.80" y1="237.16" x2="210.20" y2="237.16" stroke="#8a8a8a" stroke-width="0.9"/>
<line x1="205.80" y1="244.60" x2="210.20" y2="244.60" stroke="#8a8a8a" stroke-width="0.9"/>
<line x1="216.12" y1="232.69" x2="216.12" y2="239.39" stroke="#8a8a8a" stroke-width="0.9"/>
<line x1="213.92" y1="232.69" x2="218.32" y2="232.69" stroke="#8a8a8a" stroke-width="0.9"/>
<line x1="213.92" y1="239.39" x2="218.32" y2="239.39" stroke="#8a8a8a" stroke-width="0.9"/>
<line x1="224.24" y1="223.02" x2="224.24" y2="228.97" stroke="#8a8a8a" stroke-width="0.9"/>
<line x1="222.04" y1="223.02" x2="226.44" y2="223.02" stroke="#8a8a8a" stroke-width="0.9"/>
<line x1="222.04" y1="228.97" x2="226.44" y2="228.97" stroke="#8a8a8a" stroke-width="0.9"/>
<line x1="232.36" y1="219.67" x2="232.36" y2="224.88" stroke="#8a8a8a" stroke-width="0.9"/>
<line x1="230.16" y1="219.67" x2="234.56" y2="219.67" stroke="#8a8a8a" stroke-width="0.9"/>
<line x1="230.16" y1="224.88" x2="234.56" y2="224.88" stroke="#8a8a8a" stroke-width="0.9"/>
<line x1="240.48" y1="214.84" x2="240.48" y2="219.30" stroke="#8a8a8a" stroke-width="0.9"/>
<line x1="238.28" y1="214.84" x2="242.68" y2="214.84" stroke="#8a8a8a" stroke-width="0.9"/>
<line x1="238.28" y1="219.30" x2="242.68" y2="219.30" stroke="#8a8a8a" stroke-width="0.9"/>
<line x1="248.60" y1="210.74" x2="248.60" y2="214.46" stroke="#8a8a8a" stroke-width="0.9"/>
<line x1="246.40" y1="210.74" x2="250.80" y2="210.74" stroke="#8a8a8a" stroke-width="0.9"/>
<line x1="246.40" y1="214.46" x2="250.80" y2="214.46" stroke="#8a8a8a" stroke-width="0.9"/>
<line x1="256.72" y1="207.02" x2="256.72" y2="210.00" stroke="#8a8a8a" stroke-width="0.9"/>
<line x1="254.52" y1="207.02" x2="258.92" y2="207.02" stroke="#8a8a8a" stroke-width="0.9"/>
<line x1="254.52" y1="210.00" x2="258.92" y2="210.00" stroke="#8a8a8a" stroke-width="0.9"/>
<line x1="264.84" y1="204.79" x2="264.84" y2="207.02" stroke="#8a8a8a" stroke-width="0.9"/>
<line x1="262.64" y1="204.79" x2="267.04" y2="204.79" stroke="#8a8a8a" stroke-width="0.9"/>
<line x1="262.64" y1="207.02" x2="267.04" y2="207.02" stroke="#8a8a8a" stroke-width="0.9"/>
<line x1="272.96" y1="202.56" x2="272.96" y2="204.79" stroke="#8a8a8a" stroke-width="0.9"/>
<line x1="270.76" y1="202.56" x2="275.16" y2="202.56" stroke="#8a8a8a" stroke-width="0.9"/>
<line x1="270.76" y1="204.79" x2="275.16" y2="204.79" stroke="#8a8a8a" stroke-width="0.9"/>
<line x1="281.08" y1="200.33" x2="281.08" y2="201.82" stroke="#8a8a8a" stroke-width="0.9"/>
<line x1="278.88" y1="200.33" x2="283.28" y2="200.33" stroke="#8a8a8a" stroke-width="0.9"/>
<line x1="278.88" y1="201.82" x2="283.28" y2="201.82" stroke="#8a8a8a" stroke-width="0.9"/>
<line x1="289.20" y1="198.24" x2="289.20" y2="199.73" stroke="#8a8a8a" stroke-width="0.9"/>
<line x1="287.00" y1="198.24" x2="291.40" y2="198.24" stroke="#8a8a8a" stroke-width="0.9"/>
<line x1="287.00" y1="199.73" x2="291.40" y2="199.73" stroke="#8a8a8a" stroke-width="0.9"/>
<line x1="297.32" y1="195.86" x2="297.32" y2="197.35" stroke="#8a8a8a" stroke-width="0.9"/>
<line x1="295.12" y1="195.86" x2="299.52" y2="195.86" stroke="#8a8a8a" stroke-width="0.9"/>
<line x1="295.12" y1="197.35" x2="299.52" y2="197.35" stroke="#8a8a8a" stroke-width="0.9"/>
<line x1="305.44" y1="195.27" x2="305.44" y2="196.76" stroke="#8a8a8a" stroke-width="0.9"/>
<line x1="303.24" y1="195.27" x2="307.64" y2="195.27" stroke="#8a8a8a" stroke-width="0.9"/>
<line x1="303.24" y1="196.76" x2="307.64" y2="196.76" stroke="#8a8a8a" stroke-width="0.9"/>
<line x1="313.56" y1="193.45" x2="313.56" y2="194.93" stroke="#8a8a8a" stroke-width="0.9"/>
<line x1="311.36" y1="193.45" x2="315.76" y2="193.45" stroke="#8a8a8a" stroke-width="0.9"/>
<line x1="311.36" y1="194.93" x2="315.76" y2="194.93" stroke="#8a8a8a" stroke-width="0.9"/>
<line x1="321.68" y1="192.14" x2="321.68" y2="193.63" stroke="#8a8a8a" stroke-width="0.9"/>
<line x1="319.48" y1="192.14" x2="323.88" y2="192.14" stroke="#8a8a8a" stroke-width="0.9"/>
<line x1="319.48" y1="193.63" x2="323.88" y2="193.63" stroke="#8a8a8a" stroke-width="0.9"/>
<line x1="175.52" y1="250.92" x2="175.52" y2="254.64" stroke="#2f3cf0" stroke-width="0.9"/>
<line x1="173.32" y1="250.92" x2="177.72" y2="250.92" stroke="#2f3cf0" stroke-width="0.9"/>
<line x1="173.32" y1="254.64" x2="177.72" y2="254.64" stroke="#2f3cf0" stroke-width="0.9"/>
<line x1="183.64" y1="249.80" x2="183.64" y2="254.27" stroke="#2f3cf0" stroke-width="0.9"/>
<line x1="181.44" y1="249.80" x2="185.84" y2="249.80" stroke="#2f3cf0" stroke-width="0.9"/>
<line x1="181.44" y1="254.27" x2="185.84" y2="254.27" stroke="#2f3cf0" stroke-width="0.9"/>
<line x1="191.76" y1="241.62" x2="191.76" y2="247.57" stroke="#2f3cf0" stroke-width="0.9"/>
<line x1="189.56" y1="241.62" x2="193.96" y2="241.62" stroke="#2f3cf0" stroke-width="0.9"/>
<line x1="189.56" y1="247.57" x2="193.96" y2="247.57" stroke="#2f3cf0" stroke-width="0.9"/>
<line x1="199.88" y1="234.92" x2="199.88" y2="242.36" stroke="#2f3cf0" stroke-width="0.9"/>
<line x1="197.68" y1="234.92" x2="202.08" y2="234.92" stroke="#2f3cf0" stroke-width="0.9"/>
<line x1="197.68" y1="242.36" x2="202.08" y2="242.36" stroke="#2f3cf0" stroke-width="0.9"/>
<line x1="208.00" y1="224.14" x2="208.00" y2="229.34" stroke="#2f3cf0" stroke-width="0.9"/>
<line x1="205.80" y1="224.14" x2="210.20" y2="224.14" stroke="#2f3cf0" stroke-width="0.9"/>
<line x1="205.80" y1="229.34" x2="210.20" y2="229.34" stroke="#2f3cf0" stroke-width="0.9"/>
<line x1="216.12" y1="218.56" x2="216.12" y2="222.28" stroke="#2f3cf0" stroke-width="0.9"/>
<line x1="213.92" y1="218.56" x2="218.32" y2="218.56" stroke="#2f3cf0" stroke-width="0.9"/>
<line x1="213.92" y1="222.28" x2="218.32" y2="222.28" stroke="#2f3cf0" stroke-width="0.9"/>
<line x1="224.24" y1="215.95" x2="224.24" y2="218.93" stroke="#2f3cf0" stroke-width="0.9"/>
<line x1="222.04" y1="215.95" x2="226.44" y2="215.95" stroke="#2f3cf0" stroke-width="0.9"/>
<line x1="222.04" y1="218.93" x2="226.44" y2="218.93" stroke="#2f3cf0" stroke-width="0.9"/>
<line x1="232.36" y1="213.35" x2="232.36" y2="215.58" stroke="#2f3cf0" stroke-width="0.9"/>
<line x1="230.16" y1="213.35" x2="234.56" y2="213.35" stroke="#2f3cf0" stroke-width="0.9"/>
<line x1="230.16" y1="215.58" x2="234.56" y2="215.58" stroke="#2f3cf0" stroke-width="0.9"/>
<line x1="240.48" y1="209.07" x2="240.48" y2="211.30" stroke="#2f3cf0" stroke-width="0.9"/>
<line x1="238.28" y1="209.07" x2="242.68" y2="209.07" stroke="#2f3cf0" stroke-width="0.9"/>
<line x1="238.28" y1="211.30" x2="242.68" y2="211.30" stroke="#2f3cf0" stroke-width="0.9"/>
<line x1="248.60" y1="204.98" x2="248.60" y2="207.21" stroke="#2f3cf0" stroke-width="0.9"/>
<line x1="246.40" y1="204.98" x2="250.80" y2="204.98" stroke="#2f3cf0" stroke-width="0.9"/>
<line x1="246.40" y1="207.21" x2="250.80" y2="207.21" stroke="#2f3cf0" stroke-width="0.9"/>
<line x1="256.72" y1="201.82" x2="256.72" y2="204.05" stroke="#2f3cf0" stroke-width="0.9"/>
<line x1="254.52" y1="201.82" x2="258.92" y2="201.82" stroke="#2f3cf0" stroke-width="0.9"/>
<line x1="254.52" y1="204.05" x2="258.92" y2="204.05" stroke="#2f3cf0" stroke-width="0.9"/>
<line x1="264.84" y1="199.21" x2="264.84" y2="200.70" stroke="#2f3cf0" stroke-width="0.9"/>
<line x1="262.64" y1="199.21" x2="267.04" y2="199.21" stroke="#2f3cf0" stroke-width="0.9"/>
<line x1="262.64" y1="200.70" x2="267.04" y2="200.70" stroke="#2f3cf0" stroke-width="0.9"/>
<line x1="272.96" y1="196.61" x2="272.96" y2="198.10" stroke="#2f3cf0" stroke-width="0.9"/>
<line x1="270.76" y1="196.61" x2="275.16" y2="196.61" stroke="#2f3cf0" stroke-width="0.9"/>
<line x1="270.76" y1="198.10" x2="275.16" y2="198.10" stroke="#2f3cf0" stroke-width="0.9"/>
<line x1="281.08" y1="193.63" x2="281.08" y2="195.12" stroke="#2f3cf0" stroke-width="0.9"/>
<line x1="278.88" y1="193.63" x2="283.28" y2="193.63" stroke="#2f3cf0" stroke-width="0.9"/>
<line x1="278.88" y1="195.12" x2="283.28" y2="195.12" stroke="#2f3cf0" stroke-width="0.9"/>
<line x1="289.20" y1="191.40" x2="289.20" y2="192.89" stroke="#2f3cf0" stroke-width="0.9"/>
<line x1="287.00" y1="191.40" x2="291.40" y2="191.40" stroke="#2f3cf0" stroke-width="0.9"/>
<line x1="287.00" y1="192.89" x2="291.40" y2="192.89" stroke="#2f3cf0" stroke-width="0.9"/>
<line x1="297.32" y1="189.76" x2="297.32" y2="191.25" stroke="#2f3cf0" stroke-width="0.9"/>
<line x1="295.12" y1="189.76" x2="299.52" y2="189.76" stroke="#2f3cf0" stroke-width="0.9"/>
<line x1="295.12" y1="191.25" x2="299.52" y2="191.25" stroke="#2f3cf0" stroke-width="0.9"/>
<line x1="305.44" y1="188.42" x2="305.44" y2="189.91" stroke="#2f3cf0" stroke-width="0.9"/>
<line x1="303.24" y1="188.42" x2="307.64" y2="188.42" stroke="#2f3cf0" stroke-width="0.9"/>
<line x1="303.24" y1="189.91" x2="307.64" y2="189.91" stroke="#2f3cf0" stroke-width="0.9"/>
<line x1="313.56" y1="186.56" x2="313.56" y2="188.05" stroke="#2f3cf0" stroke-width="0.9"/>
<line x1="311.36" y1="186.56" x2="315.76" y2="186.56" stroke="#2f3cf0" stroke-width="0.9"/>
<line x1="311.36" y1="188.05" x2="315.76" y2="188.05" stroke="#2f3cf0" stroke-width="0.9"/>
<line x1="321.68" y1="183.36" x2="321.68" y2="184.85" stroke="#2f3cf0" stroke-width="0.9"/>
<line x1="319.48" y1="183.36" x2="323.88" y2="183.36" stroke="#2f3cf0" stroke-width="0.9"/>
<line x1="319.48" y1="184.85" x2="323.88" y2="184.85" stroke="#2f3cf0" stroke-width="0.9"/>
<polyline points="167.40,256.50 175.52,254.64 183.64,253.52 191.76,250.18 199.88,247.94 208.00,240.88 216.12,236.04 224.24,226.00 232.36,222.28 240.48,217.07 248.60,212.60 256.72,208.51 264.84,205.91 272.96,203.68 281.08,201.07 289.20,198.99 297.32,196.61 305.44,196.01 313.56,194.19 321.68,192.89" fill="none" stroke="#7a7a7a" stroke-width="1.0" stroke-linejoin="round" />
<polyline points="167.40,256.50 175.52,252.78 183.64,252.04 191.76,244.60 199.88,238.64 208.00,226.74 216.12,220.42 224.24,217.44 232.36,214.46 240.48,210.19 248.60,206.09 256.72,202.93 264.84,199.96 272.96,197.35 281.08,194.38 289.20,192.14 297.32,190.51 305.44,189.17 313.56,187.31 321.68,184.11" fill="none" stroke="#2f3cf0" stroke-width="1.0" stroke-linejoin="round" />
<circle cx="167.40" cy="256.50" r="2.45" fill="#7a7a7a" stroke="none" stroke-width="0"/>
<circle cx="175.52" cy="254.64" r="2.45" fill="#7a7a7a" stroke="none" stroke-width="0"/>
<circle cx="183.64" cy="253.52" r="2.45" fill="#7a7a7a" stroke="none" stroke-width="0"/>
<circle cx="191.76" cy="250.18" r="2.45" fill="#7a7a7a" stroke="none" stroke-width="0"/>
<circle cx="199.88" cy="247.94" r="2.45" fill="#7a7a7a" stroke="none" stroke-width="0"/>
<circle cx="208.00" cy="240.88" r="2.45" fill="#7a7a7a" stroke="none" stroke-width="0"/>
<circle cx="216.12" cy="236.04" r="2.45" fill="#7a7a7a" stroke="none" stroke-width="0"/>
<circle cx="224.24" cy="226.00" r="2.45" fill="#7a7a7a" stroke="none" stroke-width="0"/>
<circle cx="232.36" cy="222.28" r="2.45" fill="#7a7a7a" stroke="none" stroke-width="0"/>
<circle cx="240.48" cy="217.07" r="2.45" fill="#7a7a7a" stroke="none" stroke-width="0"/>
<circle cx="248.60" cy="212.60" r="2.45" fill="#7a7a7a" stroke="none" stroke-width="0"/>
<circle cx="256.72" cy="208.51" r="2.45" fill="#7a7a7a" stroke="none" stroke-width="0"/>
<circle cx="264.84" cy="205.91" r="2.45" fill="#7a7a7a" stroke="none" stroke-width="0"/>
<circle cx="272.96" cy="203.68" r="2.45" fill="#7a7a7a" stroke="none" stroke-width="0"/>
<circle cx="281.08" cy="201.07" r="2.45" fill="#7a7a7a" stroke="none" stroke-width="0"/>
<circle cx="289.20" cy="198.99" r="2.45" fill="#7a7a7a" stroke="none" stroke-width="0"/>
<circle cx="297.32" cy="196.61" r="2.45" fill="#7a7a7a" stroke="none" stroke-width="0"/>
<circle cx="305.44" cy="196.01" r="2.45" fill="#7a7a7a" stroke="none" stroke-width="0"/>
<circle cx="313.56" cy="194.19" r="2.45" fill="#7a7a7a" stroke="none" stroke-width="0"/>
<circle cx="321.68" cy="192.89" r="2.45" fill="#7a7a7a" stroke="none" stroke-width="0"/>
<rect x="165.40" y="254.50" width="4.0" height="4.0" fill="#fff" stroke="#2f3cf0" stroke-width="1.1"/>
<rect x="173.52" y="250.78" width="4.0" height="4.0" fill="#fff" stroke="#2f3cf0" stroke-width="1.1"/>
<rect x="181.64" y="250.04" width="4.0" height="4.0" fill="#fff" stroke="#2f3cf0" stroke-width="1.1"/>
<rect x="189.76" y="242.60" width="4.0" height="4.0" fill="#fff" stroke="#2f3cf0" stroke-width="1.1"/>
<rect x="197.88" y="236.64" width="4.0" height="4.0" fill="#fff" stroke="#2f3cf0" stroke-width="1.1"/>
<rect x="206.00" y="224.74" width="4.0" height="4.0" fill="#fff" stroke="#2f3cf0" stroke-width="1.1"/>
<rect x="214.12" y="218.42" width="4.0" height="4.0" fill="#fff" stroke="#2f3cf0" stroke-width="1.1"/>
<rect x="222.24" y="215.44" width="4.0" height="4.0" fill="#fff" stroke="#2f3cf0" stroke-width="1.1"/>
<rect x="230.36" y="212.46" width="4.0" height="4.0" fill="#fff" stroke="#2f3cf0" stroke-width="1.1"/>
<rect x="238.48" y="208.19" width="4.0" height="4.0" fill="#fff" stroke="#2f3cf0" stroke-width="1.1"/>
<rect x="246.60" y="204.09" width="4.0" height="4.0" fill="#fff" stroke="#2f3cf0" stroke-width="1.1"/>
<rect x="254.72" y="200.93" width="4.0" height="4.0" fill="#fff" stroke="#2f3cf0" stroke-width="1.1"/>
<rect x="262.84" y="197.96" width="4.0" height="4.0" fill="#fff" stroke="#2f3cf0" stroke-width="1.1"/>
<rect x="270.96" y="195.35" width="4.0" height="4.0" fill="#fff" stroke="#2f3cf0" stroke-width="1.1"/>
<rect x="279.08" y="192.38" width="4.0" height="4.0" fill="#fff" stroke="#2f3cf0" stroke-width="1.1"/>
<rect x="287.20" y="190.14" width="4.0" height="4.0" fill="#fff" stroke="#2f3cf0" stroke-width="1.1"/>
<rect x="295.32" y="188.51" width="4.0" height="4.0" fill="#fff" stroke="#2f3cf0" stroke-width="1.1"/>
<rect x="303.44" y="187.17" width="4.0" height="4.0" fill="#fff" stroke="#2f3cf0" stroke-width="1.1"/>
<rect x="311.56" y="185.31" width="4.0" height="4.0" fill="#fff" stroke="#2f3cf0" stroke-width="1.1"/>
<rect x="319.68" y="182.11" width="4.0" height="4.0" fill="#fff" stroke="#2f3cf0" stroke-width="1.1"/>
<line x1="193.20" y1="165.80" x2="204.20" y2="165.80" stroke="#7a7a7a" stroke-width="1"/>
<circle cx="199.20" cy="165.80" r="2.2" fill="#7a7a7a" stroke="none" stroke-width="0"/>
<text transform="translate(210.08,166.73) scale(1,1.12)" font-size="9.80" text-anchor="start" fill="#222" dominant-baseline="central" textLength="14.62" lengthAdjust="spacingAndGlyphs" id="d_leg_wt" >WT</text>
<line x1="250.50" y1="165.80" x2="261.50" y2="165.80" stroke="#2f3cf0" stroke-width="1"/>
<rect x="254.65" y="163.95" width="3.7" height="3.7" fill="#fff" stroke="#2f3cf0" stroke-width="1.05"/>
<text transform="translate(266.88,166.98) scale(1,1.12)" font-size="9.80" text-anchor="start" fill="#222" dominant-baseline="central" textLength="51.40" lengthAdjust="spacingAndGlyphs" id="d_leg_ko" ><tspan font-style="italic">Shank3</tspan> KO</text>
<text transform="translate(137.27,207.38) rotate(-90)" font-size="9.00" text-anchor="middle" fill="#222" dominant-baseline="central" textLength="83.79" lengthAdjust="spacingAndGlyphs" id="d_ylab">Firing frequency (Hz)</text>
<text transform="translate(245.72,281.38) scale(1,1.07)" font-size="9.80" text-anchor="middle" fill="#222" dominant-baseline="central" textLength="62.16" lengthAdjust="spacingAndGlyphs" id="d_stim" >Stim. int. (pA)</text>
<line x1="326.80" y1="180.00" x2="326.80" y2="197.70" stroke="#111" stroke-width="1.5"/>
<text transform="translate(329.70,188.85) rotate(90)" font-size="11.5" font-weight="bold" text-anchor="middle" fill="#111" dominant-baseline="central">****</text>
<line x1="381.40" y1="163.90" x2="381.40" y2="259.80" stroke="#555" stroke-width="1.1"/>
<line x1="377.20" y1="163.90" x2="381.40" y2="163.90" stroke="#555" stroke-width="1.1"/>
<text transform="translate(375.95,163.60) scale(1,1.17)" font-size="9.80" text-anchor="end" fill="#222" dominant-baseline="central" >220</text>
<line x1="377.20" y1="187.90" x2="381.40" y2="187.90" stroke="#555" stroke-width="1.1"/>
<text transform="translate(375.95,187.60) scale(1,1.17)" font-size="9.80" text-anchor="end" fill="#222" dominant-baseline="central" >165</text>
<line x1="377.20" y1="211.90" x2="381.40" y2="211.90" stroke="#555" stroke-width="1.1"/>
<text transform="translate(375.95,211.60) scale(1,1.17)" font-size="9.80" text-anchor="end" fill="#222" dominant-baseline="central" >110</text>
<line x1="377.20" y1="235.80" x2="381.40" y2="235.80" stroke="#555" stroke-width="1.1"/>
<text transform="translate(375.95,235.50) scale(1,1.17)" font-size="9.80" text-anchor="end" fill="#222" dominant-baseline="central" >55</text>
<line x1="377.20" y1="259.80" x2="381.40" y2="259.80" stroke="#555" stroke-width="1.1"/>
<text transform="translate(375.95,259.50) scale(1,1.17)" font-size="9.80" text-anchor="end" fill="#222" dominant-baseline="central" >0</text>
<rect x="390.10" y="185.30" width="19.10" height="74.50" fill="#e0e0e0" stroke="none" stroke-width="0" />
<rect x="418.95" y="174.05" width="17.10" height="85.75" fill="#fff" stroke="#6f80f2" stroke-width="1.3" />
<line x1="381.40" y1="259.80" x2="446.20" y2="259.80" stroke="#555" stroke-width="1.2"/>
<line x1="399.40" y1="259.80" x2="399.40" y2="263.80" stroke="#444" stroke-width="1"/>
<line x1="427.20" y1="259.80" x2="427.20" y2="263.80" stroke="#444" stroke-width="1"/>
<line x1="399.65" y1="182.50" x2="399.65" y2="188.50" stroke="#6a6a6a" stroke-width="1"/>
<line x1="396.15" y1="182.50" x2="403.15" y2="182.50" stroke="#6a6a6a" stroke-width="1"/>
<line x1="396.15" y1="188.50" x2="403.15" y2="188.50" stroke="#6a6a6a" stroke-width="1"/>
<line x1="427.50" y1="171.50" x2="427.50" y2="175.50" stroke="#2f3cf0" stroke-width="1"/>
<line x1="424.00" y1="171.50" x2="431.00" y2="171.50" stroke="#2f3cf0" stroke-width="1"/>
<line x1="424.00" y1="175.50" x2="431.00" y2="175.50" stroke="#2f3cf0" stroke-width="1"/>
<circle cx="394.20" cy="178.50" r="1.9" fill="#7a7a7a" stroke="none" stroke-width="0"/>
<circle cx="399.50" cy="180.00" r="1.9" fill="#7a7a7a" stroke="none" stroke-width="0"/>
<circle cx="405.00" cy="179.00" r="1.9" fill="#7a7a7a" stroke="none" stroke-width="0"/>
<circle cx="394.50" cy="186.50" r="1.9" fill="#7a7a7a" stroke="none" stroke-width="0"/>
<circle cx="404.50" cy="185.50" r="1.9" fill="#7a7a7a" stroke="none" stroke-width="0"/>
<circle cx="394.00" cy="194.50" r="1.9" fill="#7a7a7a" stroke="none" stroke-width="0"/>
<circle cx="399.50" cy="194.00" r="1.9" fill="#7a7a7a" stroke="none" stroke-width="0"/>
<circle cx="405.00" cy="194.50" r="1.9" fill="#7a7a7a" stroke="none" stroke-width="0"/>
<rect x="420.10" y="170.60" width="2.8" height="2.8" fill="#fff" stroke="#2f3cf0" stroke-width="1.0"/>
<rect x="423.30" y="168.60" width="2.8" height="2.8" fill="#fff" stroke="#2f3cf0" stroke-width="1.0"/>
<rect x="426.40" y="168.10" width="2.8" height="2.8" fill="#fff" stroke="#2f3cf0" stroke-width="1.0"/>
<rect x="429.60" y="167.60" width="2.8" height="2.8" fill="#fff" stroke="#2f3cf0" stroke-width="1.0"/>
<rect x="433.20" y="171.10" width="2.8" height="2.8" fill="#fff" stroke="#2f3cf0" stroke-width="1.0"/>
<rect x="420.40" y="174.10" width="2.8" height="2.8" fill="#fff" stroke="#2f3cf0" stroke-width="1.0"/>
<rect x="423.30" y="173.10" width="2.8" height="2.8" fill="#fff" stroke="#2f3cf0" stroke-width="1.0"/>
<rect x="426.60" y="172.60" width="2.8" height="2.8" fill="#fff" stroke="#2f3cf0" stroke-width="1.0"/>
<rect x="429.60" y="173.60" width="2.8" height="2.8" fill="#fff" stroke="#2f3cf0" stroke-width="1.0"/>
<rect x="423.40" y="177.10" width="2.8" height="2.8" fill="#fff" stroke="#2f3cf0" stroke-width="1.0"/>
<rect x="423.30" y="184.40" width="2.8" height="2.8" fill="#fff" stroke="#2f3cf0" stroke-width="1.0"/>
<line x1="398.10" y1="163.10" x2="430.00" y2="163.10" stroke="#777" stroke-width="1.5"/>
<text x="414.05" y="158.80" font-size="11.50" text-anchor="middle" fill="#111" dominant-baseline="central" font-weight="bold" >***</text>
<text transform="translate(352.18,218.12) rotate(-90)" font-size="9.00" text-anchor="middle" fill="#222" dominant-baseline="central" textLength="122.82" lengthAdjust="spacingAndGlyphs" id="db_ylab">Firing frequency at 380pA (Hz)</text>
<text transform="translate(407.02,270.93) rotate(-30)" font-size="10.92" text-anchor="end" fill="#222" dominant-baseline="alphabetic" id="db_wt">WT</text>
<text transform="translate(437.45,269.43) rotate(-30)" font-size="9.66" text-anchor="end" fill="#222" dominant-baseline="alphabetic" id="db_ko"><tspan font-style="italic">Shank3</tspan> KO</text>
<polyline points="479.90,151.18 481.03,151.22 482.16,151.35 483.29,151.19 484.42,151.20 485.55,151.23 486.68,151.09 487.82,151.20 488.95,151.25 490.08,151.31 491.21,151.05 492.34,151.13 493.47,151.05 494.60,151.31" fill="none" stroke="#7c7c7c" stroke-width="0.75" stroke-linejoin="round" />
<polyline points="479.90,155.27 481.03,155.04 482.16,155.37 483.29,155.37 484.42,155.26 485.55,155.24 486.68,155.08 487.82,155.03 488.95,155.21 490.08,155.04 491.21,155.09 492.34,155.11 493.47,155.03 494.60,155.19" fill="none" stroke="#7c7c7c" stroke-width="0.75" stroke-linejoin="round" />
<polyline points="479.90,158.38 481.03,158.52 482.16,158.41 483.29,158.45 484.42,158.40 485.55,158.46 486.68,158.38 487.82,158.32 488.95,158.58 490.08,158.58 491.21,158.52 492.34,158.47 493.47,158.33 494.60,158.30" fill="none" stroke="#7c7c7c" stroke-width="0.75" stroke-linejoin="round" />
<polyline points="479.90,161.52 481.03,161.45 482.16,161.70 483.29,161.56 484.42,161.72 485.55,161.56 486.68,161.76 487.82,161.73 488.95,161.42 490.08,161.50 491.21,161.75 492.34,161.59 493.47,161.77 494.60,161.56" fill="none" stroke="#7c7c7c" stroke-width="0.75" stroke-linejoin="round" />
<polyline points="479.90,164.15 481.03,164.35 482.16,164.40 483.29,164.22 484.42,164.15 485.55,164.24 486.68,164.47 487.82,164.39 488.95,164.16 490.08,164.21 491.21,164.16 492.34,164.14 493.47,164.41 494.60,164.18" fill="none" stroke="#7c7c7c" stroke-width="0.75" stroke-linejoin="round" />
<polyline points="479.90,165.22 481.03,165.18 482.16,165.09 483.29,165.28 484.42,165.07 485.55,165.25 486.68,165.06 487.82,165.17 488.95,165.10 490.08,165.12 491.21,165.37 492.34,165.31 493.47,165.13 494.60,165.34" fill="none" stroke="#7c7c7c" stroke-width="0.75" stroke-linejoin="round" />
<polyline points="479.90,166.00 481.03,166.06 482.16,166.23 483.29,166.15 484.42,165.96 485.55,166.28 486.68,166.00 487.82,166.01 488.95,166.20 490.08,166.04 491.21,166.03 492.34,165.95 493.47,165.95 494.60,166.13" fill="none" stroke="#7c7c7c" stroke-width="0.75" stroke-linejoin="round" />
<polyline points="479.90,166.91 481.03,167.04 482.16,166.95 483.29,166.98 484.42,167.17 485.55,166.99 486.68,167.03 487.82,167.13 488.95,166.89 490.08,166.88 491.21,167.15 492.34,167.11 493.47,166.91 494.60,166.89" fill="none" stroke="#7c7c7c" stroke-width="0.75" stroke-linejoin="round" />
<polyline points="479.90,168.09 481.03,168.16 482.16,167.89 483.29,168.16 484.42,168.14 485.55,168.04 486.68,167.97 487.82,167.86 488.95,167.83 490.08,168.17 491.21,167.91 492.34,168.07 493.47,167.91 494.60,168.12" fill="none" stroke="#7c7c7c" stroke-width="0.75" stroke-linejoin="round" />
<line x1="494.60" y1="149.80" x2="494.60" y2="204.40" stroke="#7c7c7c" stroke-width="0.9"/>
<polyline points="494.60,176.60 495.00,176.54 495.40,176.49 495.80,176.44 496.20,176.39 496.60,176.35 497.00,176.31 497.40,176.28 497.80,176.24 498.20,176.21 498.60,176.18 499.00,176.16 499.40,176.13 499.80,176.11 500.20,176.09 500.60,176.07 501.00,176.05 501.40,176.03 501.80,176.02 502.20,176.00 502.60,175.99 503.00,175.97 503.40,175.96 503.80,175.95 504.20,175.94 504.60,175.93 505.00,175.92 505.40,175.91 505.80,175.90 506.20,175.89 506.60,175.88 507.00,175.87 507.40,175.87 507.80,175.86 508.20,175.85 508.60,175.84 509.00,175.84 509.40,175.83 509.80,175.83 510.20,175.82 510.60,175.81 511.00,175.81 511.40,175.80 511.80,175.80 512.20,175.79 512.60,175.79 513.00,175.78 513.40,175.78 513.80,175.78 514.20,175.77 514.60,175.77 515.00,175.76 515.40,175.76 515.80,175.76 516.20,175.75 516.60,175.75 517.00,175.75 517.40,175.74 517.80,175.74 518.20,175.74 518.60,175.73 519.00,175.73 519.40,175.73 519.80,175.72 520.20,175.72 520.60,175.72 521.00,175.72 521.40,175.71 521.80,175.71 522.20,175.71 522.60,175.71 523.00,175.70 523.40,175.70 523.80,175.70 524.20,175.70 524.60,175.69 525.00,175.69 525.40,175.69 525.80,175.69 526.20,175.69 526.60,175.68 527.00,175.68 527.40,175.68 527.80,175.68 528.20,175.68 528.60,175.68 529.00,175.67 529.40,175.67 529.80,175.67 530.20,175.67 530.60,175.67 531.00,175.67 531.40,175.66 531.80,175.66 532.20,175.66 532.60,175.66 533.00,175.66 533.40,175.66 533.80,175.66 534.20,175.66 534.60,175.65 535.00,175.65 535.40,175.65 535.80,175.65 536.20,175.65 536.60,175.65 537.00,175.65 537.40,175.65 537.80,175.65 538.20,175.64 542.60,175.60" fill="none" stroke="#7c7c7c" stroke-width="0.65" stroke-linejoin="round" />
<polyline points="494.60,179.10 495.00,178.90 495.40,178.71 495.80,178.53 496.20,178.37 496.60,178.23 497.00,178.09 497.40,177.97 497.80,177.85 498.20,177.74 498.60,177.65 499.00,177.55 499.40,177.47 499.80,177.39 500.20,177.31 500.60,177.24 501.00,177.18 501.40,177.12 501.80,177.06 502.20,177.01 502.60,176.96 503.00,176.91 503.40,176.87 503.80,176.83 504.20,176.79 504.60,176.75 505.00,176.71 505.40,176.68 505.80,176.65 506.20,176.61 506.60,176.59 507.00,176.56 507.40,176.53 507.80,176.51 508.20,176.48 508.60,176.46 509.00,176.43 509.40,176.41 509.80,176.39 510.20,176.37 510.60,176.35 511.00,176.33 511.40,176.31 511.80,176.30 512.20,176.28 512.60,176.26 513.00,176.25 513.40,176.23 513.80,176.22 514.20,176.20 514.60,176.19 515.00,176.17 515.40,176.16 515.80,176.15 516.20,176.13 516.60,176.12 517.00,176.11 517.40,176.10 517.80,176.09 518.20,176.08 518.60,176.07 519.00,176.06 519.40,176.04 519.80,176.03 520.20,176.02 520.60,176.02 521.00,176.01 521.40,176.00 521.80,175.99 522.20,175.98 522.60,175.97 523.00,175.96 523.40,175.95 523.80,175.95 524.20,175.94 524.60,175.93 525.00,175.92 525.40,175.92 525.80,175.91 526.20,175.90 526.60,175.90 527.00,175.89 527.40,175.88 527.80,175.88 528.20,175.87 528.60,175.87 529.00,175.86 529.40,175.85 529.80,175.85 530.20,175.84 530.60,175.84 531.00,175.83 531.40,175.83 531.80,175.82 532.20,175.82 532.60,175.81 533.00,175.81 533.40,175.80 533.80,175.80 534.20,175.79 534.60,175.79 535.00,175.79 535.40,175.78 535.80,175.78 536.20,175.77 536.60,175.77 537.00,175.77 537.40,175.76 537.80,175.76 538.20,175.76 542.60,175.60" fill="none" stroke="#7c7c7c" stroke-width="0.65" stroke-linejoin="round" />
<polyline points="494.60,181.60 495.00,181.25 495.40,180.93 495.80,180.63 496.20,180.36 496.60,180.10 497.00,179.87 497.40,179.66 497.80,179.46 498.20,179.28 498.60,179.11 499.00,178.95 499.40,178.80 499.80,178.66 500.20,178.54 500.60,178.42 501.00,178.31 501.40,178.20 501.80,178.11 502.20,178.02 502.60,177.93 503.00,177.85 503.40,177.77 503.80,177.70 504.20,177.63 504.60,177.57 505.00,177.51 505.40,177.45 505.80,177.39 506.20,177.34 506.60,177.29 507.00,177.24 507.40,177.20 507.80,177.15 508.20,177.11 508.60,177.07 509.00,177.03 509.40,176.99 509.80,176.96 510.20,176.92 510.60,176.89 511.00,176.86 511.40,176.82 511.80,176.79 512.20,176.77 512.60,176.74 513.00,176.71 513.40,176.68 513.80,176.66 514.20,176.63 514.60,176.61 515.00,176.58 515.40,176.56 515.80,176.54 516.20,176.52 516.60,176.50 517.00,176.48 517.40,176.46 517.80,176.44 518.20,176.42 518.60,176.40 519.00,176.38 519.40,176.36 519.80,176.35 520.20,176.33 520.60,176.31 521.00,176.30 521.40,176.28 521.80,176.27 522.20,176.25 522.60,176.24 523.00,176.22 523.40,176.21 523.80,176.19 524.20,176.18 524.60,176.17 525.00,176.16 525.40,176.14 525.80,176.13 526.20,176.12 526.60,176.11 527.00,176.10 527.40,176.09 527.80,176.08 528.20,176.06 528.60,176.05 529.00,176.04 529.40,176.03 529.80,176.02 530.20,176.02 530.60,176.01 531.00,176.00 531.40,175.99 531.80,175.98 532.20,175.97 532.60,175.96 533.00,175.96 533.40,175.95 533.80,175.94 534.20,175.93 534.60,175.93 535.00,175.92 535.40,175.91 535.80,175.90 536.20,175.90 536.60,175.89 537.00,175.88 537.40,175.88 537.80,175.87 538.20,175.87 542.60,175.60" fill="none" stroke="#7c7c7c" stroke-width="0.65" stroke-linejoin="round" />
<polyline points="494.60,184.10 495.00,183.60 495.40,183.14 495.80,182.72 496.20,182.34 496.60,181.98 497.00,181.65 497.40,181.35 497.80,181.07 498.20,180.81 498.60,180.57 499.00,180.34 499.40,180.14 499.80,179.94 500.20,179.76 500.60,179.59 501.00,179.44 501.40,179.29 501.80,179.15 502.20,179.02 502.60,178.90 503.00,178.79 503.40,178.68 503.80,178.58 504.20,178.48 504.60,178.39 505.00,178.30 505.40,178.22 505.80,178.14 506.20,178.06 506.60,177.99 507.00,177.93 507.40,177.86 507.80,177.80 508.20,177.74 508.60,177.68 509.00,177.63 509.40,177.57 509.80,177.52 510.20,177.47 510.60,177.43 511.00,177.38 511.40,177.34 511.80,177.29 512.20,177.25 512.60,177.21 513.00,177.17 513.40,177.13 513.80,177.10 514.20,177.06 514.60,177.03 515.00,176.99 515.40,176.96 515.80,176.93 516.20,176.90 516.60,176.87 517.00,176.84 517.40,176.81 517.80,176.78 518.20,176.76 518.60,176.73 519.00,176.71 519.40,176.68 519.80,176.66 520.20,176.63 520.60,176.61 521.00,176.59 521.40,176.56 521.80,176.54 522.20,176.52 522.60,176.50 523.00,176.48 523.40,176.46 523.80,176.44 524.20,176.42 524.60,176.41 525.00,176.39 525.40,176.37 525.80,176.35 526.20,176.34 526.60,176.32 527.00,176.30 527.40,176.29 527.80,176.27 528.20,176.26 528.60,176.24 529.00,176.23 529.40,176.22 529.80,176.20 530.20,176.19 530.60,176.18 531.00,176.16 531.40,176.15 531.80,176.14 532.20,176.13 532.60,176.12 533.00,176.10 533.40,176.09 533.80,176.08 534.20,176.07 534.60,176.06 535.00,176.05 535.40,176.04 535.80,176.03 536.20,176.02 536.60,176.01 537.00,176.00 537.40,175.99 537.80,175.99 538.20,175.98 542.60,175.60" fill="none" stroke="#7c7c7c" stroke-width="0.65" stroke-linejoin="round" />
<polyline points="494.60,187.10 495.00,186.43 495.40,185.81 495.80,185.24 496.20,184.72 496.60,184.23 497.00,183.79 497.40,183.38 497.80,183.00 498.20,182.65 498.60,182.32 499.00,182.02 499.40,181.74 499.80,181.47 500.20,181.23 500.60,181.00 501.00,180.79 501.40,180.59 501.80,180.40 502.20,180.23 502.60,180.06 503.00,179.91 503.40,179.76 503.80,179.63 504.20,179.49 504.60,179.37 505.00,179.25 505.40,179.14 505.80,179.04 506.20,178.93 506.60,178.84 507.00,178.75 507.40,178.66 507.80,178.57 508.20,178.49 508.60,178.42 509.00,178.34 509.40,178.27 509.80,178.20 510.20,178.13 510.60,178.07 511.00,178.01 511.40,177.95 511.80,177.89 512.20,177.83 512.60,177.78 513.00,177.73 513.40,177.68 513.80,177.63 514.20,177.58 514.60,177.53 515.00,177.49 515.40,177.44 515.80,177.40 516.20,177.36 516.60,177.32 517.00,177.28 517.40,177.24 517.80,177.20 518.20,177.17 518.60,177.13 519.00,177.10 519.40,177.06 519.80,177.03 520.20,177.00 520.60,176.96 521.00,176.93 521.40,176.90 521.80,176.88 522.20,176.85 522.60,176.82 523.00,176.79 523.40,176.77 523.80,176.74 524.20,176.71 524.60,176.69 525.00,176.67 525.40,176.64 525.80,176.62 526.20,176.60 526.60,176.57 527.00,176.55 527.40,176.53 527.80,176.51 528.20,176.49 528.60,176.47 529.00,176.45 529.40,176.43 529.80,176.41 530.20,176.40 530.60,176.38 531.00,176.36 531.40,176.34 531.80,176.33 532.20,176.31 532.60,176.30 533.00,176.28 533.40,176.27 533.80,176.25 534.20,176.24 534.60,176.22 535.00,176.21 535.40,176.20 535.80,176.18 536.20,176.17 536.60,176.16 537.00,176.15 537.40,176.13 537.80,176.12 538.20,176.11 542.60,175.60" fill="none" stroke="#7c7c7c" stroke-width="0.65" stroke-linejoin="round" />
<polyline points="494.60,190.60 495.00,189.72 495.40,188.91 495.80,188.17 496.20,187.49 496.60,186.86 497.00,186.28 497.40,185.74 497.80,185.25 498.20,184.79 498.60,184.36 499.00,183.97 499.40,183.60 499.80,183.26 500.20,182.94 500.60,182.65 501.00,182.37 501.40,182.11 501.80,181.87 502.20,181.64 502.60,181.42 503.00,181.22 503.40,181.03 503.80,180.85 504.20,180.68 504.60,180.52 505.00,180.37 505.40,180.22 505.80,180.08 506.20,179.95 506.60,179.82 507.00,179.70 507.40,179.59 507.80,179.48 508.20,179.37 508.60,179.27 509.00,179.17 509.40,179.08 509.80,178.99 510.20,178.90 510.60,178.82 511.00,178.74 511.40,178.66 511.80,178.59 512.20,178.51 512.60,178.44 513.00,178.37 513.40,178.31 513.80,178.24 514.20,178.18 514.60,178.12 515.00,178.06 515.40,178.00 515.80,177.95 516.20,177.89 516.60,177.84 517.00,177.79 517.40,177.74 517.80,177.69 518.20,177.64 518.60,177.60 519.00,177.55 519.40,177.51 519.80,177.46 520.20,177.42 520.60,177.38 521.00,177.34 521.40,177.30 521.80,177.26 522.20,177.23 522.60,177.19 523.00,177.15 523.40,177.12 523.80,177.09 524.20,177.05 524.60,177.02 525.00,176.99 525.40,176.96 525.80,176.93 526.20,176.90 526.60,176.87 527.00,176.84 527.40,176.81 527.80,176.79 528.20,176.76 528.60,176.74 529.00,176.71 529.40,176.69 529.80,176.66 530.20,176.64 530.60,176.62 531.00,176.59 531.40,176.57 531.80,176.55 532.20,176.53 532.60,176.51 533.00,176.49 533.40,176.47 533.80,176.45 534.20,176.43 534.60,176.41 535.00,176.40 535.40,176.38 535.80,176.36 536.20,176.34 536.60,176.33 537.00,176.31 537.40,176.30 537.80,176.28 538.20,176.27 542.60,175.60" fill="none" stroke="#7c7c7c" stroke-width="0.65" stroke-linejoin="round" />
<polyline points="494.60,194.60 495.00,193.49 495.40,192.46 495.80,191.53 496.20,190.66 496.60,189.86 497.00,189.13 497.40,188.45 497.80,187.82 498.20,187.24 498.60,186.70 499.00,186.20 499.40,185.74 499.80,185.31 500.20,184.90 500.60,184.53 501.00,184.18 501.40,183.85 501.80,183.54 502.20,183.25 502.60,182.98 503.00,182.72 503.40,182.48 503.80,182.25 504.20,182.03 504.60,181.83 505.00,181.64 505.40,181.45 505.80,181.28 506.20,181.11 506.60,180.95 507.00,180.80 507.40,180.65 507.80,180.51 508.20,180.38 508.60,180.25 509.00,180.13 509.40,180.01 509.80,179.90 510.20,179.79 510.60,179.68 511.00,179.58 511.40,179.48 511.80,179.38 512.20,179.29 512.60,179.20 513.00,179.11 513.40,179.03 513.80,178.95 514.20,178.87 514.60,178.79 515.00,178.72 515.40,178.64 515.80,178.57 516.20,178.50 516.60,178.44 517.00,178.37 517.40,178.31 517.80,178.25 518.20,178.19 518.60,178.13 519.00,178.07 519.40,178.01 519.80,177.96 520.20,177.91 520.60,177.86 521.00,177.80 521.40,177.76 521.80,177.71 522.20,177.66 522.60,177.61 523.00,177.57 523.40,177.53 523.80,177.48 524.20,177.44 524.60,177.40 525.00,177.36 525.40,177.32 525.80,177.28 526.20,177.25 526.60,177.21 527.00,177.17 527.40,177.14 527.80,177.10 528.20,177.07 528.60,177.04 529.00,177.01 529.40,176.98 529.80,176.95 530.20,176.92 530.60,176.89 531.00,176.86 531.40,176.83 531.80,176.80 532.20,176.78 532.60,176.75 533.00,176.73 533.40,176.70 533.80,176.68 534.20,176.65 534.60,176.63 535.00,176.61 535.40,176.59 535.80,176.56 536.20,176.54 536.60,176.52 537.00,176.50 537.40,176.48 537.80,176.46 538.20,176.44 542.60,175.60" fill="none" stroke="#7c7c7c" stroke-width="0.65" stroke-linejoin="round" />
<polyline points="494.60,199.10 495.00,197.72 495.40,196.46 495.80,195.30 496.20,194.23 496.60,193.24 497.00,192.33 497.40,191.49 497.80,190.72 498.20,190.00 498.60,189.33 499.00,188.71 499.40,188.14 499.80,187.60 500.20,187.11 500.60,186.64 501.00,186.21 501.40,185.80 501.80,185.42 502.20,185.06 502.60,184.72 503.00,184.41 503.40,184.11 503.80,183.83 504.20,183.56 504.60,183.31 505.00,183.07 505.40,182.84 505.80,182.62 506.20,182.41 506.60,182.22 507.00,182.03 507.40,181.85 507.80,181.68 508.20,181.51 508.60,181.35 509.00,181.20 509.40,181.05 509.80,180.91 510.20,180.78 510.60,180.65 511.00,180.52 511.40,180.40 511.80,180.28 512.20,180.16 512.60,180.05 513.00,179.95 513.40,179.84 513.80,179.74 514.20,179.64 514.60,179.55 515.00,179.45 515.40,179.36 515.80,179.28 516.20,179.19 516.60,179.11 517.00,179.03 517.40,178.95 517.80,178.87 518.20,178.80 518.60,178.73 519.00,178.66 519.40,178.59 519.80,178.52 520.20,178.45 520.60,178.39 521.00,178.33 521.40,178.27 521.80,178.21 522.20,178.15 522.60,178.09 523.00,178.04 523.40,177.98 523.80,177.93 524.20,177.88 524.60,177.83 525.00,177.78 525.40,177.73 525.80,177.68 526.20,177.63 526.60,177.59 527.00,177.55 527.40,177.50 527.80,177.46 528.20,177.42 528.60,177.38 529.00,177.34 529.40,177.30 529.80,177.26 530.20,177.23 530.60,177.19 531.00,177.16 531.40,177.12 531.80,177.09 532.20,177.06 532.60,177.02 533.00,176.99 533.40,176.96 533.80,176.93 534.20,176.90 534.60,176.87 535.00,176.85 535.40,176.82 535.80,176.79 536.20,176.77 536.60,176.74 537.00,176.71 537.40,176.69 537.80,176.67 538.20,176.64 542.60,175.60" fill="none" stroke="#7c7c7c" stroke-width="0.65" stroke-linejoin="round" />
<polyline points="494.60,204.10 495.00,202.43 495.40,200.90 495.80,199.49 496.20,198.19 496.60,196.99 497.00,195.89 497.40,194.87 497.80,193.93 498.20,193.06 498.60,192.25 499.00,191.50 499.40,190.81 499.80,190.16 500.20,189.55 500.60,188.99 501.00,188.46 501.40,187.97 501.80,187.51 502.20,187.07 502.60,186.67 503.00,186.28 503.40,185.92 503.80,185.58 504.20,185.25 504.60,184.95 505.00,184.65 505.40,184.38 505.80,184.12 506.20,183.86 506.60,183.63 507.00,183.40 507.40,183.18 507.80,182.97 508.20,182.77 508.60,182.58 509.00,182.39 509.40,182.21 509.80,182.04 510.20,181.88 510.60,181.72 511.00,181.57 511.40,181.42 511.80,181.27 512.20,181.14 512.60,181.00 513.00,180.87 513.40,180.74 513.80,180.62 514.20,180.50 514.60,180.39 515.00,180.27 515.40,180.17 515.80,180.06 516.20,179.96 516.60,179.86 517.00,179.76 517.40,179.66 517.80,179.57 518.20,179.48 518.60,179.39 519.00,179.31 519.40,179.22 519.80,179.14 520.20,179.06 520.60,178.98 521.00,178.91 521.40,178.83 521.80,178.76 522.20,178.69 522.60,178.62 523.00,178.55 523.40,178.49 523.80,178.42 524.20,178.36 524.60,178.30 525.00,178.24 525.40,178.18 525.80,178.12 526.20,178.07 526.60,178.01 527.00,177.96 527.40,177.91 527.80,177.86 528.20,177.81 528.60,177.76 529.00,177.71 529.40,177.66 529.80,177.62 530.20,177.57 530.60,177.53 531.00,177.49 531.40,177.45 531.80,177.41 532.20,177.37 532.60,177.33 533.00,177.29 533.40,177.25 533.80,177.22 534.20,177.18 534.60,177.14 535.00,177.11 535.40,177.08 535.80,177.05 536.20,177.01 536.60,176.98 537.00,176.95 537.40,176.92 537.80,176.89 538.20,176.86 542.60,175.60" fill="none" stroke="#7c7c7c" stroke-width="0.65" stroke-linejoin="round" />
<polyline points="495.60,175.65 496.79,175.50 497.97,175.44 499.16,175.71 500.35,175.38 501.53,175.46 502.72,175.63 503.91,175.78 505.09,175.66 506.28,175.49 507.47,175.81 508.66,175.45 509.84,175.36 511.03,175.48 512.22,175.57 513.40,175.38 514.59,175.44 515.78,175.53 516.96,175.64 518.15,175.42 519.34,175.53 520.52,175.80 521.71,175.84 522.90,175.68 524.08,175.70 525.27,175.64 526.46,175.42 527.64,175.37 528.83,175.36 530.02,175.81 531.21,175.70 532.39,175.83 533.58,175.36 534.77,175.67 535.95,175.59 537.14,175.72 538.33,175.51 539.51,175.85 540.70,175.39 541.89,175.62 543.07,175.72 544.26,175.80 545.45,175.72 546.63,175.70 547.82,175.75 549.01,175.81 550.19,175.53 551.38,175.69 552.57,175.80 553.76,175.79 554.94,175.56 556.13,175.75 557.32,175.78 558.50,175.64 559.69,175.66 560.88,175.54 562.06,175.64 563.25,175.65 564.44,175.39 565.62,175.67 566.81,175.85 568.00,175.79 569.18,175.71 570.37,175.54 571.56,175.72 572.74,175.64 573.93,175.57 575.12,175.77 576.31,175.39 577.49,175.73 578.68,175.36 579.87,175.65 581.05,175.59 582.24,175.47 583.43,175.70 584.61,175.60 585.80,175.66" fill="none" stroke="#7c7c7c" stroke-width="3.0" stroke-linejoin="round" />
<polyline points="479.90,212.09 481.02,211.63 482.15,211.46 483.27,211.66 484.39,211.92 485.52,211.59 486.64,211.57 487.76,212.08 488.88,211.91 490.01,211.76 491.13,212.07 492.25,211.68 493.38,211.92 494.50,211.59" fill="none" stroke="#1a2cf0" stroke-width="0.95" stroke-linejoin="round" />
<polyline points="479.90,214.25 481.02,214.51 482.15,214.59 483.27,214.57 484.39,214.22 485.52,214.36 486.64,214.17 487.76,214.05 488.88,214.30 490.01,214.54 491.13,214.54 492.25,214.45 493.38,214.62 494.50,214.14" fill="none" stroke="#1a2cf0" stroke-width="0.95" stroke-linejoin="round" />
<polyline points="479.90,216.47 481.02,216.67 482.15,216.54 483.27,216.50 484.39,216.64 485.52,216.79 486.64,216.70 487.76,216.57 488.88,216.94 490.01,217.04 491.13,216.67 492.25,216.40 493.38,216.37 494.50,216.96" fill="none" stroke="#1a2cf0" stroke-width="0.95" stroke-linejoin="round" />
<polyline points="479.90,218.28 481.02,218.75 482.15,218.65 483.27,218.47 484.39,218.80 485.52,218.26 486.64,218.35 487.76,218.57 488.88,218.27 490.01,218.83 491.13,218.42 492.25,218.35 493.38,218.28 494.50,218.69" fill="none" stroke="#1a2cf0" stroke-width="0.95" stroke-linejoin="round" />
<polyline points="479.90,220.36 481.02,220.49 482.15,220.51 483.27,220.62 484.39,220.72 485.52,220.53 486.64,220.19 487.76,220.38 488.88,220.18 490.01,220.06 491.13,220.38 492.25,220.55 493.38,220.18 494.50,220.24" fill="none" stroke="#1a2cf0" stroke-width="0.95" stroke-linejoin="round" />
<polyline points="479.90,223.39 481.02,223.64 482.15,223.51 483.27,223.58 484.39,223.68 485.52,223.43 486.64,223.70 487.76,223.78 488.88,223.21 490.01,223.80 491.13,223.66 492.25,223.24 493.38,223.47 494.50,223.59" fill="none" stroke="#1a2cf0" stroke-width="0.95" stroke-linejoin="round" />
<polyline points="479.90,226.29 481.02,225.91 482.15,226.05 483.27,226.27 484.39,226.21 485.52,226.31 486.64,225.97 487.76,226.11 488.88,225.79 490.01,226.16 491.13,226.22 492.25,226.10 493.38,226.15 494.50,225.80" fill="none" stroke="#1a2cf0" stroke-width="0.95" stroke-linejoin="round" />
<polyline points="479.90,228.78 481.02,228.84 482.15,228.83 483.27,228.53 484.39,228.70 485.52,228.37 486.64,228.79 487.76,228.75 488.88,228.39 490.01,228.21 491.13,228.46 492.25,228.54 493.38,228.69 494.50,228.49" fill="none" stroke="#1a2cf0" stroke-width="0.95" stroke-linejoin="round" />
<line x1="494.50" y1="209.70" x2="494.50" y2="251.70" stroke="#1a2cf0" stroke-width="1.5"/>
<polyline points="494.50,234.40 494.90,234.17 495.30,233.97 495.70,233.80 496.10,233.66 496.50,233.53 496.90,233.42 497.30,233.32 497.70,233.24 498.10,233.18 498.50,233.12 498.90,233.07 499.30,233.03 499.70,232.99 500.10,232.97 500.50,232.95 500.90,232.93 501.30,232.92 501.70,232.91 502.10,232.91 502.50,232.91 502.90,232.91 503.30,232.92 503.70,232.93 504.10,232.94 504.50,232.95 504.90,232.96 505.30,232.97 505.70,232.99 506.10,233.01 506.50,233.02 506.90,233.04 507.30,233.06 507.70,233.08 508.10,233.10 508.50,233.12 508.90,233.14 509.30,233.15 509.70,233.17 510.10,233.19 510.50,233.21 510.90,233.23 511.30,233.25 511.70,233.27 512.10,233.29 512.50,233.31 512.90,233.33 513.30,233.34 513.70,233.36 514.10,233.38 514.50,233.40 514.90,233.41 515.30,233.43 515.70,233.45 516.10,233.46 516.50,233.48 516.90,233.49 517.30,233.50 517.70,233.52 518.10,233.53 518.50,233.55 518.90,233.56 519.30,233.57 519.70,233.58 520.10,233.59 520.50,233.61 520.90,233.62 521.30,233.63 521.70,233.64 522.10,233.65 522.50,233.66 522.90,233.67 523.30,233.68 523.70,233.68 524.10,233.69 524.50,233.70 524.90,233.71 525.30,233.72 525.70,233.72 526.10,233.73 526.50,233.74 526.90,233.74 527.30,233.75 527.70,233.76 528.10,233.76 528.50,233.77 528.90,233.77 529.30,233.78 529.70,233.78 530.10,233.79 530.50,233.79 530.90,233.80 531.30,233.80 531.70,233.81 532.10,233.81 532.50,233.81 532.90,233.82 533.30,233.82 533.70,233.82 534.10,233.83 534.50,233.83 534.90,233.83 535.30,233.84 535.70,233.84 536.10,233.84 536.50,233.84 536.90,233.85 537.30,233.85 537.70,233.85 538.10,233.85 542.50,233.90" fill="none" stroke="#1a2cf0" stroke-width="0.7" stroke-linejoin="round" />
<polyline points="494.50,234.40 494.90,234.03 495.30,233.71 495.70,233.43 496.10,233.19 496.50,232.97 496.90,232.79 497.30,232.63 497.70,232.49 498.10,232.37 498.50,232.27 498.90,232.18 499.30,232.11 499.70,232.05 500.10,232.01 500.50,231.97 500.90,231.94 501.30,231.93 501.70,231.92 502.10,231.91 502.50,231.91 502.90,231.92 503.30,231.93 503.70,231.95 504.10,231.97 504.50,231.99 504.90,232.02 505.30,232.05 505.70,232.08 506.10,232.11 506.50,232.15 506.90,232.18 507.30,232.22 507.70,232.25 508.10,232.29 508.50,232.33 508.90,232.37 509.30,232.41 509.70,232.45 510.10,232.49 510.50,232.53 510.90,232.57 511.30,232.60 511.70,232.64 512.10,232.68 512.50,232.72 512.90,232.75 513.30,232.79 513.70,232.82 514.10,232.86 514.50,232.89 514.90,232.93 515.30,232.96 515.70,232.99 516.10,233.02 516.50,233.05 516.90,233.08 517.30,233.11 517.70,233.14 518.10,233.16 518.50,233.19 518.90,233.22 519.30,233.24 519.70,233.27 520.10,233.29 520.50,233.31 520.90,233.33 521.30,233.35 521.70,233.38 522.10,233.40 522.50,233.41 522.90,233.43 523.30,233.45 523.70,233.47 524.10,233.49 524.50,233.50 524.90,233.52 525.30,233.53 525.70,233.55 526.10,233.56 526.50,233.57 526.90,233.59 527.30,233.60 527.70,233.61 528.10,233.62 528.50,233.64 528.90,233.65 529.30,233.66 529.70,233.67 530.10,233.68 530.50,233.69 530.90,233.69 531.30,233.70 531.70,233.71 532.10,233.72 532.50,233.73 532.90,233.73 533.30,233.74 533.70,233.75 534.10,233.75 534.50,233.76 534.90,233.77 535.30,233.77 535.70,233.78 536.10,233.78 536.50,233.79 536.90,233.79 537.30,233.80 537.70,233.80 538.10,233.81 542.50,233.90" fill="none" stroke="#1a2cf0" stroke-width="0.7" stroke-linejoin="round" />
<polyline points="494.50,234.40 494.90,233.90 495.30,233.45 495.70,233.06 496.10,232.72 496.50,232.42 496.90,232.16 497.30,231.93 497.70,231.73 498.10,231.56 498.50,231.42 498.90,231.29 499.30,231.19 499.70,231.11 500.10,231.04 500.50,230.99 500.90,230.96 501.30,230.93 501.70,230.92 502.10,230.91 502.50,230.92 502.90,230.93 503.30,230.95 503.70,230.97 504.10,231.00 504.50,231.04 504.90,231.08 505.30,231.12 505.70,231.17 506.10,231.22 506.50,231.27 506.90,231.32 507.30,231.38 507.70,231.43 508.10,231.49 508.50,231.55 508.90,231.60 509.30,231.66 509.70,231.72 510.10,231.78 510.50,231.84 510.90,231.90 511.30,231.96 511.70,232.01 512.10,232.07 512.50,232.12 512.90,232.18 513.30,232.23 513.70,232.29 514.10,232.34 514.50,232.39 514.90,232.44 515.30,232.49 515.70,232.54 516.10,232.58 516.50,232.63 516.90,232.67 517.30,232.71 517.70,232.76 518.10,232.80 518.50,232.84 518.90,232.87 519.30,232.91 519.70,232.95 520.10,232.98 520.50,233.02 520.90,233.05 521.30,233.08 521.70,233.11 522.10,233.14 522.50,233.17 522.90,233.20 523.30,233.23 523.70,233.25 524.10,233.28 524.50,233.30 524.90,233.33 525.30,233.35 525.70,233.37 526.10,233.39 526.50,233.41 526.90,233.43 527.30,233.45 527.70,233.47 528.10,233.49 528.50,233.50 528.90,233.52 529.30,233.53 529.70,233.55 530.10,233.56 530.50,233.58 530.90,233.59 531.30,233.60 531.70,233.62 532.10,233.63 532.50,233.64 532.90,233.65 533.30,233.66 533.70,233.67 534.10,233.68 534.50,233.69 534.90,233.70 535.30,233.71 535.70,233.72 536.10,233.72 536.50,233.73 536.90,233.74 537.30,233.75 537.70,233.75 538.10,233.76 542.50,233.90" fill="none" stroke="#1a2cf0" stroke-width="0.7" stroke-linejoin="round" />
<polyline points="494.50,234.40 494.90,233.76 495.30,233.19 495.70,232.69 496.10,232.25 496.50,231.86 496.90,231.52 497.30,231.23 497.70,230.97 498.10,230.75 498.50,230.57 498.90,230.41 499.30,230.28 499.70,230.17 500.10,230.08 500.50,230.02 500.90,229.97 501.30,229.94 501.70,229.92 502.10,229.91 502.50,229.92 502.90,229.93 503.30,229.96 503.70,229.99 504.10,230.03 504.50,230.08 504.90,230.13 505.30,230.19 505.70,230.25 506.10,230.32 506.50,230.39 506.90,230.46 507.30,230.53 507.70,230.61 508.10,230.68 508.50,230.76 508.90,230.84 509.30,230.92 509.70,231.00 510.10,231.07 510.50,231.15 510.90,231.23 511.30,231.31 511.70,231.38 512.10,231.46 512.50,231.53 512.90,231.61 513.30,231.68 513.70,231.75 514.10,231.82 514.50,231.89 514.90,231.95 515.30,232.02 515.70,232.08 516.10,232.14 516.50,232.20 516.90,232.26 517.30,232.32 517.70,232.37 518.10,232.43 518.50,232.48 518.90,232.53 519.30,232.58 519.70,232.63 520.10,232.68 520.50,232.72 520.90,232.77 521.30,232.81 521.70,232.85 522.10,232.89 522.50,232.93 522.90,232.97 523.30,233.00 523.70,233.04 524.10,233.07 524.50,233.10 524.90,233.13 525.30,233.16 525.70,233.19 526.10,233.22 526.50,233.25 526.90,233.28 527.30,233.30 527.70,233.32 528.10,233.35 528.50,233.37 528.90,233.39 529.30,233.41 529.70,233.43 530.10,233.45 530.50,233.47 530.90,233.49 531.30,233.51 531.70,233.52 532.10,233.54 532.50,233.55 532.90,233.57 533.30,233.58 533.70,233.59 534.10,233.61 534.50,233.62 534.90,233.63 535.30,233.64 535.70,233.65 536.10,233.66 536.50,233.67 536.90,233.68 537.30,233.69 537.70,233.70 538.10,233.71 542.50,233.90" fill="none" stroke="#1a2cf0" stroke-width="0.7" stroke-linejoin="round" />
<polyline points="494.50,234.40 494.90,233.65 495.30,232.98 495.70,232.40 496.10,231.88 496.50,231.42 496.90,231.02 497.30,230.67 497.70,230.37 498.10,230.11 498.50,229.89 498.90,229.70 499.30,229.54 499.70,229.41 500.10,229.31 500.50,229.23 500.90,229.18 501.30,229.14 501.70,229.12 502.10,229.11 502.50,229.12 502.90,229.14 503.30,229.17 503.70,229.21 504.10,229.26 504.50,229.32 504.90,229.38 505.30,229.45 505.70,229.53 506.10,229.60 506.50,229.69 506.90,229.77 507.30,229.86 507.70,229.95 508.10,230.04 508.50,230.13 508.90,230.23 509.30,230.32 509.70,230.42 510.10,230.51 510.50,230.60 510.90,230.70 511.30,230.79 511.70,230.88 512.10,230.97 512.50,231.06 512.90,231.15 513.30,231.23 513.70,231.32 514.10,231.40 514.50,231.48 514.90,231.56 515.30,231.64 515.70,231.72 516.10,231.79 516.50,231.86 516.90,231.93 517.30,232.00 517.70,232.07 518.10,232.13 518.50,232.20 518.90,232.26 519.30,232.32 519.70,232.38 520.10,232.43 520.50,232.49 520.90,232.54 521.30,232.59 521.70,232.64 522.10,232.69 522.50,232.74 522.90,232.78 523.30,232.82 523.70,232.86 524.10,232.91 524.50,232.94 524.90,232.98 525.30,233.02 525.70,233.05 526.10,233.09 526.50,233.12 526.90,233.15 527.30,233.18 527.70,233.21 528.10,233.24 528.50,233.26 528.90,233.29 529.30,233.32 529.70,233.34 530.10,233.36 530.50,233.38 530.90,233.41 531.30,233.43 531.70,233.45 532.10,233.47 532.50,233.48 532.90,233.50 533.30,233.52 533.70,233.53 534.10,233.55 534.50,233.56 534.90,233.58 535.30,233.59 535.70,233.61 536.10,233.62 536.50,233.63 536.90,233.64 537.30,233.65 537.70,233.66 538.10,233.67 542.50,233.90" fill="none" stroke="#1a2cf0" stroke-width="0.7" stroke-linejoin="round" />
<polyline points="494.50,234.40 494.90,233.54 495.30,232.78 495.70,232.10 496.10,231.50 496.50,230.97 496.90,230.51 497.30,230.11 497.70,229.76 498.10,229.46 498.50,229.20 498.90,228.99 499.30,228.81 499.70,228.66 500.10,228.54 500.50,228.45 500.90,228.39 501.30,228.34 501.70,228.32 502.10,228.31 502.50,228.32 502.90,228.34 503.30,228.38 503.70,228.43 504.10,228.49 504.50,228.55 504.90,228.63 505.30,228.71 505.70,228.80 506.10,228.89 506.50,228.98 506.90,229.08 507.30,229.19 507.70,229.29 508.10,229.40 508.50,229.51 508.90,229.62 509.30,229.73 509.70,229.83 510.10,229.94 510.50,230.05 510.90,230.16 511.30,230.27 511.70,230.38 512.10,230.48 512.50,230.59 512.90,230.69 513.30,230.79 513.70,230.89 514.10,230.98 514.50,231.08 514.90,231.17 515.30,231.26 515.70,231.35 516.10,231.44 516.50,231.52 516.90,231.61 517.30,231.69 517.70,231.76 518.10,231.84 518.50,231.91 518.90,231.99 519.30,232.06 519.70,232.12 520.10,232.19 520.50,232.25 520.90,232.31 521.30,232.37 521.70,232.43 522.10,232.49 522.50,232.54 522.90,232.59 523.30,232.64 523.70,232.69 524.10,232.74 524.50,232.78 524.90,232.83 525.30,232.87 525.70,232.91 526.10,232.95 526.50,232.99 526.90,233.03 527.30,233.06 527.70,233.09 528.10,233.13 528.50,233.16 528.90,233.19 529.30,233.22 529.70,233.25 530.10,233.27 530.50,233.30 530.90,233.32 531.30,233.35 531.70,233.37 532.10,233.39 532.50,233.41 532.90,233.43 533.30,233.45 533.70,233.47 534.10,233.49 534.50,233.51 534.90,233.52 535.30,233.54 535.70,233.56 536.10,233.57 536.50,233.58 536.90,233.60 537.30,233.61 537.70,233.62 538.10,233.64 542.50,233.90" fill="none" stroke="#1a2cf0" stroke-width="0.7" stroke-linejoin="round" />
<polyline points="494.50,234.40 494.90,233.44 495.30,232.59 495.70,231.84 496.10,231.17 496.50,230.59 496.90,230.07 497.30,229.62 497.70,229.23 498.10,228.90 498.50,228.61 498.90,228.37 499.30,228.17 499.70,228.00 500.10,227.87 500.50,227.77 500.90,227.70 501.30,227.65 501.70,227.62 502.10,227.61 502.50,227.62 502.90,227.65 503.30,227.69 503.70,227.74 504.10,227.81 504.50,227.88 504.90,227.97 505.30,228.06 505.70,228.16 506.10,228.26 506.50,228.37 506.90,228.48 507.30,228.60 507.70,228.72 508.10,228.84 508.50,228.96 508.90,229.08 509.30,229.20 509.70,229.33 510.10,229.45 510.50,229.57 510.90,229.70 511.30,229.82 511.70,229.94 512.10,230.05 512.50,230.17 512.90,230.29 513.30,230.40 513.70,230.51 514.10,230.62 514.50,230.73 514.90,230.83 515.30,230.93 515.70,231.03 516.10,231.13 516.50,231.23 516.90,231.32 517.30,231.41 517.70,231.50 518.10,231.58 518.50,231.67 518.90,231.75 519.30,231.83 519.70,231.90 520.10,231.98 520.50,232.05 520.90,232.12 521.30,232.18 521.70,232.25 522.10,232.31 522.50,232.37 522.90,232.43 523.30,232.49 523.70,232.54 524.10,232.59 524.50,232.65 524.90,232.69 525.30,232.74 525.70,232.79 526.10,232.83 526.50,232.87 526.90,232.92 527.30,232.96 527.70,232.99 528.10,233.03 528.50,233.07 528.90,233.10 529.30,233.13 529.70,233.16 530.10,233.19 530.50,233.22 530.90,233.25 531.30,233.28 531.70,233.30 532.10,233.33 532.50,233.35 532.90,233.38 533.30,233.40 533.70,233.42 534.10,233.44 534.50,233.46 534.90,233.48 535.30,233.50 535.70,233.51 536.10,233.53 536.50,233.55 536.90,233.56 537.30,233.58 537.70,233.59 538.10,233.60 542.50,233.90" fill="none" stroke="#1a2cf0" stroke-width="0.7" stroke-linejoin="round" />
<polyline points="495.50,233.66 496.69,234.05 497.88,233.68 499.06,234.05 500.25,233.74 501.44,233.82 502.63,234.04 503.82,233.72 505.01,233.72 506.19,233.91 507.38,234.01 508.57,234.07 509.76,233.99 510.95,234.12 512.13,233.90 513.32,234.12 514.51,233.69 515.70,233.76 516.89,233.91 518.08,233.80 519.26,234.01 520.45,233.97 521.64,233.91 522.83,234.07 524.02,233.93 525.20,233.81 526.39,233.84 527.58,234.07 528.77,234.10 529.96,233.75 531.14,234.08 532.33,234.13 533.52,233.91 534.71,233.94 535.90,233.75 537.09,233.92 538.27,233.90 539.46,233.95 540.65,233.66 541.84,234.13 543.03,233.91 544.21,233.85 545.40,234.05 546.59,233.93 547.78,233.90 548.97,234.00 550.16,233.68 551.34,233.92 552.53,233.86 553.72,234.13 554.91,234.11 556.10,233.78 557.28,233.89 558.47,233.71 559.66,233.87 560.85,234.06 562.04,234.10 563.22,233.89 564.41,233.81 565.60,233.75 566.79,233.96 567.98,234.11 569.17,233.71 570.35,234.04 571.54,233.66 572.73,233.75 573.92,233.76 575.11,233.99 576.29,233.81 577.48,233.83 578.67,233.96 579.86,233.70 581.05,234.02 582.24,233.71 583.42,233.91 584.61,233.78 585.80,233.75" fill="none" stroke="#1a2cf0" stroke-width="2.6" stroke-linejoin="round" />
<line x1="479.90" y1="255.60" x2="494.40" y2="255.60" stroke="#222" stroke-width="0.75"/>
<line x1="479.90" y1="257.69" x2="494.40" y2="257.69" stroke="#222" stroke-width="0.75"/>
<line x1="479.90" y1="259.77" x2="494.40" y2="259.77" stroke="#222" stroke-width="0.75"/>
<line x1="479.90" y1="261.86" x2="494.40" y2="261.86" stroke="#222" stroke-width="0.75"/>
<line x1="479.90" y1="263.95" x2="494.40" y2="263.95" stroke="#222" stroke-width="0.75"/>
<line x1="479.90" y1="266.04" x2="494.40" y2="266.04" stroke="#222" stroke-width="0.75"/>
<line x1="479.90" y1="268.12" x2="494.40" y2="268.12" stroke="#222" stroke-width="0.75"/>
<line x1="479.90" y1="270.21" x2="494.40" y2="270.21" stroke="#222" stroke-width="0.75"/>
<line x1="479.90" y1="272.30" x2="494.40" y2="272.30" stroke="#222" stroke-width="0.75"/>
<line x1="494.40" y1="255.20" x2="494.40" y2="276.60" stroke="#222" stroke-width="1.0"/>
<line x1="494.40" y1="276.60" x2="585.90" y2="276.60" stroke="#333" stroke-width="1.7"/>
<text x="603.08" y="281.70" font-size="8.40" text-anchor="end" fill="#222" dominant-baseline="central" textLength="28.14" lengthAdjust="spacingAndGlyphs" id="e_100mv" >-100mV</text>
<line x1="503.30" y1="205.40" x2="499.60" y2="192.80" stroke="#111" stroke-width="0.8"/>
<polygon points="499.60,192.80 501.61,195.02 499.11,195.76" fill="#111"/>
<line x1="501.50" y1="255.00" x2="497.40" y2="242.80" stroke="#111" stroke-width="0.8"/>
<polygon points="497.40,242.80 499.50,244.94 497.02,245.78" fill="#111"/>
<text transform="translate(542.35,164.00) scale(1,1.18)" font-size="9.50" text-anchor="middle" fill="#222" dominant-baseline="central" textLength="14.41" lengthAdjust="spacingAndGlyphs" id="e_wt" >WT</text>
<text transform="translate(542.58,224.10) scale(1,1.18)" font-size="9.50" text-anchor="middle" fill="#222" dominant-baseline="central" textLength="49.38" lengthAdjust="spacingAndGlyphs" id="e_ko" ><tspan font-style="italic">Shank3</tspan> KO</text>
<text transform="translate(519.75,194.17) rotate(-90)" font-size="8.40" text-anchor="middle" fill="#222" dominant-baseline="central" textLength="23.96" lengthAdjust="spacingAndGlyphs" id="e_200pa">200pA</text>
<line x1="528.70" y1="187.20" x2="528.70" y2="193.80" stroke="#222" stroke-width="0.9"/>
<line x1="533.40" y1="196.40" x2="542.20" y2="196.40" stroke="#222" stroke-width="0.9"/>
<text x="526.93" y="202.45" font-size="8.40" text-anchor="start" fill="#222" dominant-baseline="central" textLength="20.27" lengthAdjust="spacingAndGlyphs" id="e_10ms1" >10ms</text>
<text transform="translate(519.78,258.18) rotate(-90)" font-size="8.40" text-anchor="middle" fill="#222" dominant-baseline="central" textLength="21.68" lengthAdjust="spacingAndGlyphs" id="e_20mv">20mV</text>
<line x1="528.20" y1="254.00" x2="528.20" y2="258.60" stroke="#222" stroke-width="0.9"/>
<line x1="531.20" y1="260.50" x2="539.90" y2="260.50" stroke="#222" stroke-width="0.9"/>
<text x="526.32" y="265.70" font-size="8.40" text-anchor="start" fill="#222" dominant-baseline="central" textLength="20.26" lengthAdjust="spacingAndGlyphs" id="e_10ms2" >10ms</text>
<line x1="626.70" y1="170.50" x2="626.70" y2="257.20" stroke="#333" stroke-width="1"/>
<line x1="623.40" y1="170.50" x2="626.70" y2="170.50" stroke="#333" stroke-width="1"/>
<text transform="translate(623.25,170.20) scale(1,1.17)" font-size="9.80" text-anchor="end" fill="#222" dominant-baseline="central" >0</text>
<line x1="623.40" y1="192.00" x2="626.70" y2="192.00" stroke="#333" stroke-width="1"/>
<text transform="translate(623.25,191.70) scale(1,1.17)" font-size="9.80" text-anchor="end" fill="#222" dominant-baseline="central" >-200</text>
<line x1="623.40" y1="213.60" x2="626.70" y2="213.60" stroke="#333" stroke-width="1"/>
<text transform="translate(623.25,213.30) scale(1,1.17)" font-size="9.80" text-anchor="end" fill="#222" dominant-baseline="central" >-400</text>
<line x1="623.40" y1="235.10" x2="626.70" y2="235.10" stroke="#333" stroke-width="1"/>
<text transform="translate(623.25,234.80) scale(1,1.17)" font-size="9.80" text-anchor="end" fill="#222" dominant-baseline="central" >-600</text>
<line x1="623.40" y1="256.90" x2="626.70" y2="256.90" stroke="#333" stroke-width="1"/>
<text transform="translate(623.25,256.60) scale(1,1.17)" font-size="9.80" text-anchor="end" fill="#222" dominant-baseline="central" >-800</text>
<rect x="634.60" y="170.50" width="14.10" height="70.30" fill="#e0e0e0" stroke="none" stroke-width="0" />
<rect x="657.25" y="170.50" width="13.00" height="27.35" fill="#fff" stroke="#6f80f2" stroke-width="1.3" />
<line x1="626.70" y1="170.50" x2="679.00" y2="170.50" stroke="#444" stroke-width="1.2"/>
<line x1="626.70" y1="257.20" x2="679.00" y2="257.20" stroke="#555" stroke-width="1.2"/>
<line x1="641.60" y1="257.20" x2="641.60" y2="261.20" stroke="#444" stroke-width="1"/>
<line x1="663.60" y1="257.20" x2="663.60" y2="261.20" stroke="#444" stroke-width="1"/>
<line x1="641.65" y1="235.80" x2="641.65" y2="245.70" stroke="#6a6a6a" stroke-width="1"/>
<line x1="638.65" y1="235.80" x2="644.65" y2="235.80" stroke="#6a6a6a" stroke-width="1"/>
<line x1="638.65" y1="245.70" x2="644.65" y2="245.70" stroke="#6a6a6a" stroke-width="1"/>
<line x1="663.75" y1="196.00" x2="663.75" y2="200.50" stroke="#2f3cf0" stroke-width="1"/>
<line x1="660.75" y1="196.00" x2="666.75" y2="196.00" stroke="#2f3cf0" stroke-width="1"/>
<line x1="660.75" y1="200.50" x2="666.75" y2="200.50" stroke="#2f3cf0" stroke-width="1"/>
<circle cx="641.60" cy="230.90" r="1.7" fill="#7a7a7a" stroke="none" stroke-width="0"/>
<circle cx="641.60" cy="235.80" r="1.7" fill="#7a7a7a" stroke="none" stroke-width="0"/>
<circle cx="641.60" cy="245.70" r="1.7" fill="#7a7a7a" stroke="none" stroke-width="0"/>
<circle cx="641.60" cy="251.10" r="1.7" fill="#7a7a7a" stroke="none" stroke-width="0"/>
<circle cx="661.50" cy="197.00" r="1.6" fill="#fff" stroke="#2f3cf0" stroke-width="0.9"/>
<circle cx="665.50" cy="197.50" r="1.6" fill="#fff" stroke="#2f3cf0" stroke-width="0.9"/>
<circle cx="663.50" cy="200.00" r="1.6" fill="#fff" stroke="#2f3cf0" stroke-width="0.9"/>
<line x1="642.60" y1="163.30" x2="662.90" y2="163.30" stroke="#444" stroke-width="1.5"/>
<text x="652.75" y="158.70" font-size="11.50" text-anchor="middle" fill="#111" dominant-baseline="central" font-weight="bold" >**</text>
<text transform="translate(597.85,215.80) rotate(-90)" font-size="9.50" text-anchor="middle" fill="#222" dominant-baseline="central" textLength="94.46" lengthAdjust="spacingAndGlyphs" id="eb_ylab">Current at -60mV (pA)</text>
<text transform="translate(644.35,268.70) rotate(-30)" font-size="10.60" text-anchor="end" fill="#222" dominant-baseline="alphabetic" id="eb_wt">WT</text>
<text transform="translate(670.60,269.20) rotate(-30)" font-size="9.65" text-anchor="end" fill="#222" dominant-baseline="alphabetic" id="eb_ko"><tspan font-style="italic">Shank3</tspan> KO</text>
<line x1="430.60" y1="314.10" x2="430.60" y2="417.10" stroke="#333" stroke-width="1"/>
<line x1="426.10" y1="319.30" x2="430.60" y2="319.30" stroke="#333" stroke-width="1"/>
<text transform="translate(424.45,319.00) scale(1,1.17)" font-size="9.80" text-anchor="end" fill="#222" dominant-baseline="central" >100</text>
<line x1="426.10" y1="343.80" x2="430.60" y2="343.80" stroke="#333" stroke-width="1"/>
<text transform="translate(424.45,343.50) scale(1,1.17)" font-size="9.80" text-anchor="end" fill="#222" dominant-baseline="central" >75</text>
<line x1="426.10" y1="368.40" x2="430.60" y2="368.40" stroke="#333" stroke-width="1"/>
<text transform="translate(424.45,368.10) scale(1,1.17)" font-size="9.80" text-anchor="end" fill="#222" dominant-baseline="central" >50</text>
<line x1="426.10" y1="393.00" x2="430.60" y2="393.00" stroke="#333" stroke-width="1"/>
<text transform="translate(424.45,392.70) scale(1,1.17)" font-size="9.80" text-anchor="end" fill="#222" dominant-baseline="central" >25</text>
<line x1="426.10" y1="417.10" x2="430.60" y2="417.10" stroke="#333" stroke-width="1"/>
<text transform="translate(424.45,416.80) scale(1,1.17)" font-size="9.80" text-anchor="end" fill="#222" dominant-baseline="central" >0</text>
<rect x="442.40" y="334.60" width="21.30" height="82.50" fill="#aeaed8" stroke="none" stroke-width="0" />
<line x1="426.00" y1="417.10" x2="476.00" y2="417.10" stroke="#555" stroke-width="1.3"/>
<line x1="453.00" y1="417.10" x2="453.00" y2="422.00" stroke="#555" stroke-width="1"/>
<line x1="453.00" y1="329.30" x2="453.00" y2="334.60" stroke="#7a7ac8" stroke-width="1"/>
<line x1="449.00" y1="329.30" x2="457.00" y2="329.30" stroke="#7a7ac8" stroke-width="1"/>
<line x1="449.00" y1="334.60" x2="457.00" y2="334.60" stroke="#7a7ac8" stroke-width="1"/>
<circle cx="450.50" cy="319.70" r="1.5" fill="none" stroke="#7a7ac8" stroke-width="0.8"/>
<circle cx="455.30" cy="319.70" r="1.5" fill="none" stroke="#7a7ac8" stroke-width="0.8"/>
<circle cx="450.50" cy="339.10" r="1.5" fill="none" stroke="#7a7ac8" stroke-width="0.8"/>
<circle cx="455.30" cy="339.10" r="1.5" fill="none" stroke="#7a7ac8" stroke-width="0.8"/>
<circle cx="450.50" cy="344.20" r="1.5" fill="none" stroke="#7a7ac8" stroke-width="0.8"/>
<circle cx="455.30" cy="344.20" r="1.5" fill="none" stroke="#7a7ac8" stroke-width="0.8"/>
<text transform="translate(400.87,372.07) rotate(-90)" font-size="9.50" text-anchor="middle" fill="#222" dominant-baseline="central" textLength="69.07" lengthAdjust="spacingAndGlyphs" id="f_bar_ylab"><tspan font-style="italic">Kcnh7</tspan><tspan font-size="6" dy="-3">+</tspan><tspan dy="3">/</tspan><tspan font-style="italic">Sst</tspan><tspan font-size="6" dy="-3">+</tspan><tspan dy="3"> (%)</tspan></text>
<line x1="523.70" y1="319.40" x2="523.70" y2="417.40" stroke="#333" stroke-width="1"/>
<line x1="519.00" y1="319.40" x2="523.70" y2="319.40" stroke="#333" stroke-width="1"/>
<text transform="translate(518.25,319.10) scale(1,1.17)" font-size="9.80" text-anchor="end" fill="#222" dominant-baseline="central" >1.2</text>
<line x1="519.00" y1="335.80" x2="523.70" y2="335.80" stroke="#333" stroke-width="1"/>
<text transform="translate(518.25,335.50) scale(1,1.17)" font-size="9.80" text-anchor="end" fill="#222" dominant-baseline="central" >1.1</text>
<line x1="519.00" y1="352.10" x2="523.70" y2="352.10" stroke="#333" stroke-width="1"/>
<text transform="translate(518.25,351.80) scale(1,1.17)" font-size="9.80" text-anchor="end" fill="#222" dominant-baseline="central" >1.0</text>
<line x1="519.00" y1="368.50" x2="523.70" y2="368.50" stroke="#333" stroke-width="1"/>
<text transform="translate(518.25,368.20) scale(1,1.17)" font-size="9.80" text-anchor="end" fill="#222" dominant-baseline="central" >0.9</text>
<line x1="519.00" y1="384.80" x2="523.70" y2="384.80" stroke="#333" stroke-width="1"/>
<text transform="translate(518.25,384.50) scale(1,1.17)" font-size="9.80" text-anchor="end" fill="#222" dominant-baseline="central" >0.8</text>
<line x1="519.00" y1="401.10" x2="523.70" y2="401.10" stroke="#333" stroke-width="1"/>
<text transform="translate(518.25,400.80) scale(1,1.17)" font-size="9.80" text-anchor="end" fill="#222" dominant-baseline="central" >0.7</text>
<line x1="519.00" y1="417.40" x2="523.70" y2="417.40" stroke="#333" stroke-width="1"/>
<text transform="translate(518.25,417.10) scale(1,1.17)" font-size="9.80" text-anchor="end" fill="#222" dominant-baseline="central" >0.6</text>
<rect x="532.10" y="352.50" width="16.30" height="64.90" fill="#e0e0e0" stroke="none" stroke-width="0" />
<rect x="558.15" y="371.65" width="15.30" height="45.75" fill="#fff" stroke="#6f80f2" stroke-width="1.3" />
<line x1="523.70" y1="417.40" x2="583.00" y2="417.40" stroke="#444" stroke-width="1.2"/>
<line x1="540.30" y1="417.40" x2="540.30" y2="421.40" stroke="#444" stroke-width="1"/>
<line x1="565.30" y1="417.40" x2="565.30" y2="421.40" stroke="#444" stroke-width="1"/>
<line x1="540.50" y1="347.50" x2="540.50" y2="359.00" stroke="#6a6a6a" stroke-width="1"/>
<line x1="537.00" y1="347.50" x2="544.00" y2="347.50" stroke="#6a6a6a" stroke-width="1"/>
<line x1="537.00" y1="359.00" x2="544.00" y2="359.00" stroke="#6a6a6a" stroke-width="1"/>
<line x1="565.70" y1="364.50" x2="565.70" y2="377.50" stroke="#2f3cf0" stroke-width="1"/>
<line x1="562.20" y1="364.50" x2="569.20" y2="364.50" stroke="#2f3cf0" stroke-width="1"/>
<line x1="562.20" y1="377.50" x2="569.20" y2="377.50" stroke="#2f3cf0" stroke-width="1"/>
<circle cx="540.50" cy="331.00" r="1.8" fill="#7a7a7a" stroke="none" stroke-width="0"/>
<circle cx="538.00" cy="335.00" r="1.8" fill="#7a7a7a" stroke="none" stroke-width="0"/>
<circle cx="543.00" cy="334.00" r="1.8" fill="#7a7a7a" stroke="none" stroke-width="0"/>
<circle cx="536.00" cy="342.50" r="1.8" fill="#7a7a7a" stroke="none" stroke-width="0"/>
<circle cx="540.50" cy="341.50" r="1.8" fill="#7a7a7a" stroke="none" stroke-width="0"/>
<circle cx="544.80" cy="343.50" r="1.8" fill="#7a7a7a" stroke="none" stroke-width="0"/>
<circle cx="540.50" cy="347.50" r="1.8" fill="#7a7a7a" stroke="none" stroke-width="0"/>
<circle cx="536.50" cy="356.20" r="1.8" fill="#7a7a7a" stroke="none" stroke-width="0"/>
<circle cx="540.50" cy="356.50" r="1.8" fill="#7a7a7a" stroke="none" stroke-width="0"/>
<circle cx="536.00" cy="371.00" r="1.8" fill="#7a7a7a" stroke="none" stroke-width="0"/>
<circle cx="540.50" cy="371.00" r="1.8" fill="#7a7a7a" stroke="none" stroke-width="0"/>
<circle cx="545.00" cy="371.00" r="1.8" fill="#7a7a7a" stroke="none" stroke-width="0"/>
<rect x="564.65" y="342.15" width="2.7" height="2.7" fill="#fff" stroke="#2f3cf0" stroke-width="1.0"/>
<rect x="567.65" y="341.65" width="2.7" height="2.7" fill="#fff" stroke="#2f3cf0" stroke-width="1.0"/>
<rect x="570.65" y="338.15" width="2.7" height="2.7" fill="#fff" stroke="#2f3cf0" stroke-width="1.0"/>
<rect x="562.15" y="364.15" width="2.7" height="2.7" fill="#fff" stroke="#2f3cf0" stroke-width="1.0"/>
<rect x="564.65" y="366.15" width="2.7" height="2.7" fill="#fff" stroke="#2f3cf0" stroke-width="1.0"/>
<rect x="567.65" y="366.65" width="2.7" height="2.7" fill="#fff" stroke="#2f3cf0" stroke-width="1.0"/>
<rect x="561.15" y="374.15" width="2.7" height="2.7" fill="#fff" stroke="#2f3cf0" stroke-width="1.0"/>
<rect x="564.65" y="374.15" width="2.7" height="2.7" fill="#fff" stroke="#2f3cf0" stroke-width="1.0"/>
<rect x="568.65" y="374.15" width="2.7" height="2.7" fill="#fff" stroke="#2f3cf0" stroke-width="1.0"/>
<rect x="561.15" y="383.65" width="2.7" height="2.7" fill="#fff" stroke="#2f3cf0" stroke-width="1.0"/>
<rect x="564.65" y="383.65" width="2.7" height="2.7" fill="#fff" stroke="#2f3cf0" stroke-width="1.0"/>
<rect x="568.65" y="383.65" width="2.7" height="2.7" fill="#fff" stroke="#2f3cf0" stroke-width="1.0"/>
<rect x="564.35" y="398.15" width="2.7" height="2.7" fill="#fff" stroke="#2f3cf0" stroke-width="1.0"/>
<line x1="539.10" y1="324.40" x2="568.60" y2="324.40" stroke="#333" stroke-width="1.4"/>
<text x="554.60" y="319.10" font-size="11.50" text-anchor="middle" fill="#111" dominant-baseline="central" font-weight="bold" >*</text>
<text transform="translate(485.90,371.88) rotate(-90)" font-size="9.80" text-anchor="middle" fill="#222" dominant-baseline="central" textLength="86.98" lengthAdjust="spacingAndGlyphs" id="g1_ylab1">Normalized intensity</text>
<text transform="translate(498.65,370.63) rotate(-90)" font-size="9.80" text-anchor="middle" fill="#222" dominant-baseline="central" textLength="70.52" lengthAdjust="spacingAndGlyphs" id="g1_ylab2">of <tspan font-style="italic">Kcnh7</tspan> mRNA</text>
<text transform="translate(542.93,428.02) rotate(-30)" font-size="10.46" text-anchor="end" fill="#222" dominant-baseline="alphabetic" id="g1_wt">WT</text>
<text transform="translate(572.55,427.65) rotate(-30)" font-size="9.77" text-anchor="end" fill="#222" dominant-baseline="alphabetic" id="g1_ko"><tspan font-style="italic">Shank3</tspan> KO</text>
<line x1="630.70" y1="321.90" x2="630.70" y2="414.70" stroke="#333" stroke-width="1"/>
<line x1="627.40" y1="321.90" x2="630.70" y2="321.90" stroke="#333" stroke-width="1"/>
<text transform="translate(626.55,321.60) scale(1,1.17)" font-size="9.80" text-anchor="end" fill="#222" dominant-baseline="central" >2.5</text>
<line x1="627.40" y1="340.40" x2="630.70" y2="340.40" stroke="#333" stroke-width="1"/>
<text transform="translate(626.55,340.10) scale(1,1.17)" font-size="9.80" text-anchor="end" fill="#222" dominant-baseline="central" >2.0</text>
<line x1="627.40" y1="358.90" x2="630.70" y2="358.90" stroke="#333" stroke-width="1"/>
<text transform="translate(626.55,358.60) scale(1,1.17)" font-size="9.80" text-anchor="end" fill="#222" dominant-baseline="central" >1.5</text>
<line x1="627.40" y1="377.40" x2="630.70" y2="377.40" stroke="#333" stroke-width="1"/>
<text transform="translate(626.55,377.10) scale(1,1.17)" font-size="9.80" text-anchor="end" fill="#222" dominant-baseline="central" >1.0</text>
<line x1="627.40" y1="395.90" x2="630.70" y2="395.90" stroke="#333" stroke-width="1"/>
<text transform="translate(626.55,395.60) scale(1,1.17)" font-size="9.80" text-anchor="end" fill="#222" dominant-baseline="central" >0.5</text>
<line x1="627.40" y1="414.70" x2="630.70" y2="414.70" stroke="#333" stroke-width="1"/>
<text transform="translate(626.55,414.40) scale(1,1.17)" font-size="9.80" text-anchor="end" fill="#222" dominant-baseline="central" >0.0</text>
<rect x="638.60" y="378.40" width="15.30" height="36.30" fill="#e0e0e0" stroke="none" stroke-width="0" />
<rect x="662.45" y="398.05" width="13.50" height="16.65" fill="#fff" stroke="#6f80f2" stroke-width="1.3" />
<line x1="630.70" y1="414.70" x2="685.00" y2="414.70" stroke="#444" stroke-width="1.2"/>
<line x1="645.90" y1="414.70" x2="645.90" y2="418.70" stroke="#444" stroke-width="1"/>
<line x1="669.20" y1="414.70" x2="669.20" y2="418.70" stroke="#444" stroke-width="1"/>
<line x1="646.30" y1="370.50" x2="646.30" y2="385.00" stroke="#6a6a6a" stroke-width="1"/>
<line x1="642.80" y1="370.50" x2="649.80" y2="370.50" stroke="#6a6a6a" stroke-width="1"/>
<line x1="642.80" y1="385.00" x2="649.80" y2="385.00" stroke="#6a6a6a" stroke-width="1"/>
<line x1="669.20" y1="390.00" x2="669.20" y2="400.50" stroke="#2f3cf0" stroke-width="1"/>
<line x1="665.70" y1="390.00" x2="672.70" y2="390.00" stroke="#2f3cf0" stroke-width="1"/>
<line x1="665.70" y1="400.50" x2="672.70" y2="400.50" stroke="#2f3cf0" stroke-width="1"/>
<circle cx="646.30" cy="337.50" r="1.8" fill="#7a7a7a" stroke="none" stroke-width="0"/>
<circle cx="643.50" cy="358.50" r="1.8" fill="#7a7a7a" stroke="none" stroke-width="0"/>
<circle cx="648.50" cy="358.50" r="1.8" fill="#7a7a7a" stroke="none" stroke-width="0"/>
<circle cx="646.30" cy="370.50" r="1.8" fill="#7a7a7a" stroke="none" stroke-width="0"/>
<circle cx="640.50" cy="382.00" r="1.8" fill="#7a7a7a" stroke="none" stroke-width="0"/>
<circle cx="643.50" cy="382.00" r="1.8" fill="#7a7a7a" stroke="none" stroke-width="0"/>
<circle cx="646.30" cy="382.00" r="1.8" fill="#7a7a7a" stroke="none" stroke-width="0"/>
<circle cx="649.00" cy="382.00" r="1.8" fill="#7a7a7a" stroke="none" stroke-width="0"/>
<circle cx="652.00" cy="382.00" r="1.8" fill="#7a7a7a" stroke="none" stroke-width="0"/>
<circle cx="646.30" cy="392.50" r="1.8" fill="#7a7a7a" stroke="none" stroke-width="0"/>
<circle cx="643.00" cy="404.00" r="1.8" fill="#7a7a7a" stroke="none" stroke-width="0"/>
<circle cx="649.00" cy="404.00" r="1.8" fill="#7a7a7a" stroke="none" stroke-width="0"/>
<rect x="667.85" y="369.15" width="2.7" height="2.7" fill="#fff" stroke="#2f3cf0" stroke-width="1.0"/>
<rect x="665.45" y="379.65" width="2.7" height="2.7" fill="#fff" stroke="#2f3cf0" stroke-width="1.0"/>
<rect x="670.15" y="379.65" width="2.7" height="2.7" fill="#fff" stroke="#2f3cf0" stroke-width="1.0"/>
<rect x="662.65" y="390.65" width="2.7" height="2.7" fill="#fff" stroke="#2f3cf0" stroke-width="1.0"/>
<rect x="665.95" y="390.65" width="2.7" height="2.7" fill="#fff" stroke="#2f3cf0" stroke-width="1.0"/>
<rect x="669.35" y="390.65" width="2.7" height="2.7" fill="#fff" stroke="#2f3cf0" stroke-width="1.0"/>
<rect x="672.15" y="390.65" width="2.7" height="2.7" fill="#fff" stroke="#2f3cf0" stroke-width="1.0"/>
<rect x="662.65" y="400.65" width="2.7" height="2.7" fill="#fff" stroke="#2f3cf0" stroke-width="1.0"/>
<rect x="665.95" y="400.65" width="2.7" height="2.7" fill="#fff" stroke="#2f3cf0" stroke-width="1.0"/>
<rect x="669.35" y="400.65" width="2.7" height="2.7" fill="#fff" stroke="#2f3cf0" stroke-width="1.0"/>
<rect x="672.15" y="400.65" width="2.7" height="2.7" fill="#fff" stroke="#2f3cf0" stroke-width="1.0"/>
<rect x="662.65" y="412.65" width="2.7" height="2.7" fill="#fff" stroke="#2f3cf0" stroke-width="1.0"/>
<rect x="665.95" y="412.65" width="2.7" height="2.7" fill="#fff" stroke="#2f3cf0" stroke-width="1.0"/>
<rect x="669.35" y="412.65" width="2.7" height="2.7" fill="#fff" stroke="#2f3cf0" stroke-width="1.0"/>
<rect x="672.15" y="412.65" width="2.7" height="2.7" fill="#fff" stroke="#2f3cf0" stroke-width="1.0"/>
<line x1="646.00" y1="324.40" x2="669.00" y2="324.40" stroke="#333" stroke-width="1.5"/>
<text x="657.50" y="318.70" font-size="11.50" text-anchor="middle" fill="#111" dominant-baseline="central" font-weight="bold" >*</text>
<text transform="translate(594.90,366.87) rotate(-90)" font-size="9.80" text-anchor="middle" fill="#222" dominant-baseline="central" textLength="91.63" lengthAdjust="spacingAndGlyphs" id="g2_ylab1">Normalized number of</text>
<text transform="translate(604.85,368.05) rotate(-90)" font-size="9.80" text-anchor="middle" fill="#222" dominant-baseline="central" textLength="60.92" lengthAdjust="spacingAndGlyphs" id="g2_ylab2"><tspan font-style="italic">Kcnh7</tspan><tspan font-size="6" dy="-3">+</tspan><tspan dy="3"> puncta</tspan></text>
<text transform="translate(648.27,425.95) rotate(-30)" font-size="10.42" text-anchor="end" fill="#222" dominant-baseline="alphabetic" id="g2_wt">WT</text>
<text transform="translate(673.83,428.20) rotate(-30)" font-size="9.60" text-anchor="end" fill="#222" dominant-baseline="alphabetic" id="g2_ko"><tspan font-style="italic">Shank3</tspan> KO</text>
<text transform="translate(73.67,457.75) scale(1,1.18)" font-size="9.50" text-anchor="middle" fill="#222" dominant-baseline="central" textLength="15.21" lengthAdjust="spacingAndGlyphs" id="h_wt" >WT</text>
<text transform="translate(77.10,529.50) scale(1,1.18)" font-size="9.50" text-anchor="middle" fill="#222" dominant-baseline="central" textLength="50.16" lengthAdjust="spacingAndGlyphs" id="h_ko" ><tspan font-style="italic">Shank3</tspan> KO</text>
<polyline points="41.90,510.70 44.00,510.70 46.00,502.70 47.50,499.70 48.30,498.84 48.90,463.30 49.30,500.84 52.70,498.48 53.30,464.20 53.70,500.48 57.80,498.06 58.40,464.20 58.80,500.06 65.00,497.47 65.60,464.20 66.00,499.47 71.10,496.97 71.70,464.20 72.10,498.97 81.10,496.15 81.70,464.20 82.10,498.15 94.80,495.03 95.40,464.20 95.80,497.03 95.30,494.50 95.80,495.50 96.41,498.31 97.03,500.60 97.64,502.47 98.25,503.99 98.87,505.23 99.48,506.24 100.09,507.07 100.71,507.74 101.32,508.29 101.93,508.73 102.55,509.10 103.16,509.39 103.77,509.63 104.39,509.83 105.00,509.99" fill="none" stroke="#7c7c7c" stroke-width="0.75" stroke-linejoin="round" />
<polyline points="33.70,521.50 45.70,521.50 45.70,515.10 95.80,515.10 95.80,521.50 109.60,521.50" fill="none" stroke="#444" stroke-width="0.9" stroke-linejoin="round" />
<text x="40.65" y="510.07" font-size="7.60" text-anchor="end" fill="#222" dominant-baseline="central" textLength="24.05" lengthAdjust="spacingAndGlyphs" id="h_wt_mv" >-58 mV</text>
<text x="98.67" y="513.50" font-size="7.60" text-anchor="start" fill="#222" dominant-baseline="central" textLength="24.87" lengthAdjust="spacingAndGlyphs" id="h_wt_pa" >200 pA</text>
<line x1="109.00" y1="478.50" x2="109.00" y2="488.00" stroke="#333" stroke-width="0.9"/>
<line x1="112.50" y1="489.80" x2="134.30" y2="489.80" stroke="#333" stroke-width="0.9"/>
<text x="113.15" y="483.97" font-size="8.00" text-anchor="start" fill="#222" dominant-baseline="central" textLength="23.66" lengthAdjust="spacingAndGlyphs" id="h_20mv" >20 mV</text>
<text x="109.20" y="496.07" font-size="8.00" text-anchor="start" fill="#222" dominant-baseline="central" textLength="26.27" lengthAdjust="spacingAndGlyphs" id="h_100ms" >100 ms</text>
<polyline points="42.30,582.20 45.50,582.20 46.80,578.00 47.60,570.00 47.70,567.60 48.00,535.20 48.45,570.20 49.60,569.00 51.20,567.60 51.50,538.00 51.95,570.20 53.10,569.00 54.70,567.60 55.00,538.00 55.45,570.20 56.60,569.00 58.20,567.60 58.50,538.00 58.95,570.20 60.10,569.00 61.70,567.60 62.00,538.00 62.45,570.20 63.60,569.00 65.20,567.60 65.50,538.00 65.95,570.20 67.10,569.00 68.70,567.60 69.00,538.00 69.45,570.20 70.60,569.00 72.20,567.60 72.50,538.00 72.95,570.20 74.10,569.00 75.70,567.60 76.00,538.00 76.45,570.20 77.60,569.00 79.20,567.60 79.50,538.00 79.95,570.20 81.10,569.00 82.70,567.60 83.00,538.00 83.45,570.20 84.60,569.00 86.20,567.60 86.50,538.00 86.95,570.20 88.10,569.00 89.70,567.60 90.00,538.00 90.45,570.20 91.60,569.00 93.20,567.60 93.50,538.00 93.95,570.20 95.10,569.00 94.40,567.40 95.16,570.71 95.92,573.28 96.68,575.28 97.44,576.83 98.20,578.03 98.96,578.96 99.72,579.69 100.48,580.25 101.24,580.69 102.00,581.02 102.76,581.29 103.52,581.49 104.28,581.65 105.04,581.77 105.80,581.87" fill="none" stroke="#4f5cf2" stroke-width="0.75" stroke-linejoin="round" />
<polyline points="42.60,593.10 46.40,593.10 46.40,586.80 96.30,586.80 96.30,593.10 105.80,593.10" fill="none" stroke="#444" stroke-width="0.9" stroke-linejoin="round" />
<text x="40.65" y="582.03" font-size="7.60" text-anchor="end" fill="#222" dominant-baseline="central" textLength="24.05" lengthAdjust="spacingAndGlyphs" id="h_ko_mv" >-60 mV</text>
<text x="98.93" y="586.00" font-size="7.60" text-anchor="start" fill="#222" dominant-baseline="central" textLength="25.39" lengthAdjust="spacingAndGlyphs" id="h_ko_pa" >200 pA</text>
<text transform="translate(9.95,530.45) rotate(-90)" font-size="9.80" text-anchor="middle" fill="#222" dominant-baseline="central" textLength="56.18" lengthAdjust="spacingAndGlyphs" id="h_side">SST-Cre::Ai9</text>
<line x1="183.70" y1="473.40" x2="183.70" y2="590.20" stroke="#555" stroke-width="1"/>
<line x1="179.20" y1="473.40" x2="183.70" y2="473.40" stroke="#555" stroke-width="1"/>
<text transform="translate(178.35,473.10) scale(1,1.17)" font-size="9.80" text-anchor="end" fill="#222" dominant-baseline="central" >250</text>
<line x1="179.20" y1="492.90" x2="183.70" y2="492.90" stroke="#555" stroke-width="1"/>
<text transform="translate(178.35,492.60) scale(1,1.17)" font-size="9.80" text-anchor="end" fill="#222" dominant-baseline="central" >200</text>
<line x1="179.20" y1="512.40" x2="183.70" y2="512.40" stroke="#555" stroke-width="1"/>
<text transform="translate(178.35,512.10) scale(1,1.17)" font-size="9.80" text-anchor="end" fill="#222" dominant-baseline="central" >150</text>
<line x1="179.20" y1="531.90" x2="183.70" y2="531.90" stroke="#555" stroke-width="1"/>
<text transform="translate(178.35,531.60) scale(1,1.17)" font-size="9.80" text-anchor="end" fill="#222" dominant-baseline="central" >100</text>
<line x1="179.20" y1="551.40" x2="183.70" y2="551.40" stroke="#555" stroke-width="1"/>
<text transform="translate(178.35,551.10) scale(1,1.17)" font-size="9.80" text-anchor="end" fill="#222" dominant-baseline="central" >50</text>
<line x1="179.20" y1="570.90" x2="183.70" y2="570.90" stroke="#555" stroke-width="1"/>
<text transform="translate(178.35,570.60) scale(1,1.17)" font-size="9.80" text-anchor="end" fill="#222" dominant-baseline="central" >0</text>
<line x1="179.20" y1="590.20" x2="183.70" y2="590.20" stroke="#555" stroke-width="1"/>
<text transform="translate(178.35,589.90) scale(1,1.17)" font-size="9.80" text-anchor="end" fill="#222" dominant-baseline="central" >-50</text>
<line x1="183.70" y1="570.90" x2="342.60" y2="570.90" stroke="#555" stroke-width="1"/>
<line x1="223.30" y1="570.90" x2="223.30" y2="574.90" stroke="#555" stroke-width="1"/>
<text transform="translate(223.10,582.20) scale(1,1.17)" font-size="9.80" text-anchor="middle" fill="#222" dominant-baseline="central" >100</text>
<line x1="262.90" y1="570.90" x2="262.90" y2="574.90" stroke="#555" stroke-width="1"/>
<text transform="translate(262.60,582.20) scale(1,1.17)" font-size="9.80" text-anchor="middle" fill="#222" dominant-baseline="central" >200</text>
<line x1="302.50" y1="570.90" x2="302.50" y2="574.90" stroke="#555" stroke-width="1"/>
<text transform="translate(301.90,582.20) scale(1,1.17)" font-size="9.80" text-anchor="middle" fill="#222" dominant-baseline="central" >300</text>
<line x1="342.10" y1="570.90" x2="342.10" y2="574.90" stroke="#555" stroke-width="1"/>
<text transform="translate(341.00,582.20) scale(1,1.17)" font-size="9.80" text-anchor="middle" fill="#222" dominant-baseline="central" >400</text>
<line x1="199.54" y1="569.73" x2="199.54" y2="570.51" stroke="#8a8a8a" stroke-width="0.9"/>
<line x1="197.34" y1="569.73" x2="201.74" y2="569.73" stroke="#8a8a8a" stroke-width="0.9"/>
<line x1="197.34" y1="570.51" x2="201.74" y2="570.51" stroke="#8a8a8a" stroke-width="0.9"/>
<line x1="207.46" y1="568.17" x2="207.46" y2="569.73" stroke="#8a8a8a" stroke-width="0.9"/>
<line x1="205.26" y1="568.17" x2="209.66" y2="568.17" stroke="#8a8a8a" stroke-width="0.9"/>
<line x1="205.26" y1="569.73" x2="209.66" y2="569.73" stroke="#8a8a8a" stroke-width="0.9"/>
<line x1="215.38" y1="566.22" x2="215.38" y2="567.78" stroke="#8a8a8a" stroke-width="0.9"/>
<line x1="213.18" y1="566.22" x2="217.58" y2="566.22" stroke="#8a8a8a" stroke-width="0.9"/>
<line x1="213.18" y1="567.78" x2="217.58" y2="567.78" stroke="#8a8a8a" stroke-width="0.9"/>
<line x1="223.30" y1="558.03" x2="223.30" y2="561.93" stroke="#8a8a8a" stroke-width="0.9"/>
<line x1="221.10" y1="558.03" x2="225.50" y2="558.03" stroke="#8a8a8a" stroke-width="0.9"/>
<line x1="221.10" y1="561.93" x2="225.50" y2="561.93" stroke="#8a8a8a" stroke-width="0.9"/>
<line x1="231.22" y1="555.69" x2="231.22" y2="558.81" stroke="#8a8a8a" stroke-width="0.9"/>
<line x1="229.02" y1="555.69" x2="233.42" y2="555.69" stroke="#8a8a8a" stroke-width="0.9"/>
<line x1="229.02" y1="558.81" x2="233.42" y2="558.81" stroke="#8a8a8a" stroke-width="0.9"/>
<line x1="239.14" y1="553.74" x2="239.14" y2="556.86" stroke="#8a8a8a" stroke-width="0.9"/>
<line x1="236.94" y1="553.74" x2="241.34" y2="553.74" stroke="#8a8a8a" stroke-width="0.9"/>
<line x1="236.94" y1="556.86" x2="241.34" y2="556.86" stroke="#8a8a8a" stroke-width="0.9"/>
<line x1="247.06" y1="551.79" x2="247.06" y2="554.91" stroke="#8a8a8a" stroke-width="0.9"/>
<line x1="244.86" y1="551.79" x2="249.26" y2="551.79" stroke="#8a8a8a" stroke-width="0.9"/>
<line x1="244.86" y1="554.91" x2="249.26" y2="554.91" stroke="#8a8a8a" stroke-width="0.9"/>
<line x1="254.98" y1="549.84" x2="254.98" y2="552.96" stroke="#8a8a8a" stroke-width="0.9"/>
<line x1="252.78" y1="549.84" x2="257.18" y2="549.84" stroke="#8a8a8a" stroke-width="0.9"/>
<line x1="252.78" y1="552.96" x2="257.18" y2="552.96" stroke="#8a8a8a" stroke-width="0.9"/>
<line x1="262.90" y1="547.89" x2="262.90" y2="551.01" stroke="#8a8a8a" stroke-width="0.9"/>
<line x1="260.70" y1="547.89" x2="265.10" y2="547.89" stroke="#8a8a8a" stroke-width="0.9"/>
<line x1="260.70" y1="551.01" x2="265.10" y2="551.01" stroke="#8a8a8a" stroke-width="0.9"/>
<line x1="270.82" y1="546.33" x2="270.82" y2="549.45" stroke="#8a8a8a" stroke-width="0.9"/>
<line x1="268.62" y1="546.33" x2="273.02" y2="546.33" stroke="#8a8a8a" stroke-width="0.9"/>
<line x1="268.62" y1="549.45" x2="273.02" y2="549.45" stroke="#8a8a8a" stroke-width="0.9"/>
<line x1="278.74" y1="543.60" x2="278.74" y2="547.50" stroke="#8a8a8a" stroke-width="0.9"/>
<line x1="276.54" y1="543.60" x2="280.94" y2="543.60" stroke="#8a8a8a" stroke-width="0.9"/>
<line x1="276.54" y1="547.50" x2="280.94" y2="547.50" stroke="#8a8a8a" stroke-width="0.9"/>
<line x1="286.66" y1="541.65" x2="286.66" y2="546.33" stroke="#8a8a8a" stroke-width="0.9"/>
<line x1="284.46" y1="541.65" x2="288.86" y2="541.65" stroke="#8a8a8a" stroke-width="0.9"/>
<line x1="284.46" y1="546.33" x2="288.86" y2="546.33" stroke="#8a8a8a" stroke-width="0.9"/>
<line x1="294.58" y1="539.31" x2="294.58" y2="543.99" stroke="#8a8a8a" stroke-width="0.9"/>
<line x1="292.38" y1="539.31" x2="296.78" y2="539.31" stroke="#8a8a8a" stroke-width="0.9"/>
<line x1="292.38" y1="543.99" x2="296.78" y2="543.99" stroke="#8a8a8a" stroke-width="0.9"/>
<line x1="302.50" y1="538.14" x2="302.50" y2="542.82" stroke="#8a8a8a" stroke-width="0.9"/>
<line x1="300.30" y1="538.14" x2="304.70" y2="538.14" stroke="#8a8a8a" stroke-width="0.9"/>
<line x1="300.30" y1="542.82" x2="304.70" y2="542.82" stroke="#8a8a8a" stroke-width="0.9"/>
<line x1="310.42" y1="534.24" x2="310.42" y2="539.70" stroke="#8a8a8a" stroke-width="0.9"/>
<line x1="308.22" y1="534.24" x2="312.62" y2="534.24" stroke="#8a8a8a" stroke-width="0.9"/>
<line x1="308.22" y1="539.70" x2="312.62" y2="539.70" stroke="#8a8a8a" stroke-width="0.9"/>
<line x1="318.34" y1="534.24" x2="318.34" y2="539.70" stroke="#8a8a8a" stroke-width="0.9"/>
<line x1="316.14" y1="534.24" x2="320.54" y2="534.24" stroke="#8a8a8a" stroke-width="0.9"/>
<line x1="316.14" y1="539.70" x2="320.54" y2="539.70" stroke="#8a8a8a" stroke-width="0.9"/>
<line x1="326.26" y1="533.85" x2="326.26" y2="539.31" stroke="#8a8a8a" stroke-width="0.9"/>
<line x1="324.06" y1="533.85" x2="328.46" y2="533.85" stroke="#8a8a8a" stroke-width="0.9"/>
<line x1="324.06" y1="539.31" x2="328.46" y2="539.31" stroke="#8a8a8a" stroke-width="0.9"/>
<line x1="334.18" y1="532.68" x2="334.18" y2="538.14" stroke="#8a8a8a" stroke-width="0.9"/>
<line x1="331.98" y1="532.68" x2="336.38" y2="532.68" stroke="#8a8a8a" stroke-width="0.9"/>
<line x1="331.98" y1="538.14" x2="336.38" y2="538.14" stroke="#8a8a8a" stroke-width="0.9"/>
<line x1="191.62" y1="566.22" x2="191.62" y2="569.34" stroke="#2f3cf0" stroke-width="0.9"/>
<line x1="189.42" y1="566.22" x2="193.82" y2="566.22" stroke="#2f3cf0" stroke-width="0.9"/>
<line x1="189.42" y1="569.34" x2="193.82" y2="569.34" stroke="#2f3cf0" stroke-width="0.9"/>
<line x1="199.54" y1="560.37" x2="199.54" y2="565.83" stroke="#2f3cf0" stroke-width="0.9"/>
<line x1="197.34" y1="560.37" x2="201.74" y2="560.37" stroke="#2f3cf0" stroke-width="0.9"/>
<line x1="197.34" y1="565.83" x2="201.74" y2="565.83" stroke="#2f3cf0" stroke-width="0.9"/>
<line x1="207.46" y1="551.40" x2="207.46" y2="560.76" stroke="#2f3cf0" stroke-width="0.9"/>
<line x1="205.26" y1="551.40" x2="209.66" y2="551.40" stroke="#2f3cf0" stroke-width="0.9"/>
<line x1="205.26" y1="560.76" x2="209.66" y2="560.76" stroke="#2f3cf0" stroke-width="0.9"/>
<line x1="215.38" y1="549.45" x2="215.38" y2="559.59" stroke="#2f3cf0" stroke-width="0.9"/>
<line x1="213.18" y1="549.45" x2="217.58" y2="549.45" stroke="#2f3cf0" stroke-width="0.9"/>
<line x1="213.18" y1="559.59" x2="217.58" y2="559.59" stroke="#2f3cf0" stroke-width="0.9"/>
<line x1="223.30" y1="540.48" x2="223.30" y2="546.72" stroke="#2f3cf0" stroke-width="0.9"/>
<line x1="221.10" y1="540.48" x2="225.50" y2="540.48" stroke="#2f3cf0" stroke-width="0.9"/>
<line x1="221.10" y1="546.72" x2="225.50" y2="546.72" stroke="#2f3cf0" stroke-width="0.9"/>
<line x1="231.22" y1="538.92" x2="231.22" y2="544.38" stroke="#2f3cf0" stroke-width="0.9"/>
<line x1="229.02" y1="538.92" x2="233.42" y2="538.92" stroke="#2f3cf0" stroke-width="0.9"/>
<line x1="229.02" y1="544.38" x2="233.42" y2="544.38" stroke="#2f3cf0" stroke-width="0.9"/>
<line x1="239.14" y1="536.19" x2="239.14" y2="540.87" stroke="#2f3cf0" stroke-width="0.9"/>
<line x1="236.94" y1="536.19" x2="241.34" y2="536.19" stroke="#2f3cf0" stroke-width="0.9"/>
<line x1="236.94" y1="540.87" x2="241.34" y2="540.87" stroke="#2f3cf0" stroke-width="0.9"/>
<line x1="247.06" y1="533.07" x2="247.06" y2="536.19" stroke="#2f3cf0" stroke-width="0.9"/>
<line x1="244.86" y1="533.07" x2="249.26" y2="533.07" stroke="#2f3cf0" stroke-width="0.9"/>
<line x1="244.86" y1="536.19" x2="249.26" y2="536.19" stroke="#2f3cf0" stroke-width="0.9"/>
<line x1="254.98" y1="530.34" x2="254.98" y2="533.46" stroke="#2f3cf0" stroke-width="0.9"/>
<line x1="252.78" y1="530.34" x2="257.18" y2="530.34" stroke="#2f3cf0" stroke-width="0.9"/>
<line x1="252.78" y1="533.46" x2="257.18" y2="533.46" stroke="#2f3cf0" stroke-width="0.9"/>
<line x1="262.90" y1="529.95" x2="262.90" y2="532.29" stroke="#2f3cf0" stroke-width="0.9"/>
<line x1="260.70" y1="529.95" x2="265.10" y2="529.95" stroke="#2f3cf0" stroke-width="0.9"/>
<line x1="260.70" y1="532.29" x2="265.10" y2="532.29" stroke="#2f3cf0" stroke-width="0.9"/>
<line x1="270.82" y1="527.61" x2="270.82" y2="529.95" stroke="#2f3cf0" stroke-width="0.9"/>
<line x1="268.62" y1="527.61" x2="273.02" y2="527.61" stroke="#2f3cf0" stroke-width="0.9"/>
<line x1="268.62" y1="529.95" x2="273.02" y2="529.95" stroke="#2f3cf0" stroke-width="0.9"/>
<line x1="278.74" y1="526.44" x2="278.74" y2="528.78" stroke="#2f3cf0" stroke-width="0.9"/>
<line x1="276.54" y1="526.44" x2="280.94" y2="526.44" stroke="#2f3cf0" stroke-width="0.9"/>
<line x1="276.54" y1="528.78" x2="280.94" y2="528.78" stroke="#2f3cf0" stroke-width="0.9"/>
<line x1="286.66" y1="524.10" x2="286.66" y2="526.44" stroke="#2f3cf0" stroke-width="0.9"/>
<line x1="284.46" y1="524.10" x2="288.86" y2="524.10" stroke="#2f3cf0" stroke-width="0.9"/>
<line x1="284.46" y1="526.44" x2="288.86" y2="526.44" stroke="#2f3cf0" stroke-width="0.9"/>
<line x1="294.58" y1="522.93" x2="294.58" y2="525.27" stroke="#2f3cf0" stroke-width="0.9"/>
<line x1="292.38" y1="522.93" x2="296.78" y2="522.93" stroke="#2f3cf0" stroke-width="0.9"/>
<line x1="292.38" y1="525.27" x2="296.78" y2="525.27" stroke="#2f3cf0" stroke-width="0.9"/>
<line x1="302.50" y1="519.42" x2="302.50" y2="521.76" stroke="#2f3cf0" stroke-width="0.9"/>
<line x1="300.30" y1="519.42" x2="304.70" y2="519.42" stroke="#2f3cf0" stroke-width="0.9"/>
<line x1="300.30" y1="521.76" x2="304.70" y2="521.76" stroke="#2f3cf0" stroke-width="0.9"/>
<line x1="310.42" y1="517.08" x2="310.42" y2="519.42" stroke="#2f3cf0" stroke-width="0.9"/>
<line x1="308.22" y1="517.08" x2="312.62" y2="517.08" stroke="#2f3cf0" stroke-width="0.9"/>
<line x1="308.22" y1="519.42" x2="312.62" y2="519.42" stroke="#2f3cf0" stroke-width="0.9"/>
<line x1="318.34" y1="515.13" x2="318.34" y2="517.47" stroke="#2f3cf0" stroke-width="0.9"/>
<line x1="316.14" y1="515.13" x2="320.54" y2="515.13" stroke="#2f3cf0" stroke-width="0.9"/>
<line x1="316.14" y1="517.47" x2="320.54" y2="517.47" stroke="#2f3cf0" stroke-width="0.9"/>
<line x1="326.26" y1="513.18" x2="326.26" y2="515.52" stroke="#2f3cf0" stroke-width="0.9"/>
<line x1="324.06" y1="513.18" x2="328.46" y2="513.18" stroke="#2f3cf0" stroke-width="0.9"/>
<line x1="324.06" y1="515.52" x2="328.46" y2="515.52" stroke="#2f3cf0" stroke-width="0.9"/>
<line x1="334.18" y1="510.45" x2="334.18" y2="512.79" stroke="#2f3cf0" stroke-width="0.9"/>
<line x1="331.98" y1="510.45" x2="336.38" y2="510.45" stroke="#2f3cf0" stroke-width="0.9"/>
<line x1="331.98" y1="512.79" x2="336.38" y2="512.79" stroke="#2f3cf0" stroke-width="0.9"/>
<polyline points="183.70,570.90 191.62,570.90 199.54,570.12 207.46,568.95 215.38,567.00 223.30,559.98 231.22,557.25 239.14,555.30 247.06,553.35 254.98,551.40 262.90,549.45 270.82,547.89 278.74,545.55 286.66,543.99 294.58,541.65 302.50,540.48 310.42,536.97 318.34,536.97 326.26,536.58 334.18,535.41" fill="none" stroke="#7a7a7a" stroke-width="1.0" stroke-linejoin="round" />
<polyline points="183.70,570.90 191.62,567.78 199.54,563.10 207.46,556.08 215.38,554.52 223.30,543.60 231.22,541.65 239.14,538.53 247.06,534.63 254.98,531.90 262.90,531.12 270.82,528.78 278.74,527.61 286.66,525.27 294.58,524.10 302.50,520.59 310.42,518.25 318.34,516.30 326.26,514.35 334.18,511.62" fill="none" stroke="#2f3cf0" stroke-width="1.0" stroke-linejoin="round" />
<circle cx="183.70" cy="570.90" r="2.45" fill="#7a7a7a" stroke="none" stroke-width="0"/>
<circle cx="191.62" cy="570.90" r="2.45" fill="#7a7a7a" stroke="none" stroke-width="0"/>
<circle cx="199.54" cy="570.12" r="2.45" fill="#7a7a7a" stroke="none" stroke-width="0"/>
<circle cx="207.46" cy="568.95" r="2.45" fill="#7a7a7a" stroke="none" stroke-width="0"/>
<circle cx="215.38" cy="567.00" r="2.45" fill="#7a7a7a" stroke="none" stroke-width="0"/>
<circle cx="223.30" cy="559.98" r="2.45" fill="#7a7a7a" stroke="none" stroke-width="0"/>
<circle cx="231.22" cy="557.25" r="2.45" fill="#7a7a7a" stroke="none" stroke-width="0"/>
<circle cx="239.14" cy="555.30" r="2.45" fill="#7a7a7a" stroke="none" stroke-width="0"/>
<circle cx="247.06" cy="553.35" r="2.45" fill="#7a7a7a" stroke="none" stroke-width="0"/>
<circle cx="254.98" cy="551.40" r="2.45" fill="#7a7a7a" stroke="none" stroke-width="0"/>
<circle cx="262.90" cy="549.45" r="2.45" fill="#7a7a7a" stroke="none" stroke-width="0"/>
<circle cx="270.82" cy="547.89" r="2.45" fill="#7a7a7a" stroke="none" stroke-width="0"/>
<circle cx="278.74" cy="545.55" r="2.45" fill="#7a7a7a" stroke="none" stroke-width="0"/>
<circle cx="286.66" cy="543.99" r="2.45" fill="#7a7a7a" stroke="none" stroke-width="0"/>
<circle cx="294.58" cy="541.65" r="2.45" fill="#7a7a7a" stroke="none" stroke-width="0"/>
<circle cx="302.50" cy="540.48" r="2.45" fill="#7a7a7a" stroke="none" stroke-width="0"/>
<circle cx="310.42" cy="536.97" r="2.45" fill="#7a7a7a" stroke="none" stroke-width="0"/>
<circle cx="318.34" cy="536.97" r="2.45" fill="#7a7a7a" stroke="none" stroke-width="0"/>
<circle cx="326.26" cy="536.58" r="2.45" fill="#7a7a7a" stroke="none" stroke-width="0"/>
<circle cx="334.18" cy="535.41" r="2.45" fill="#7a7a7a" stroke="none" stroke-width="0"/>
<rect x="181.70" y="568.90" width="4.0" height="4.0" fill="#fff" stroke="#2f3cf0" stroke-width="1.1"/>
<rect x="189.62" y="565.78" width="4.0" height="4.0" fill="#fff" stroke="#2f3cf0" stroke-width="1.1"/>
<rect x="197.54" y="561.10" width="4.0" height="4.0" fill="#fff" stroke="#2f3cf0" stroke-width="1.1"/>
<rect x="205.46" y="554.08" width="4.0" height="4.0" fill="#fff" stroke="#2f3cf0" stroke-width="1.1"/>
<rect x="213.38" y="552.52" width="4.0" height="4.0" fill="#fff" stroke="#2f3cf0" stroke-width="1.1"/>
<rect x="221.30" y="541.60" width="4.0" height="4.0" fill="#fff" stroke="#2f3cf0" stroke-width="1.1"/>
<rect x="229.22" y="539.65" width="4.0" height="4.0" fill="#fff" stroke="#2f3cf0" stroke-width="1.1"/>
<rect x="237.14" y="536.53" width="4.0" height="4.0" fill="#fff" stroke="#2f3cf0" stroke-width="1.1"/>
<rect x="245.06" y="532.63" width="4.0" height="4.0" fill="#fff" stroke="#2f3cf0" stroke-width="1.1"/>
<rect x="252.98" y="529.90" width="4.0" height="4.0" fill="#fff" stroke="#2f3cf0" stroke-width="1.1"/>
<rect x="260.90" y="529.12" width="4.0" height="4.0" fill="#fff" stroke="#2f3cf0" stroke-width="1.1"/>
<rect x="268.82" y="526.78" width="4.0" height="4.0" fill="#fff" stroke="#2f3cf0" stroke-width="1.1"/>
<rect x="276.74" y="525.61" width="4.0" height="4.0" fill="#fff" stroke="#2f3cf0" stroke-width="1.1"/>
<rect x="284.66" y="523.27" width="4.0" height="4.0" fill="#fff" stroke="#2f3cf0" stroke-width="1.1"/>
<rect x="292.58" y="522.10" width="4.0" height="4.0" fill="#fff" stroke="#2f3cf0" stroke-width="1.1"/>
<rect x="300.50" y="518.59" width="4.0" height="4.0" fill="#fff" stroke="#2f3cf0" stroke-width="1.1"/>
<rect x="308.42" y="516.25" width="4.0" height="4.0" fill="#fff" stroke="#2f3cf0" stroke-width="1.1"/>
<rect x="316.34" y="514.30" width="4.0" height="4.0" fill="#fff" stroke="#2f3cf0" stroke-width="1.1"/>
<rect x="324.26" y="512.35" width="4.0" height="4.0" fill="#fff" stroke="#2f3cf0" stroke-width="1.1"/>
<rect x="332.18" y="509.62" width="4.0" height="4.0" fill="#fff" stroke="#2f3cf0" stroke-width="1.1"/>
<line x1="205.90" y1="475.60" x2="216.90" y2="475.60" stroke="#7a7a7a" stroke-width="1"/>
<circle cx="211.90" cy="475.60" r="2.2" fill="#7a7a7a" stroke="none" stroke-width="0"/>
<text transform="translate(219.77,476.52) scale(1,1.12)" font-size="9.80" text-anchor="start" fill="#222" dominant-baseline="central" textLength="13.97" lengthAdjust="spacingAndGlyphs" id="i_leg_wt" >WT</text>
<line x1="267.60" y1="475.60" x2="278.60" y2="475.60" stroke="#2f3cf0" stroke-width="1"/>
<rect x="271.75" y="473.75" width="3.7" height="3.7" fill="#fff" stroke="#2f3cf0" stroke-width="1.05"/>
<text transform="translate(280.48,476.78) scale(1,1.12)" font-size="9.80" text-anchor="start" fill="#222" dominant-baseline="central" textLength="50.40" lengthAdjust="spacingAndGlyphs" id="i_leg_ko" ><tspan font-style="italic">Shank3</tspan> KO</text>
<text transform="translate(151.80,525.83) rotate(-90)" font-size="9.00" text-anchor="middle" fill="#222" dominant-baseline="central" textLength="85.32" lengthAdjust="spacingAndGlyphs" id="i_ylab">Firing frequency (Hz)</text>
<text transform="translate(250.40,592.88) scale(1,1.07)" font-size="9.80" text-anchor="middle" fill="#222" dominant-baseline="central" textLength="61.95" lengthAdjust="spacingAndGlyphs" id="i_stim" >Stim. int. (pA)</text>
<line x1="340.80" y1="514.50" x2="340.80" y2="531.10" stroke="#111" stroke-width="1.5"/>
<text transform="translate(344.40,522.80) rotate(90)" font-size="11.5" font-weight="bold" text-anchor="middle" fill="#111" dominant-baseline="central">****</text>
<line x1="397.70" y1="476.30" x2="397.70" y2="572.40" stroke="#555" stroke-width="1.1"/>
<line x1="393.80" y1="476.30" x2="397.70" y2="476.30" stroke="#555" stroke-width="1.1"/>
<text transform="translate(392.45,476.00) scale(1,1.17)" font-size="9.80" text-anchor="end" fill="#222" dominant-baseline="central" >220</text>
<line x1="393.80" y1="500.30" x2="397.70" y2="500.30" stroke="#555" stroke-width="1.1"/>
<text transform="translate(392.45,500.00) scale(1,1.17)" font-size="9.80" text-anchor="end" fill="#222" dominant-baseline="central" >165</text>
<line x1="393.80" y1="524.30" x2="397.70" y2="524.30" stroke="#555" stroke-width="1.1"/>
<text transform="translate(392.45,524.00) scale(1,1.17)" font-size="9.80" text-anchor="end" fill="#222" dominant-baseline="central" >110</text>
<line x1="393.80" y1="548.40" x2="397.70" y2="548.40" stroke="#555" stroke-width="1.1"/>
<text transform="translate(392.45,548.10) scale(1,1.17)" font-size="9.80" text-anchor="end" fill="#222" dominant-baseline="central" >55</text>
<line x1="393.80" y1="572.40" x2="397.70" y2="572.40" stroke="#555" stroke-width="1.1"/>
<text transform="translate(392.45,572.10) scale(1,1.17)" font-size="9.80" text-anchor="end" fill="#222" dominant-baseline="central" >0</text>
<rect x="407.80" y="532.70" width="19.50" height="39.70" fill="#e0e0e0" stroke="none" stroke-width="0" />
<rect x="438.35" y="508.35" width="17.40" height="64.05" fill="#fff" stroke="#6f80f2" stroke-width="1.3" />
<line x1="397.70" y1="572.40" x2="465.00" y2="572.40" stroke="#555" stroke-width="1.2"/>
<line x1="417.30" y1="572.40" x2="417.30" y2="576.40" stroke="#444" stroke-width="1"/>
<line x1="446.90" y1="572.40" x2="446.90" y2="576.40" stroke="#444" stroke-width="1"/>
<line x1="417.55" y1="527.00" x2="417.55" y2="540.00" stroke="#6a6a6a" stroke-width="1"/>
<line x1="414.05" y1="527.00" x2="421.05" y2="527.00" stroke="#6a6a6a" stroke-width="1"/>
<line x1="414.05" y1="540.00" x2="421.05" y2="540.00" stroke="#6a6a6a" stroke-width="1"/>
<line x1="447.05" y1="505.00" x2="447.05" y2="512.00" stroke="#2f3cf0" stroke-width="1"/>
<line x1="443.55" y1="505.00" x2="450.55" y2="505.00" stroke="#2f3cf0" stroke-width="1"/>
<line x1="443.55" y1="512.00" x2="450.55" y2="512.00" stroke="#2f3cf0" stroke-width="1"/>
<circle cx="416.00" cy="515.00" r="1.9" fill="#7a7a7a" stroke="none" stroke-width="0"/>
<circle cx="420.00" cy="520.00" r="1.9" fill="#7a7a7a" stroke="none" stroke-width="0"/>
<circle cx="412.00" cy="531.00" r="1.9" fill="#7a7a7a" stroke="none" stroke-width="0"/>
<circle cx="416.00" cy="532.50" r="1.9" fill="#7a7a7a" stroke="none" stroke-width="0"/>
<circle cx="420.50" cy="530.50" r="1.9" fill="#7a7a7a" stroke="none" stroke-width="0"/>
<circle cx="423.50" cy="532.00" r="1.9" fill="#7a7a7a" stroke="none" stroke-width="0"/>
<circle cx="412.50" cy="547.00" r="1.9" fill="#7a7a7a" stroke="none" stroke-width="0"/>
<circle cx="416.00" cy="533.00" r="1.9" fill="#7a7a7a" stroke="none" stroke-width="0"/>
<circle cx="412.50" cy="556.00" r="1.9" fill="#7a7a7a" stroke="none" stroke-width="0"/>
<rect x="439.30" y="497.60" width="2.8" height="2.8" fill="#fff" stroke="#2f3cf0" stroke-width="1.0"/>
<rect x="442.90" y="498.60" width="2.8" height="2.8" fill="#fff" stroke="#2f3cf0" stroke-width="1.0"/>
<rect x="447.10" y="498.60" width="2.8" height="2.8" fill="#fff" stroke="#2f3cf0" stroke-width="1.0"/>
<rect x="451.10" y="500.60" width="2.8" height="2.8" fill="#fff" stroke="#2f3cf0" stroke-width="1.0"/>
<rect x="442.90" y="501.60" width="2.8" height="2.8" fill="#fff" stroke="#2f3cf0" stroke-width="1.0"/>
<rect x="447.10" y="503.10" width="2.8" height="2.8" fill="#fff" stroke="#2f3cf0" stroke-width="1.0"/>
<rect x="439.60" y="505.60" width="2.8" height="2.8" fill="#fff" stroke="#2f3cf0" stroke-width="1.0"/>
<rect x="447.10" y="508.60" width="2.8" height="2.8" fill="#fff" stroke="#2f3cf0" stroke-width="1.0"/>
<rect x="451.10" y="509.60" width="2.8" height="2.8" fill="#fff" stroke="#2f3cf0" stroke-width="1.0"/>
<rect x="447.10" y="514.60" width="2.8" height="2.8" fill="#fff" stroke="#2f3cf0" stroke-width="1.0"/>
<line x1="416.70" y1="479.70" x2="447.10" y2="479.70" stroke="#777" stroke-width="1.5"/>
<text x="431.90" y="477.30" font-size="11.50" text-anchor="middle" fill="#111" dominant-baseline="central" font-weight="bold" >****</text>
<text transform="translate(368.53,530.95) rotate(-90)" font-size="9.00" text-anchor="middle" fill="#222" dominant-baseline="central" textLength="121.58" lengthAdjust="spacingAndGlyphs" id="ib_ylab">Firing frequency at 380pA (Hz)</text>
<text transform="translate(425.30,583.15) rotate(-30)" font-size="10.65" text-anchor="end" fill="#222" dominant-baseline="alphabetic" id="ib_wt">WT</text>
<text transform="translate(453.03,584.27) rotate(-30)" font-size="9.59" text-anchor="end" fill="#222" dominant-baseline="alphabetic" id="ib_ko"><tspan font-style="italic">Shank3</tspan> KO</text>
<polyline points="482.50,470.99 483.66,471.06 484.82,471.06 485.98,470.87 487.15,470.82 488.31,470.95 489.47,470.92 490.63,471.11 491.79,471.07 492.95,471.04 494.12,471.02 495.28,471.06 496.44,470.87 497.60,470.98" fill="none" stroke="#7c7c7c" stroke-width="0.8" stroke-linejoin="round" />
<polyline points="482.50,476.18 483.66,476.45 484.82,476.14 485.98,476.41 487.15,476.15 488.31,476.37 489.47,476.24 490.63,476.27 491.79,476.42 492.95,476.13 494.12,476.14 495.28,476.45 496.44,476.30 497.60,476.15" fill="none" stroke="#7c7c7c" stroke-width="0.8" stroke-linejoin="round" />
<polyline points="482.50,481.38 483.66,481.36 484.82,481.06 485.98,481.17 487.15,481.07 488.31,481.13 489.47,481.24 490.63,481.08 491.79,481.27 492.95,481.04 494.12,481.08 495.28,481.31 496.44,481.16 497.60,481.17" fill="none" stroke="#7c7c7c" stroke-width="0.8" stroke-linejoin="round" />
<polyline points="482.50,481.93 483.66,481.89 484.82,481.86 485.98,481.73 487.15,481.98 488.31,482.07 489.47,482.07 490.63,481.96 491.79,481.85 492.95,481.85 494.12,481.97 495.28,481.96 496.44,481.76 497.60,481.80" fill="none" stroke="#7c7c7c" stroke-width="0.8" stroke-linejoin="round" />
<polyline points="482.50,482.55 483.66,482.60 484.82,482.71 485.98,482.60 487.15,482.43 488.31,482.72 489.47,482.57 490.63,482.61 491.79,482.50 492.95,482.57 494.12,482.56 495.28,482.70 496.44,482.46 497.60,482.62" fill="none" stroke="#7c7c7c" stroke-width="0.8" stroke-linejoin="round" />
<polyline points="482.50,483.18 483.66,483.37 484.82,483.13 485.98,483.22 487.15,483.24 488.31,483.35 489.47,483.14 490.63,483.29 491.79,483.20 492.95,483.22 494.12,483.29 495.28,483.47 496.44,483.29 497.60,483.46" fill="none" stroke="#7c7c7c" stroke-width="0.8" stroke-linejoin="round" />
<polyline points="482.50,483.88 483.66,484.15 484.82,483.95 485.98,483.89 487.15,484.09 488.31,484.15 489.47,483.82 490.63,483.92 491.79,484.10 492.95,483.94 494.12,483.91 495.28,483.82 496.44,483.83 497.60,484.04" fill="none" stroke="#7c7c7c" stroke-width="0.8" stroke-linejoin="round" />
<line x1="497.60" y1="468.20" x2="497.60" y2="519.10" stroke="#7c7c7c" stroke-width="0.9"/>
<polyline points="497.60,488.70 498.00,488.57 498.40,488.45 498.80,488.35 499.20,488.25 499.60,488.15 500.00,488.07 500.40,487.99 500.80,487.92 501.20,487.85 501.60,487.78 502.00,487.73 502.40,487.67 502.80,487.62 503.20,487.57 503.60,487.53 504.00,487.49 504.40,487.45 504.80,487.41 505.20,487.38 505.60,487.35 506.00,487.32 506.40,487.29 506.80,487.26 507.20,487.24 507.60,487.22 508.00,487.19 508.40,487.17 508.80,487.15 509.20,487.14 509.60,487.12 510.00,487.10 510.40,487.08 510.80,487.07 511.20,487.06 511.60,487.04 512.00,487.03 512.40,487.02 512.80,487.00 513.20,486.99 513.60,486.98 514.00,486.97 514.40,486.96 514.80,486.95 515.20,486.94 515.60,486.93 516.00,486.93 516.40,486.92 516.80,486.91 517.20,486.90 517.60,486.90 518.00,486.89 518.40,486.88 518.80,486.88 519.20,486.87 519.60,486.86 520.00,486.86 520.40,486.85 520.80,486.85 521.20,486.84 521.60,486.84 522.00,486.83 522.40,486.83 522.80,486.82 523.20,486.82 523.60,486.82 524.00,486.81 524.40,486.81 524.80,486.80 525.20,486.80 525.60,486.80 526.00,486.79 526.40,486.79 526.80,486.79 527.20,486.79 527.60,486.78 528.00,486.78 528.40,486.78 528.80,486.77 529.20,486.77 529.60,486.77 530.00,486.77 530.40,486.77 530.80,486.76 531.20,486.76 531.60,486.76 532.00,486.76 532.40,486.76 532.80,486.75 533.20,486.75 533.60,486.75 534.00,486.75 534.40,486.75 534.80,486.75 535.20,486.74 535.60,486.74 536.00,486.74 536.40,486.74 536.80,486.74 537.20,486.74 537.60,486.74 538.00,486.73 538.40,486.73 538.80,486.73 539.20,486.73 539.60,486.73 540.00,486.73 540.40,486.73 540.80,486.73 541.20,486.73 545.60,486.70" fill="none" stroke="#7c7c7c" stroke-width="0.6" stroke-linejoin="round" />
<polyline points="497.60,491.70 498.00,491.38 498.40,491.09 498.80,490.81 499.20,490.56 499.60,490.33 500.00,490.12 500.40,489.92 500.80,489.74 501.20,489.57 501.60,489.41 502.00,489.26 502.40,489.13 502.80,489.00 503.20,488.88 503.60,488.77 504.00,488.67 504.40,488.58 504.80,488.49 505.20,488.40 505.60,488.32 506.00,488.25 506.40,488.18 506.80,488.11 507.20,488.05 507.60,487.99 508.00,487.94 508.40,487.88 508.80,487.84 509.20,487.79 509.60,487.74 510.00,487.70 510.40,487.66 510.80,487.62 511.20,487.59 511.60,487.55 512.00,487.52 512.40,487.49 512.80,487.46 513.20,487.43 513.60,487.40 514.00,487.38 514.40,487.35 514.80,487.33 515.20,487.31 515.60,487.29 516.00,487.26 516.40,487.24 516.80,487.23 517.20,487.21 517.60,487.19 518.00,487.17 518.40,487.16 518.80,487.14 519.20,487.12 519.60,487.11 520.00,487.10 520.40,487.08 520.80,487.07 521.20,487.06 521.60,487.04 522.00,487.03 522.40,487.02 522.80,487.01 523.20,487.00 523.60,486.99 524.00,486.98 524.40,486.97 524.80,486.96 525.20,486.95 525.60,486.94 526.00,486.94 526.40,486.93 526.80,486.92 527.20,486.91 527.60,486.91 528.00,486.90 528.40,486.89 528.80,486.89 529.20,486.88 529.60,486.87 530.00,486.87 530.40,486.86 530.80,486.86 531.20,486.85 531.60,486.85 532.00,486.84 532.40,486.84 532.80,486.83 533.20,486.83 533.60,486.82 534.00,486.82 534.40,486.82 534.80,486.81 535.20,486.81 535.60,486.81 536.00,486.80 536.40,486.80 536.80,486.80 537.20,486.79 537.60,486.79 538.00,486.79 538.40,486.78 538.80,486.78 539.20,486.78 539.60,486.78 540.00,486.77 540.40,486.77 540.80,486.77 541.20,486.77 545.60,486.70" fill="none" stroke="#7c7c7c" stroke-width="0.6" stroke-linejoin="round" />
<polyline points="497.60,495.20 498.00,494.66 498.40,494.16 498.80,493.69 499.20,493.27 499.60,492.88 500.00,492.51 500.40,492.18 500.80,491.86 501.20,491.58 501.60,491.31 502.00,491.06 502.40,490.83 502.80,490.61 503.20,490.41 503.60,490.23 504.00,490.05 504.40,489.89 504.80,489.73 505.20,489.59 505.60,489.46 506.00,489.33 506.40,489.21 506.80,489.10 507.20,489.00 507.60,488.90 508.00,488.80 508.40,488.71 508.80,488.63 509.20,488.55 509.60,488.48 510.00,488.40 510.40,488.34 510.80,488.27 511.20,488.21 511.60,488.15 512.00,488.10 512.40,488.04 512.80,487.99 513.20,487.94 513.60,487.90 514.00,487.85 514.40,487.81 514.80,487.77 515.20,487.73 515.60,487.70 516.00,487.66 516.40,487.63 516.80,487.59 517.20,487.56 517.60,487.53 518.00,487.50 518.40,487.47 518.80,487.45 519.20,487.42 519.60,487.40 520.00,487.37 520.40,487.35 520.80,487.33 521.20,487.31 521.60,487.29 522.00,487.27 522.40,487.25 522.80,487.23 523.20,487.21 523.60,487.19 524.00,487.18 524.40,487.16 524.80,487.15 525.20,487.13 525.60,487.12 526.00,487.10 526.40,487.09 526.80,487.08 527.20,487.06 527.60,487.05 528.00,487.04 528.40,487.03 528.80,487.02 529.20,487.01 529.60,487.00 530.00,486.99 530.40,486.98 530.80,486.97 531.20,486.96 531.60,486.95 532.00,486.94 532.40,486.93 532.80,486.93 533.20,486.92 533.60,486.91 534.00,486.91 534.40,486.90 534.80,486.89 535.20,486.89 535.60,486.88 536.00,486.87 536.40,486.87 536.80,486.86 537.20,486.86 537.60,486.85 538.00,486.85 538.40,486.84 538.80,486.84 539.20,486.83 539.60,486.83 540.00,486.82 540.40,486.82 540.80,486.82 541.20,486.81 545.60,486.70" fill="none" stroke="#7c7c7c" stroke-width="0.6" stroke-linejoin="round" />
<polyline points="497.60,498.70 498.00,497.93 498.40,497.23 498.80,496.57 499.20,495.97 499.60,495.42 500.00,494.91 500.40,494.43 500.80,493.99 501.20,493.58 501.60,493.21 502.00,492.86 502.40,492.53 502.80,492.23 503.20,491.94 503.60,491.68 504.00,491.43 504.40,491.20 504.80,490.98 505.20,490.78 505.60,490.59 506.00,490.41 506.40,490.25 506.80,490.09 507.20,489.94 507.60,489.80 508.00,489.67 508.40,489.54 508.80,489.42 509.20,489.31 509.60,489.21 510.00,489.11 510.40,489.01 510.80,488.92 511.20,488.83 511.60,488.75 512.00,488.67 512.40,488.60 512.80,488.52 513.20,488.46 513.60,488.39 514.00,488.33 514.40,488.27 514.80,488.21 515.20,488.16 515.60,488.11 516.00,488.06 516.40,488.01 516.80,487.96 517.20,487.92 517.60,487.87 518.00,487.83 518.40,487.79 518.80,487.76 519.20,487.72 519.60,487.68 520.00,487.65 520.40,487.62 520.80,487.59 521.20,487.56 521.60,487.53 522.00,487.50 522.40,487.47 522.80,487.45 523.20,487.42 523.60,487.40 524.00,487.37 524.40,487.35 524.80,487.33 525.20,487.31 525.60,487.29 526.00,487.27 526.40,487.25 526.80,487.23 527.20,487.21 527.60,487.20 528.00,487.18 528.40,487.16 528.80,487.15 529.20,487.13 529.60,487.12 530.00,487.11 530.40,487.09 530.80,487.08 531.20,487.07 531.60,487.05 532.00,487.04 532.40,487.03 532.80,487.02 533.20,487.01 533.60,487.00 534.00,486.99 534.40,486.98 534.80,486.97 535.20,486.96 535.60,486.95 536.00,486.94 536.40,486.94 536.80,486.93 537.20,486.92 537.60,486.91 538.00,486.91 538.40,486.90 538.80,486.89 539.20,486.89 539.60,486.88 540.00,486.88 540.40,486.87 540.80,486.86 541.20,486.86 545.60,486.70" fill="none" stroke="#7c7c7c" stroke-width="0.6" stroke-linejoin="round" />
<polyline points="497.60,502.20 498.00,501.21 498.40,500.30 498.80,499.45 499.20,498.68 499.60,497.96 500.00,497.30 500.40,496.69 500.80,496.12 501.20,495.59 501.60,495.10 502.00,494.65 502.40,494.23 502.80,493.84 503.20,493.47 503.60,493.13 504.00,492.81 504.40,492.51 504.80,492.23 505.20,491.97 505.60,491.73 506.00,491.50 506.40,491.28 506.80,491.08 507.20,490.89 507.60,490.70 508.00,490.53 508.40,490.37 508.80,490.22 509.20,490.07 509.60,489.94 510.00,489.81 510.40,489.68 510.80,489.57 511.20,489.45 511.60,489.35 512.00,489.25 512.40,489.15 512.80,489.06 513.20,488.97 513.60,488.88 514.00,488.80 514.40,488.73 514.80,488.65 515.20,488.58 515.60,488.52 516.00,488.45 516.40,488.39 516.80,488.33 517.20,488.27 517.60,488.22 518.00,488.16 518.40,488.11 518.80,488.06 519.20,488.02 519.60,487.97 520.00,487.93 520.40,487.89 520.80,487.84 521.20,487.81 521.60,487.77 522.00,487.73 522.40,487.70 522.80,487.66 523.20,487.63 523.60,487.60 524.00,487.57 524.40,487.54 524.80,487.51 525.20,487.48 525.60,487.46 526.00,487.43 526.40,487.41 526.80,487.39 527.20,487.36 527.60,487.34 528.00,487.32 528.40,487.30 528.80,487.28 529.20,487.26 529.60,487.24 530.00,487.22 530.40,487.21 530.80,487.19 531.20,487.17 531.60,487.16 532.00,487.14 532.40,487.13 532.80,487.11 533.20,487.10 533.60,487.09 534.00,487.07 534.40,487.06 534.80,487.05 535.20,487.04 535.60,487.03 536.00,487.02 536.40,487.01 536.80,487.00 537.20,486.99 537.60,486.98 538.00,486.97 538.40,486.96 538.80,486.95 539.20,486.94 539.60,486.93 540.00,486.93 540.40,486.92 540.80,486.91 541.20,486.90 545.60,486.70" fill="none" stroke="#7c7c7c" stroke-width="0.6" stroke-linejoin="round" />
<polyline points="497.60,505.70 498.00,504.48 498.40,503.37 498.80,502.33 499.20,501.38 499.60,500.50 500.00,499.69 500.40,498.94 500.80,498.24 501.20,497.60 501.60,497.00 502.00,496.45 502.40,495.93 502.80,495.45 503.20,495.00 503.60,494.58 504.00,494.19 504.40,493.83 504.80,493.48 505.20,493.16 505.60,492.86 506.00,492.58 506.40,492.32 506.80,492.07 507.20,491.83 507.60,491.61 508.00,491.40 508.40,491.20 508.80,491.01 509.20,490.84 509.60,490.67 510.00,490.51 510.40,490.36 510.80,490.21 511.20,490.08 511.60,489.95 512.00,489.82 512.40,489.70 512.80,489.59 513.20,489.48 513.60,489.38 514.00,489.28 514.40,489.19 514.80,489.09 515.20,489.01 515.60,488.93 516.00,488.85 516.40,488.77 516.80,488.70 517.20,488.63 517.60,488.56 518.00,488.49 518.40,488.43 518.80,488.37 519.20,488.31 519.60,488.26 520.00,488.20 520.40,488.15 520.80,488.10 521.20,488.06 521.60,488.01 522.00,487.96 522.40,487.92 522.80,487.88 523.20,487.84 523.60,487.80 524.00,487.77 524.40,487.73 524.80,487.70 525.20,487.66 525.60,487.63 526.00,487.60 526.40,487.57 526.80,487.54 527.20,487.51 527.60,487.49 528.00,487.46 528.40,487.43 528.80,487.41 529.20,487.39 529.60,487.36 530.00,487.34 530.40,487.32 530.80,487.30 531.20,487.28 531.60,487.26 532.00,487.24 532.40,487.22 532.80,487.21 533.20,487.19 533.60,487.17 534.00,487.16 534.40,487.14 534.80,487.13 535.20,487.11 535.60,487.10 536.00,487.09 536.40,487.08 536.80,487.06 537.20,487.05 537.60,487.04 538.00,487.03 538.40,487.02 538.80,487.01 539.20,487.00 539.60,486.99 540.00,486.98 540.40,486.97 540.80,486.96 541.20,486.95 545.60,486.70" fill="none" stroke="#7c7c7c" stroke-width="0.6" stroke-linejoin="round" />
<polyline points="497.60,509.20 498.00,507.76 498.40,506.44 498.80,505.21 499.20,504.09 499.60,503.05 500.00,502.08 500.40,501.20 500.80,500.37 501.20,499.61 501.60,498.90 502.00,498.24 502.40,497.63 502.80,497.06 503.20,496.53 503.60,496.03 504.00,495.57 504.40,495.14 504.80,494.73 505.20,494.35 505.60,494.00 506.00,493.66 506.40,493.35 506.80,493.05 507.20,492.78 507.60,492.51 508.00,492.26 508.40,492.03 508.80,491.81 509.20,491.60 509.60,491.40 510.00,491.21 510.40,491.03 510.80,490.86 511.20,490.70 511.60,490.54 512.00,490.40 512.40,490.26 512.80,490.12 513.20,489.99 513.60,489.87 514.00,489.75 514.40,489.64 514.80,489.54 515.20,489.43 515.60,489.34 516.00,489.24 516.40,489.15 516.80,489.06 517.20,488.98 517.60,488.90 518.00,488.82 518.40,488.75 518.80,488.68 519.20,488.61 519.60,488.54 520.00,488.48 520.40,488.42 520.80,488.36 521.20,488.30 521.60,488.25 522.00,488.20 522.40,488.15 522.80,488.10 523.20,488.05 523.60,488.01 524.00,487.96 524.40,487.92 524.80,487.88 525.20,487.84 525.60,487.80 526.00,487.76 526.40,487.73 526.80,487.69 527.20,487.66 527.60,487.63 528.00,487.60 528.40,487.57 528.80,487.54 529.20,487.51 529.60,487.49 530.00,487.46 530.40,487.43 530.80,487.41 531.20,487.39 531.60,487.36 532.00,487.34 532.40,487.32 532.80,487.30 533.20,487.28 533.60,487.26 534.00,487.24 534.40,487.23 534.80,487.21 535.20,487.19 535.60,487.17 536.00,487.16 536.40,487.14 536.80,487.13 537.20,487.12 537.60,487.10 538.00,487.09 538.40,487.08 538.80,487.06 539.20,487.05 539.60,487.04 540.00,487.03 540.40,487.02 540.80,487.01 541.20,487.00 545.60,486.70" fill="none" stroke="#7c7c7c" stroke-width="0.6" stroke-linejoin="round" />
<polyline points="497.60,512.70 498.00,511.04 498.40,509.51 498.80,508.09 499.20,506.79 499.60,505.59 500.00,504.48 500.40,503.45 500.80,502.50 501.20,501.62 501.60,500.80 502.00,500.04 502.40,499.33 502.80,498.67 503.20,498.06 503.60,497.49 504.00,496.95 504.40,496.45 504.80,495.98 505.20,495.55 505.60,495.13 506.00,494.75 506.40,494.38 506.80,494.04 507.20,493.72 507.60,493.42 508.00,493.13 508.40,492.86 508.80,492.60 509.20,492.36 509.60,492.13 510.00,491.91 510.40,491.70 510.80,491.51 511.20,491.32 511.60,491.14 512.00,490.97 512.40,490.81 512.80,490.65 513.20,490.51 513.60,490.36 514.00,490.23 514.40,490.10 514.80,489.98 515.20,489.86 515.60,489.75 516.00,489.64 516.40,489.53 516.80,489.43 517.20,489.34 517.60,489.24 518.00,489.15 518.40,489.07 518.80,488.99 519.20,488.91 519.60,488.83 520.00,488.76 520.40,488.69 520.80,488.62 521.20,488.55 521.60,488.49 522.00,488.43 522.40,488.37 522.80,488.32 523.20,488.26 523.60,488.21 524.00,488.16 524.40,488.11 524.80,488.06 525.20,488.02 525.60,487.97 526.00,487.93 526.40,487.89 526.80,487.85 527.20,487.81 527.60,487.77 528.00,487.74 528.40,487.70 528.80,487.67 529.20,487.64 529.60,487.61 530.00,487.58 530.40,487.55 530.80,487.52 531.20,487.49 531.60,487.47 532.00,487.44 532.40,487.42 532.80,487.39 533.20,487.37 533.60,487.35 534.00,487.33 534.40,487.31 534.80,487.29 535.20,487.27 535.60,487.25 536.00,487.23 536.40,487.21 536.80,487.20 537.20,487.18 537.60,487.16 538.00,487.15 538.40,487.13 538.80,487.12 539.20,487.11 539.60,487.09 540.00,487.08 540.40,487.07 540.80,487.06 541.20,487.04 545.60,486.70" fill="none" stroke="#7c7c7c" stroke-width="0.6" stroke-linejoin="round" />
<polyline points="497.60,516.20 498.00,514.31 498.40,512.58 498.80,510.97 499.20,509.50 499.60,508.13 500.00,506.87 500.40,505.71 500.80,504.63 501.20,503.62 501.60,502.70 502.00,501.83 502.40,501.03 502.80,500.28 503.20,499.59 503.60,498.94 504.00,498.33 504.40,497.76 504.80,497.23 505.20,496.74 505.60,496.27 506.00,495.83 506.40,495.42 506.80,495.03 507.20,494.67 507.60,494.32 508.00,494.00 508.40,493.69 508.80,493.40 509.20,493.12 509.60,492.86 510.00,492.61 510.40,492.38 510.80,492.15 511.20,491.94 511.60,491.74 512.00,491.55 512.40,491.36 512.80,491.19 513.20,491.02 513.60,490.86 514.00,490.71 514.40,490.56 514.80,490.42 515.20,490.28 515.60,490.16 516.00,490.03 516.40,489.91 516.80,489.80 517.20,489.69 517.60,489.59 518.00,489.48 518.40,489.39 518.80,489.29 519.20,489.20 519.60,489.12 520.00,489.04 520.40,488.96 520.80,488.88 521.20,488.80 521.60,488.73 522.00,488.66 522.40,488.60 522.80,488.53 523.20,488.47 523.60,488.41 524.00,488.35 524.40,488.30 524.80,488.25 525.20,488.19 525.60,488.14 526.00,488.10 526.40,488.05 526.80,488.00 527.20,487.96 527.60,487.92 528.00,487.88 528.40,487.84 528.80,487.80 529.20,487.77 529.60,487.73 530.00,487.70 530.40,487.66 530.80,487.63 531.20,487.60 531.60,487.57 532.00,487.54 532.40,487.51 532.80,487.49 533.20,487.46 533.60,487.44 534.00,487.41 534.40,487.39 534.80,487.37 535.20,487.34 535.60,487.32 536.00,487.30 536.40,487.28 536.80,487.26 537.20,487.24 537.60,487.23 538.00,487.21 538.40,487.19 538.80,487.18 539.20,487.16 539.60,487.15 540.00,487.13 540.40,487.12 540.80,487.10 541.20,487.09 545.60,486.70" fill="none" stroke="#7c7c7c" stroke-width="0.6" stroke-linejoin="round" />
<polyline points="497.60,519.20 498.00,517.12 498.40,515.21 498.80,513.44 499.20,511.81 499.60,510.31 500.00,508.92 500.40,507.64 500.80,506.45 501.20,505.35 501.60,504.32 502.00,503.37 502.40,502.49 502.80,501.66 503.20,500.90 503.60,500.18 504.00,499.51 504.40,498.89 504.80,498.30 505.20,497.76 505.60,497.24 506.00,496.76 506.40,496.31 506.80,495.88 507.20,495.48 507.60,495.10 508.00,494.74 508.40,494.40 508.80,494.08 509.20,493.77 509.60,493.49 510.00,493.21 510.40,492.95 510.80,492.71 511.20,492.47 511.60,492.25 512.00,492.04 512.40,491.84 512.80,491.64 513.20,491.46 513.60,491.28 514.00,491.11 514.40,490.95 514.80,490.80 515.20,490.65 515.60,490.51 516.00,490.37 516.40,490.24 516.80,490.11 517.20,489.99 517.60,489.88 518.00,489.77 518.40,489.66 518.80,489.56 519.20,489.46 519.60,489.36 520.00,489.27 520.40,489.18 520.80,489.10 521.20,489.02 521.60,488.94 522.00,488.86 522.40,488.79 522.80,488.72 523.20,488.65 523.60,488.59 524.00,488.52 524.40,488.46 524.80,488.40 525.20,488.35 525.60,488.29 526.00,488.24 526.40,488.19 526.80,488.14 527.20,488.09 527.60,488.04 528.00,488.00 528.40,487.96 528.80,487.91 529.20,487.87 529.60,487.83 530.00,487.80 530.40,487.76 530.80,487.73 531.20,487.69 531.60,487.66 532.00,487.63 532.40,487.60 532.80,487.57 533.20,487.54 533.60,487.51 534.00,487.48 534.40,487.46 534.80,487.43 535.20,487.41 535.60,487.39 536.00,487.36 536.40,487.34 536.80,487.32 537.20,487.30 537.60,487.28 538.00,487.26 538.40,487.24 538.80,487.23 539.20,487.21 539.60,487.19 540.00,487.18 540.40,487.16 540.80,487.14 541.20,487.13 545.60,486.70" fill="none" stroke="#7c7c7c" stroke-width="0.6" stroke-linejoin="round" />
<polyline points="498.60,486.94 499.79,486.95 500.97,486.70 502.16,486.46 503.35,486.61 504.54,486.84 505.72,486.87 506.91,486.77 508.10,486.56 509.28,486.71 510.47,486.69 511.66,486.76 512.85,486.58 514.03,486.92 515.22,486.90 516.41,486.53 517.59,486.60 518.78,486.89 519.97,486.59 521.16,486.92 522.34,486.71 523.53,486.80 524.72,486.80 525.91,486.56 527.09,486.59 528.28,486.58 529.47,486.79 530.65,486.80 531.84,486.52 533.03,486.89 534.22,486.66 535.40,486.57 536.59,486.67 537.78,486.94 538.96,486.73 540.15,486.76 541.34,486.91 542.53,486.93 543.71,486.83 544.90,486.66 546.09,486.74 547.27,486.90 548.46,486.84 549.65,486.74 550.84,486.62 552.02,486.63 553.21,486.82 554.40,486.73 555.58,486.46 556.77,486.81 557.96,486.90 559.15,486.85 560.33,486.90 561.52,486.91 562.71,486.72 563.89,486.84 565.08,486.64 566.27,486.50 567.46,486.63 568.64,486.61 569.83,486.92 571.02,486.79 572.21,486.72 573.39,486.76 574.58,486.51 575.77,486.72 576.95,486.80 578.14,486.65 579.33,486.57 580.52,486.65 581.70,486.61 582.89,486.79 584.08,486.52 585.26,486.50 586.45,486.61 587.64,486.80 588.83,486.83 590.01,486.78 591.20,486.92" fill="none" stroke="#7c7c7c" stroke-width="3.6" stroke-linejoin="round" />
<polyline points="480.10,528.31 481.25,528.07 482.40,528.39 483.55,528.36 484.70,528.18 485.85,528.52 487.00,528.29 488.15,528.22 489.30,528.28 490.45,528.71 491.60,528.06 492.75,528.30 493.90,528.25 495.05,528.19 496.20,528.35" fill="none" stroke="#1a2cf0" stroke-width="0.95" stroke-linejoin="round" />
<polyline points="480.10,530.00 481.25,530.49 482.40,530.20 483.55,530.34 484.70,529.96 485.85,530.18 487.00,530.27 488.15,530.44 489.30,530.02 490.45,530.17 491.60,530.45 492.75,530.43 493.90,530.01 495.05,530.23 496.20,530.38" fill="none" stroke="#1a2cf0" stroke-width="0.95" stroke-linejoin="round" />
<polyline points="480.10,532.33 481.25,532.52 482.40,532.51 483.55,532.73 484.70,532.44 485.85,532.53 487.00,532.30 488.15,532.56 489.30,532.28 490.45,532.40 491.60,532.30 492.75,532.27 493.90,532.15 495.05,532.21 496.20,532.43" fill="none" stroke="#1a2cf0" stroke-width="0.95" stroke-linejoin="round" />
<polyline points="480.10,533.43 481.25,533.28 482.40,533.81 483.55,533.45 484.70,533.91 485.85,533.67 487.00,533.52 488.15,533.86 489.30,533.88 490.45,533.47 491.60,533.34 492.75,533.70 493.90,533.84 495.05,533.68 496.20,533.80" fill="none" stroke="#1a2cf0" stroke-width="0.95" stroke-linejoin="round" />
<polyline points="480.10,534.74 481.25,534.88 482.40,534.63 483.55,534.73 484.70,534.72 485.85,534.72 487.00,534.73 488.15,535.02 489.30,534.57 490.45,534.59 491.60,534.63 492.75,535.13 493.90,534.82 495.05,534.49 496.20,535.03" fill="none" stroke="#1a2cf0" stroke-width="0.95" stroke-linejoin="round" />
<polyline points="480.10,536.26 481.25,536.22 482.40,535.90 483.55,536.16 484.70,535.86 485.85,535.75 487.00,536.26 488.15,536.23 489.30,535.80 490.45,536.27 491.60,535.67 492.75,535.87 493.90,535.66 495.05,535.77 496.20,535.76" fill="none" stroke="#1a2cf0" stroke-width="0.95" stroke-linejoin="round" />
<polyline points="480.10,537.35 481.25,537.06 482.40,536.98 483.55,536.98 484.70,537.07 485.85,537.45 487.00,537.27 488.15,536.92 489.30,537.33 490.45,537.23 491.60,537.16 492.75,537.22 493.90,537.31 495.05,537.41 496.20,537.20" fill="none" stroke="#1a2cf0" stroke-width="0.95" stroke-linejoin="round" />
<polyline points="480.10,538.49 481.25,538.38 482.40,538.49 483.55,538.32 484.70,538.34 485.85,538.41 487.00,538.55 488.15,538.24 489.30,538.70 490.45,538.39 491.60,538.65 492.75,538.53 493.90,538.72 495.05,538.53 496.20,538.35" fill="none" stroke="#1a2cf0" stroke-width="0.95" stroke-linejoin="round" />
<polyline points="480.10,539.53 481.25,539.68 482.40,539.78 483.55,539.84 484.70,539.34 485.85,539.29 487.00,539.33 488.15,539.31 489.30,539.29 490.45,539.26 491.60,539.42 492.75,539.33 493.90,539.73 495.05,539.68 496.20,539.93" fill="none" stroke="#1a2cf0" stroke-width="0.95" stroke-linejoin="round" />
<polyline points="480.10,541.12 481.25,540.97 482.40,541.11 483.55,540.47 484.70,540.61 485.85,541.10 487.00,540.78 488.15,540.59 489.30,540.98 490.45,540.75 491.60,540.83 492.75,540.67 493.90,540.62 495.05,540.51 496.20,540.87" fill="none" stroke="#1a2cf0" stroke-width="0.95" stroke-linejoin="round" />
<polyline points="480.10,542.42 481.25,542.44 482.40,542.29 483.55,542.40 484.70,542.00 485.85,541.96 487.00,542.40 488.15,542.17 489.30,542.22 490.45,541.76 491.60,541.91 492.75,542.09 493.90,542.26 495.05,542.33 496.20,542.28" fill="none" stroke="#1a2cf0" stroke-width="0.95" stroke-linejoin="round" />
<polyline points="480.10,543.69 481.25,543.72 482.40,544.05 483.55,544.14 484.70,543.79 485.85,543.59 487.00,543.89 488.15,543.83 489.30,543.70 490.45,543.61 491.60,543.72 492.75,543.88 493.90,543.54 495.05,543.83 496.20,544.12" fill="none" stroke="#1a2cf0" stroke-width="0.95" stroke-linejoin="round" />
<line x1="496.20" y1="528.00" x2="496.20" y2="568.20" stroke="#1a2cf0" stroke-width="1.1"/>
<polyline points="496.20,554.80 496.60,554.58 497.00,554.39 497.40,554.23 497.80,554.09 498.20,553.97 498.60,553.87 499.00,553.79 499.40,553.72 499.80,553.66 500.20,553.60 500.60,553.56 501.00,553.52 501.40,553.49 501.80,553.46 502.20,553.44 502.60,553.42 503.00,553.40 503.40,553.38 503.80,553.37 504.20,553.36 504.60,553.35 505.00,553.34 505.40,553.34 505.80,553.33 506.20,553.33 506.60,553.32 507.00,553.32 507.40,553.32 507.80,553.31 508.20,553.31 508.60,553.31 509.00,553.31 509.40,553.31 509.80,553.31 510.20,553.31 510.60,553.30 511.00,553.30 511.40,553.30 511.80,553.30 512.20,553.30 512.60,553.30 513.00,553.30 513.40,553.30 513.80,553.30 514.20,553.30 514.60,553.30 515.00,553.30 515.40,553.30 515.80,553.30 516.20,553.30 516.60,553.30 517.00,553.30 517.40,553.30 517.80,553.30 518.20,553.30 518.60,553.30 519.00,553.30 519.40,553.30 519.80,553.30 520.20,553.30 520.60,553.30 521.00,553.30 521.40,553.30 521.80,553.30 522.20,553.30 522.60,553.30 523.00,553.30 523.40,553.30 523.80,553.30 524.20,553.30 524.60,553.30 525.00,553.30 525.40,553.30 525.80,553.30 526.20,553.30 526.60,553.30 527.00,553.30 527.40,553.30 527.80,553.30 528.20,553.30 528.60,553.30 529.00,553.30 529.40,553.30 529.80,553.30 530.20,553.30 530.60,553.30 531.00,553.30 531.40,553.30 531.80,553.30 532.20,553.30 532.60,553.30 533.00,553.30 533.40,553.30 533.80,553.30 534.20,553.30 534.60,553.30 535.00,553.30 535.40,553.30 535.80,553.30 536.20,553.30 536.60,553.30 537.00,553.30 537.40,553.30 537.80,553.30 538.20,553.30 538.60,553.30 539.00,553.30 539.40,553.30 539.80,553.30 544.20,553.30" fill="none" stroke="#1a2cf0" stroke-width="0.6" stroke-linejoin="round" />
<polyline points="496.20,556.80 496.60,556.33 497.00,555.93 497.40,555.58 497.80,555.28 498.20,555.01 498.60,554.79 499.00,554.59 499.40,554.42 499.80,554.27 500.20,554.14 500.60,554.03 501.00,553.93 501.40,553.85 501.80,553.77 502.20,553.71 502.60,553.66 503.00,553.61 503.40,553.57 503.80,553.53 504.20,553.50 504.60,553.47 505.00,553.45 505.40,553.43 505.80,553.41 506.20,553.40 506.60,553.39 507.00,553.37 507.40,553.36 507.80,553.36 508.20,553.35 508.60,553.34 509.00,553.34 509.40,553.33 509.80,553.33 510.20,553.32 510.60,553.32 511.00,553.32 511.40,553.32 511.80,553.31 512.20,553.31 512.60,553.31 513.00,553.31 513.40,553.31 513.80,553.31 514.20,553.31 514.60,553.30 515.00,553.30 515.40,553.30 515.80,553.30 516.20,553.30 516.60,553.30 517.00,553.30 517.40,553.30 517.80,553.30 518.20,553.30 518.60,553.30 519.00,553.30 519.40,553.30 519.80,553.30 520.20,553.30 520.60,553.30 521.00,553.30 521.40,553.30 521.80,553.30 522.20,553.30 522.60,553.30 523.00,553.30 523.40,553.30 523.80,553.30 524.20,553.30 524.60,553.30 525.00,553.30 525.40,553.30 525.80,553.30 526.20,553.30 526.60,553.30 527.00,553.30 527.40,553.30 527.80,553.30 528.20,553.30 528.60,553.30 529.00,553.30 529.40,553.30 529.80,553.30 530.20,553.30 530.60,553.30 531.00,553.30 531.40,553.30 531.80,553.30 532.20,553.30 532.60,553.30 533.00,553.30 533.40,553.30 533.80,553.30 534.20,553.30 534.60,553.30 535.00,553.30 535.40,553.30 535.80,553.30 536.20,553.30 536.60,553.30 537.00,553.30 537.40,553.30 537.80,553.30 538.20,553.30 538.60,553.30 539.00,553.30 539.40,553.30 539.80,553.30 544.20,553.30" fill="none" stroke="#1a2cf0" stroke-width="0.6" stroke-linejoin="round" />
<polyline points="496.20,558.80 496.60,558.13 497.00,557.55 497.40,557.03 497.80,556.58 498.20,556.19 498.60,555.84 499.00,555.53 499.40,555.26 499.80,555.02 500.20,554.81 500.60,554.63 501.00,554.47 501.40,554.33 501.80,554.20 502.20,554.09 502.60,554.00 503.00,553.91 503.40,553.84 503.80,553.77 504.20,553.72 504.60,553.67 505.00,553.62 505.40,553.58 505.80,553.55 506.20,553.52 506.60,553.49 507.00,553.47 507.40,553.45 507.80,553.43 508.20,553.41 508.60,553.40 509.00,553.39 509.40,553.38 509.80,553.37 510.20,553.36 510.60,553.35 511.00,553.35 511.40,553.34 511.80,553.34 512.20,553.33 512.60,553.33 513.00,553.32 513.40,553.32 513.80,553.32 514.20,553.32 514.60,553.31 515.00,553.31 515.40,553.31 515.80,553.31 516.20,553.31 516.60,553.31 517.00,553.31 517.40,553.31 517.80,553.31 518.20,553.30 518.60,553.30 519.00,553.30 519.40,553.30 519.80,553.30 520.20,553.30 520.60,553.30 521.00,553.30 521.40,553.30 521.80,553.30 522.20,553.30 522.60,553.30 523.00,553.30 523.40,553.30 523.80,553.30 524.20,553.30 524.60,553.30 525.00,553.30 525.40,553.30 525.80,553.30 526.20,553.30 526.60,553.30 527.00,553.30 527.40,553.30 527.80,553.30 528.20,553.30 528.60,553.30 529.00,553.30 529.40,553.30 529.80,553.30 530.20,553.30 530.60,553.30 531.00,553.30 531.40,553.30 531.80,553.30 532.20,553.30 532.60,553.30 533.00,553.30 533.40,553.30 533.80,553.30 534.20,553.30 534.60,553.30 535.00,553.30 535.40,553.30 535.80,553.30 536.20,553.30 536.60,553.30 537.00,553.30 537.40,553.30 537.80,553.30 538.20,553.30 538.60,553.30 539.00,553.30 539.40,553.30 539.80,553.30 544.20,553.30" fill="none" stroke="#1a2cf0" stroke-width="0.6" stroke-linejoin="round" />
<polyline points="496.20,560.80 496.60,559.97 497.00,559.23 497.40,558.57 497.80,557.98 498.20,557.46 498.60,557.00 499.00,556.59 499.40,556.23 499.80,555.90 500.20,555.61 500.60,555.36 501.00,555.13 501.40,554.92 501.80,554.74 502.20,554.58 502.60,554.44 503.00,554.32 503.40,554.20 503.80,554.10 504.20,554.01 504.60,553.93 505.00,553.86 505.40,553.80 505.80,553.75 506.20,553.70 506.60,553.65 507.00,553.61 507.40,553.58 507.80,553.55 508.20,553.52 508.60,553.50 509.00,553.47 509.40,553.45 509.80,553.44 510.20,553.42 510.60,553.41 511.00,553.40 511.40,553.39 511.80,553.38 512.20,553.37 512.60,553.36 513.00,553.35 513.40,553.35 513.80,553.34 514.20,553.34 514.60,553.33 515.00,553.33 515.40,553.33 515.80,553.32 516.20,553.32 516.60,553.32 517.00,553.32 517.40,553.31 517.80,553.31 518.20,553.31 518.60,553.31 519.00,553.31 519.40,553.31 519.80,553.31 520.20,553.31 520.60,553.31 521.00,553.31 521.40,553.30 521.80,553.30 522.20,553.30 522.60,553.30 523.00,553.30 523.40,553.30 523.80,553.30 524.20,553.30 524.60,553.30 525.00,553.30 525.40,553.30 525.80,553.30 526.20,553.30 526.60,553.30 527.00,553.30 527.40,553.30 527.80,553.30 528.20,553.30 528.60,553.30 529.00,553.30 529.40,553.30 529.80,553.30 530.20,553.30 530.60,553.30 531.00,553.30 531.40,553.30 531.80,553.30 532.20,553.30 532.60,553.30 533.00,553.30 533.40,553.30 533.80,553.30 534.20,553.30 534.60,553.30 535.00,553.30 535.40,553.30 535.80,553.30 536.20,553.30 536.60,553.30 537.00,553.30 537.40,553.30 537.80,553.30 538.20,553.30 538.60,553.30 539.00,553.30 539.40,553.30 539.80,553.30 544.20,553.30" fill="none" stroke="#1a2cf0" stroke-width="0.6" stroke-linejoin="round" />
<polyline points="496.20,562.80 496.60,561.83 497.00,560.95 497.40,560.17 497.80,559.46 498.20,558.83 498.60,558.27 499.00,557.76 499.40,557.30 499.80,556.89 500.20,556.52 500.60,556.19 501.00,555.90 501.40,555.63 501.80,555.39 502.20,555.18 502.60,554.98 503.00,554.81 503.40,554.66 503.80,554.52 504.20,554.39 504.60,554.28 505.00,554.18 505.40,554.09 505.80,554.01 506.20,553.94 506.60,553.87 507.00,553.81 507.40,553.76 507.80,553.71 508.20,553.67 508.60,553.63 509.00,553.60 509.40,553.57 509.80,553.54 510.20,553.52 510.60,553.49 511.00,553.47 511.40,553.46 511.80,553.44 512.20,553.43 512.60,553.41 513.00,553.40 513.40,553.39 513.80,553.38 514.20,553.37 514.60,553.37 515.00,553.36 515.40,553.35 515.80,553.35 516.20,553.34 516.60,553.34 517.00,553.33 517.40,553.33 517.80,553.33 518.20,553.32 518.60,553.32 519.00,553.32 519.40,553.32 519.80,553.32 520.20,553.31 520.60,553.31 521.00,553.31 521.40,553.31 521.80,553.31 522.20,553.31 522.60,553.31 523.00,553.31 523.40,553.31 523.80,553.31 524.20,553.30 524.60,553.30 525.00,553.30 525.40,553.30 525.80,553.30 526.20,553.30 526.60,553.30 527.00,553.30 527.40,553.30 527.80,553.30 528.20,553.30 528.60,553.30 529.00,553.30 529.40,553.30 529.80,553.30 530.20,553.30 530.60,553.30 531.00,553.30 531.40,553.30 531.80,553.30 532.20,553.30 532.60,553.30 533.00,553.30 533.40,553.30 533.80,553.30 534.20,553.30 534.60,553.30 535.00,553.30 535.40,553.30 535.80,553.30 536.20,553.30 536.60,553.30 537.00,553.30 537.40,553.30 537.80,553.30 538.20,553.30 538.60,553.30 539.00,553.30 539.40,553.30 539.80,553.30 544.20,553.30" fill="none" stroke="#1a2cf0" stroke-width="0.6" stroke-linejoin="round" />
<polyline points="496.20,564.80 496.60,563.71 497.00,562.72 497.40,561.82 497.80,561.01 498.20,560.28 498.60,559.61 499.00,559.01 499.40,558.47 499.80,557.98 500.20,557.53 500.60,557.13 501.00,556.76 501.40,556.43 501.80,556.14 502.20,555.87 502.60,555.62 503.00,555.40 503.40,555.20 503.80,555.02 504.20,554.86 504.60,554.71 505.00,554.57 505.40,554.45 505.80,554.34 506.20,554.24 506.60,554.15 507.00,554.07 507.40,554.00 507.80,553.93 508.20,553.87 508.60,553.82 509.00,553.77 509.40,553.72 509.80,553.68 510.20,553.65 510.60,553.61 511.00,553.58 511.40,553.56 511.80,553.53 512.20,553.51 512.60,553.49 513.00,553.47 513.40,553.46 513.80,553.44 514.20,553.43 514.60,553.42 515.00,553.40 515.40,553.39 515.80,553.39 516.20,553.38 516.60,553.37 517.00,553.36 517.40,553.36 517.80,553.35 518.20,553.35 518.60,553.34 519.00,553.34 519.40,553.33 519.80,553.33 520.20,553.33 520.60,553.33 521.00,553.32 521.40,553.32 521.80,553.32 522.20,553.32 522.60,553.32 523.00,553.31 523.40,553.31 523.80,553.31 524.20,553.31 524.60,553.31 525.00,553.31 525.40,553.31 525.80,553.31 526.20,553.31 526.60,553.31 527.00,553.31 527.40,553.30 527.80,553.30 528.20,553.30 528.60,553.30 529.00,553.30 529.40,553.30 529.80,553.30 530.20,553.30 530.60,553.30 531.00,553.30 531.40,553.30 531.80,553.30 532.20,553.30 532.60,553.30 533.00,553.30 533.40,553.30 533.80,553.30 534.20,553.30 534.60,553.30 535.00,553.30 535.40,553.30 535.80,553.30 536.20,553.30 536.60,553.30 537.00,553.30 537.40,553.30 537.80,553.30 538.20,553.30 538.60,553.30 539.00,553.30 539.40,553.30 539.80,553.30 544.20,553.30" fill="none" stroke="#1a2cf0" stroke-width="0.6" stroke-linejoin="round" />
<polyline points="496.20,566.80 496.60,565.60 497.00,564.51 497.40,563.51 497.80,562.61 498.20,561.78 498.60,561.03 499.00,560.34 499.40,559.71 499.80,559.14 500.20,558.63 500.60,558.15 501.00,557.72 501.40,557.33 501.80,556.97 502.20,556.64 502.60,556.35 503.00,556.08 503.40,555.83 503.80,555.61 504.20,555.40 504.60,555.21 505.00,555.04 505.40,554.89 505.80,554.75 506.20,554.62 506.60,554.50 507.00,554.40 507.40,554.30 507.80,554.21 508.20,554.13 508.60,554.06 509.00,553.99 509.40,553.93 509.80,553.87 510.20,553.82 510.60,553.77 511.00,553.73 511.40,553.69 511.80,553.66 512.20,553.63 512.60,553.60 513.00,553.57 513.40,553.55 513.80,553.53 514.20,553.51 514.60,553.49 515.00,553.47 515.40,553.46 515.80,553.44 516.20,553.43 516.60,553.42 517.00,553.41 517.40,553.40 517.80,553.39 518.20,553.38 518.60,553.37 519.00,553.37 519.40,553.36 519.80,553.36 520.20,553.35 520.60,553.35 521.00,553.34 521.40,553.34 521.80,553.34 522.20,553.33 522.60,553.33 523.00,553.33 523.40,553.32 523.80,553.32 524.20,553.32 524.60,553.32 525.00,553.32 525.40,553.32 525.80,553.31 526.20,553.31 526.60,553.31 527.00,553.31 527.40,553.31 527.80,553.31 528.20,553.31 528.60,553.31 529.00,553.31 529.40,553.31 529.80,553.31 530.20,553.30 530.60,553.30 531.00,553.30 531.40,553.30 531.80,553.30 532.20,553.30 532.60,553.30 533.00,553.30 533.40,553.30 533.80,553.30 534.20,553.30 534.60,553.30 535.00,553.30 535.40,553.30 535.80,553.30 536.20,553.30 536.60,553.30 537.00,553.30 537.40,553.30 537.80,553.30 538.20,553.30 538.60,553.30 539.00,553.30 539.40,553.30 539.80,553.30 544.20,553.30" fill="none" stroke="#1a2cf0" stroke-width="0.6" stroke-linejoin="round" />
<polyline points="496.20,568.30 496.60,567.05 497.00,565.91 497.40,564.86 497.80,563.89 498.20,563.01 498.60,562.20 499.00,561.46 499.40,560.78 499.80,560.16 500.20,559.59 500.60,559.06 501.00,558.58 501.40,558.14 501.80,557.74 502.20,557.37 502.60,557.03 503.00,556.72 503.40,556.44 503.80,556.17 504.20,555.94 504.60,555.72 505.00,555.51 505.40,555.33 505.80,555.16 506.20,555.01 506.60,554.86 507.00,554.73 507.40,554.61 507.80,554.50 508.20,554.40 508.60,554.31 509.00,554.23 509.40,554.15 509.80,554.08 510.20,554.02 510.60,553.96 511.00,553.90 511.40,553.85 511.80,553.80 512.20,553.76 512.60,553.72 513.00,553.69 513.40,553.66 513.80,553.63 514.20,553.60 514.60,553.57 515.00,553.55 515.40,553.53 515.80,553.51 516.20,553.49 516.60,553.48 517.00,553.46 517.40,553.45 517.80,553.44 518.20,553.43 518.60,553.42 519.00,553.41 519.40,553.40 519.80,553.39 520.20,553.38 520.60,553.37 521.00,553.37 521.40,553.36 521.80,553.36 522.20,553.35 522.60,553.35 523.00,553.34 523.40,553.34 523.80,553.34 524.20,553.33 524.60,553.33 525.00,553.33 525.40,553.33 525.80,553.32 526.20,553.32 526.60,553.32 527.00,553.32 527.40,553.32 527.80,553.32 528.20,553.31 528.60,553.31 529.00,553.31 529.40,553.31 529.80,553.31 530.20,553.31 530.60,553.31 531.00,553.31 531.40,553.31 531.80,553.31 532.20,553.31 532.60,553.31 533.00,553.31 533.40,553.30 533.80,553.30 534.20,553.30 534.60,553.30 535.00,553.30 535.40,553.30 535.80,553.30 536.20,553.30 536.60,553.30 537.00,553.30 537.40,553.30 537.80,553.30 538.20,553.30 538.60,553.30 539.00,553.30 539.40,553.30 539.80,553.30 544.20,553.30" fill="none" stroke="#1a2cf0" stroke-width="0.6" stroke-linejoin="round" />
<polyline points="497.20,553.42 498.40,553.18 499.60,553.26 500.80,553.10 502.00,553.42 503.19,553.37 504.39,553.14 505.59,553.32 506.79,553.35 507.99,553.34 509.19,553.24 510.39,553.20 511.59,553.23 512.78,553.55 513.98,553.22 515.18,553.30 516.38,553.28 517.58,553.14 518.78,553.25 519.98,553.15 521.18,553.21 522.37,553.23 523.57,553.22 524.77,553.52 525.97,553.20 527.17,553.22 528.37,553.38 529.57,553.25 530.77,553.31 531.96,553.37 533.16,553.09 534.36,553.39 535.56,553.10 536.76,553.18 537.96,553.45 539.16,553.54 540.36,553.39 541.55,553.14 542.75,553.27 543.95,553.19 545.15,553.47 546.35,553.17 547.55,553.15 548.75,553.37 549.95,553.37 551.14,553.34 552.34,553.29 553.54,553.53 554.74,553.28 555.94,553.52 557.14,553.25 558.34,553.28 559.54,553.23 560.73,553.41 561.93,553.43 563.13,553.17 564.33,553.31 565.53,553.41 566.73,553.30 567.93,553.38 569.13,553.36 570.32,553.41 571.52,553.23 572.72,553.20 573.92,553.06 575.12,553.50 576.32,553.44 577.52,553.25 578.72,553.53 579.91,553.50 581.11,553.13 582.31,553.47 583.51,553.26 584.71,553.21 585.91,553.18 587.11,553.26 588.31,553.08 589.50,553.08 590.70,553.11 591.90,553.20 593.10,553.13 594.30,553.11" fill="none" stroke="#1a2cf0" stroke-width="3.4" stroke-linejoin="round" />
<line x1="482.70" y1="575.80" x2="497.80" y2="575.80" stroke="#222" stroke-width="0.75"/>
<line x1="482.70" y1="578.19" x2="497.80" y2="578.19" stroke="#222" stroke-width="0.75"/>
<line x1="482.70" y1="580.57" x2="497.80" y2="580.57" stroke="#222" stroke-width="0.75"/>
<line x1="482.70" y1="582.96" x2="497.80" y2="582.96" stroke="#222" stroke-width="0.75"/>
<line x1="482.70" y1="585.34" x2="497.80" y2="585.34" stroke="#222" stroke-width="0.75"/>
<line x1="482.70" y1="587.73" x2="497.80" y2="587.73" stroke="#222" stroke-width="0.75"/>
<line x1="482.70" y1="590.11" x2="497.80" y2="590.11" stroke="#222" stroke-width="0.75"/>
<line x1="482.70" y1="592.50" x2="497.80" y2="592.50" stroke="#222" stroke-width="0.75"/>
<line x1="497.80" y1="575.50" x2="497.80" y2="597.00" stroke="#222" stroke-width="1.0"/>
<line x1="497.80" y1="597.00" x2="594.20" y2="597.00" stroke="#333" stroke-width="1.7"/>
<text x="616.85" y="601.70" font-size="8.40" text-anchor="end" fill="#222" dominant-baseline="central" textLength="29.38" lengthAdjust="spacingAndGlyphs" id="j_100mv" >-100mV</text>
<line x1="505.40" y1="524.70" x2="501.20" y2="513.20" stroke="#111" stroke-width="0.8"/>
<polygon points="501.20,513.20 503.35,515.29 500.90,516.19" fill="#111"/>
<line x1="504.50" y1="575.20" x2="499.60" y2="563.20" stroke="#111" stroke-width="0.8"/>
<polygon points="499.60,563.20 501.83,565.21 499.41,566.19" fill="#111"/>
<text transform="translate(554.42,468.20) scale(1,1.18)" font-size="9.50" text-anchor="middle" fill="#222" dominant-baseline="central" textLength="14.06" lengthAdjust="spacingAndGlyphs" id="j_wt" >WT</text>
<text transform="translate(554.20,536.67) scale(1,1.18)" font-size="9.50" text-anchor="middle" fill="#222" dominant-baseline="central" textLength="47.63" lengthAdjust="spacingAndGlyphs" id="j_ko" ><tspan font-style="italic">Shank3</tspan> KO</text>
<text transform="translate(526.37,506.55) rotate(-90)" font-size="8.40" text-anchor="middle" fill="#222" dominant-baseline="central" textLength="23.28" lengthAdjust="spacingAndGlyphs" id="j_200pa">200pA</text>
<line x1="533.60" y1="497.20" x2="533.60" y2="505.30" stroke="#222" stroke-width="0.9"/>
<line x1="536.30" y1="506.50" x2="544.40" y2="506.50" stroke="#222" stroke-width="0.9"/>
<text x="532.20" y="514.60" font-size="8.40" text-anchor="start" fill="#222" dominant-baseline="central" textLength="19.54" lengthAdjust="spacingAndGlyphs" id="j_10ms1" >10ms</text>
<text transform="translate(526.45,574.50) rotate(-90)" font-size="8.40" text-anchor="middle" fill="#222" dominant-baseline="central" textLength="21.41" lengthAdjust="spacingAndGlyphs" id="j_20mv">20mV</text>
<line x1="533.60" y1="568.10" x2="533.60" y2="572.20" stroke="#222" stroke-width="0.9"/>
<line x1="536.80" y1="577.60" x2="546.00" y2="577.60" stroke="#222" stroke-width="0.9"/>
<text x="532.60" y="583.45" font-size="8.40" text-anchor="start" fill="#222" dominant-baseline="central" textLength="19.49" lengthAdjust="spacingAndGlyphs" id="j_10ms2" >10ms</text>
<line x1="630.60" y1="488.10" x2="630.60" y2="572.40" stroke="#333" stroke-width="1"/>
<line x1="627.10" y1="488.10" x2="630.60" y2="488.10" stroke="#333" stroke-width="1"/>
<text transform="translate(626.65,487.80) scale(1,1.17)" font-size="9.80" text-anchor="end" fill="#222" dominant-baseline="central" >0</text>
<line x1="627.10" y1="509.20" x2="630.60" y2="509.20" stroke="#333" stroke-width="1"/>
<text transform="translate(626.65,508.90) scale(1,1.17)" font-size="9.80" text-anchor="end" fill="#222" dominant-baseline="central" >-200</text>
<line x1="627.10" y1="530.00" x2="630.60" y2="530.00" stroke="#333" stroke-width="1"/>
<text transform="translate(626.65,529.70) scale(1,1.17)" font-size="9.80" text-anchor="end" fill="#222" dominant-baseline="central" >-400</text>
<line x1="627.10" y1="550.90" x2="630.60" y2="550.90" stroke="#333" stroke-width="1"/>
<text transform="translate(626.65,550.60) scale(1,1.17)" font-size="9.80" text-anchor="end" fill="#222" dominant-baseline="central" >-600</text>
<line x1="627.10" y1="572.00" x2="630.60" y2="572.00" stroke="#333" stroke-width="1"/>
<text transform="translate(626.65,571.70) scale(1,1.17)" font-size="9.80" text-anchor="end" fill="#222" dominant-baseline="central" >-800</text>
<rect x="638.20" y="488.10" width="14.30" height="41.10" fill="#e0e0e0" stroke="none" stroke-width="0" />
<rect x="660.95" y="488.10" width="13.00" height="20.45" fill="#fff" stroke="#6f80f2" stroke-width="1.3" />
<line x1="630.60" y1="488.10" x2="682.60" y2="488.10" stroke="#444" stroke-width="1.2"/>
<line x1="630.60" y1="572.40" x2="682.60" y2="572.40" stroke="#555" stroke-width="1.2"/>
<line x1="645.10" y1="572.40" x2="645.10" y2="576.40" stroke="#444" stroke-width="1"/>
<line x1="667.60" y1="572.40" x2="667.60" y2="576.40" stroke="#444" stroke-width="1"/>
<line x1="645.35" y1="524.50" x2="645.35" y2="534.40" stroke="#6a6a6a" stroke-width="1"/>
<line x1="642.35" y1="524.50" x2="648.35" y2="524.50" stroke="#6a6a6a" stroke-width="1"/>
<line x1="642.35" y1="534.40" x2="648.35" y2="534.40" stroke="#6a6a6a" stroke-width="1"/>
<line x1="667.45" y1="505.30" x2="667.45" y2="512.30" stroke="#2f3cf0" stroke-width="1"/>
<line x1="664.45" y1="505.30" x2="670.45" y2="505.30" stroke="#2f3cf0" stroke-width="1"/>
<line x1="664.45" y1="512.30" x2="670.45" y2="512.30" stroke="#2f3cf0" stroke-width="1"/>
<circle cx="645.30" cy="520.60" r="1.7" fill="#7a7a7a" stroke="none" stroke-width="0"/>
<circle cx="645.30" cy="530.50" r="1.7" fill="#7a7a7a" stroke="none" stroke-width="0"/>
<circle cx="645.30" cy="537.00" r="1.7" fill="#7a7a7a" stroke="none" stroke-width="0"/>
<rect x="665.90" y="497.20" width="2.8" height="2.8" fill="#fff" stroke="#2f3cf0" stroke-width="1.0"/>
<rect x="665.90" y="507.00" width="2.8" height="2.8" fill="#fff" stroke="#2f3cf0" stroke-width="1.0"/>
<rect x="661.50" y="513.50" width="2.8" height="2.8" fill="#fff" stroke="#2f3cf0" stroke-width="1.0"/>
<rect x="670.60" y="512.20" width="2.8" height="2.8" fill="#fff" stroke="#2f3cf0" stroke-width="1.0"/>
<line x1="646.10" y1="479.70" x2="664.80" y2="479.70" stroke="#555" stroke-width="1.5"/>
<text x="655.45" y="477.00" font-size="11.50" text-anchor="middle" fill="#111" dominant-baseline="central" font-weight="bold" >*</text>
<text transform="translate(601.85,529.03) rotate(-90)" font-size="9.50" text-anchor="middle" fill="#222" dominant-baseline="central" textLength="94.25" lengthAdjust="spacingAndGlyphs" id="jb_ylab">Current at -60mV (pA)</text>
<text transform="translate(648.47,582.52) rotate(-30)" font-size="9.77" text-anchor="end" fill="#222" dominant-baseline="alphabetic" id="jb_wt">WT</text>
<text transform="translate(674.47,584.27) rotate(-30)" font-size="9.48" text-anchor="end" fill="#222" dominant-baseline="alphabetic" id="jb_ko"><tspan font-style="italic">Shank3</tspan> KO</text>
</svg></body></html>
